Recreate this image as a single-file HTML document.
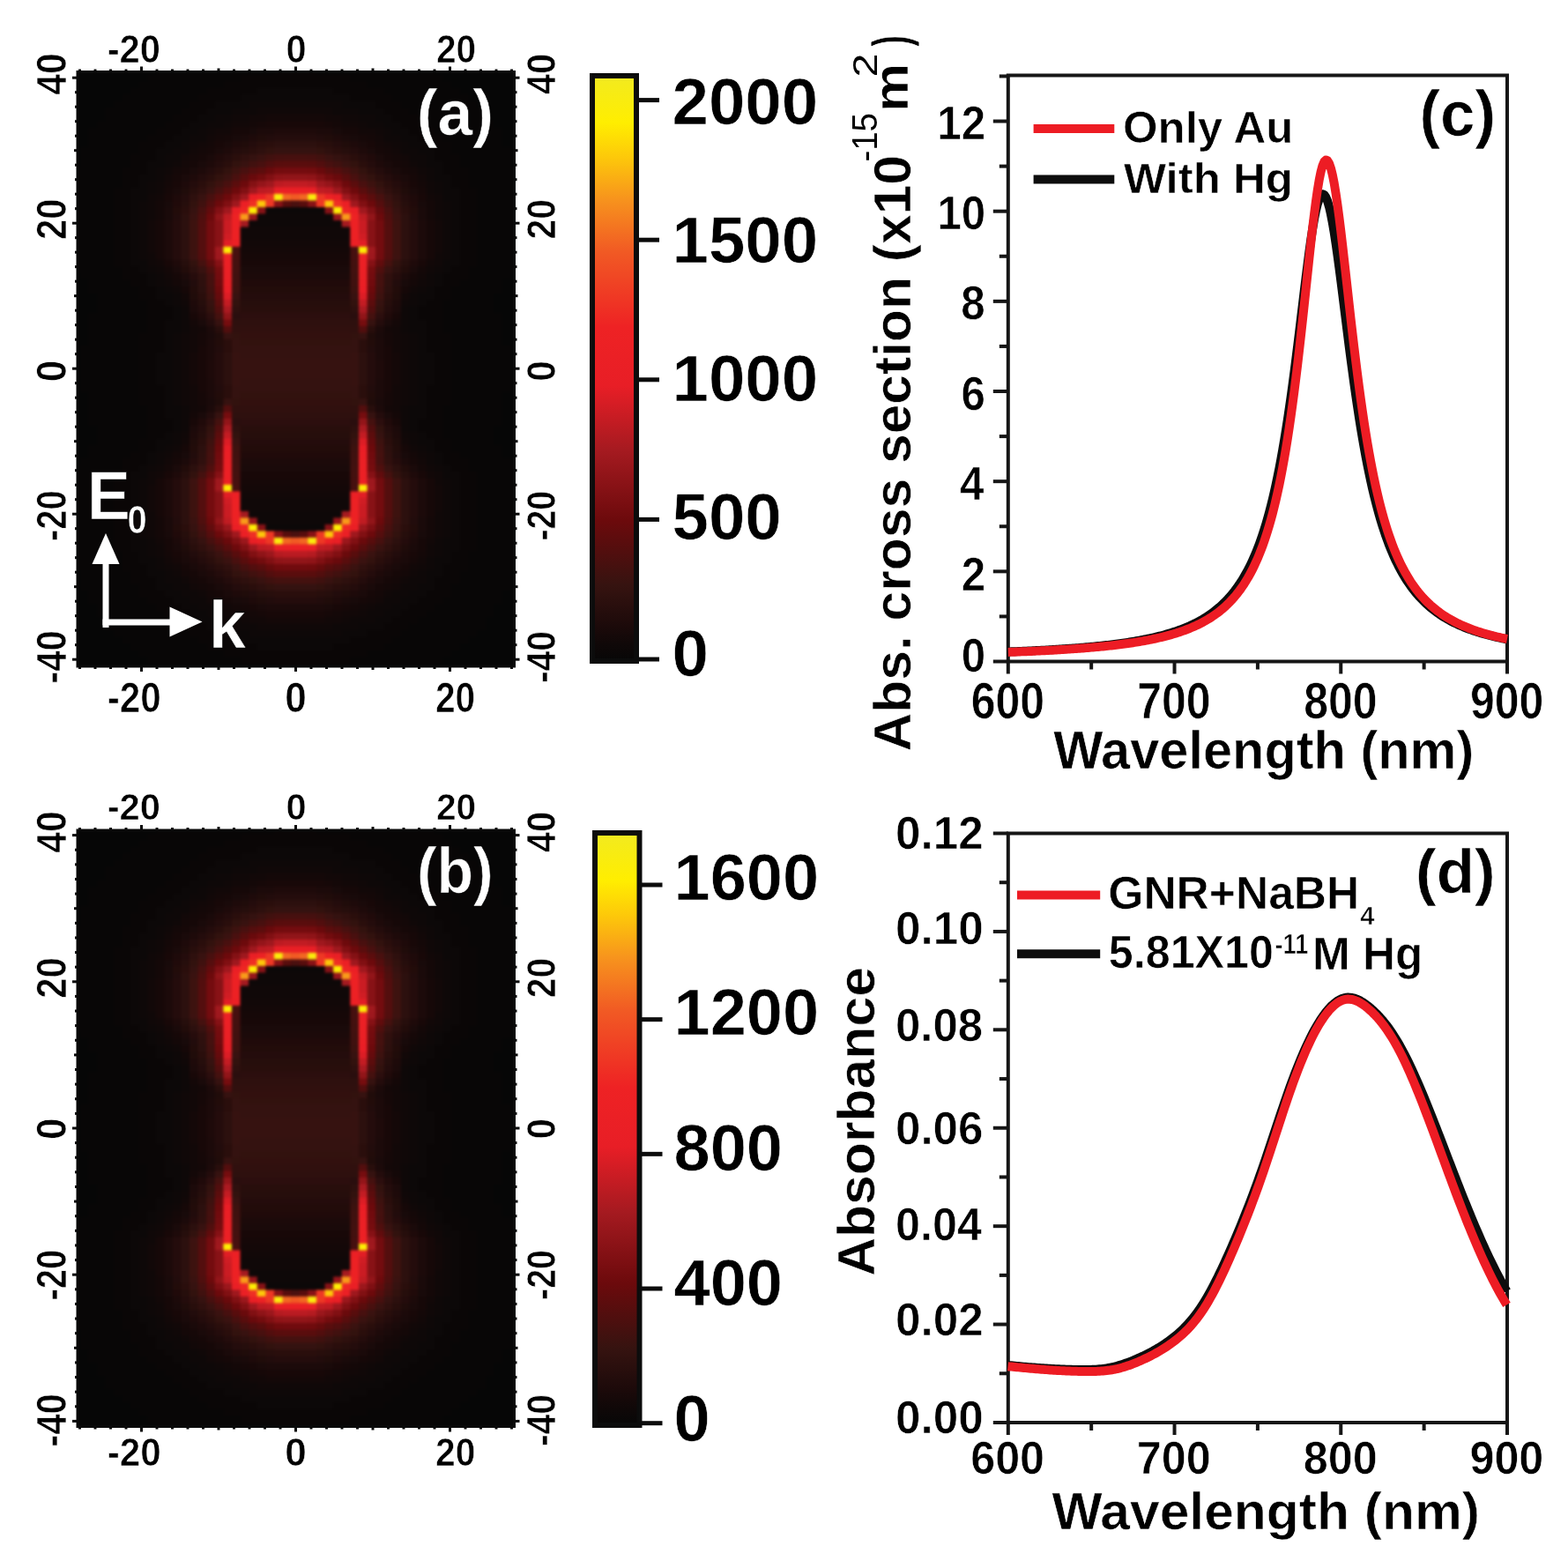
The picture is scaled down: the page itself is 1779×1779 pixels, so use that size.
<!DOCTYPE html><html><head><meta charset="utf-8"><title>Figure</title><style>html,body{margin:0;padding:0;background:#fff;width:1779px;height:1779px;overflow:hidden}svg{display:block}</style></head><body><svg width="1779" height="1779" viewBox="0 0 1779 1779" font-family="'Liberation Sans', sans-serif"><defs><filter id="hblur" x="-5%" y="-5%" width="110%" height="110%" color-interpolation-filters="sRGB"><feGaussianBlur stdDeviation="1.7"/></filter><clipPath id="clipA"><rect x="88" y="81.5" width="495.5" height="674.5"/></clipPath><clipPath id="clipB"><rect x="88" y="942" width="495.5" height="676.5"/></clipPath><linearGradient id="cb83" x1="0" y1="1" x2="0" y2="0"><stop offset="0" stop-color="#070707"/><stop offset="0.03" stop-color="#100808"/><stop offset="0.06" stop-color="#1c0a0a"/><stop offset="0.13" stop-color="#361310"/><stop offset="0.24" stop-color="#6c0a0c"/><stop offset="0.36" stop-color="#a51a20"/><stop offset="0.47" stop-color="#e81e26"/><stop offset="0.57" stop-color="#ee2224"/><stop offset="0.7" stop-color="#f15a24"/><stop offset="0.79" stop-color="#f7941d"/><stop offset="0.86" stop-color="#fdc80a"/><stop offset="0.92" stop-color="#ffee00"/><stop offset="1" stop-color="#f2ea20"/></linearGradient><linearGradient id="cb942" x1="0" y1="1" x2="0" y2="0"><stop offset="0" stop-color="#070707"/><stop offset="0.03" stop-color="#100808"/><stop offset="0.06" stop-color="#1c0a0a"/><stop offset="0.13" stop-color="#361310"/><stop offset="0.24" stop-color="#6c0a0c"/><stop offset="0.36" stop-color="#a51a20"/><stop offset="0.47" stop-color="#e81e26"/><stop offset="0.57" stop-color="#ee2224"/><stop offset="0.7" stop-color="#f15a24"/><stop offset="0.79" stop-color="#f7941d"/><stop offset="0.86" stop-color="#fdc80a"/><stop offset="0.92" stop-color="#ffee00"/><stop offset="1" stop-color="#f2ea20"/></linearGradient></defs><rect width="1779" height="1779" fill="#fff"/><g clip-path="url(#clipA)"><rect x="88" y="81.5" width="495.5" height="674.5" fill="#070707"/><g transform="translate(335.25 419)"><g filter="url(#hblur)" fill="none" stroke-width="8.10"><g transform="translate(0 -345.00)"><path d="M-264.3 0h115.8" stroke="#060606"/><path d="M-149.1 0h298.2" stroke="#080606"/><path d="M148.5 0h115.8" stroke="#060606"/></g><g transform="translate(0 -337.50)"><path d="M-264.3 0h106.2" stroke="#060606"/><path d="M-158.7 0h135.0" stroke="#080606"/><path d="M-24.3 0h48.6" stroke="#0a0606"/><path d="M23.7 0h135.0" stroke="#080606"/><path d="M158.1 0h106.2" stroke="#060606"/></g><g transform="translate(0 -330.00)"><path d="M-264.3 0h96.6" stroke="#060606"/><path d="M-168.3 0h106.2" stroke="#080606"/><path d="M-62.7 0h125.4" stroke="#0a0606"/><path d="M62.1 0h106.2" stroke="#080606"/><path d="M167.7 0h96.6" stroke="#060606"/></g><g transform="translate(0 -322.50)"><path d="M-264.3 0h87.0" stroke="#060606"/><path d="M-177.9 0h96.6" stroke="#080606"/><path d="M-81.9 0h163.8" stroke="#0a0606"/><path d="M81.3 0h96.6" stroke="#080606"/><path d="M177.3 0h87.0" stroke="#060606"/></g><g transform="translate(0 -315.00)"><path d="M-264.3 0h77.4" stroke="#060606"/><path d="M-187.5 0h87.0" stroke="#080606"/><path d="M-101.1 0h58.2" stroke="#0a0606"/><path d="M-43.5 0h87.0" stroke="#0c0808"/><path d="M42.9 0h58.2" stroke="#0a0606"/><path d="M100.5 0h87.0" stroke="#080606"/><path d="M186.9 0h77.4" stroke="#060606"/></g><g transform="translate(0 -307.50)"><path d="M-264.3 0h67.8" stroke="#060606"/><path d="M-197.1 0h87.0" stroke="#080606"/><path d="M-110.7 0h48.6" stroke="#0a0606"/><path d="M-62.7 0h125.4" stroke="#0c0808"/><path d="M62.1 0h48.6" stroke="#0a0606"/><path d="M110.1 0h87.0" stroke="#080606"/><path d="M196.5 0h67.8" stroke="#060606"/></g><g transform="translate(0 -300.00)"><path d="M-264.3 0h58.2" stroke="#060606"/><path d="M-206.7 0h87.0" stroke="#080606"/><path d="M-120.3 0h29.4" stroke="#0a0606"/><path d="M-91.5 0h39.0" stroke="#0c0808"/><path d="M-53.1 0h106.2" stroke="#0e0808"/><path d="M52.5 0h39.0" stroke="#0c0808"/><path d="M90.9 0h29.4" stroke="#0a0606"/><path d="M119.7 0h87.0" stroke="#080606"/><path d="M206.1 0h58.2" stroke="#060606"/></g><g transform="translate(0 -292.50)"><path d="M-264.3 0h48.6" stroke="#060606"/><path d="M-216.3 0h87.0" stroke="#080606"/><path d="M-129.9 0h29.4" stroke="#0a0606"/><path d="M-101.1 0h29.4" stroke="#0c0808"/><path d="M-72.3 0h29.4" stroke="#0e0808"/><path d="M-43.5 0h87.0" stroke="#100808"/><path d="M42.9 0h29.4" stroke="#0e0808"/><path d="M71.7 0h29.4" stroke="#0c0808"/><path d="M100.5 0h29.4" stroke="#0a0606"/><path d="M129.3 0h87.0" stroke="#080606"/><path d="M215.7 0h48.6" stroke="#060606"/></g><g transform="translate(0 -285.00)"><path d="M-264.3 0h48.6" stroke="#060606"/><path d="M-216.3 0h77.4" stroke="#080606"/><path d="M-139.5 0h29.4" stroke="#0a0606"/><path d="M-110.7 0h19.8" stroke="#0c0808"/><path d="M-91.5 0h19.8" stroke="#0e0808"/><path d="M-72.3 0h19.8" stroke="#100808"/><path d="M-53.1 0h19.8" stroke="#120808"/><path d="M-33.9 0h67.8" stroke="#140808"/><path d="M33.3 0h19.8" stroke="#120808"/><path d="M52.5 0h19.8" stroke="#100808"/><path d="M71.7 0h19.8" stroke="#0e0808"/><path d="M90.9 0h19.8" stroke="#0c0808"/><path d="M110.1 0h29.4" stroke="#0a0606"/><path d="M138.9 0h77.4" stroke="#080606"/><path d="M215.7 0h48.6" stroke="#060606"/></g><g transform="translate(0 -277.50)"><path d="M-264.3 0h39.0" stroke="#060606"/><path d="M-225.9 0h77.4" stroke="#080606"/><path d="M-149.1 0h29.4" stroke="#0a0606"/><path d="M-120.3 0h19.8" stroke="#0c0808"/><path d="M-101.1 0h19.8" stroke="#0e0808"/><path d="M-81.9 0h10.2" stroke="#100808"/><path d="M-72.3 0h19.8" stroke="#120808"/><path d="M-53.1 0h10.2" stroke="#140808"/><path d="M-43.5 0h10.2" stroke="#160808"/><path d="M-33.9 0h67.8" stroke="#180808"/><path d="M33.3 0h10.2" stroke="#160808"/><path d="M42.9 0h10.2" stroke="#140808"/><path d="M52.5 0h19.8" stroke="#120808"/><path d="M71.7 0h10.2" stroke="#100808"/><path d="M81.3 0h19.8" stroke="#0e0808"/><path d="M100.5 0h19.8" stroke="#0c0808"/><path d="M119.7 0h29.4" stroke="#0a0606"/><path d="M148.5 0h77.4" stroke="#080606"/><path d="M225.3 0h39.0" stroke="#060606"/></g><g transform="translate(0 -270.00)"><path d="M-264.3 0h29.4" stroke="#060606"/><path d="M-235.5 0h77.4" stroke="#080606"/><path d="M-158.7 0h29.4" stroke="#0a0606"/><path d="M-129.9 0h19.8" stroke="#0c0808"/><path d="M-110.7 0h10.2" stroke="#0e0808"/><path d="M-101.1 0h10.2" stroke="#100808"/><path d="M-91.5 0h19.8" stroke="#120808"/><path d="M-72.3 0h19.8" stroke="#160808"/><path d="M-53.1 0h10.2" stroke="#180a0a"/><path d="M-43.5 0h19.8" stroke="#1c0a0a"/><path d="M-24.3 0h48.6" stroke="#1e0a0a"/><path d="M23.7 0h19.8" stroke="#1c0a0a"/><path d="M42.9 0h10.2" stroke="#180a0a"/><path d="M52.5 0h19.8" stroke="#160808"/><path d="M71.7 0h19.8" stroke="#120808"/><path d="M90.9 0h10.2" stroke="#100808"/><path d="M100.5 0h10.2" stroke="#0e0808"/><path d="M110.1 0h19.8" stroke="#0c0808"/><path d="M129.3 0h29.4" stroke="#0a0606"/><path d="M158.1 0h77.4" stroke="#080606"/><path d="M234.9 0h29.4" stroke="#060606"/></g><g transform="translate(0 -262.50)"><path d="M-264.3 0h29.4" stroke="#060606"/><path d="M-235.5 0h67.8" stroke="#080606"/><path d="M-168.3 0h29.4" stroke="#0a0606"/><path d="M-139.5 0h19.8" stroke="#0c0808"/><path d="M-120.3 0h19.8" stroke="#0e0808"/><path d="M-101.1 0h10.2" stroke="#120808"/><path d="M-91.5 0h10.2" stroke="#140808"/><path d="M-81.9 0h10.2" stroke="#160808"/><path d="M-72.3 0h10.2" stroke="#180a0a"/><path d="M-62.7 0h10.2" stroke="#1a0a0a"/><path d="M-53.1 0h10.2" stroke="#1e0a0a"/><path d="M-43.5 0h10.2" stroke="#200c0a"/><path d="M-33.9 0h10.2" stroke="#220c0c"/><path d="M-24.3 0h48.6" stroke="#240c0c"/><path d="M23.7 0h10.2" stroke="#220c0c"/><path d="M33.3 0h10.2" stroke="#200c0a"/><path d="M42.9 0h10.2" stroke="#1e0a0a"/><path d="M52.5 0h10.2" stroke="#1a0a0a"/><path d="M62.1 0h10.2" stroke="#180a0a"/><path d="M71.7 0h10.2" stroke="#160808"/><path d="M81.3 0h10.2" stroke="#140808"/><path d="M90.9 0h10.2" stroke="#120808"/><path d="M100.5 0h19.8" stroke="#0e0808"/><path d="M119.7 0h19.8" stroke="#0c0808"/><path d="M138.9 0h29.4" stroke="#0a0606"/><path d="M167.7 0h67.8" stroke="#080606"/><path d="M234.9 0h29.4" stroke="#060606"/></g><g transform="translate(0 -255.00)"><path d="M-264.3 0h29.4" stroke="#060606"/><path d="M-235.5 0h58.2" stroke="#080606"/><path d="M-177.9 0h29.4" stroke="#0a0606"/><path d="M-149.1 0h19.8" stroke="#0c0808"/><path d="M-129.9 0h10.2" stroke="#0e0808"/><path d="M-120.3 0h10.2" stroke="#100808"/><path d="M-110.7 0h10.2" stroke="#120808"/><path d="M-101.1 0h10.2" stroke="#140808"/><path d="M-91.5 0h10.2" stroke="#180808"/><path d="M-81.9 0h10.2" stroke="#1a0a0a"/><path d="M-72.3 0h10.2" stroke="#1e0a0a"/><path d="M-62.7 0h10.2" stroke="#200c0a"/><path d="M-53.1 0h10.2" stroke="#240c0c"/><path d="M-43.5 0h10.2" stroke="#280e0c"/><path d="M-33.9 0h10.2" stroke="#2a0e0c"/><path d="M-24.3 0h48.6" stroke="#2c100e"/><path d="M23.7 0h10.2" stroke="#2a0e0c"/><path d="M33.3 0h10.2" stroke="#280e0c"/><path d="M42.9 0h10.2" stroke="#240c0c"/><path d="M52.5 0h10.2" stroke="#200c0a"/><path d="M62.1 0h10.2" stroke="#1e0a0a"/><path d="M71.7 0h10.2" stroke="#1a0a0a"/><path d="M81.3 0h10.2" stroke="#180808"/><path d="M90.9 0h10.2" stroke="#140808"/><path d="M100.5 0h10.2" stroke="#120808"/><path d="M110.1 0h10.2" stroke="#100808"/><path d="M119.7 0h10.2" stroke="#0e0808"/><path d="M129.3 0h19.8" stroke="#0c0808"/><path d="M148.5 0h29.4" stroke="#0a0606"/><path d="M177.3 0h58.2" stroke="#080606"/><path d="M234.9 0h29.4" stroke="#060606"/></g><g transform="translate(0 -247.50)"><path d="M-264.3 0h19.8" stroke="#060606"/><path d="M-245.1 0h67.8" stroke="#080606"/><path d="M-177.9 0h19.8" stroke="#0a0606"/><path d="M-158.7 0h19.8" stroke="#0c0808"/><path d="M-139.5 0h19.8" stroke="#0e0808"/><path d="M-120.3 0h10.2" stroke="#120808"/><path d="M-110.7 0h10.2" stroke="#140808"/><path d="M-101.1 0h10.2" stroke="#160808"/><path d="M-91.5 0h10.2" stroke="#1a0a0a"/><path d="M-81.9 0h10.2" stroke="#1e0a0a"/><path d="M-72.3 0h10.2" stroke="#240c0c"/><path d="M-62.7 0h10.2" stroke="#260e0c"/><path d="M-53.1 0h10.2" stroke="#2a0e0c"/><path d="M-43.5 0h10.2" stroke="#2e100e"/><path d="M-33.9 0h10.2" stroke="#32120e"/><path d="M-24.3 0h48.6" stroke="#341210"/><path d="M23.7 0h10.2" stroke="#32120e"/><path d="M33.3 0h10.2" stroke="#2e100e"/><path d="M42.9 0h10.2" stroke="#2a0e0c"/><path d="M52.5 0h10.2" stroke="#260e0c"/><path d="M62.1 0h10.2" stroke="#240c0c"/><path d="M71.7 0h10.2" stroke="#1e0a0a"/><path d="M81.3 0h10.2" stroke="#1a0a0a"/><path d="M90.9 0h10.2" stroke="#160808"/><path d="M100.5 0h10.2" stroke="#140808"/><path d="M110.1 0h10.2" stroke="#120808"/><path d="M119.7 0h19.8" stroke="#0e0808"/><path d="M138.9 0h19.8" stroke="#0c0808"/><path d="M158.1 0h19.8" stroke="#0a0606"/><path d="M177.3 0h67.8" stroke="#080606"/><path d="M244.5 0h19.8" stroke="#060606"/></g><g transform="translate(0 -240.00)"><path d="M-264.3 0h19.8" stroke="#060606"/><path d="M-245.1 0h58.2" stroke="#080606"/><path d="M-187.5 0h29.4" stroke="#0a0606"/><path d="M-158.7 0h10.2" stroke="#0c0808"/><path d="M-149.1 0h19.8" stroke="#0e0808"/><path d="M-129.9 0h10.2" stroke="#120808"/><path d="M-120.3 0h10.2" stroke="#140808"/><path d="M-110.7 0h10.2" stroke="#160808"/><path d="M-101.1 0h10.2" stroke="#1a0a0a"/><path d="M-91.5 0h10.2" stroke="#200a0a"/><path d="M-81.9 0h10.2" stroke="#240c0c"/><path d="M-72.3 0h10.2" stroke="#2a0e0c"/><path d="M-62.7 0h10.2" stroke="#30100e"/><path d="M-53.1 0h10.2" stroke="#341210"/><path d="M-43.5 0h10.2" stroke="#3a1210"/><path d="M-33.9 0h10.2" stroke="#41110f"/><path d="M-24.3 0h10.2" stroke="#46100f"/><path d="M-14.7 0h29.4" stroke="#47100f"/><path d="M14.1 0h10.2" stroke="#46100f"/><path d="M23.7 0h10.2" stroke="#41110f"/><path d="M33.3 0h10.2" stroke="#3a1210"/><path d="M42.9 0h10.2" stroke="#341210"/><path d="M52.5 0h10.2" stroke="#30100e"/><path d="M62.1 0h10.2" stroke="#2a0e0c"/><path d="M71.7 0h10.2" stroke="#240c0c"/><path d="M81.3 0h10.2" stroke="#200a0a"/><path d="M90.9 0h10.2" stroke="#1a0a0a"/><path d="M100.5 0h10.2" stroke="#160808"/><path d="M110.1 0h10.2" stroke="#140808"/><path d="M119.7 0h10.2" stroke="#120808"/><path d="M129.3 0h19.8" stroke="#0e0808"/><path d="M148.5 0h10.2" stroke="#0c0808"/><path d="M158.1 0h29.4" stroke="#0a0606"/><path d="M186.9 0h58.2" stroke="#080606"/><path d="M244.5 0h19.8" stroke="#060606"/></g><g transform="translate(0 -232.50)"><path d="M-264.3 0h19.8" stroke="#060606"/><path d="M-245.1 0h58.2" stroke="#080606"/><path d="M-187.5 0h19.8" stroke="#0a0606"/><path d="M-168.3 0h19.8" stroke="#0c0808"/><path d="M-149.1 0h10.2" stroke="#0e0808"/><path d="M-139.5 0h10.2" stroke="#100808"/><path d="M-129.9 0h10.2" stroke="#140808"/><path d="M-120.3 0h10.2" stroke="#160808"/><path d="M-110.7 0h10.2" stroke="#1a0a0a"/><path d="M-101.1 0h10.2" stroke="#1e0a0a"/><path d="M-91.5 0h10.2" stroke="#240c0c"/><path d="M-81.9 0h10.2" stroke="#2a0e0c"/><path d="M-72.3 0h10.2" stroke="#32120e"/><path d="M-62.7 0h10.2" stroke="#381210"/><path d="M-53.1 0h10.2" stroke="#41110f"/><path d="M-43.5 0h10.2" stroke="#48100f"/><path d="M-33.9 0h10.2" stroke="#520e0e"/><path d="M-24.3 0h10.2" stroke="#590d0d"/><path d="M-14.7 0h29.4" stroke="#5a0d0d"/><path d="M14.1 0h10.2" stroke="#590d0d"/><path d="M23.7 0h10.2" stroke="#520e0e"/><path d="M33.3 0h10.2" stroke="#48100f"/><path d="M42.9 0h10.2" stroke="#41110f"/><path d="M52.5 0h10.2" stroke="#381210"/><path d="M62.1 0h10.2" stroke="#32120e"/><path d="M71.7 0h10.2" stroke="#2a0e0c"/><path d="M81.3 0h10.2" stroke="#240c0c"/><path d="M90.9 0h10.2" stroke="#1e0a0a"/><path d="M100.5 0h10.2" stroke="#1a0a0a"/><path d="M110.1 0h10.2" stroke="#160808"/><path d="M119.7 0h10.2" stroke="#140808"/><path d="M129.3 0h10.2" stroke="#100808"/><path d="M138.9 0h10.2" stroke="#0e0808"/><path d="M148.5 0h19.8" stroke="#0c0808"/><path d="M167.7 0h19.8" stroke="#0a0606"/><path d="M186.9 0h58.2" stroke="#080606"/><path d="M244.5 0h19.8" stroke="#060606"/></g><g transform="translate(0 -225.00)"><path d="M-264.3 0h10.2" stroke="#060606"/><path d="M-254.7 0h58.2" stroke="#080606"/><path d="M-197.1 0h29.4" stroke="#0a0606"/><path d="M-168.3 0h10.2" stroke="#0c0808"/><path d="M-158.7 0h10.2" stroke="#0e0808"/><path d="M-149.1 0h10.2" stroke="#100808"/><path d="M-139.5 0h10.2" stroke="#140808"/><path d="M-129.9 0h10.2" stroke="#160808"/><path d="M-120.3 0h10.2" stroke="#1a0a0a"/><path d="M-110.7 0h10.2" stroke="#1e0a0a"/><path d="M-101.1 0h10.2" stroke="#240c0c"/><path d="M-91.5 0h10.2" stroke="#2a0e0c"/><path d="M-81.9 0h10.2" stroke="#32120e"/><path d="M-72.3 0h10.2" stroke="#3d120f"/><path d="M-62.7 0h10.2" stroke="#49100f"/><path d="M-53.1 0h10.2" stroke="#550e0e"/><path d="M-43.5 0h10.2" stroke="#5c0d0d"/><path d="M-33.9 0h10.2" stroke="#690a0c"/><path d="M-24.3 0h10.2" stroke="#730c0e"/><path d="M-14.7 0h29.4" stroke="#740c0f"/><path d="M14.1 0h10.2" stroke="#730c0e"/><path d="M23.7 0h10.2" stroke="#690a0c"/><path d="M33.3 0h10.2" stroke="#5c0d0d"/><path d="M42.9 0h10.2" stroke="#550e0e"/><path d="M52.5 0h10.2" stroke="#49100f"/><path d="M62.1 0h10.2" stroke="#3d120f"/><path d="M71.7 0h10.2" stroke="#32120e"/><path d="M81.3 0h10.2" stroke="#2a0e0c"/><path d="M90.9 0h10.2" stroke="#240c0c"/><path d="M100.5 0h10.2" stroke="#1e0a0a"/><path d="M110.1 0h10.2" stroke="#1a0a0a"/><path d="M119.7 0h10.2" stroke="#160808"/><path d="M129.3 0h10.2" stroke="#140808"/><path d="M138.9 0h10.2" stroke="#100808"/><path d="M148.5 0h10.2" stroke="#0e0808"/><path d="M158.1 0h10.2" stroke="#0c0808"/><path d="M167.7 0h29.4" stroke="#0a0606"/><path d="M196.5 0h58.2" stroke="#080606"/><path d="M254.1 0h10.2" stroke="#060606"/></g><g transform="translate(0 -217.50)"><path d="M-264.3 0h10.2" stroke="#060606"/><path d="M-254.7 0h58.2" stroke="#080606"/><path d="M-197.1 0h19.8" stroke="#0a0606"/><path d="M-177.9 0h19.8" stroke="#0c0808"/><path d="M-158.7 0h10.2" stroke="#0e0808"/><path d="M-149.1 0h10.2" stroke="#120808"/><path d="M-139.5 0h10.2" stroke="#160808"/><path d="M-129.9 0h10.2" stroke="#1a0a0a"/><path d="M-120.3 0h10.2" stroke="#1e0a0a"/><path d="M-110.7 0h10.2" stroke="#240c0c"/><path d="M-101.1 0h10.2" stroke="#2a0e0c"/><path d="M-91.5 0h10.2" stroke="#32120e"/><path d="M-81.9 0h10.2" stroke="#3a1210"/><path d="M-72.3 0h10.2" stroke="#49100f"/><path d="M-62.7 0h10.2" stroke="#590d0d"/><path d="M-53.1 0h10.2" stroke="#690a0c"/><path d="M-43.5 0h10.2" stroke="#730c0e"/><path d="M-33.9 0h10.2" stroke="#811013"/><path d="M-24.3 0h10.2" stroke="#8f1418"/><path d="M-14.7 0h29.4" stroke="#911519"/><path d="M14.1 0h10.2" stroke="#8f1418"/><path d="M23.7 0h10.2" stroke="#811013"/><path d="M33.3 0h10.2" stroke="#730c0e"/><path d="M42.9 0h10.2" stroke="#690a0c"/><path d="M52.5 0h10.2" stroke="#590d0d"/><path d="M62.1 0h10.2" stroke="#49100f"/><path d="M71.7 0h10.2" stroke="#3a1210"/><path d="M81.3 0h10.2" stroke="#32120e"/><path d="M90.9 0h10.2" stroke="#2a0e0c"/><path d="M100.5 0h10.2" stroke="#240c0c"/><path d="M110.1 0h10.2" stroke="#1e0a0a"/><path d="M119.7 0h10.2" stroke="#1a0a0a"/><path d="M129.3 0h10.2" stroke="#160808"/><path d="M138.9 0h10.2" stroke="#120808"/><path d="M148.5 0h10.2" stroke="#0e0808"/><path d="M158.1 0h19.8" stroke="#0c0808"/><path d="M177.3 0h19.8" stroke="#0a0606"/><path d="M196.5 0h58.2" stroke="#080606"/><path d="M254.1 0h10.2" stroke="#060606"/></g><g transform="translate(0 -210.00)"><path d="M-264.3 0h10.2" stroke="#060606"/><path d="M-254.7 0h58.2" stroke="#080606"/><path d="M-197.1 0h19.8" stroke="#0a0606"/><path d="M-177.9 0h10.2" stroke="#0c0808"/><path d="M-168.3 0h10.2" stroke="#0e0808"/><path d="M-158.7 0h10.2" stroke="#100808"/><path d="M-149.1 0h10.2" stroke="#140808"/><path d="M-139.5 0h10.2" stroke="#180808"/><path d="M-129.9 0h10.2" stroke="#1e0a0a"/><path d="M-120.3 0h10.2" stroke="#240c0c"/><path d="M-110.7 0h10.2" stroke="#2a0e0c"/><path d="M-101.1 0h10.2" stroke="#32120e"/><path d="M-91.5 0h10.2" stroke="#3d120f"/><path d="M-81.9 0h10.2" stroke="#49100f"/><path d="M-72.3 0h10.2" stroke="#5b0d0d"/><path d="M-62.7 0h10.2" stroke="#6d0a0c"/><path d="M-53.1 0h10.2" stroke="#841114"/><path d="M-43.5 0h10.2" stroke="#94151a"/><path d="M-33.9 0h10.2" stroke="#9f181e"/><path d="M-24.3 0h10.2" stroke="#bc1b22"/><path d="M-14.7 0h29.4" stroke="#c11c23"/><path d="M14.1 0h10.2" stroke="#bc1b22"/><path d="M23.7 0h10.2" stroke="#9f181e"/><path d="M33.3 0h10.2" stroke="#94151a"/><path d="M42.9 0h10.2" stroke="#841114"/><path d="M52.5 0h10.2" stroke="#6d0a0c"/><path d="M62.1 0h10.2" stroke="#5b0d0d"/><path d="M71.7 0h10.2" stroke="#49100f"/><path d="M81.3 0h10.2" stroke="#3d120f"/><path d="M90.9 0h10.2" stroke="#32120e"/><path d="M100.5 0h10.2" stroke="#2a0e0c"/><path d="M110.1 0h10.2" stroke="#240c0c"/><path d="M119.7 0h10.2" stroke="#1e0a0a"/><path d="M129.3 0h10.2" stroke="#180808"/><path d="M138.9 0h10.2" stroke="#140808"/><path d="M148.5 0h10.2" stroke="#100808"/><path d="M158.1 0h10.2" stroke="#0e0808"/><path d="M167.7 0h10.2" stroke="#0c0808"/><path d="M177.3 0h19.8" stroke="#0a0606"/><path d="M196.5 0h58.2" stroke="#080606"/><path d="M254.1 0h10.2" stroke="#060606"/></g><g transform="translate(0 -202.50)"><path d="M-264.3 0h10.2" stroke="#060606"/><path d="M-254.7 0h48.6" stroke="#080606"/><path d="M-206.7 0h19.8" stroke="#0a0606"/><path d="M-187.5 0h19.8" stroke="#0c0808"/><path d="M-168.3 0h10.2" stroke="#0e0808"/><path d="M-158.7 0h10.2" stroke="#100808"/><path d="M-149.1 0h10.2" stroke="#160808"/><path d="M-139.5 0h10.2" stroke="#1a0a0a"/><path d="M-129.9 0h10.2" stroke="#200c0a"/><path d="M-120.3 0h10.2" stroke="#280e0c"/><path d="M-110.7 0h10.2" stroke="#30100e"/><path d="M-101.1 0h10.2" stroke="#3a1210"/><path d="M-91.5 0h10.2" stroke="#49100f"/><path d="M-81.9 0h10.2" stroke="#590d0d"/><path d="M-72.3 0h10.2" stroke="#6d0a0c"/><path d="M-62.7 0h10.2" stroke="#811013"/><path d="M-53.1 0h10.2" stroke="#9f181e"/><path d="M-43.5 0h10.2" stroke="#bc1b22"/><path d="M-33.9 0h10.2" stroke="#c11c23"/><path d="M-24.3 0h10.2" stroke="#e91f26"/><path d="M-14.7 0h29.4" stroke="#ea1f25"/><path d="M14.1 0h10.2" stroke="#e91f26"/><path d="M23.7 0h10.2" stroke="#c11c23"/><path d="M33.3 0h10.2" stroke="#bc1b22"/><path d="M42.9 0h10.2" stroke="#9f181e"/><path d="M52.5 0h10.2" stroke="#811013"/><path d="M62.1 0h10.2" stroke="#6d0a0c"/><path d="M71.7 0h10.2" stroke="#590d0d"/><path d="M81.3 0h10.2" stroke="#49100f"/><path d="M90.9 0h10.2" stroke="#3a1210"/><path d="M100.5 0h10.2" stroke="#30100e"/><path d="M110.1 0h10.2" stroke="#280e0c"/><path d="M119.7 0h10.2" stroke="#200c0a"/><path d="M129.3 0h10.2" stroke="#1a0a0a"/><path d="M138.9 0h10.2" stroke="#160808"/><path d="M148.5 0h10.2" stroke="#100808"/><path d="M158.1 0h10.2" stroke="#0e0808"/><path d="M167.7 0h19.8" stroke="#0c0808"/><path d="M186.9 0h19.8" stroke="#0a0606"/><path d="M206.1 0h48.6" stroke="#080606"/><path d="M254.1 0h10.2" stroke="#060606"/></g><g transform="translate(0 -195.00)"><path d="M-264.3 0h58.2" stroke="#080606"/><path d="M-206.7 0h19.8" stroke="#0a0606"/><path d="M-187.5 0h19.8" stroke="#0c0808"/><path d="M-168.3 0h10.2" stroke="#100808"/><path d="M-158.7 0h10.2" stroke="#120808"/><path d="M-149.1 0h10.2" stroke="#180808"/><path d="M-139.5 0h10.2" stroke="#1e0a0a"/><path d="M-129.9 0h10.2" stroke="#240c0c"/><path d="M-120.3 0h10.2" stroke="#2e100e"/><path d="M-110.7 0h10.2" stroke="#381210"/><path d="M-101.1 0h10.2" stroke="#49100f"/><path d="M-91.5 0h10.2" stroke="#5b0d0d"/><path d="M-81.9 0h10.2" stroke="#6d0a0c"/><path d="M-72.3 0h10.2" stroke="#841114"/><path d="M-62.7 0h10.2" stroke="#9f181e"/><path d="M-53.1 0h10.2" stroke="#ea1f25"/><path d="M-43.5 0h10.2" stroke="#ed2224"/><path d="M-33.9 0h10.2" stroke="#ef3824"/><path d="M-24.3 0h10.2" stroke="#faec0c"/><path d="M-14.7 0h10.2" stroke="#f26722"/><path d="M-5.1 0h10.2" stroke="#f15a24"/><path d="M4.5 0h10.2" stroke="#f26722"/><path d="M14.1 0h10.2" stroke="#faec0c"/><path d="M23.7 0h10.2" stroke="#ef3824"/><path d="M33.3 0h10.2" stroke="#ed2224"/><path d="M42.9 0h10.2" stroke="#ea1f25"/><path d="M52.5 0h10.2" stroke="#9f181e"/><path d="M62.1 0h10.2" stroke="#841114"/><path d="M71.7 0h10.2" stroke="#6d0a0c"/><path d="M81.3 0h10.2" stroke="#5b0d0d"/><path d="M90.9 0h10.2" stroke="#49100f"/><path d="M100.5 0h10.2" stroke="#381210"/><path d="M110.1 0h10.2" stroke="#2e100e"/><path d="M119.7 0h10.2" stroke="#240c0c"/><path d="M129.3 0h10.2" stroke="#1e0a0a"/><path d="M138.9 0h10.2" stroke="#180808"/><path d="M148.5 0h10.2" stroke="#120808"/><path d="M158.1 0h10.2" stroke="#100808"/><path d="M167.7 0h19.8" stroke="#0c0808"/><path d="M186.9 0h19.8" stroke="#0a0606"/><path d="M206.1 0h58.2" stroke="#080606"/></g><g transform="translate(0 -187.50)"><path d="M-264.3 0h58.2" stroke="#080606"/><path d="M-206.7 0h19.8" stroke="#0a0606"/><path d="M-187.5 0h10.2" stroke="#0c0808"/><path d="M-177.9 0h10.2" stroke="#0e0808"/><path d="M-168.3 0h10.2" stroke="#100808"/><path d="M-158.7 0h10.2" stroke="#140808"/><path d="M-149.1 0h10.2" stroke="#180a0a"/><path d="M-139.5 0h10.2" stroke="#200a0a"/><path d="M-129.9 0h10.2" stroke="#260e0c"/><path d="M-120.3 0h10.2" stroke="#32120e"/><path d="M-110.7 0h10.2" stroke="#40110f"/><path d="M-101.1 0h10.2" stroke="#550e0e"/><path d="M-91.5 0h10.2" stroke="#6d0a0c"/><path d="M-81.9 0h10.2" stroke="#811013"/><path d="M-72.3 0h10.2" stroke="#9f181e"/><path d="M-62.7 0h10.2" stroke="#eb2025"/><path d="M-53.1 0h10.2" stroke="#ef2f24"/><path d="M-43.5 0h10.2" stroke="#fdc80a"/><path d="M-33.9 0h10.2" stroke="#ef3824"/><path d="M-24.3 0h10.2" stroke="#881216"/><path d="M-14.7 0h10.2" stroke="#580d0d"/><path d="M-5.1 0h10.2" stroke="#4a100f"/><path d="M4.5 0h10.2" stroke="#580d0d"/><path d="M14.1 0h10.2" stroke="#881216"/><path d="M23.7 0h10.2" stroke="#ef3824"/><path d="M33.3 0h10.2" stroke="#fdc80a"/><path d="M42.9 0h10.2" stroke="#ef2f24"/><path d="M52.5 0h10.2" stroke="#eb2025"/><path d="M62.1 0h10.2" stroke="#9f181e"/><path d="M71.7 0h10.2" stroke="#811013"/><path d="M81.3 0h10.2" stroke="#6d0a0c"/><path d="M90.9 0h10.2" stroke="#550e0e"/><path d="M100.5 0h10.2" stroke="#40110f"/><path d="M110.1 0h10.2" stroke="#32120e"/><path d="M119.7 0h10.2" stroke="#260e0c"/><path d="M129.3 0h10.2" stroke="#200a0a"/><path d="M138.9 0h10.2" stroke="#180a0a"/><path d="M148.5 0h10.2" stroke="#140808"/><path d="M158.1 0h10.2" stroke="#100808"/><path d="M167.7 0h10.2" stroke="#0e0808"/><path d="M177.3 0h10.2" stroke="#0c0808"/><path d="M186.9 0h19.8" stroke="#0a0606"/><path d="M206.1 0h58.2" stroke="#080606"/></g><g transform="translate(0 -180.00)"><path d="M-264.3 0h58.2" stroke="#080606"/><path d="M-206.7 0h19.8" stroke="#0a0606"/><path d="M-187.5 0h10.2" stroke="#0c0808"/><path d="M-177.9 0h10.2" stroke="#0e0808"/><path d="M-168.3 0h10.2" stroke="#100808"/><path d="M-158.7 0h10.2" stroke="#140808"/><path d="M-149.1 0h10.2" stroke="#1a0a0a"/><path d="M-139.5 0h10.2" stroke="#220c0a"/><path d="M-129.9 0h10.2" stroke="#2a0e0c"/><path d="M-120.3 0h10.2" stroke="#361210"/><path d="M-110.7 0h10.2" stroke="#49100f"/><path d="M-101.1 0h10.2" stroke="#630b0d"/><path d="M-91.5 0h10.2" stroke="#821014"/><path d="M-81.9 0h10.2" stroke="#9f181e"/><path d="M-72.3 0h10.2" stroke="#ea1f25"/><path d="M-62.7 0h10.2" stroke="#ee2624"/><path d="M-53.1 0h10.2" stroke="#fdee04"/><path d="M-43.5 0h10.2" stroke="#881216"/><path d="M-33.9 0h67.8" stroke="#0c0808"/><path d="M33.3 0h10.2" stroke="#881216"/><path d="M42.9 0h10.2" stroke="#fdee04"/><path d="M52.5 0h10.2" stroke="#ee2624"/><path d="M62.1 0h10.2" stroke="#ea1f25"/><path d="M71.7 0h10.2" stroke="#9f181e"/><path d="M81.3 0h10.2" stroke="#821014"/><path d="M90.9 0h10.2" stroke="#630b0d"/><path d="M100.5 0h10.2" stroke="#49100f"/><path d="M110.1 0h10.2" stroke="#361210"/><path d="M119.7 0h10.2" stroke="#2a0e0c"/><path d="M129.3 0h10.2" stroke="#220c0a"/><path d="M138.9 0h10.2" stroke="#1a0a0a"/><path d="M148.5 0h10.2" stroke="#140808"/><path d="M158.1 0h10.2" stroke="#100808"/><path d="M167.7 0h10.2" stroke="#0e0808"/><path d="M177.3 0h10.2" stroke="#0c0808"/><path d="M186.9 0h19.8" stroke="#0a0606"/><path d="M206.1 0h58.2" stroke="#080606"/></g><g transform="translate(0 -172.50)"><path d="M-264.3 0h58.2" stroke="#080606"/><path d="M-206.7 0h19.8" stroke="#0a0606"/><path d="M-187.5 0h10.2" stroke="#0c0808"/><path d="M-177.9 0h10.2" stroke="#0e0808"/><path d="M-168.3 0h10.2" stroke="#100808"/><path d="M-158.7 0h10.2" stroke="#140808"/><path d="M-149.1 0h10.2" stroke="#1a0a0a"/><path d="M-139.5 0h10.2" stroke="#220c0c"/><path d="M-129.9 0h10.2" stroke="#2c100e"/><path d="M-120.3 0h10.2" stroke="#3a1210"/><path d="M-110.7 0h10.2" stroke="#4f0f0e"/><path d="M-101.1 0h10.2" stroke="#6d0a0c"/><path d="M-91.5 0h10.2" stroke="#921519"/><path d="M-81.9 0h10.2" stroke="#c01c22"/><path d="M-72.3 0h10.2" stroke="#ed2224"/><path d="M-62.7 0h10.2" stroke="#f89b1a"/><path d="M-53.1 0h10.2" stroke="#97161b"/><path d="M-43.5 0h87.0" stroke="#0e0808"/><path d="M42.9 0h10.2" stroke="#97161b"/><path d="M52.5 0h10.2" stroke="#f89b1a"/><path d="M62.1 0h10.2" stroke="#ed2224"/><path d="M71.7 0h10.2" stroke="#c01c22"/><path d="M81.3 0h10.2" stroke="#921519"/><path d="M90.9 0h10.2" stroke="#6d0a0c"/><path d="M100.5 0h10.2" stroke="#4f0f0e"/><path d="M110.1 0h10.2" stroke="#3a1210"/><path d="M119.7 0h10.2" stroke="#2c100e"/><path d="M129.3 0h10.2" stroke="#220c0c"/><path d="M138.9 0h10.2" stroke="#1a0a0a"/><path d="M148.5 0h10.2" stroke="#140808"/><path d="M158.1 0h10.2" stroke="#100808"/><path d="M167.7 0h10.2" stroke="#0e0808"/><path d="M177.3 0h10.2" stroke="#0c0808"/><path d="M186.9 0h19.8" stroke="#0a0606"/><path d="M206.1 0h58.2" stroke="#080606"/></g><g transform="translate(0 -165.00)"><path d="M-264.3 0h58.2" stroke="#080606"/><path d="M-206.7 0h19.8" stroke="#0a0606"/><path d="M-187.5 0h10.2" stroke="#0c0808"/><path d="M-177.9 0h10.2" stroke="#0e0808"/><path d="M-168.3 0h10.2" stroke="#120808"/><path d="M-158.7 0h10.2" stroke="#160808"/><path d="M-149.1 0h10.2" stroke="#1c0a0a"/><path d="M-139.5 0h10.2" stroke="#240c0c"/><path d="M-129.9 0h10.2" stroke="#2c100e"/><path d="M-120.3 0h10.2" stroke="#3d120f"/><path d="M-110.7 0h10.2" stroke="#530e0e"/><path d="M-101.1 0h10.2" stroke="#740c0f"/><path d="M-91.5 0h10.2" stroke="#881216"/><path d="M-81.9 0h10.2" stroke="#ca1c23"/><path d="M-72.3 0h10.2" stroke="#ed2124"/><path d="M-62.7 0h10.2" stroke="#a51a20"/><path d="M-53.1 0h106.2" stroke="#0e0808"/><path d="M52.5 0h10.2" stroke="#a51a20"/><path d="M62.1 0h10.2" stroke="#ed2124"/><path d="M71.7 0h10.2" stroke="#ca1c23"/><path d="M81.3 0h10.2" stroke="#881216"/><path d="M90.9 0h10.2" stroke="#740c0f"/><path d="M100.5 0h10.2" stroke="#530e0e"/><path d="M110.1 0h10.2" stroke="#3d120f"/><path d="M119.7 0h10.2" stroke="#2c100e"/><path d="M129.3 0h10.2" stroke="#240c0c"/><path d="M138.9 0h10.2" stroke="#1c0a0a"/><path d="M148.5 0h10.2" stroke="#160808"/><path d="M158.1 0h10.2" stroke="#120808"/><path d="M167.7 0h10.2" stroke="#0e0808"/><path d="M177.3 0h10.2" stroke="#0c0808"/><path d="M186.9 0h19.8" stroke="#0a0606"/><path d="M206.1 0h58.2" stroke="#080606"/></g><g transform="translate(0 -157.50)"><path d="M-264.3 0h58.2" stroke="#080606"/><path d="M-206.7 0h19.8" stroke="#0a0606"/><path d="M-187.5 0h10.2" stroke="#0c0808"/><path d="M-177.9 0h10.2" stroke="#0e0808"/><path d="M-168.3 0h10.2" stroke="#120808"/><path d="M-158.7 0h10.2" stroke="#160808"/><path d="M-149.1 0h10.2" stroke="#1c0a0a"/><path d="M-139.5 0h10.2" stroke="#240c0c"/><path d="M-129.9 0h10.2" stroke="#2c100e"/><path d="M-120.3 0h10.2" stroke="#3d120f"/><path d="M-110.7 0h10.2" stroke="#540e0e"/><path d="M-101.1 0h10.2" stroke="#740c0f"/><path d="M-91.5 0h10.2" stroke="#881216"/><path d="M-81.9 0h10.2" stroke="#ca1c23"/><path d="M-72.3 0h10.2" stroke="#ed2124"/><path d="M-62.7 0h125.4" stroke="#100808"/><path d="M62.1 0h10.2" stroke="#ed2124"/><path d="M71.7 0h10.2" stroke="#ca1c23"/><path d="M81.3 0h10.2" stroke="#881216"/><path d="M90.9 0h10.2" stroke="#740c0f"/><path d="M100.5 0h10.2" stroke="#540e0e"/><path d="M110.1 0h10.2" stroke="#3d120f"/><path d="M119.7 0h10.2" stroke="#2c100e"/><path d="M129.3 0h10.2" stroke="#240c0c"/><path d="M138.9 0h10.2" stroke="#1c0a0a"/><path d="M148.5 0h10.2" stroke="#160808"/><path d="M158.1 0h10.2" stroke="#120808"/><path d="M167.7 0h10.2" stroke="#0e0808"/><path d="M177.3 0h10.2" stroke="#0c0808"/><path d="M186.9 0h19.8" stroke="#0a0606"/><path d="M206.1 0h58.2" stroke="#080606"/></g><g transform="translate(0 -150.00)"><path d="M-264.3 0h58.2" stroke="#080606"/><path d="M-206.7 0h19.8" stroke="#0a0606"/><path d="M-187.5 0h10.2" stroke="#0c0808"/><path d="M-177.9 0h10.2" stroke="#0e0808"/><path d="M-168.3 0h10.2" stroke="#120808"/><path d="M-158.7 0h10.2" stroke="#160808"/><path d="M-149.1 0h10.2" stroke="#1c0a0a"/><path d="M-139.5 0h10.2" stroke="#240c0c"/><path d="M-129.9 0h10.2" stroke="#2c100e"/><path d="M-120.3 0h10.2" stroke="#3d120f"/><path d="M-110.7 0h10.2" stroke="#540e0e"/><path d="M-101.1 0h10.2" stroke="#740c0f"/><path d="M-91.5 0h10.2" stroke="#881216"/><path d="M-81.9 0h10.2" stroke="#d01d24"/><path d="M-72.3 0h10.2" stroke="#ed2124"/><path d="M-62.7 0h125.4" stroke="#100808"/><path d="M62.1 0h10.2" stroke="#ed2124"/><path d="M71.7 0h10.2" stroke="#d01d24"/><path d="M81.3 0h10.2" stroke="#881216"/><path d="M90.9 0h10.2" stroke="#740c0f"/><path d="M100.5 0h10.2" stroke="#540e0e"/><path d="M110.1 0h10.2" stroke="#3d120f"/><path d="M119.7 0h10.2" stroke="#2c100e"/><path d="M129.3 0h10.2" stroke="#240c0c"/><path d="M138.9 0h10.2" stroke="#1c0a0a"/><path d="M148.5 0h10.2" stroke="#160808"/><path d="M158.1 0h10.2" stroke="#120808"/><path d="M167.7 0h10.2" stroke="#0e0808"/><path d="M177.3 0h10.2" stroke="#0c0808"/><path d="M186.9 0h19.8" stroke="#0a0606"/><path d="M206.1 0h58.2" stroke="#080606"/></g><g transform="translate(0 -142.50)"><path d="M-264.3 0h58.2" stroke="#080606"/><path d="M-206.7 0h19.8" stroke="#0a0606"/><path d="M-187.5 0h10.2" stroke="#0c0808"/><path d="M-177.9 0h10.2" stroke="#0e0808"/><path d="M-168.3 0h10.2" stroke="#120808"/><path d="M-158.7 0h10.2" stroke="#160808"/><path d="M-149.1 0h10.2" stroke="#1c0a0a"/><path d="M-139.5 0h10.2" stroke="#240c0c"/><path d="M-129.9 0h10.2" stroke="#2c100e"/><path d="M-120.3 0h10.2" stroke="#3d120f"/><path d="M-110.7 0h10.2" stroke="#540e0e"/><path d="M-101.1 0h10.2" stroke="#740c0f"/><path d="M-91.5 0h10.2" stroke="#881216"/><path d="M-81.9 0h10.2" stroke="#e21e25"/><path d="M-72.3 0h10.2" stroke="#ec2025"/><path d="M-62.7 0h125.4" stroke="#120808"/><path d="M62.1 0h10.2" stroke="#ec2025"/><path d="M71.7 0h10.2" stroke="#e21e25"/><path d="M81.3 0h10.2" stroke="#881216"/><path d="M90.9 0h10.2" stroke="#740c0f"/><path d="M100.5 0h10.2" stroke="#540e0e"/><path d="M110.1 0h10.2" stroke="#3d120f"/><path d="M119.7 0h10.2" stroke="#2c100e"/><path d="M129.3 0h10.2" stroke="#240c0c"/><path d="M138.9 0h10.2" stroke="#1c0a0a"/><path d="M148.5 0h10.2" stroke="#160808"/><path d="M158.1 0h10.2" stroke="#120808"/><path d="M167.7 0h10.2" stroke="#0e0808"/><path d="M177.3 0h10.2" stroke="#0c0808"/><path d="M186.9 0h19.8" stroke="#0a0606"/><path d="M206.1 0h58.2" stroke="#080606"/></g><g transform="translate(0 -135.00)"><path d="M-264.3 0h58.2" stroke="#080606"/><path d="M-206.7 0h19.8" stroke="#0a0606"/><path d="M-187.5 0h10.2" stroke="#0c0808"/><path d="M-177.9 0h10.2" stroke="#0e0808"/><path d="M-168.3 0h10.2" stroke="#120808"/><path d="M-158.7 0h10.2" stroke="#160808"/><path d="M-149.1 0h10.2" stroke="#1c0a0a"/><path d="M-139.5 0h10.2" stroke="#240c0c"/><path d="M-129.9 0h10.2" stroke="#2c100e"/><path d="M-120.3 0h10.2" stroke="#3d120f"/><path d="M-110.7 0h10.2" stroke="#540e0e"/><path d="M-101.1 0h10.2" stroke="#740c0f"/><path d="M-91.5 0h10.2" stroke="#a0191e"/><path d="M-81.9 0h10.2" stroke="#fdee04"/><path d="M-72.3 0h10.2" stroke="#47100f"/><path d="M-62.7 0h125.4" stroke="#140808"/><path d="M62.1 0h10.2" stroke="#47100f"/><path d="M71.7 0h10.2" stroke="#fdee04"/><path d="M81.3 0h10.2" stroke="#a0191e"/><path d="M90.9 0h10.2" stroke="#740c0f"/><path d="M100.5 0h10.2" stroke="#540e0e"/><path d="M110.1 0h10.2" stroke="#3d120f"/><path d="M119.7 0h10.2" stroke="#2c100e"/><path d="M129.3 0h10.2" stroke="#240c0c"/><path d="M138.9 0h10.2" stroke="#1c0a0a"/><path d="M148.5 0h10.2" stroke="#160808"/><path d="M158.1 0h10.2" stroke="#120808"/><path d="M167.7 0h10.2" stroke="#0e0808"/><path d="M177.3 0h10.2" stroke="#0c0808"/><path d="M186.9 0h19.8" stroke="#0a0606"/><path d="M206.1 0h58.2" stroke="#080606"/></g><g transform="translate(0 -127.50)"><path d="M-264.3 0h58.2" stroke="#080606"/><path d="M-206.7 0h19.8" stroke="#0a0606"/><path d="M-187.5 0h10.2" stroke="#0c0808"/><path d="M-177.9 0h10.2" stroke="#0e0808"/><path d="M-168.3 0h10.2" stroke="#100808"/><path d="M-158.7 0h10.2" stroke="#160808"/><path d="M-149.1 0h10.2" stroke="#1c0a0a"/><path d="M-139.5 0h10.2" stroke="#240c0c"/><path d="M-129.9 0h10.2" stroke="#2c100e"/><path d="M-120.3 0h10.2" stroke="#3d1210"/><path d="M-110.7 0h10.2" stroke="#530e0e"/><path d="M-101.1 0h10.2" stroke="#730c0f"/><path d="M-91.5 0h10.2" stroke="#9e181e"/><path d="M-81.9 0h10.2" stroke="#ec2125"/><path d="M-72.3 0h10.2" stroke="#46100f"/><path d="M-62.7 0h125.4" stroke="#160808"/><path d="M62.1 0h10.2" stroke="#46100f"/><path d="M71.7 0h10.2" stroke="#ec2125"/><path d="M81.3 0h10.2" stroke="#9e181e"/><path d="M90.9 0h10.2" stroke="#730c0f"/><path d="M100.5 0h10.2" stroke="#530e0e"/><path d="M110.1 0h10.2" stroke="#3d1210"/><path d="M119.7 0h10.2" stroke="#2c100e"/><path d="M129.3 0h10.2" stroke="#240c0c"/><path d="M138.9 0h10.2" stroke="#1c0a0a"/><path d="M148.5 0h10.2" stroke="#160808"/><path d="M158.1 0h10.2" stroke="#100808"/><path d="M167.7 0h10.2" stroke="#0e0808"/><path d="M177.3 0h10.2" stroke="#0c0808"/><path d="M186.9 0h19.8" stroke="#0a0606"/><path d="M206.1 0h58.2" stroke="#080606"/></g><g transform="translate(0 -120.00)"><path d="M-264.3 0h10.2" stroke="#060606"/><path d="M-254.7 0h48.6" stroke="#080606"/><path d="M-206.7 0h19.8" stroke="#0a0606"/><path d="M-187.5 0h19.8" stroke="#0c0808"/><path d="M-168.3 0h10.2" stroke="#100808"/><path d="M-158.7 0h10.2" stroke="#120808"/><path d="M-149.1 0h10.2" stroke="#180808"/><path d="M-139.5 0h10.2" stroke="#1e0a0a"/><path d="M-129.9 0h10.2" stroke="#260e0c"/><path d="M-120.3 0h10.2" stroke="#32120e"/><path d="M-110.7 0h10.2" stroke="#45110f"/><path d="M-101.1 0h10.2" stroke="#610c0d"/><path d="M-91.5 0h10.2" stroke="#861115"/><path d="M-81.9 0h10.2" stroke="#ec2025"/><path d="M-72.3 0h10.2" stroke="#44110f"/><path d="M-62.7 0h125.4" stroke="#180808"/><path d="M62.1 0h10.2" stroke="#44110f"/><path d="M71.7 0h10.2" stroke="#ec2025"/><path d="M81.3 0h10.2" stroke="#861115"/><path d="M90.9 0h10.2" stroke="#610c0d"/><path d="M100.5 0h10.2" stroke="#45110f"/><path d="M110.1 0h10.2" stroke="#32120e"/><path d="M119.7 0h10.2" stroke="#260e0c"/><path d="M129.3 0h10.2" stroke="#1e0a0a"/><path d="M138.9 0h10.2" stroke="#180808"/><path d="M148.5 0h10.2" stroke="#120808"/><path d="M158.1 0h10.2" stroke="#100808"/><path d="M167.7 0h19.8" stroke="#0c0808"/><path d="M186.9 0h19.8" stroke="#0a0606"/><path d="M206.1 0h48.6" stroke="#080606"/><path d="M254.1 0h10.2" stroke="#060606"/></g><g transform="translate(0 -112.50)"><path d="M-264.3 0h10.2" stroke="#060606"/><path d="M-254.7 0h58.2" stroke="#080606"/><path d="M-197.1 0h19.8" stroke="#0a0606"/><path d="M-177.9 0h10.2" stroke="#0c0808"/><path d="M-168.3 0h10.2" stroke="#0e0808"/><path d="M-158.7 0h10.2" stroke="#100808"/><path d="M-149.1 0h10.2" stroke="#140808"/><path d="M-139.5 0h10.2" stroke="#1a0a0a"/><path d="M-129.9 0h10.2" stroke="#220c0a"/><path d="M-120.3 0h10.2" stroke="#2c100e"/><path d="M-110.7 0h10.2" stroke="#381210"/><path d="M-101.1 0h10.2" stroke="#500f0e"/><path d="M-91.5 0h10.2" stroke="#760d0f"/><path d="M-81.9 0h10.2" stroke="#eb2025"/><path d="M-72.3 0h10.2" stroke="#43110f"/><path d="M-62.7 0h125.4" stroke="#1a0a0a"/><path d="M62.1 0h10.2" stroke="#43110f"/><path d="M71.7 0h10.2" stroke="#eb2025"/><path d="M81.3 0h10.2" stroke="#760d0f"/><path d="M90.9 0h10.2" stroke="#500f0e"/><path d="M100.5 0h10.2" stroke="#381210"/><path d="M110.1 0h10.2" stroke="#2c100e"/><path d="M119.7 0h10.2" stroke="#220c0a"/><path d="M129.3 0h10.2" stroke="#1a0a0a"/><path d="M138.9 0h10.2" stroke="#140808"/><path d="M148.5 0h10.2" stroke="#100808"/><path d="M158.1 0h10.2" stroke="#0e0808"/><path d="M167.7 0h10.2" stroke="#0c0808"/><path d="M177.3 0h19.8" stroke="#0a0606"/><path d="M196.5 0h58.2" stroke="#080606"/><path d="M254.1 0h10.2" stroke="#060606"/></g><g transform="translate(0 -105.00)"><path d="M-264.3 0h19.8" stroke="#060606"/><path d="M-245.1 0h48.6" stroke="#080606"/><path d="M-197.1 0h29.4" stroke="#0a0606"/><path d="M-168.3 0h10.2" stroke="#0c0808"/><path d="M-158.7 0h10.2" stroke="#0e0808"/><path d="M-149.1 0h10.2" stroke="#120808"/><path d="M-139.5 0h10.2" stroke="#160808"/><path d="M-129.9 0h10.2" stroke="#1c0a0a"/><path d="M-120.3 0h10.2" stroke="#260c0c"/><path d="M-110.7 0h10.2" stroke="#30100e"/><path d="M-101.1 0h10.2" stroke="#46100f"/><path d="M-91.5 0h10.2" stroke="#730c0f"/><path d="M-81.9 0h10.2" stroke="#ea2025"/><path d="M-72.3 0h10.2" stroke="#41110f"/><path d="M-62.7 0h125.4" stroke="#1c0a0a"/><path d="M62.1 0h10.2" stroke="#41110f"/><path d="M71.7 0h10.2" stroke="#ea2025"/><path d="M81.3 0h10.2" stroke="#730c0f"/><path d="M90.9 0h10.2" stroke="#46100f"/><path d="M100.5 0h10.2" stroke="#30100e"/><path d="M110.1 0h10.2" stroke="#260c0c"/><path d="M119.7 0h10.2" stroke="#1c0a0a"/><path d="M129.3 0h10.2" stroke="#160808"/><path d="M138.9 0h10.2" stroke="#120808"/><path d="M148.5 0h10.2" stroke="#0e0808"/><path d="M158.1 0h10.2" stroke="#0c0808"/><path d="M167.7 0h29.4" stroke="#0a0606"/><path d="M196.5 0h48.6" stroke="#080606"/><path d="M244.5 0h19.8" stroke="#060606"/></g><g transform="translate(0 -97.50)"><path d="M-264.3 0h29.4" stroke="#060606"/><path d="M-235.5 0h48.6" stroke="#080606"/><path d="M-187.5 0h19.8" stroke="#0a0606"/><path d="M-168.3 0h10.2" stroke="#0c0808"/><path d="M-158.7 0h10.2" stroke="#0e0808"/><path d="M-149.1 0h10.2" stroke="#100808"/><path d="M-139.5 0h10.2" stroke="#140808"/><path d="M-129.9 0h10.2" stroke="#180a0a"/><path d="M-120.3 0h10.2" stroke="#220c0c"/><path d="M-110.7 0h10.2" stroke="#2e100e"/><path d="M-101.1 0h10.2" stroke="#45110f"/><path d="M-91.5 0h10.2" stroke="#710b0e"/><path d="M-81.9 0h10.2" stroke="#ea1f25"/><path d="M-72.3 0h10.2" stroke="#40110f"/><path d="M-62.7 0h125.4" stroke="#200a0a"/><path d="M62.1 0h10.2" stroke="#40110f"/><path d="M71.7 0h10.2" stroke="#ea1f25"/><path d="M81.3 0h10.2" stroke="#710b0e"/><path d="M90.9 0h10.2" stroke="#45110f"/><path d="M100.5 0h10.2" stroke="#2e100e"/><path d="M110.1 0h10.2" stroke="#220c0c"/><path d="M119.7 0h10.2" stroke="#180a0a"/><path d="M129.3 0h10.2" stroke="#140808"/><path d="M138.9 0h10.2" stroke="#100808"/><path d="M148.5 0h10.2" stroke="#0e0808"/><path d="M158.1 0h10.2" stroke="#0c0808"/><path d="M167.7 0h19.8" stroke="#0a0606"/><path d="M186.9 0h48.6" stroke="#080606"/><path d="M234.9 0h29.4" stroke="#060606"/></g><g transform="translate(0 -90.00)"><path d="M-264.3 0h29.4" stroke="#060606"/><path d="M-235.5 0h58.2" stroke="#080606"/><path d="M-177.9 0h19.8" stroke="#0a0606"/><path d="M-158.7 0h10.2" stroke="#0c0808"/><path d="M-149.1 0h10.2" stroke="#0e0808"/><path d="M-139.5 0h10.2" stroke="#100808"/><path d="M-129.9 0h10.2" stroke="#160808"/><path d="M-120.3 0h10.2" stroke="#220c0a"/><path d="M-110.7 0h10.2" stroke="#2c100e"/><path d="M-101.1 0h10.2" stroke="#42110f"/><path d="M-91.5 0h10.2" stroke="#6c0a0c"/><path d="M-81.9 0h10.2" stroke="#e91e26"/><path d="M-72.3 0h10.2" stroke="#3d120f"/><path d="M-62.7 0h125.4" stroke="#220c0a"/><path d="M62.1 0h10.2" stroke="#3d120f"/><path d="M71.7 0h10.2" stroke="#e91e26"/><path d="M81.3 0h10.2" stroke="#6c0a0c"/><path d="M90.9 0h10.2" stroke="#42110f"/><path d="M100.5 0h10.2" stroke="#2c100e"/><path d="M110.1 0h10.2" stroke="#220c0a"/><path d="M119.7 0h10.2" stroke="#160808"/><path d="M129.3 0h10.2" stroke="#100808"/><path d="M138.9 0h10.2" stroke="#0e0808"/><path d="M148.5 0h10.2" stroke="#0c0808"/><path d="M158.1 0h19.8" stroke="#0a0606"/><path d="M177.3 0h58.2" stroke="#080606"/><path d="M234.9 0h29.4" stroke="#060606"/></g><g transform="translate(0 -82.50)"><path d="M-264.3 0h39.0" stroke="#060606"/><path d="M-225.9 0h48.6" stroke="#080606"/><path d="M-177.9 0h19.8" stroke="#0a0606"/><path d="M-158.7 0h19.8" stroke="#0c0808"/><path d="M-139.5 0h10.2" stroke="#0e0808"/><path d="M-129.9 0h10.2" stroke="#120808"/><path d="M-120.3 0h10.2" stroke="#200c0a"/><path d="M-110.7 0h10.2" stroke="#2a0e0c"/><path d="M-101.1 0h10.2" stroke="#3d120f"/><path d="M-91.5 0h10.2" stroke="#650b0d"/><path d="M-81.9 0h10.2" stroke="#dc1d25"/><path d="M-72.3 0h10.2" stroke="#381210"/><path d="M-62.7 0h125.4" stroke="#240c0c"/><path d="M62.1 0h10.2" stroke="#381210"/><path d="M71.7 0h10.2" stroke="#dc1d25"/><path d="M81.3 0h10.2" stroke="#650b0d"/><path d="M90.9 0h10.2" stroke="#3d120f"/><path d="M100.5 0h10.2" stroke="#2a0e0c"/><path d="M110.1 0h10.2" stroke="#200c0a"/><path d="M119.7 0h10.2" stroke="#120808"/><path d="M129.3 0h10.2" stroke="#0e0808"/><path d="M138.9 0h19.8" stroke="#0c0808"/><path d="M158.1 0h19.8" stroke="#0a0606"/><path d="M177.3 0h48.6" stroke="#080606"/><path d="M225.3 0h39.0" stroke="#060606"/></g><g transform="translate(0 -75.00)"><path d="M-264.3 0h39.0" stroke="#060606"/><path d="M-225.9 0h58.2" stroke="#080606"/><path d="M-168.3 0h19.8" stroke="#0a0606"/><path d="M-149.1 0h10.2" stroke="#0c0808"/><path d="M-139.5 0h10.2" stroke="#0e0808"/><path d="M-129.9 0h10.2" stroke="#100808"/><path d="M-120.3 0h10.2" stroke="#1e0a0a"/><path d="M-110.7 0h10.2" stroke="#260e0c"/><path d="M-101.1 0h10.2" stroke="#361210"/><path d="M-91.5 0h10.2" stroke="#5b0d0d"/><path d="M-81.9 0h10.2" stroke="#c31c23"/><path d="M-72.3 0h10.2" stroke="#32120e"/><path d="M-62.7 0h125.4" stroke="#260e0c"/><path d="M62.1 0h10.2" stroke="#32120e"/><path d="M71.7 0h10.2" stroke="#c31c23"/><path d="M81.3 0h10.2" stroke="#5b0d0d"/><path d="M90.9 0h10.2" stroke="#361210"/><path d="M100.5 0h10.2" stroke="#260e0c"/><path d="M110.1 0h10.2" stroke="#1e0a0a"/><path d="M119.7 0h10.2" stroke="#100808"/><path d="M129.3 0h10.2" stroke="#0e0808"/><path d="M138.9 0h10.2" stroke="#0c0808"/><path d="M148.5 0h19.8" stroke="#0a0606"/><path d="M167.7 0h58.2" stroke="#080606"/><path d="M225.3 0h39.0" stroke="#060606"/></g><g transform="translate(0 -67.50)"><path d="M-264.3 0h39.0" stroke="#060606"/><path d="M-225.9 0h58.2" stroke="#080606"/><path d="M-168.3 0h29.4" stroke="#0a0606"/><path d="M-139.5 0h10.2" stroke="#0c0808"/><path d="M-129.9 0h10.2" stroke="#0e0808"/><path d="M-120.3 0h10.2" stroke="#1c0a0a"/><path d="M-110.7 0h10.2" stroke="#240c0c"/><path d="M-101.1 0h10.2" stroke="#32120e"/><path d="M-91.5 0h10.2" stroke="#510e0e"/><path d="M-81.9 0h10.2" stroke="#ab1a21"/><path d="M-72.3 0h10.2" stroke="#2e100e"/><path d="M-62.7 0h125.4" stroke="#280e0c"/><path d="M62.1 0h10.2" stroke="#2e100e"/><path d="M71.7 0h10.2" stroke="#ab1a21"/><path d="M81.3 0h10.2" stroke="#510e0e"/><path d="M90.9 0h10.2" stroke="#32120e"/><path d="M100.5 0h10.2" stroke="#240c0c"/><path d="M110.1 0h10.2" stroke="#1c0a0a"/><path d="M119.7 0h10.2" stroke="#0e0808"/><path d="M129.3 0h10.2" stroke="#0c0808"/><path d="M138.9 0h29.4" stroke="#0a0606"/><path d="M167.7 0h58.2" stroke="#080606"/><path d="M225.3 0h39.0" stroke="#060606"/></g><g transform="translate(0 -60.00)"><path d="M-264.3 0h29.4" stroke="#060606"/><path d="M-235.5 0h67.8" stroke="#080606"/><path d="M-168.3 0h29.4" stroke="#0a0606"/><path d="M-139.5 0h10.2" stroke="#0c0808"/><path d="M-129.9 0h10.2" stroke="#0e0808"/><path d="M-120.3 0h10.2" stroke="#180808"/><path d="M-110.7 0h10.2" stroke="#200a0a"/><path d="M-101.1 0h10.2" stroke="#2c0e0e"/><path d="M-91.5 0h10.2" stroke="#45110f"/><path d="M-81.9 0h10.2" stroke="#921519"/><path d="M-72.3 0h10.2" stroke="#2a0e0e"/><path d="M-62.7 0h125.4" stroke="#2c0e0e"/><path d="M62.1 0h10.2" stroke="#2a0e0e"/><path d="M71.7 0h10.2" stroke="#921519"/><path d="M81.3 0h10.2" stroke="#45110f"/><path d="M90.9 0h10.2" stroke="#2c0e0e"/><path d="M100.5 0h10.2" stroke="#200a0a"/><path d="M110.1 0h10.2" stroke="#180808"/><path d="M119.7 0h10.2" stroke="#0e0808"/><path d="M129.3 0h10.2" stroke="#0c0808"/><path d="M138.9 0h29.4" stroke="#0a0606"/><path d="M167.7 0h67.8" stroke="#080606"/><path d="M234.9 0h29.4" stroke="#060606"/></g><g transform="translate(0 -52.50)"><path d="M-264.3 0h29.4" stroke="#060606"/><path d="M-235.5 0h67.8" stroke="#080606"/><path d="M-168.3 0h19.8" stroke="#0a0606"/><path d="M-149.1 0h19.8" stroke="#0c0808"/><path d="M-129.9 0h10.2" stroke="#0e0808"/><path d="M-120.3 0h10.2" stroke="#140808"/><path d="M-110.7 0h10.2" stroke="#1a0a0a"/><path d="M-101.1 0h10.2" stroke="#240c0c"/><path d="M-91.5 0h10.2" stroke="#361210"/><path d="M-81.9 0h10.2" stroke="#760d0f"/><path d="M-72.3 0h144.6" stroke="#2e100e"/><path d="M71.7 0h10.2" stroke="#760d0f"/><path d="M81.3 0h10.2" stroke="#361210"/><path d="M90.9 0h10.2" stroke="#240c0c"/><path d="M100.5 0h10.2" stroke="#1a0a0a"/><path d="M110.1 0h10.2" stroke="#140808"/><path d="M119.7 0h10.2" stroke="#0e0808"/><path d="M129.3 0h19.8" stroke="#0c0808"/><path d="M148.5 0h19.8" stroke="#0a0606"/><path d="M167.7 0h67.8" stroke="#080606"/><path d="M234.9 0h29.4" stroke="#060606"/></g><g transform="translate(0 -45.00)"><path d="M-264.3 0h29.4" stroke="#060606"/><path d="M-235.5 0h67.8" stroke="#080606"/><path d="M-168.3 0h19.8" stroke="#0a0606"/><path d="M-149.1 0h19.8" stroke="#0c0808"/><path d="M-129.9 0h10.2" stroke="#0e0808"/><path d="M-120.3 0h10.2" stroke="#120808"/><path d="M-110.7 0h10.2" stroke="#140808"/><path d="M-101.1 0h10.2" stroke="#1c0a0a"/><path d="M-91.5 0h10.2" stroke="#280e0c"/><path d="M-81.9 0h10.2" stroke="#530e0e"/><path d="M-72.3 0h144.6" stroke="#30100e"/><path d="M71.7 0h10.2" stroke="#530e0e"/><path d="M81.3 0h10.2" stroke="#280e0c"/><path d="M90.9 0h10.2" stroke="#1c0a0a"/><path d="M100.5 0h10.2" stroke="#140808"/><path d="M110.1 0h10.2" stroke="#120808"/><path d="M119.7 0h10.2" stroke="#0e0808"/><path d="M129.3 0h19.8" stroke="#0c0808"/><path d="M148.5 0h19.8" stroke="#0a0606"/><path d="M167.7 0h67.8" stroke="#080606"/><path d="M234.9 0h29.4" stroke="#060606"/></g><g transform="translate(0 -37.50)"><path d="M-264.3 0h29.4" stroke="#060606"/><path d="M-235.5 0h58.2" stroke="#080606"/><path d="M-177.9 0h29.4" stroke="#0a0606"/><path d="M-149.1 0h10.2" stroke="#0c0808"/><path d="M-139.5 0h10.2" stroke="#0e0808"/><path d="M-129.9 0h10.2" stroke="#100808"/><path d="M-120.3 0h10.2" stroke="#120808"/><path d="M-110.7 0h10.2" stroke="#160808"/><path d="M-101.1 0h10.2" stroke="#1a0a0a"/><path d="M-91.5 0h10.2" stroke="#200c0a"/><path d="M-81.9 0h10.2" stroke="#361210"/><path d="M-72.3 0h10.2" stroke="#32120e"/><path d="M-62.7 0h125.4" stroke="#32100e"/><path d="M62.1 0h10.2" stroke="#32120e"/><path d="M71.7 0h10.2" stroke="#361210"/><path d="M81.3 0h10.2" stroke="#200c0a"/><path d="M90.9 0h10.2" stroke="#1a0a0a"/><path d="M100.5 0h10.2" stroke="#160808"/><path d="M110.1 0h10.2" stroke="#120808"/><path d="M119.7 0h10.2" stroke="#100808"/><path d="M129.3 0h10.2" stroke="#0e0808"/><path d="M138.9 0h10.2" stroke="#0c0808"/><path d="M148.5 0h29.4" stroke="#0a0606"/><path d="M177.3 0h58.2" stroke="#080606"/><path d="M234.9 0h29.4" stroke="#060606"/></g><g transform="translate(0 -30.00)"><path d="M-264.3 0h29.4" stroke="#060606"/><path d="M-235.5 0h58.2" stroke="#080606"/><path d="M-177.9 0h29.4" stroke="#0a0606"/><path d="M-149.1 0h10.2" stroke="#0c0808"/><path d="M-139.5 0h10.2" stroke="#0e0808"/><path d="M-129.9 0h10.2" stroke="#100808"/><path d="M-120.3 0h10.2" stroke="#120808"/><path d="M-110.7 0h10.2" stroke="#160808"/><path d="M-101.1 0h10.2" stroke="#1c0a0a"/><path d="M-91.5 0h10.2" stroke="#220c0a"/><path d="M-81.9 0h10.2" stroke="#2a0e0c"/><path d="M-72.3 0h10.2" stroke="#341210"/><path d="M-62.7 0h125.4" stroke="#32120e"/><path d="M62.1 0h10.2" stroke="#341210"/><path d="M71.7 0h10.2" stroke="#2a0e0c"/><path d="M81.3 0h10.2" stroke="#220c0a"/><path d="M90.9 0h10.2" stroke="#1c0a0a"/><path d="M100.5 0h10.2" stroke="#160808"/><path d="M110.1 0h10.2" stroke="#120808"/><path d="M119.7 0h10.2" stroke="#100808"/><path d="M129.3 0h10.2" stroke="#0e0808"/><path d="M138.9 0h10.2" stroke="#0c0808"/><path d="M148.5 0h29.4" stroke="#0a0606"/><path d="M177.3 0h58.2" stroke="#080606"/><path d="M234.9 0h29.4" stroke="#060606"/></g><g transform="translate(0 -22.50)"><path d="M-264.3 0h19.8" stroke="#060606"/><path d="M-245.1 0h67.8" stroke="#080606"/><path d="M-177.9 0h29.4" stroke="#0a0606"/><path d="M-149.1 0h10.2" stroke="#0c0808"/><path d="M-139.5 0h10.2" stroke="#0e0808"/><path d="M-129.9 0h10.2" stroke="#100808"/><path d="M-120.3 0h10.2" stroke="#120808"/><path d="M-110.7 0h10.2" stroke="#180808"/><path d="M-101.1 0h10.2" stroke="#1c0a0a"/><path d="M-91.5 0h10.2" stroke="#220c0c"/><path d="M-81.9 0h10.2" stroke="#2a0e0c"/><path d="M-72.3 0h144.6" stroke="#341210"/><path d="M71.7 0h10.2" stroke="#2a0e0c"/><path d="M81.3 0h10.2" stroke="#220c0c"/><path d="M90.9 0h10.2" stroke="#1c0a0a"/><path d="M100.5 0h10.2" stroke="#180808"/><path d="M110.1 0h10.2" stroke="#120808"/><path d="M119.7 0h10.2" stroke="#100808"/><path d="M129.3 0h10.2" stroke="#0e0808"/><path d="M138.9 0h10.2" stroke="#0c0808"/><path d="M148.5 0h29.4" stroke="#0a0606"/><path d="M177.3 0h67.8" stroke="#080606"/><path d="M244.5 0h19.8" stroke="#060606"/></g><g transform="translate(0 -15.00)"><path d="M-264.3 0h19.8" stroke="#060606"/><path d="M-245.1 0h67.8" stroke="#080606"/><path d="M-177.9 0h19.8" stroke="#0a0606"/><path d="M-158.7 0h19.8" stroke="#0c0808"/><path d="M-139.5 0h10.2" stroke="#0e0808"/><path d="M-129.9 0h10.2" stroke="#100808"/><path d="M-120.3 0h10.2" stroke="#140808"/><path d="M-110.7 0h10.2" stroke="#180808"/><path d="M-101.1 0h10.2" stroke="#1c0a0a"/><path d="M-91.5 0h10.2" stroke="#240c0c"/><path d="M-81.9 0h10.2" stroke="#2c100e"/><path d="M-72.3 0h10.2" stroke="#361210"/><path d="M-62.7 0h125.4" stroke="#341210"/><path d="M62.1 0h10.2" stroke="#361210"/><path d="M71.7 0h10.2" stroke="#2c100e"/><path d="M81.3 0h10.2" stroke="#240c0c"/><path d="M90.9 0h10.2" stroke="#1c0a0a"/><path d="M100.5 0h10.2" stroke="#180808"/><path d="M110.1 0h10.2" stroke="#140808"/><path d="M119.7 0h10.2" stroke="#100808"/><path d="M129.3 0h10.2" stroke="#0e0808"/><path d="M138.9 0h19.8" stroke="#0c0808"/><path d="M158.1 0h19.8" stroke="#0a0606"/><path d="M177.3 0h67.8" stroke="#080606"/><path d="M244.5 0h19.8" stroke="#060606"/></g><g transform="translate(0 -7.50)"><path d="M-264.3 0h19.8" stroke="#060606"/><path d="M-245.1 0h67.8" stroke="#080606"/><path d="M-177.9 0h19.8" stroke="#0a0606"/><path d="M-158.7 0h19.8" stroke="#0c0808"/><path d="M-139.5 0h10.2" stroke="#0e0808"/><path d="M-129.9 0h10.2" stroke="#100808"/><path d="M-120.3 0h10.2" stroke="#140808"/><path d="M-110.7 0h10.2" stroke="#180808"/><path d="M-101.1 0h10.2" stroke="#1e0a0a"/><path d="M-91.5 0h10.2" stroke="#240c0c"/><path d="M-81.9 0h10.2" stroke="#2c100e"/><path d="M-72.3 0h144.6" stroke="#361210"/><path d="M71.7 0h10.2" stroke="#2c100e"/><path d="M81.3 0h10.2" stroke="#240c0c"/><path d="M90.9 0h10.2" stroke="#1e0a0a"/><path d="M100.5 0h10.2" stroke="#180808"/><path d="M110.1 0h10.2" stroke="#140808"/><path d="M119.7 0h10.2" stroke="#100808"/><path d="M129.3 0h10.2" stroke="#0e0808"/><path d="M138.9 0h19.8" stroke="#0c0808"/><path d="M158.1 0h19.8" stroke="#0a0606"/><path d="M177.3 0h67.8" stroke="#080606"/><path d="M244.5 0h19.8" stroke="#060606"/></g><g transform="translate(0 0.00)"><path d="M-264.3 0h19.8" stroke="#060606"/><path d="M-245.1 0h67.8" stroke="#080606"/><path d="M-177.9 0h19.8" stroke="#0a0606"/><path d="M-158.7 0h19.8" stroke="#0c0808"/><path d="M-139.5 0h10.2" stroke="#0e0808"/><path d="M-129.9 0h10.2" stroke="#100808"/><path d="M-120.3 0h10.2" stroke="#140808"/><path d="M-110.7 0h10.2" stroke="#180808"/><path d="M-101.1 0h10.2" stroke="#1e0a0a"/><path d="M-91.5 0h10.2" stroke="#240c0c"/><path d="M-81.9 0h10.2" stroke="#2c100e"/><path d="M-72.3 0h144.6" stroke="#361210"/><path d="M71.7 0h10.2" stroke="#2c100e"/><path d="M81.3 0h10.2" stroke="#240c0c"/><path d="M90.9 0h10.2" stroke="#1e0a0a"/><path d="M100.5 0h10.2" stroke="#180808"/><path d="M110.1 0h10.2" stroke="#140808"/><path d="M119.7 0h10.2" stroke="#100808"/><path d="M129.3 0h10.2" stroke="#0e0808"/><path d="M138.9 0h19.8" stroke="#0c0808"/><path d="M158.1 0h19.8" stroke="#0a0606"/><path d="M177.3 0h67.8" stroke="#080606"/><path d="M244.5 0h19.8" stroke="#060606"/></g><g transform="translate(0 7.50)"><path d="M-264.3 0h19.8" stroke="#060606"/><path d="M-245.1 0h67.8" stroke="#080606"/><path d="M-177.9 0h19.8" stroke="#0a0606"/><path d="M-158.7 0h19.8" stroke="#0c0808"/><path d="M-139.5 0h10.2" stroke="#0e0808"/><path d="M-129.9 0h10.2" stroke="#100808"/><path d="M-120.3 0h10.2" stroke="#140808"/><path d="M-110.7 0h10.2" stroke="#180808"/><path d="M-101.1 0h10.2" stroke="#1e0a0a"/><path d="M-91.5 0h10.2" stroke="#240c0c"/><path d="M-81.9 0h10.2" stroke="#2c100e"/><path d="M-72.3 0h144.6" stroke="#361210"/><path d="M71.7 0h10.2" stroke="#2c100e"/><path d="M81.3 0h10.2" stroke="#240c0c"/><path d="M90.9 0h10.2" stroke="#1e0a0a"/><path d="M100.5 0h10.2" stroke="#180808"/><path d="M110.1 0h10.2" stroke="#140808"/><path d="M119.7 0h10.2" stroke="#100808"/><path d="M129.3 0h10.2" stroke="#0e0808"/><path d="M138.9 0h19.8" stroke="#0c0808"/><path d="M158.1 0h19.8" stroke="#0a0606"/><path d="M177.3 0h67.8" stroke="#080606"/><path d="M244.5 0h19.8" stroke="#060606"/></g><g transform="translate(0 15.00)"><path d="M-264.3 0h19.8" stroke="#060606"/><path d="M-245.1 0h67.8" stroke="#080606"/><path d="M-177.9 0h19.8" stroke="#0a0606"/><path d="M-158.7 0h19.8" stroke="#0c0808"/><path d="M-139.5 0h10.2" stroke="#0e0808"/><path d="M-129.9 0h10.2" stroke="#100808"/><path d="M-120.3 0h10.2" stroke="#140808"/><path d="M-110.7 0h10.2" stroke="#180808"/><path d="M-101.1 0h10.2" stroke="#1c0a0a"/><path d="M-91.5 0h10.2" stroke="#240c0c"/><path d="M-81.9 0h10.2" stroke="#2c100e"/><path d="M-72.3 0h10.2" stroke="#361210"/><path d="M-62.7 0h125.4" stroke="#341210"/><path d="M62.1 0h10.2" stroke="#361210"/><path d="M71.7 0h10.2" stroke="#2c100e"/><path d="M81.3 0h10.2" stroke="#240c0c"/><path d="M90.9 0h10.2" stroke="#1c0a0a"/><path d="M100.5 0h10.2" stroke="#180808"/><path d="M110.1 0h10.2" stroke="#140808"/><path d="M119.7 0h10.2" stroke="#100808"/><path d="M129.3 0h10.2" stroke="#0e0808"/><path d="M138.9 0h19.8" stroke="#0c0808"/><path d="M158.1 0h19.8" stroke="#0a0606"/><path d="M177.3 0h67.8" stroke="#080606"/><path d="M244.5 0h19.8" stroke="#060606"/></g><g transform="translate(0 22.50)"><path d="M-264.3 0h19.8" stroke="#060606"/><path d="M-245.1 0h67.8" stroke="#080606"/><path d="M-177.9 0h29.4" stroke="#0a0606"/><path d="M-149.1 0h10.2" stroke="#0c0808"/><path d="M-139.5 0h10.2" stroke="#0e0808"/><path d="M-129.9 0h10.2" stroke="#100808"/><path d="M-120.3 0h10.2" stroke="#120808"/><path d="M-110.7 0h10.2" stroke="#180808"/><path d="M-101.1 0h10.2" stroke="#1c0a0a"/><path d="M-91.5 0h10.2" stroke="#220c0c"/><path d="M-81.9 0h10.2" stroke="#2a0e0c"/><path d="M-72.3 0h144.6" stroke="#341210"/><path d="M71.7 0h10.2" stroke="#2a0e0c"/><path d="M81.3 0h10.2" stroke="#220c0c"/><path d="M90.9 0h10.2" stroke="#1c0a0a"/><path d="M100.5 0h10.2" stroke="#180808"/><path d="M110.1 0h10.2" stroke="#120808"/><path d="M119.7 0h10.2" stroke="#100808"/><path d="M129.3 0h10.2" stroke="#0e0808"/><path d="M138.9 0h10.2" stroke="#0c0808"/><path d="M148.5 0h29.4" stroke="#0a0606"/><path d="M177.3 0h67.8" stroke="#080606"/><path d="M244.5 0h19.8" stroke="#060606"/></g><g transform="translate(0 30.00)"><path d="M-264.3 0h29.4" stroke="#060606"/><path d="M-235.5 0h58.2" stroke="#080606"/><path d="M-177.9 0h29.4" stroke="#0a0606"/><path d="M-149.1 0h10.2" stroke="#0c0808"/><path d="M-139.5 0h10.2" stroke="#0e0808"/><path d="M-129.9 0h10.2" stroke="#100808"/><path d="M-120.3 0h10.2" stroke="#120808"/><path d="M-110.7 0h10.2" stroke="#160808"/><path d="M-101.1 0h10.2" stroke="#1c0a0a"/><path d="M-91.5 0h10.2" stroke="#220c0a"/><path d="M-81.9 0h10.2" stroke="#2a0e0c"/><path d="M-72.3 0h10.2" stroke="#341210"/><path d="M-62.7 0h125.4" stroke="#32120e"/><path d="M62.1 0h10.2" stroke="#341210"/><path d="M71.7 0h10.2" stroke="#2a0e0c"/><path d="M81.3 0h10.2" stroke="#220c0a"/><path d="M90.9 0h10.2" stroke="#1c0a0a"/><path d="M100.5 0h10.2" stroke="#160808"/><path d="M110.1 0h10.2" stroke="#120808"/><path d="M119.7 0h10.2" stroke="#100808"/><path d="M129.3 0h10.2" stroke="#0e0808"/><path d="M138.9 0h10.2" stroke="#0c0808"/><path d="M148.5 0h29.4" stroke="#0a0606"/><path d="M177.3 0h58.2" stroke="#080606"/><path d="M234.9 0h29.4" stroke="#060606"/></g><g transform="translate(0 37.50)"><path d="M-264.3 0h29.4" stroke="#060606"/><path d="M-235.5 0h58.2" stroke="#080606"/><path d="M-177.9 0h29.4" stroke="#0a0606"/><path d="M-149.1 0h10.2" stroke="#0c0808"/><path d="M-139.5 0h10.2" stroke="#0e0808"/><path d="M-129.9 0h10.2" stroke="#100808"/><path d="M-120.3 0h10.2" stroke="#120808"/><path d="M-110.7 0h10.2" stroke="#160808"/><path d="M-101.1 0h10.2" stroke="#1a0a0a"/><path d="M-91.5 0h10.2" stroke="#200c0a"/><path d="M-81.9 0h10.2" stroke="#361210"/><path d="M-72.3 0h10.2" stroke="#32120e"/><path d="M-62.7 0h125.4" stroke="#32100e"/><path d="M62.1 0h10.2" stroke="#32120e"/><path d="M71.7 0h10.2" stroke="#361210"/><path d="M81.3 0h10.2" stroke="#200c0a"/><path d="M90.9 0h10.2" stroke="#1a0a0a"/><path d="M100.5 0h10.2" stroke="#160808"/><path d="M110.1 0h10.2" stroke="#120808"/><path d="M119.7 0h10.2" stroke="#100808"/><path d="M129.3 0h10.2" stroke="#0e0808"/><path d="M138.9 0h10.2" stroke="#0c0808"/><path d="M148.5 0h29.4" stroke="#0a0606"/><path d="M177.3 0h58.2" stroke="#080606"/><path d="M234.9 0h29.4" stroke="#060606"/></g><g transform="translate(0 45.00)"><path d="M-264.3 0h29.4" stroke="#060606"/><path d="M-235.5 0h67.8" stroke="#080606"/><path d="M-168.3 0h19.8" stroke="#0a0606"/><path d="M-149.1 0h19.8" stroke="#0c0808"/><path d="M-129.9 0h10.2" stroke="#0e0808"/><path d="M-120.3 0h10.2" stroke="#120808"/><path d="M-110.7 0h10.2" stroke="#140808"/><path d="M-101.1 0h10.2" stroke="#1c0a0a"/><path d="M-91.5 0h10.2" stroke="#280e0c"/><path d="M-81.9 0h10.2" stroke="#530e0e"/><path d="M-72.3 0h144.6" stroke="#30100e"/><path d="M71.7 0h10.2" stroke="#530e0e"/><path d="M81.3 0h10.2" stroke="#280e0c"/><path d="M90.9 0h10.2" stroke="#1c0a0a"/><path d="M100.5 0h10.2" stroke="#140808"/><path d="M110.1 0h10.2" stroke="#120808"/><path d="M119.7 0h10.2" stroke="#0e0808"/><path d="M129.3 0h19.8" stroke="#0c0808"/><path d="M148.5 0h19.8" stroke="#0a0606"/><path d="M167.7 0h67.8" stroke="#080606"/><path d="M234.9 0h29.4" stroke="#060606"/></g><g transform="translate(0 52.50)"><path d="M-264.3 0h29.4" stroke="#060606"/><path d="M-235.5 0h67.8" stroke="#080606"/><path d="M-168.3 0h19.8" stroke="#0a0606"/><path d="M-149.1 0h19.8" stroke="#0c0808"/><path d="M-129.9 0h10.2" stroke="#0e0808"/><path d="M-120.3 0h10.2" stroke="#140808"/><path d="M-110.7 0h10.2" stroke="#1a0a0a"/><path d="M-101.1 0h10.2" stroke="#240c0c"/><path d="M-91.5 0h10.2" stroke="#361210"/><path d="M-81.9 0h10.2" stroke="#760d0f"/><path d="M-72.3 0h144.6" stroke="#2e100e"/><path d="M71.7 0h10.2" stroke="#760d0f"/><path d="M81.3 0h10.2" stroke="#361210"/><path d="M90.9 0h10.2" stroke="#240c0c"/><path d="M100.5 0h10.2" stroke="#1a0a0a"/><path d="M110.1 0h10.2" stroke="#140808"/><path d="M119.7 0h10.2" stroke="#0e0808"/><path d="M129.3 0h19.8" stroke="#0c0808"/><path d="M148.5 0h19.8" stroke="#0a0606"/><path d="M167.7 0h67.8" stroke="#080606"/><path d="M234.9 0h29.4" stroke="#060606"/></g><g transform="translate(0 60.00)"><path d="M-264.3 0h29.4" stroke="#060606"/><path d="M-235.5 0h67.8" stroke="#080606"/><path d="M-168.3 0h29.4" stroke="#0a0606"/><path d="M-139.5 0h10.2" stroke="#0c0808"/><path d="M-129.9 0h10.2" stroke="#0e0808"/><path d="M-120.3 0h10.2" stroke="#180808"/><path d="M-110.7 0h10.2" stroke="#200a0a"/><path d="M-101.1 0h10.2" stroke="#2c0e0e"/><path d="M-91.5 0h10.2" stroke="#45110f"/><path d="M-81.9 0h10.2" stroke="#921519"/><path d="M-72.3 0h10.2" stroke="#2a0e0e"/><path d="M-62.7 0h125.4" stroke="#2c0e0e"/><path d="M62.1 0h10.2" stroke="#2a0e0e"/><path d="M71.7 0h10.2" stroke="#921519"/><path d="M81.3 0h10.2" stroke="#45110f"/><path d="M90.9 0h10.2" stroke="#2c0e0e"/><path d="M100.5 0h10.2" stroke="#200a0a"/><path d="M110.1 0h10.2" stroke="#180808"/><path d="M119.7 0h10.2" stroke="#0e0808"/><path d="M129.3 0h10.2" stroke="#0c0808"/><path d="M138.9 0h29.4" stroke="#0a0606"/><path d="M167.7 0h67.8" stroke="#080606"/><path d="M234.9 0h29.4" stroke="#060606"/></g><g transform="translate(0 67.50)"><path d="M-264.3 0h39.0" stroke="#060606"/><path d="M-225.9 0h58.2" stroke="#080606"/><path d="M-168.3 0h29.4" stroke="#0a0606"/><path d="M-139.5 0h10.2" stroke="#0c0808"/><path d="M-129.9 0h10.2" stroke="#0e0808"/><path d="M-120.3 0h10.2" stroke="#1c0a0a"/><path d="M-110.7 0h10.2" stroke="#240c0c"/><path d="M-101.1 0h10.2" stroke="#32120e"/><path d="M-91.5 0h10.2" stroke="#510e0e"/><path d="M-81.9 0h10.2" stroke="#ab1a21"/><path d="M-72.3 0h10.2" stroke="#2e100e"/><path d="M-62.7 0h125.4" stroke="#280e0c"/><path d="M62.1 0h10.2" stroke="#2e100e"/><path d="M71.7 0h10.2" stroke="#ab1a21"/><path d="M81.3 0h10.2" stroke="#510e0e"/><path d="M90.9 0h10.2" stroke="#32120e"/><path d="M100.5 0h10.2" stroke="#240c0c"/><path d="M110.1 0h10.2" stroke="#1c0a0a"/><path d="M119.7 0h10.2" stroke="#0e0808"/><path d="M129.3 0h10.2" stroke="#0c0808"/><path d="M138.9 0h29.4" stroke="#0a0606"/><path d="M167.7 0h58.2" stroke="#080606"/><path d="M225.3 0h39.0" stroke="#060606"/></g><g transform="translate(0 75.00)"><path d="M-264.3 0h39.0" stroke="#060606"/><path d="M-225.9 0h58.2" stroke="#080606"/><path d="M-168.3 0h19.8" stroke="#0a0606"/><path d="M-149.1 0h10.2" stroke="#0c0808"/><path d="M-139.5 0h10.2" stroke="#0e0808"/><path d="M-129.9 0h10.2" stroke="#100808"/><path d="M-120.3 0h10.2" stroke="#1e0a0a"/><path d="M-110.7 0h10.2" stroke="#260e0c"/><path d="M-101.1 0h10.2" stroke="#361210"/><path d="M-91.5 0h10.2" stroke="#5b0d0d"/><path d="M-81.9 0h10.2" stroke="#c31c23"/><path d="M-72.3 0h10.2" stroke="#32120e"/><path d="M-62.7 0h125.4" stroke="#260e0c"/><path d="M62.1 0h10.2" stroke="#32120e"/><path d="M71.7 0h10.2" stroke="#c31c23"/><path d="M81.3 0h10.2" stroke="#5b0d0d"/><path d="M90.9 0h10.2" stroke="#361210"/><path d="M100.5 0h10.2" stroke="#260e0c"/><path d="M110.1 0h10.2" stroke="#1e0a0a"/><path d="M119.7 0h10.2" stroke="#100808"/><path d="M129.3 0h10.2" stroke="#0e0808"/><path d="M138.9 0h10.2" stroke="#0c0808"/><path d="M148.5 0h19.8" stroke="#0a0606"/><path d="M167.7 0h58.2" stroke="#080606"/><path d="M225.3 0h39.0" stroke="#060606"/></g><g transform="translate(0 82.50)"><path d="M-264.3 0h39.0" stroke="#060606"/><path d="M-225.9 0h48.6" stroke="#080606"/><path d="M-177.9 0h19.8" stroke="#0a0606"/><path d="M-158.7 0h19.8" stroke="#0c0808"/><path d="M-139.5 0h10.2" stroke="#0e0808"/><path d="M-129.9 0h10.2" stroke="#120808"/><path d="M-120.3 0h10.2" stroke="#200c0a"/><path d="M-110.7 0h10.2" stroke="#2a0e0c"/><path d="M-101.1 0h10.2" stroke="#3d120f"/><path d="M-91.5 0h10.2" stroke="#650b0d"/><path d="M-81.9 0h10.2" stroke="#dc1d25"/><path d="M-72.3 0h10.2" stroke="#381210"/><path d="M-62.7 0h125.4" stroke="#240c0c"/><path d="M62.1 0h10.2" stroke="#381210"/><path d="M71.7 0h10.2" stroke="#dc1d25"/><path d="M81.3 0h10.2" stroke="#650b0d"/><path d="M90.9 0h10.2" stroke="#3d120f"/><path d="M100.5 0h10.2" stroke="#2a0e0c"/><path d="M110.1 0h10.2" stroke="#200c0a"/><path d="M119.7 0h10.2" stroke="#120808"/><path d="M129.3 0h10.2" stroke="#0e0808"/><path d="M138.9 0h19.8" stroke="#0c0808"/><path d="M158.1 0h19.8" stroke="#0a0606"/><path d="M177.3 0h48.6" stroke="#080606"/><path d="M225.3 0h39.0" stroke="#060606"/></g><g transform="translate(0 90.00)"><path d="M-264.3 0h29.4" stroke="#060606"/><path d="M-235.5 0h58.2" stroke="#080606"/><path d="M-177.9 0h19.8" stroke="#0a0606"/><path d="M-158.7 0h10.2" stroke="#0c0808"/><path d="M-149.1 0h10.2" stroke="#0e0808"/><path d="M-139.5 0h10.2" stroke="#100808"/><path d="M-129.9 0h10.2" stroke="#160808"/><path d="M-120.3 0h10.2" stroke="#220c0a"/><path d="M-110.7 0h10.2" stroke="#2c100e"/><path d="M-101.1 0h10.2" stroke="#42110f"/><path d="M-91.5 0h10.2" stroke="#6c0a0c"/><path d="M-81.9 0h10.2" stroke="#e91e26"/><path d="M-72.3 0h10.2" stroke="#3d120f"/><path d="M-62.7 0h125.4" stroke="#220c0a"/><path d="M62.1 0h10.2" stroke="#3d120f"/><path d="M71.7 0h10.2" stroke="#e91e26"/><path d="M81.3 0h10.2" stroke="#6c0a0c"/><path d="M90.9 0h10.2" stroke="#42110f"/><path d="M100.5 0h10.2" stroke="#2c100e"/><path d="M110.1 0h10.2" stroke="#220c0a"/><path d="M119.7 0h10.2" stroke="#160808"/><path d="M129.3 0h10.2" stroke="#100808"/><path d="M138.9 0h10.2" stroke="#0e0808"/><path d="M148.5 0h10.2" stroke="#0c0808"/><path d="M158.1 0h19.8" stroke="#0a0606"/><path d="M177.3 0h58.2" stroke="#080606"/><path d="M234.9 0h29.4" stroke="#060606"/></g><g transform="translate(0 97.50)"><path d="M-264.3 0h29.4" stroke="#060606"/><path d="M-235.5 0h48.6" stroke="#080606"/><path d="M-187.5 0h19.8" stroke="#0a0606"/><path d="M-168.3 0h10.2" stroke="#0c0808"/><path d="M-158.7 0h10.2" stroke="#0e0808"/><path d="M-149.1 0h10.2" stroke="#100808"/><path d="M-139.5 0h10.2" stroke="#140808"/><path d="M-129.9 0h10.2" stroke="#180a0a"/><path d="M-120.3 0h10.2" stroke="#220c0c"/><path d="M-110.7 0h10.2" stroke="#2e100e"/><path d="M-101.1 0h10.2" stroke="#45110f"/><path d="M-91.5 0h10.2" stroke="#710b0e"/><path d="M-81.9 0h10.2" stroke="#ea1f25"/><path d="M-72.3 0h10.2" stroke="#40110f"/><path d="M-62.7 0h125.4" stroke="#200a0a"/><path d="M62.1 0h10.2" stroke="#40110f"/><path d="M71.7 0h10.2" stroke="#ea1f25"/><path d="M81.3 0h10.2" stroke="#710b0e"/><path d="M90.9 0h10.2" stroke="#45110f"/><path d="M100.5 0h10.2" stroke="#2e100e"/><path d="M110.1 0h10.2" stroke="#220c0c"/><path d="M119.7 0h10.2" stroke="#180a0a"/><path d="M129.3 0h10.2" stroke="#140808"/><path d="M138.9 0h10.2" stroke="#100808"/><path d="M148.5 0h10.2" stroke="#0e0808"/><path d="M158.1 0h10.2" stroke="#0c0808"/><path d="M167.7 0h19.8" stroke="#0a0606"/><path d="M186.9 0h48.6" stroke="#080606"/><path d="M234.9 0h29.4" stroke="#060606"/></g><g transform="translate(0 105.00)"><path d="M-264.3 0h19.8" stroke="#060606"/><path d="M-245.1 0h48.6" stroke="#080606"/><path d="M-197.1 0h29.4" stroke="#0a0606"/><path d="M-168.3 0h10.2" stroke="#0c0808"/><path d="M-158.7 0h10.2" stroke="#0e0808"/><path d="M-149.1 0h10.2" stroke="#120808"/><path d="M-139.5 0h10.2" stroke="#160808"/><path d="M-129.9 0h10.2" stroke="#1c0a0a"/><path d="M-120.3 0h10.2" stroke="#260c0c"/><path d="M-110.7 0h10.2" stroke="#30100e"/><path d="M-101.1 0h10.2" stroke="#46100f"/><path d="M-91.5 0h10.2" stroke="#730c0f"/><path d="M-81.9 0h10.2" stroke="#ea2025"/><path d="M-72.3 0h10.2" stroke="#41110f"/><path d="M-62.7 0h125.4" stroke="#1c0a0a"/><path d="M62.1 0h10.2" stroke="#41110f"/><path d="M71.7 0h10.2" stroke="#ea2025"/><path d="M81.3 0h10.2" stroke="#730c0f"/><path d="M90.9 0h10.2" stroke="#46100f"/><path d="M100.5 0h10.2" stroke="#30100e"/><path d="M110.1 0h10.2" stroke="#260c0c"/><path d="M119.7 0h10.2" stroke="#1c0a0a"/><path d="M129.3 0h10.2" stroke="#160808"/><path d="M138.9 0h10.2" stroke="#120808"/><path d="M148.5 0h10.2" stroke="#0e0808"/><path d="M158.1 0h10.2" stroke="#0c0808"/><path d="M167.7 0h29.4" stroke="#0a0606"/><path d="M196.5 0h48.6" stroke="#080606"/><path d="M244.5 0h19.8" stroke="#060606"/></g><g transform="translate(0 112.50)"><path d="M-264.3 0h10.2" stroke="#060606"/><path d="M-254.7 0h58.2" stroke="#080606"/><path d="M-197.1 0h19.8" stroke="#0a0606"/><path d="M-177.9 0h10.2" stroke="#0c0808"/><path d="M-168.3 0h10.2" stroke="#0e0808"/><path d="M-158.7 0h10.2" stroke="#100808"/><path d="M-149.1 0h10.2" stroke="#140808"/><path d="M-139.5 0h10.2" stroke="#1a0a0a"/><path d="M-129.9 0h10.2" stroke="#220c0a"/><path d="M-120.3 0h10.2" stroke="#2c100e"/><path d="M-110.7 0h10.2" stroke="#381210"/><path d="M-101.1 0h10.2" stroke="#500f0e"/><path d="M-91.5 0h10.2" stroke="#760d0f"/><path d="M-81.9 0h10.2" stroke="#eb2025"/><path d="M-72.3 0h10.2" stroke="#43110f"/><path d="M-62.7 0h125.4" stroke="#1a0a0a"/><path d="M62.1 0h10.2" stroke="#43110f"/><path d="M71.7 0h10.2" stroke="#eb2025"/><path d="M81.3 0h10.2" stroke="#760d0f"/><path d="M90.9 0h10.2" stroke="#500f0e"/><path d="M100.5 0h10.2" stroke="#381210"/><path d="M110.1 0h10.2" stroke="#2c100e"/><path d="M119.7 0h10.2" stroke="#220c0a"/><path d="M129.3 0h10.2" stroke="#1a0a0a"/><path d="M138.9 0h10.2" stroke="#140808"/><path d="M148.5 0h10.2" stroke="#100808"/><path d="M158.1 0h10.2" stroke="#0e0808"/><path d="M167.7 0h10.2" stroke="#0c0808"/><path d="M177.3 0h19.8" stroke="#0a0606"/><path d="M196.5 0h58.2" stroke="#080606"/><path d="M254.1 0h10.2" stroke="#060606"/></g><g transform="translate(0 120.00)"><path d="M-264.3 0h10.2" stroke="#060606"/><path d="M-254.7 0h48.6" stroke="#080606"/><path d="M-206.7 0h19.8" stroke="#0a0606"/><path d="M-187.5 0h19.8" stroke="#0c0808"/><path d="M-168.3 0h10.2" stroke="#100808"/><path d="M-158.7 0h10.2" stroke="#120808"/><path d="M-149.1 0h10.2" stroke="#180808"/><path d="M-139.5 0h10.2" stroke="#1e0a0a"/><path d="M-129.9 0h10.2" stroke="#260e0c"/><path d="M-120.3 0h10.2" stroke="#32120e"/><path d="M-110.7 0h10.2" stroke="#45110f"/><path d="M-101.1 0h10.2" stroke="#610c0d"/><path d="M-91.5 0h10.2" stroke="#861115"/><path d="M-81.9 0h10.2" stroke="#ec2025"/><path d="M-72.3 0h10.2" stroke="#44110f"/><path d="M-62.7 0h125.4" stroke="#180808"/><path d="M62.1 0h10.2" stroke="#44110f"/><path d="M71.7 0h10.2" stroke="#ec2025"/><path d="M81.3 0h10.2" stroke="#861115"/><path d="M90.9 0h10.2" stroke="#610c0d"/><path d="M100.5 0h10.2" stroke="#45110f"/><path d="M110.1 0h10.2" stroke="#32120e"/><path d="M119.7 0h10.2" stroke="#260e0c"/><path d="M129.3 0h10.2" stroke="#1e0a0a"/><path d="M138.9 0h10.2" stroke="#180808"/><path d="M148.5 0h10.2" stroke="#120808"/><path d="M158.1 0h10.2" stroke="#100808"/><path d="M167.7 0h19.8" stroke="#0c0808"/><path d="M186.9 0h19.8" stroke="#0a0606"/><path d="M206.1 0h48.6" stroke="#080606"/><path d="M254.1 0h10.2" stroke="#060606"/></g><g transform="translate(0 127.50)"><path d="M-264.3 0h58.2" stroke="#080606"/><path d="M-206.7 0h19.8" stroke="#0a0606"/><path d="M-187.5 0h10.2" stroke="#0c0808"/><path d="M-177.9 0h10.2" stroke="#0e0808"/><path d="M-168.3 0h10.2" stroke="#100808"/><path d="M-158.7 0h10.2" stroke="#160808"/><path d="M-149.1 0h10.2" stroke="#1c0a0a"/><path d="M-139.5 0h10.2" stroke="#240c0c"/><path d="M-129.9 0h10.2" stroke="#2c100e"/><path d="M-120.3 0h10.2" stroke="#3d1210"/><path d="M-110.7 0h10.2" stroke="#530e0e"/><path d="M-101.1 0h10.2" stroke="#730c0f"/><path d="M-91.5 0h10.2" stroke="#9e181e"/><path d="M-81.9 0h10.2" stroke="#ec2125"/><path d="M-72.3 0h10.2" stroke="#46100f"/><path d="M-62.7 0h125.4" stroke="#160808"/><path d="M62.1 0h10.2" stroke="#46100f"/><path d="M71.7 0h10.2" stroke="#ec2125"/><path d="M81.3 0h10.2" stroke="#9e181e"/><path d="M90.9 0h10.2" stroke="#730c0f"/><path d="M100.5 0h10.2" stroke="#530e0e"/><path d="M110.1 0h10.2" stroke="#3d1210"/><path d="M119.7 0h10.2" stroke="#2c100e"/><path d="M129.3 0h10.2" stroke="#240c0c"/><path d="M138.9 0h10.2" stroke="#1c0a0a"/><path d="M148.5 0h10.2" stroke="#160808"/><path d="M158.1 0h10.2" stroke="#100808"/><path d="M167.7 0h10.2" stroke="#0e0808"/><path d="M177.3 0h10.2" stroke="#0c0808"/><path d="M186.9 0h19.8" stroke="#0a0606"/><path d="M206.1 0h58.2" stroke="#080606"/></g><g transform="translate(0 135.00)"><path d="M-264.3 0h58.2" stroke="#080606"/><path d="M-206.7 0h19.8" stroke="#0a0606"/><path d="M-187.5 0h10.2" stroke="#0c0808"/><path d="M-177.9 0h10.2" stroke="#0e0808"/><path d="M-168.3 0h10.2" stroke="#120808"/><path d="M-158.7 0h10.2" stroke="#160808"/><path d="M-149.1 0h10.2" stroke="#1c0a0a"/><path d="M-139.5 0h10.2" stroke="#240c0c"/><path d="M-129.9 0h10.2" stroke="#2c100e"/><path d="M-120.3 0h10.2" stroke="#3d120f"/><path d="M-110.7 0h10.2" stroke="#540e0e"/><path d="M-101.1 0h10.2" stroke="#740c0f"/><path d="M-91.5 0h10.2" stroke="#a0191e"/><path d="M-81.9 0h10.2" stroke="#fdee04"/><path d="M-72.3 0h10.2" stroke="#47100f"/><path d="M-62.7 0h125.4" stroke="#140808"/><path d="M62.1 0h10.2" stroke="#47100f"/><path d="M71.7 0h10.2" stroke="#fdee04"/><path d="M81.3 0h10.2" stroke="#a0191e"/><path d="M90.9 0h10.2" stroke="#740c0f"/><path d="M100.5 0h10.2" stroke="#540e0e"/><path d="M110.1 0h10.2" stroke="#3d120f"/><path d="M119.7 0h10.2" stroke="#2c100e"/><path d="M129.3 0h10.2" stroke="#240c0c"/><path d="M138.9 0h10.2" stroke="#1c0a0a"/><path d="M148.5 0h10.2" stroke="#160808"/><path d="M158.1 0h10.2" stroke="#120808"/><path d="M167.7 0h10.2" stroke="#0e0808"/><path d="M177.3 0h10.2" stroke="#0c0808"/><path d="M186.9 0h19.8" stroke="#0a0606"/><path d="M206.1 0h58.2" stroke="#080606"/></g><g transform="translate(0 142.50)"><path d="M-264.3 0h58.2" stroke="#080606"/><path d="M-206.7 0h19.8" stroke="#0a0606"/><path d="M-187.5 0h10.2" stroke="#0c0808"/><path d="M-177.9 0h10.2" stroke="#0e0808"/><path d="M-168.3 0h10.2" stroke="#120808"/><path d="M-158.7 0h10.2" stroke="#160808"/><path d="M-149.1 0h10.2" stroke="#1c0a0a"/><path d="M-139.5 0h10.2" stroke="#240c0c"/><path d="M-129.9 0h10.2" stroke="#2c100e"/><path d="M-120.3 0h10.2" stroke="#3d120f"/><path d="M-110.7 0h10.2" stroke="#540e0e"/><path d="M-101.1 0h10.2" stroke="#740c0f"/><path d="M-91.5 0h10.2" stroke="#881216"/><path d="M-81.9 0h10.2" stroke="#e21e25"/><path d="M-72.3 0h10.2" stroke="#ec2025"/><path d="M-62.7 0h125.4" stroke="#120808"/><path d="M62.1 0h10.2" stroke="#ec2025"/><path d="M71.7 0h10.2" stroke="#e21e25"/><path d="M81.3 0h10.2" stroke="#881216"/><path d="M90.9 0h10.2" stroke="#740c0f"/><path d="M100.5 0h10.2" stroke="#540e0e"/><path d="M110.1 0h10.2" stroke="#3d120f"/><path d="M119.7 0h10.2" stroke="#2c100e"/><path d="M129.3 0h10.2" stroke="#240c0c"/><path d="M138.9 0h10.2" stroke="#1c0a0a"/><path d="M148.5 0h10.2" stroke="#160808"/><path d="M158.1 0h10.2" stroke="#120808"/><path d="M167.7 0h10.2" stroke="#0e0808"/><path d="M177.3 0h10.2" stroke="#0c0808"/><path d="M186.9 0h19.8" stroke="#0a0606"/><path d="M206.1 0h58.2" stroke="#080606"/></g><g transform="translate(0 150.00)"><path d="M-264.3 0h58.2" stroke="#080606"/><path d="M-206.7 0h19.8" stroke="#0a0606"/><path d="M-187.5 0h10.2" stroke="#0c0808"/><path d="M-177.9 0h10.2" stroke="#0e0808"/><path d="M-168.3 0h10.2" stroke="#120808"/><path d="M-158.7 0h10.2" stroke="#160808"/><path d="M-149.1 0h10.2" stroke="#1c0a0a"/><path d="M-139.5 0h10.2" stroke="#240c0c"/><path d="M-129.9 0h10.2" stroke="#2c100e"/><path d="M-120.3 0h10.2" stroke="#3d120f"/><path d="M-110.7 0h10.2" stroke="#540e0e"/><path d="M-101.1 0h10.2" stroke="#740c0f"/><path d="M-91.5 0h10.2" stroke="#881216"/><path d="M-81.9 0h10.2" stroke="#d01d24"/><path d="M-72.3 0h10.2" stroke="#ed2124"/><path d="M-62.7 0h125.4" stroke="#100808"/><path d="M62.1 0h10.2" stroke="#ed2124"/><path d="M71.7 0h10.2" stroke="#d01d24"/><path d="M81.3 0h10.2" stroke="#881216"/><path d="M90.9 0h10.2" stroke="#740c0f"/><path d="M100.5 0h10.2" stroke="#540e0e"/><path d="M110.1 0h10.2" stroke="#3d120f"/><path d="M119.7 0h10.2" stroke="#2c100e"/><path d="M129.3 0h10.2" stroke="#240c0c"/><path d="M138.9 0h10.2" stroke="#1c0a0a"/><path d="M148.5 0h10.2" stroke="#160808"/><path d="M158.1 0h10.2" stroke="#120808"/><path d="M167.7 0h10.2" stroke="#0e0808"/><path d="M177.3 0h10.2" stroke="#0c0808"/><path d="M186.9 0h19.8" stroke="#0a0606"/><path d="M206.1 0h58.2" stroke="#080606"/></g><g transform="translate(0 157.50)"><path d="M-264.3 0h58.2" stroke="#080606"/><path d="M-206.7 0h19.8" stroke="#0a0606"/><path d="M-187.5 0h10.2" stroke="#0c0808"/><path d="M-177.9 0h10.2" stroke="#0e0808"/><path d="M-168.3 0h10.2" stroke="#120808"/><path d="M-158.7 0h10.2" stroke="#160808"/><path d="M-149.1 0h10.2" stroke="#1c0a0a"/><path d="M-139.5 0h10.2" stroke="#240c0c"/><path d="M-129.9 0h10.2" stroke="#2c100e"/><path d="M-120.3 0h10.2" stroke="#3d120f"/><path d="M-110.7 0h10.2" stroke="#540e0e"/><path d="M-101.1 0h10.2" stroke="#740c0f"/><path d="M-91.5 0h10.2" stroke="#881216"/><path d="M-81.9 0h10.2" stroke="#ca1c23"/><path d="M-72.3 0h10.2" stroke="#ed2124"/><path d="M-62.7 0h125.4" stroke="#100808"/><path d="M62.1 0h10.2" stroke="#ed2124"/><path d="M71.7 0h10.2" stroke="#ca1c23"/><path d="M81.3 0h10.2" stroke="#881216"/><path d="M90.9 0h10.2" stroke="#740c0f"/><path d="M100.5 0h10.2" stroke="#540e0e"/><path d="M110.1 0h10.2" stroke="#3d120f"/><path d="M119.7 0h10.2" stroke="#2c100e"/><path d="M129.3 0h10.2" stroke="#240c0c"/><path d="M138.9 0h10.2" stroke="#1c0a0a"/><path d="M148.5 0h10.2" stroke="#160808"/><path d="M158.1 0h10.2" stroke="#120808"/><path d="M167.7 0h10.2" stroke="#0e0808"/><path d="M177.3 0h10.2" stroke="#0c0808"/><path d="M186.9 0h19.8" stroke="#0a0606"/><path d="M206.1 0h58.2" stroke="#080606"/></g><g transform="translate(0 165.00)"><path d="M-264.3 0h58.2" stroke="#080606"/><path d="M-206.7 0h19.8" stroke="#0a0606"/><path d="M-187.5 0h10.2" stroke="#0c0808"/><path d="M-177.9 0h10.2" stroke="#0e0808"/><path d="M-168.3 0h10.2" stroke="#100808"/><path d="M-158.7 0h10.2" stroke="#160808"/><path d="M-149.1 0h10.2" stroke="#1c0a0a"/><path d="M-139.5 0h10.2" stroke="#240c0c"/><path d="M-129.9 0h10.2" stroke="#2c100e"/><path d="M-120.3 0h10.2" stroke="#3d120f"/><path d="M-110.7 0h10.2" stroke="#530e0e"/><path d="M-101.1 0h10.2" stroke="#730c0e"/><path d="M-91.5 0h10.2" stroke="#881216"/><path d="M-81.9 0h10.2" stroke="#ca1c23"/><path d="M-72.3 0h10.2" stroke="#ed2124"/><path d="M-62.7 0h10.2" stroke="#a51a20"/><path d="M-53.1 0h106.2" stroke="#0e0808"/><path d="M52.5 0h10.2" stroke="#a51a20"/><path d="M62.1 0h10.2" stroke="#ed2124"/><path d="M71.7 0h10.2" stroke="#ca1c23"/><path d="M81.3 0h10.2" stroke="#881216"/><path d="M90.9 0h10.2" stroke="#730c0e"/><path d="M100.5 0h10.2" stroke="#530e0e"/><path d="M110.1 0h10.2" stroke="#3d120f"/><path d="M119.7 0h10.2" stroke="#2c100e"/><path d="M129.3 0h10.2" stroke="#240c0c"/><path d="M138.9 0h10.2" stroke="#1c0a0a"/><path d="M148.5 0h10.2" stroke="#160808"/><path d="M158.1 0h10.2" stroke="#100808"/><path d="M167.7 0h10.2" stroke="#0e0808"/><path d="M177.3 0h10.2" stroke="#0c0808"/><path d="M186.9 0h19.8" stroke="#0a0606"/><path d="M206.1 0h58.2" stroke="#080606"/></g><g transform="translate(0 172.50)"><path d="M-264.3 0h58.2" stroke="#080606"/><path d="M-206.7 0h19.8" stroke="#0a0606"/><path d="M-187.5 0h10.2" stroke="#0c0808"/><path d="M-177.9 0h10.2" stroke="#0e0808"/><path d="M-168.3 0h10.2" stroke="#100808"/><path d="M-158.7 0h10.2" stroke="#140808"/><path d="M-149.1 0h10.2" stroke="#1a0a0a"/><path d="M-139.5 0h10.2" stroke="#220c0c"/><path d="M-129.9 0h10.2" stroke="#2c100e"/><path d="M-120.3 0h10.2" stroke="#3a1210"/><path d="M-110.7 0h10.2" stroke="#4f0f0e"/><path d="M-101.1 0h10.2" stroke="#6d0a0c"/><path d="M-91.5 0h10.2" stroke="#921519"/><path d="M-81.9 0h10.2" stroke="#c01c22"/><path d="M-72.3 0h10.2" stroke="#ed2224"/><path d="M-62.7 0h10.2" stroke="#f89b1a"/><path d="M-53.1 0h10.2" stroke="#97161b"/><path d="M-43.5 0h87.0" stroke="#0e0808"/><path d="M42.9 0h10.2" stroke="#97161b"/><path d="M52.5 0h10.2" stroke="#f89b1a"/><path d="M62.1 0h10.2" stroke="#ed2224"/><path d="M71.7 0h10.2" stroke="#c01c22"/><path d="M81.3 0h10.2" stroke="#921519"/><path d="M90.9 0h10.2" stroke="#6d0a0c"/><path d="M100.5 0h10.2" stroke="#4f0f0e"/><path d="M110.1 0h10.2" stroke="#3a1210"/><path d="M119.7 0h10.2" stroke="#2c100e"/><path d="M129.3 0h10.2" stroke="#220c0c"/><path d="M138.9 0h10.2" stroke="#1a0a0a"/><path d="M148.5 0h10.2" stroke="#140808"/><path d="M158.1 0h10.2" stroke="#100808"/><path d="M167.7 0h10.2" stroke="#0e0808"/><path d="M177.3 0h10.2" stroke="#0c0808"/><path d="M186.9 0h19.8" stroke="#0a0606"/><path d="M206.1 0h58.2" stroke="#080606"/></g><g transform="translate(0 180.00)"><path d="M-264.3 0h58.2" stroke="#080606"/><path d="M-206.7 0h19.8" stroke="#0a0606"/><path d="M-187.5 0h10.2" stroke="#0c0808"/><path d="M-177.9 0h10.2" stroke="#0e0808"/><path d="M-168.3 0h10.2" stroke="#100808"/><path d="M-158.7 0h10.2" stroke="#140808"/><path d="M-149.1 0h10.2" stroke="#1a0a0a"/><path d="M-139.5 0h10.2" stroke="#220c0a"/><path d="M-129.9 0h10.2" stroke="#2a0e0c"/><path d="M-120.3 0h10.2" stroke="#361210"/><path d="M-110.7 0h10.2" stroke="#48100f"/><path d="M-101.1 0h10.2" stroke="#620c0d"/><path d="M-91.5 0h10.2" stroke="#7f0f13"/><path d="M-81.9 0h10.2" stroke="#9b171c"/><path d="M-72.3 0h10.2" stroke="#ea1f25"/><path d="M-62.7 0h10.2" stroke="#ee2624"/><path d="M-53.1 0h10.2" stroke="#fdee04"/><path d="M-43.5 0h10.2" stroke="#881216"/><path d="M-33.9 0h67.8" stroke="#0c0808"/><path d="M33.3 0h10.2" stroke="#881216"/><path d="M42.9 0h10.2" stroke="#fdee04"/><path d="M52.5 0h10.2" stroke="#ee2624"/><path d="M62.1 0h10.2" stroke="#ea1f25"/><path d="M71.7 0h10.2" stroke="#9b171c"/><path d="M81.3 0h10.2" stroke="#7f0f13"/><path d="M90.9 0h10.2" stroke="#620c0d"/><path d="M100.5 0h10.2" stroke="#48100f"/><path d="M110.1 0h10.2" stroke="#361210"/><path d="M119.7 0h10.2" stroke="#2a0e0c"/><path d="M129.3 0h10.2" stroke="#220c0a"/><path d="M138.9 0h10.2" stroke="#1a0a0a"/><path d="M148.5 0h10.2" stroke="#140808"/><path d="M158.1 0h10.2" stroke="#100808"/><path d="M167.7 0h10.2" stroke="#0e0808"/><path d="M177.3 0h10.2" stroke="#0c0808"/><path d="M186.9 0h19.8" stroke="#0a0606"/><path d="M206.1 0h58.2" stroke="#080606"/></g><g transform="translate(0 187.50)"><path d="M-264.3 0h58.2" stroke="#080606"/><path d="M-206.7 0h19.8" stroke="#0a0606"/><path d="M-187.5 0h10.2" stroke="#0c0808"/><path d="M-177.9 0h10.2" stroke="#0e0808"/><path d="M-168.3 0h10.2" stroke="#100808"/><path d="M-158.7 0h10.2" stroke="#140808"/><path d="M-149.1 0h10.2" stroke="#180a0a"/><path d="M-139.5 0h10.2" stroke="#200a0a"/><path d="M-129.9 0h10.2" stroke="#260e0c"/><path d="M-120.3 0h10.2" stroke="#32120e"/><path d="M-110.7 0h10.2" stroke="#40110f"/><path d="M-101.1 0h10.2" stroke="#550e0e"/><path d="M-91.5 0h10.2" stroke="#6d0a0c"/><path d="M-81.9 0h10.2" stroke="#811013"/><path d="M-72.3 0h10.2" stroke="#9f181e"/><path d="M-62.7 0h10.2" stroke="#eb2025"/><path d="M-53.1 0h10.2" stroke="#ef2f24"/><path d="M-43.5 0h10.2" stroke="#fdc80a"/><path d="M-33.9 0h10.2" stroke="#ef3824"/><path d="M-24.3 0h10.2" stroke="#881216"/><path d="M-14.7 0h10.2" stroke="#580d0d"/><path d="M-5.1 0h10.2" stroke="#4a100f"/><path d="M4.5 0h10.2" stroke="#580d0d"/><path d="M14.1 0h10.2" stroke="#881216"/><path d="M23.7 0h10.2" stroke="#ef3824"/><path d="M33.3 0h10.2" stroke="#fdc80a"/><path d="M42.9 0h10.2" stroke="#ef2f24"/><path d="M52.5 0h10.2" stroke="#eb2025"/><path d="M62.1 0h10.2" stroke="#9f181e"/><path d="M71.7 0h10.2" stroke="#811013"/><path d="M81.3 0h10.2" stroke="#6d0a0c"/><path d="M90.9 0h10.2" stroke="#550e0e"/><path d="M100.5 0h10.2" stroke="#40110f"/><path d="M110.1 0h10.2" stroke="#32120e"/><path d="M119.7 0h10.2" stroke="#260e0c"/><path d="M129.3 0h10.2" stroke="#200a0a"/><path d="M138.9 0h10.2" stroke="#180a0a"/><path d="M148.5 0h10.2" stroke="#140808"/><path d="M158.1 0h10.2" stroke="#100808"/><path d="M167.7 0h10.2" stroke="#0e0808"/><path d="M177.3 0h10.2" stroke="#0c0808"/><path d="M186.9 0h19.8" stroke="#0a0606"/><path d="M206.1 0h58.2" stroke="#080606"/></g><g transform="translate(0 195.00)"><path d="M-264.3 0h58.2" stroke="#080606"/><path d="M-206.7 0h19.8" stroke="#0a0606"/><path d="M-187.5 0h19.8" stroke="#0c0808"/><path d="M-168.3 0h10.2" stroke="#0e0808"/><path d="M-158.7 0h10.2" stroke="#120808"/><path d="M-149.1 0h10.2" stroke="#160808"/><path d="M-139.5 0h10.2" stroke="#1c0a0a"/><path d="M-129.9 0h10.2" stroke="#240c0c"/><path d="M-120.3 0h10.2" stroke="#2c100e"/><path d="M-110.7 0h10.2" stroke="#361210"/><path d="M-101.1 0h10.2" stroke="#47100f"/><path d="M-91.5 0h10.2" stroke="#580d0d"/><path d="M-81.9 0h10.2" stroke="#6a0a0c"/><path d="M-72.3 0h10.2" stroke="#811013"/><path d="M-62.7 0h10.2" stroke="#9b171c"/><path d="M-53.1 0h10.2" stroke="#ea1f25"/><path d="M-43.5 0h10.2" stroke="#ed2224"/><path d="M-33.9 0h10.2" stroke="#ef3824"/><path d="M-24.3 0h10.2" stroke="#faec0c"/><path d="M-14.7 0h10.2" stroke="#f26722"/><path d="M-5.1 0h10.2" stroke="#f15a24"/><path d="M4.5 0h10.2" stroke="#f26722"/><path d="M14.1 0h10.2" stroke="#faec0c"/><path d="M23.7 0h10.2" stroke="#ef3824"/><path d="M33.3 0h10.2" stroke="#ed2224"/><path d="M42.9 0h10.2" stroke="#ea1f25"/><path d="M52.5 0h10.2" stroke="#9b171c"/><path d="M62.1 0h10.2" stroke="#811013"/><path d="M71.7 0h10.2" stroke="#6a0a0c"/><path d="M81.3 0h10.2" stroke="#580d0d"/><path d="M90.9 0h10.2" stroke="#47100f"/><path d="M100.5 0h10.2" stroke="#361210"/><path d="M110.1 0h10.2" stroke="#2c100e"/><path d="M119.7 0h10.2" stroke="#240c0c"/><path d="M129.3 0h10.2" stroke="#1c0a0a"/><path d="M138.9 0h10.2" stroke="#160808"/><path d="M148.5 0h10.2" stroke="#120808"/><path d="M158.1 0h10.2" stroke="#0e0808"/><path d="M167.7 0h19.8" stroke="#0c0808"/><path d="M186.9 0h19.8" stroke="#0a0606"/><path d="M206.1 0h58.2" stroke="#080606"/></g><g transform="translate(0 202.50)"><path d="M-264.3 0h10.2" stroke="#060606"/><path d="M-254.7 0h48.6" stroke="#080606"/><path d="M-206.7 0h19.8" stroke="#0a0606"/><path d="M-187.5 0h19.8" stroke="#0c0808"/><path d="M-168.3 0h10.2" stroke="#0e0808"/><path d="M-158.7 0h10.2" stroke="#100808"/><path d="M-149.1 0h10.2" stroke="#160808"/><path d="M-139.5 0h10.2" stroke="#1a0a0a"/><path d="M-129.9 0h10.2" stroke="#200c0a"/><path d="M-120.3 0h10.2" stroke="#280e0c"/><path d="M-110.7 0h10.2" stroke="#30100e"/><path d="M-101.1 0h10.2" stroke="#3a1210"/><path d="M-91.5 0h10.2" stroke="#49100f"/><path d="M-81.9 0h10.2" stroke="#590d0d"/><path d="M-72.3 0h10.2" stroke="#6d0a0c"/><path d="M-62.7 0h10.2" stroke="#811013"/><path d="M-53.1 0h10.2" stroke="#9f181e"/><path d="M-43.5 0h10.2" stroke="#bc1b22"/><path d="M-33.9 0h10.2" stroke="#c11c23"/><path d="M-24.3 0h10.2" stroke="#e91f26"/><path d="M-14.7 0h29.4" stroke="#ea1f25"/><path d="M14.1 0h10.2" stroke="#e91f26"/><path d="M23.7 0h10.2" stroke="#c11c23"/><path d="M33.3 0h10.2" stroke="#bc1b22"/><path d="M42.9 0h10.2" stroke="#9f181e"/><path d="M52.5 0h10.2" stroke="#811013"/><path d="M62.1 0h10.2" stroke="#6d0a0c"/><path d="M71.7 0h10.2" stroke="#590d0d"/><path d="M81.3 0h10.2" stroke="#49100f"/><path d="M90.9 0h10.2" stroke="#3a1210"/><path d="M100.5 0h10.2" stroke="#30100e"/><path d="M110.1 0h10.2" stroke="#280e0c"/><path d="M119.7 0h10.2" stroke="#200c0a"/><path d="M129.3 0h10.2" stroke="#1a0a0a"/><path d="M138.9 0h10.2" stroke="#160808"/><path d="M148.5 0h10.2" stroke="#100808"/><path d="M158.1 0h10.2" stroke="#0e0808"/><path d="M167.7 0h19.8" stroke="#0c0808"/><path d="M186.9 0h19.8" stroke="#0a0606"/><path d="M206.1 0h48.6" stroke="#080606"/><path d="M254.1 0h10.2" stroke="#060606"/></g><g transform="translate(0 210.00)"><path d="M-264.3 0h10.2" stroke="#060606"/><path d="M-254.7 0h58.2" stroke="#080606"/><path d="M-197.1 0h19.8" stroke="#0a0606"/><path d="M-177.9 0h10.2" stroke="#0c0808"/><path d="M-168.3 0h10.2" stroke="#0e0808"/><path d="M-158.7 0h10.2" stroke="#100808"/><path d="M-149.1 0h10.2" stroke="#140808"/><path d="M-139.5 0h10.2" stroke="#180808"/><path d="M-129.9 0h10.2" stroke="#1c0a0a"/><path d="M-120.3 0h10.2" stroke="#220c0c"/><path d="M-110.7 0h10.2" stroke="#280e0c"/><path d="M-101.1 0h10.2" stroke="#30100e"/><path d="M-91.5 0h10.2" stroke="#3a1210"/><path d="M-81.9 0h10.2" stroke="#47100f"/><path d="M-72.3 0h10.2" stroke="#580d0d"/><path d="M-62.7 0h10.2" stroke="#6a0a0c"/><path d="M-53.1 0h10.2" stroke="#811013"/><path d="M-43.5 0h10.2" stroke="#8f1418"/><path d="M-33.9 0h10.2" stroke="#9b171c"/><path d="M-24.3 0h10.2" stroke="#b51b21"/><path d="M-14.7 0h29.4" stroke="#ba1b22"/><path d="M14.1 0h10.2" stroke="#b51b21"/><path d="M23.7 0h10.2" stroke="#9b171c"/><path d="M33.3 0h10.2" stroke="#8f1418"/><path d="M42.9 0h10.2" stroke="#811013"/><path d="M52.5 0h10.2" stroke="#6a0a0c"/><path d="M62.1 0h10.2" stroke="#580d0d"/><path d="M71.7 0h10.2" stroke="#47100f"/><path d="M81.3 0h10.2" stroke="#3a1210"/><path d="M90.9 0h10.2" stroke="#30100e"/><path d="M100.5 0h10.2" stroke="#280e0c"/><path d="M110.1 0h10.2" stroke="#220c0c"/><path d="M119.7 0h10.2" stroke="#1c0a0a"/><path d="M129.3 0h10.2" stroke="#180808"/><path d="M138.9 0h10.2" stroke="#140808"/><path d="M148.5 0h10.2" stroke="#100808"/><path d="M158.1 0h10.2" stroke="#0e0808"/><path d="M167.7 0h10.2" stroke="#0c0808"/><path d="M177.3 0h19.8" stroke="#0a0606"/><path d="M196.5 0h58.2" stroke="#080606"/><path d="M254.1 0h10.2" stroke="#060606"/></g><g transform="translate(0 217.50)"><path d="M-264.3 0h10.2" stroke="#060606"/><path d="M-254.7 0h58.2" stroke="#080606"/><path d="M-197.1 0h19.8" stroke="#0a0606"/><path d="M-177.9 0h19.8" stroke="#0c0808"/><path d="M-158.7 0h10.2" stroke="#0e0808"/><path d="M-149.1 0h10.2" stroke="#120808"/><path d="M-139.5 0h10.2" stroke="#160808"/><path d="M-129.9 0h10.2" stroke="#1a0a0a"/><path d="M-120.3 0h10.2" stroke="#1e0a0a"/><path d="M-110.7 0h10.2" stroke="#240c0c"/><path d="M-101.1 0h10.2" stroke="#2a0e0c"/><path d="M-91.5 0h10.2" stroke="#32120e"/><path d="M-81.9 0h10.2" stroke="#3a1210"/><path d="M-72.3 0h10.2" stroke="#49100f"/><path d="M-62.7 0h10.2" stroke="#590d0d"/><path d="M-53.1 0h10.2" stroke="#690a0c"/><path d="M-43.5 0h10.2" stroke="#730c0e"/><path d="M-33.9 0h10.2" stroke="#811013"/><path d="M-24.3 0h10.2" stroke="#8f1418"/><path d="M-14.7 0h29.4" stroke="#911519"/><path d="M14.1 0h10.2" stroke="#8f1418"/><path d="M23.7 0h10.2" stroke="#811013"/><path d="M33.3 0h10.2" stroke="#730c0e"/><path d="M42.9 0h10.2" stroke="#690a0c"/><path d="M52.5 0h10.2" stroke="#590d0d"/><path d="M62.1 0h10.2" stroke="#49100f"/><path d="M71.7 0h10.2" stroke="#3a1210"/><path d="M81.3 0h10.2" stroke="#32120e"/><path d="M90.9 0h10.2" stroke="#2a0e0c"/><path d="M100.5 0h10.2" stroke="#240c0c"/><path d="M110.1 0h10.2" stroke="#1e0a0a"/><path d="M119.7 0h10.2" stroke="#1a0a0a"/><path d="M129.3 0h10.2" stroke="#160808"/><path d="M138.9 0h10.2" stroke="#120808"/><path d="M148.5 0h10.2" stroke="#0e0808"/><path d="M158.1 0h19.8" stroke="#0c0808"/><path d="M177.3 0h19.8" stroke="#0a0606"/><path d="M196.5 0h58.2" stroke="#080606"/><path d="M254.1 0h10.2" stroke="#060606"/></g><g transform="translate(0 225.00)"><path d="M-264.3 0h10.2" stroke="#060606"/><path d="M-254.7 0h58.2" stroke="#080606"/><path d="M-197.1 0h29.4" stroke="#0a0606"/><path d="M-168.3 0h10.2" stroke="#0c0808"/><path d="M-158.7 0h10.2" stroke="#0e0808"/><path d="M-149.1 0h10.2" stroke="#100808"/><path d="M-139.5 0h10.2" stroke="#120808"/><path d="M-129.9 0h10.2" stroke="#160808"/><path d="M-120.3 0h10.2" stroke="#1a0a0a"/><path d="M-110.7 0h10.2" stroke="#1e0a0a"/><path d="M-101.1 0h10.2" stroke="#240c0c"/><path d="M-91.5 0h10.2" stroke="#2a0e0c"/><path d="M-81.9 0h10.2" stroke="#30100e"/><path d="M-72.3 0h10.2" stroke="#3a1210"/><path d="M-62.7 0h10.2" stroke="#47100f"/><path d="M-53.1 0h10.2" stroke="#520e0e"/><path d="M-43.5 0h10.2" stroke="#590d0d"/><path d="M-33.9 0h10.2" stroke="#660b0c"/><path d="M-24.3 0h10.2" stroke="#700b0d"/><path d="M-14.7 0h29.4" stroke="#710b0e"/><path d="M14.1 0h10.2" stroke="#700b0d"/><path d="M23.7 0h10.2" stroke="#660b0c"/><path d="M33.3 0h10.2" stroke="#590d0d"/><path d="M42.9 0h10.2" stroke="#520e0e"/><path d="M52.5 0h10.2" stroke="#47100f"/><path d="M62.1 0h10.2" stroke="#3a1210"/><path d="M71.7 0h10.2" stroke="#30100e"/><path d="M81.3 0h10.2" stroke="#2a0e0c"/><path d="M90.9 0h10.2" stroke="#240c0c"/><path d="M100.5 0h10.2" stroke="#1e0a0a"/><path d="M110.1 0h10.2" stroke="#1a0a0a"/><path d="M119.7 0h10.2" stroke="#160808"/><path d="M129.3 0h10.2" stroke="#120808"/><path d="M138.9 0h10.2" stroke="#100808"/><path d="M148.5 0h10.2" stroke="#0e0808"/><path d="M158.1 0h10.2" stroke="#0c0808"/><path d="M167.7 0h29.4" stroke="#0a0606"/><path d="M196.5 0h58.2" stroke="#080606"/><path d="M254.1 0h10.2" stroke="#060606"/></g><g transform="translate(0 232.50)"><path d="M-264.3 0h19.8" stroke="#060606"/><path d="M-245.1 0h58.2" stroke="#080606"/><path d="M-187.5 0h19.8" stroke="#0a0606"/><path d="M-168.3 0h19.8" stroke="#0c0808"/><path d="M-149.1 0h10.2" stroke="#0e0808"/><path d="M-139.5 0h10.2" stroke="#100808"/><path d="M-129.9 0h10.2" stroke="#140808"/><path d="M-120.3 0h10.2" stroke="#160808"/><path d="M-110.7 0h10.2" stroke="#1a0a0a"/><path d="M-101.1 0h10.2" stroke="#1e0a0a"/><path d="M-91.5 0h10.2" stroke="#240c0c"/><path d="M-81.9 0h10.2" stroke="#2a0e0c"/><path d="M-72.3 0h10.2" stroke="#32120e"/><path d="M-62.7 0h10.2" stroke="#381210"/><path d="M-53.1 0h10.2" stroke="#41110f"/><path d="M-43.5 0h10.2" stroke="#48100f"/><path d="M-33.9 0h10.2" stroke="#520e0e"/><path d="M-24.3 0h10.2" stroke="#590d0d"/><path d="M-14.7 0h29.4" stroke="#5a0d0d"/><path d="M14.1 0h10.2" stroke="#590d0d"/><path d="M23.7 0h10.2" stroke="#520e0e"/><path d="M33.3 0h10.2" stroke="#48100f"/><path d="M42.9 0h10.2" stroke="#41110f"/><path d="M52.5 0h10.2" stroke="#381210"/><path d="M62.1 0h10.2" stroke="#32120e"/><path d="M71.7 0h10.2" stroke="#2a0e0c"/><path d="M81.3 0h10.2" stroke="#240c0c"/><path d="M90.9 0h10.2" stroke="#1e0a0a"/><path d="M100.5 0h10.2" stroke="#1a0a0a"/><path d="M110.1 0h10.2" stroke="#160808"/><path d="M119.7 0h10.2" stroke="#140808"/><path d="M129.3 0h10.2" stroke="#100808"/><path d="M138.9 0h10.2" stroke="#0e0808"/><path d="M148.5 0h19.8" stroke="#0c0808"/><path d="M167.7 0h19.8" stroke="#0a0606"/><path d="M186.9 0h58.2" stroke="#080606"/><path d="M244.5 0h19.8" stroke="#060606"/></g><g transform="translate(0 240.00)"><path d="M-264.3 0h19.8" stroke="#060606"/><path d="M-245.1 0h58.2" stroke="#080606"/><path d="M-187.5 0h29.4" stroke="#0a0606"/><path d="M-158.7 0h10.2" stroke="#0c0808"/><path d="M-149.1 0h19.8" stroke="#0e0808"/><path d="M-129.9 0h10.2" stroke="#100808"/><path d="M-120.3 0h10.2" stroke="#140808"/><path d="M-110.7 0h10.2" stroke="#160808"/><path d="M-101.1 0h10.2" stroke="#1a0a0a"/><path d="M-91.5 0h10.2" stroke="#1e0a0a"/><path d="M-81.9 0h10.2" stroke="#240c0c"/><path d="M-72.3 0h10.2" stroke="#2a0e0c"/><path d="M-62.7 0h10.2" stroke="#2e100e"/><path d="M-53.1 0h10.2" stroke="#32120e"/><path d="M-43.5 0h10.2" stroke="#381210"/><path d="M-33.9 0h10.2" stroke="#3f110f"/><path d="M-24.3 0h48.6" stroke="#44110f"/><path d="M23.7 0h10.2" stroke="#3f110f"/><path d="M33.3 0h10.2" stroke="#381210"/><path d="M42.9 0h10.2" stroke="#32120e"/><path d="M52.5 0h10.2" stroke="#2e100e"/><path d="M62.1 0h10.2" stroke="#2a0e0c"/><path d="M71.7 0h10.2" stroke="#240c0c"/><path d="M81.3 0h10.2" stroke="#1e0a0a"/><path d="M90.9 0h10.2" stroke="#1a0a0a"/><path d="M100.5 0h10.2" stroke="#160808"/><path d="M110.1 0h10.2" stroke="#140808"/><path d="M119.7 0h10.2" stroke="#100808"/><path d="M129.3 0h19.8" stroke="#0e0808"/><path d="M148.5 0h10.2" stroke="#0c0808"/><path d="M158.1 0h29.4" stroke="#0a0606"/><path d="M186.9 0h58.2" stroke="#080606"/><path d="M244.5 0h19.8" stroke="#060606"/></g><g transform="translate(0 247.50)"><path d="M-264.3 0h19.8" stroke="#060606"/><path d="M-245.1 0h67.8" stroke="#080606"/><path d="M-177.9 0h19.8" stroke="#0a0606"/><path d="M-158.7 0h19.8" stroke="#0c0808"/><path d="M-139.5 0h19.8" stroke="#0e0808"/><path d="M-120.3 0h10.2" stroke="#120808"/><path d="M-110.7 0h10.2" stroke="#140808"/><path d="M-101.1 0h10.2" stroke="#160808"/><path d="M-91.5 0h10.2" stroke="#1a0a0a"/><path d="M-81.9 0h10.2" stroke="#1e0a0a"/><path d="M-72.3 0h10.2" stroke="#240c0c"/><path d="M-62.7 0h10.2" stroke="#260e0c"/><path d="M-53.1 0h10.2" stroke="#2a0e0c"/><path d="M-43.5 0h10.2" stroke="#2e100e"/><path d="M-33.9 0h10.2" stroke="#32120e"/><path d="M-24.3 0h48.6" stroke="#341210"/><path d="M23.7 0h10.2" stroke="#32120e"/><path d="M33.3 0h10.2" stroke="#2e100e"/><path d="M42.9 0h10.2" stroke="#2a0e0c"/><path d="M52.5 0h10.2" stroke="#260e0c"/><path d="M62.1 0h10.2" stroke="#240c0c"/><path d="M71.7 0h10.2" stroke="#1e0a0a"/><path d="M81.3 0h10.2" stroke="#1a0a0a"/><path d="M90.9 0h10.2" stroke="#160808"/><path d="M100.5 0h10.2" stroke="#140808"/><path d="M110.1 0h10.2" stroke="#120808"/><path d="M119.7 0h19.8" stroke="#0e0808"/><path d="M138.9 0h19.8" stroke="#0c0808"/><path d="M158.1 0h19.8" stroke="#0a0606"/><path d="M177.3 0h67.8" stroke="#080606"/><path d="M244.5 0h19.8" stroke="#060606"/></g><g transform="translate(0 255.00)"><path d="M-264.3 0h29.4" stroke="#060606"/><path d="M-235.5 0h58.2" stroke="#080606"/><path d="M-177.9 0h29.4" stroke="#0a0606"/><path d="M-149.1 0h19.8" stroke="#0c0808"/><path d="M-129.9 0h19.8" stroke="#0e0808"/><path d="M-110.7 0h10.2" stroke="#100808"/><path d="M-101.1 0h10.2" stroke="#140808"/><path d="M-91.5 0h10.2" stroke="#160808"/><path d="M-81.9 0h10.2" stroke="#1a0a0a"/><path d="M-72.3 0h10.2" stroke="#1e0a0a"/><path d="M-62.7 0h10.2" stroke="#200c0a"/><path d="M-53.1 0h10.2" stroke="#220c0c"/><path d="M-43.5 0h10.2" stroke="#260e0c"/><path d="M-33.9 0h10.2" stroke="#280e0c"/><path d="M-24.3 0h48.6" stroke="#2a0e0c"/><path d="M23.7 0h10.2" stroke="#280e0c"/><path d="M33.3 0h10.2" stroke="#260e0c"/><path d="M42.9 0h10.2" stroke="#220c0c"/><path d="M52.5 0h10.2" stroke="#200c0a"/><path d="M62.1 0h10.2" stroke="#1e0a0a"/><path d="M71.7 0h10.2" stroke="#1a0a0a"/><path d="M81.3 0h10.2" stroke="#160808"/><path d="M90.9 0h10.2" stroke="#140808"/><path d="M100.5 0h10.2" stroke="#100808"/><path d="M110.1 0h19.8" stroke="#0e0808"/><path d="M129.3 0h19.8" stroke="#0c0808"/><path d="M148.5 0h29.4" stroke="#0a0606"/><path d="M177.3 0h58.2" stroke="#080606"/><path d="M234.9 0h29.4" stroke="#060606"/></g><g transform="translate(0 262.50)"><path d="M-264.3 0h29.4" stroke="#060606"/><path d="M-235.5 0h67.8" stroke="#080606"/><path d="M-168.3 0h29.4" stroke="#0a0606"/><path d="M-139.5 0h19.8" stroke="#0c0808"/><path d="M-120.3 0h19.8" stroke="#0e0808"/><path d="M-101.1 0h10.2" stroke="#120808"/><path d="M-91.5 0h10.2" stroke="#140808"/><path d="M-81.9 0h10.2" stroke="#160808"/><path d="M-72.3 0h10.2" stroke="#180a0a"/><path d="M-62.7 0h10.2" stroke="#1a0a0a"/><path d="M-53.1 0h10.2" stroke="#1e0a0a"/><path d="M-43.5 0h10.2" stroke="#200c0a"/><path d="M-33.9 0h10.2" stroke="#220c0c"/><path d="M-24.3 0h48.6" stroke="#240c0c"/><path d="M23.7 0h10.2" stroke="#220c0c"/><path d="M33.3 0h10.2" stroke="#200c0a"/><path d="M42.9 0h10.2" stroke="#1e0a0a"/><path d="M52.5 0h10.2" stroke="#1a0a0a"/><path d="M62.1 0h10.2" stroke="#180a0a"/><path d="M71.7 0h10.2" stroke="#160808"/><path d="M81.3 0h10.2" stroke="#140808"/><path d="M90.9 0h10.2" stroke="#120808"/><path d="M100.5 0h19.8" stroke="#0e0808"/><path d="M119.7 0h19.8" stroke="#0c0808"/><path d="M138.9 0h29.4" stroke="#0a0606"/><path d="M167.7 0h67.8" stroke="#080606"/><path d="M234.9 0h29.4" stroke="#060606"/></g><g transform="translate(0 270.00)"><path d="M-264.3 0h39.0" stroke="#060606"/><path d="M-225.9 0h67.8" stroke="#080606"/><path d="M-158.7 0h29.4" stroke="#0a0606"/><path d="M-129.9 0h19.8" stroke="#0c0808"/><path d="M-110.7 0h19.8" stroke="#0e0808"/><path d="M-91.5 0h10.2" stroke="#100808"/><path d="M-81.9 0h10.2" stroke="#120808"/><path d="M-72.3 0h10.2" stroke="#140808"/><path d="M-62.7 0h10.2" stroke="#160808"/><path d="M-53.1 0h10.2" stroke="#180808"/><path d="M-43.5 0h10.2" stroke="#1a0a0a"/><path d="M-33.9 0h67.8" stroke="#1c0a0a"/><path d="M33.3 0h10.2" stroke="#1a0a0a"/><path d="M42.9 0h10.2" stroke="#180808"/><path d="M52.5 0h10.2" stroke="#160808"/><path d="M62.1 0h10.2" stroke="#140808"/><path d="M71.7 0h10.2" stroke="#120808"/><path d="M81.3 0h10.2" stroke="#100808"/><path d="M90.9 0h19.8" stroke="#0e0808"/><path d="M110.1 0h19.8" stroke="#0c0808"/><path d="M129.3 0h29.4" stroke="#0a0606"/><path d="M158.1 0h67.8" stroke="#080606"/><path d="M225.3 0h39.0" stroke="#060606"/></g><g transform="translate(0 277.50)"><path d="M-264.3 0h39.0" stroke="#060606"/><path d="M-225.9 0h77.4" stroke="#080606"/><path d="M-149.1 0h29.4" stroke="#0a0606"/><path d="M-120.3 0h19.8" stroke="#0c0808"/><path d="M-101.1 0h19.8" stroke="#0e0808"/><path d="M-81.9 0h10.2" stroke="#100808"/><path d="M-72.3 0h19.8" stroke="#120808"/><path d="M-53.1 0h10.2" stroke="#140808"/><path d="M-43.5 0h10.2" stroke="#160808"/><path d="M-33.9 0h67.8" stroke="#180808"/><path d="M33.3 0h10.2" stroke="#160808"/><path d="M42.9 0h10.2" stroke="#140808"/><path d="M52.5 0h19.8" stroke="#120808"/><path d="M71.7 0h10.2" stroke="#100808"/><path d="M81.3 0h19.8" stroke="#0e0808"/><path d="M100.5 0h19.8" stroke="#0c0808"/><path d="M119.7 0h29.4" stroke="#0a0606"/><path d="M148.5 0h77.4" stroke="#080606"/><path d="M225.3 0h39.0" stroke="#060606"/></g><g transform="translate(0 285.00)"><path d="M-264.3 0h48.6" stroke="#060606"/><path d="M-216.3 0h77.4" stroke="#080606"/><path d="M-139.5 0h29.4" stroke="#0a0606"/><path d="M-110.7 0h19.8" stroke="#0c0808"/><path d="M-91.5 0h29.4" stroke="#0e0808"/><path d="M-62.7 0h10.2" stroke="#100808"/><path d="M-53.1 0h19.8" stroke="#120808"/><path d="M-33.9 0h67.8" stroke="#140808"/><path d="M33.3 0h19.8" stroke="#120808"/><path d="M52.5 0h10.2" stroke="#100808"/><path d="M62.1 0h29.4" stroke="#0e0808"/><path d="M90.9 0h19.8" stroke="#0c0808"/><path d="M110.1 0h29.4" stroke="#0a0606"/><path d="M138.9 0h77.4" stroke="#080606"/><path d="M215.7 0h48.6" stroke="#060606"/></g><g transform="translate(0 292.50)"><path d="M-264.3 0h48.6" stroke="#060606"/><path d="M-216.3 0h87.0" stroke="#080606"/><path d="M-129.9 0h29.4" stroke="#0a0606"/><path d="M-101.1 0h29.4" stroke="#0c0808"/><path d="M-72.3 0h29.4" stroke="#0e0808"/><path d="M-43.5 0h87.0" stroke="#100808"/><path d="M42.9 0h29.4" stroke="#0e0808"/><path d="M71.7 0h29.4" stroke="#0c0808"/><path d="M100.5 0h29.4" stroke="#0a0606"/><path d="M129.3 0h87.0" stroke="#080606"/><path d="M215.7 0h48.6" stroke="#060606"/></g><g transform="translate(0 300.00)"><path d="M-264.3 0h58.2" stroke="#060606"/><path d="M-206.7 0h87.0" stroke="#080606"/><path d="M-120.3 0h39.0" stroke="#0a0606"/><path d="M-81.9 0h29.4" stroke="#0c0808"/><path d="M-53.1 0h106.2" stroke="#0e0808"/><path d="M52.5 0h29.4" stroke="#0c0808"/><path d="M81.3 0h39.0" stroke="#0a0606"/><path d="M119.7 0h87.0" stroke="#080606"/><path d="M206.1 0h58.2" stroke="#060606"/></g><g transform="translate(0 307.50)"><path d="M-264.3 0h67.8" stroke="#060606"/><path d="M-197.1 0h87.0" stroke="#080606"/><path d="M-110.7 0h48.6" stroke="#0a0606"/><path d="M-62.7 0h125.4" stroke="#0c0808"/><path d="M62.1 0h48.6" stroke="#0a0606"/><path d="M110.1 0h87.0" stroke="#080606"/><path d="M196.5 0h67.8" stroke="#060606"/></g><g transform="translate(0 315.00)"><path d="M-264.3 0h77.4" stroke="#060606"/><path d="M-187.5 0h87.0" stroke="#080606"/><path d="M-101.1 0h58.2" stroke="#0a0606"/><path d="M-43.5 0h87.0" stroke="#0c0808"/><path d="M42.9 0h58.2" stroke="#0a0606"/><path d="M100.5 0h87.0" stroke="#080606"/><path d="M186.9 0h77.4" stroke="#060606"/></g><g transform="translate(0 322.50)"><path d="M-264.3 0h87.0" stroke="#060606"/><path d="M-177.9 0h96.6" stroke="#080606"/><path d="M-81.9 0h163.8" stroke="#0a0606"/><path d="M81.3 0h96.6" stroke="#080606"/><path d="M177.3 0h87.0" stroke="#060606"/></g><g transform="translate(0 330.00)"><path d="M-264.3 0h96.6" stroke="#060606"/><path d="M-168.3 0h106.2" stroke="#080606"/><path d="M-62.7 0h125.4" stroke="#0a0606"/><path d="M62.1 0h106.2" stroke="#080606"/><path d="M167.7 0h96.6" stroke="#060606"/></g><g transform="translate(0 337.50)"><path d="M-264.3 0h106.2" stroke="#060606"/><path d="M-158.7 0h135.0" stroke="#080606"/><path d="M-24.3 0h48.6" stroke="#0a0606"/><path d="M23.7 0h135.0" stroke="#080606"/><path d="M158.1 0h106.2" stroke="#060606"/></g><g transform="translate(0 345.00)"><path d="M-264.3 0h115.8" stroke="#060606"/><path d="M-149.1 0h298.2" stroke="#080606"/><path d="M148.5 0h115.8" stroke="#060606"/></g></g></g></g><rect x="88" y="81.5" width="495.5" height="674.5" fill="none" stroke="#0a0a0a" stroke-width="3"/><line x1="90.5" y1="78.5" x2="90.5" y2="82.5" stroke="#0a0a0a" stroke-width="3" stroke-linecap="butt"/><line x1="90.5" y1="755" x2="90.5" y2="759" stroke="#0a0a0a" stroke-width="3" stroke-linecap="butt"/><line x1="108" y1="78.5" x2="108" y2="82.5" stroke="#0a0a0a" stroke-width="3" stroke-linecap="butt"/><line x1="108" y1="755" x2="108" y2="759" stroke="#0a0a0a" stroke-width="3" stroke-linecap="butt"/><line x1="125.5" y1="78.5" x2="125.5" y2="82.5" stroke="#0a0a0a" stroke-width="3" stroke-linecap="butt"/><line x1="125.5" y1="755" x2="125.5" y2="759" stroke="#0a0a0a" stroke-width="3" stroke-linecap="butt"/><line x1="143" y1="78.5" x2="143" y2="82.5" stroke="#0a0a0a" stroke-width="3" stroke-linecap="butt"/><line x1="143" y1="755" x2="143" y2="759" stroke="#0a0a0a" stroke-width="3" stroke-linecap="butt"/><line x1="160.5" y1="75.5" x2="160.5" y2="82.5" stroke="#0a0a0a" stroke-width="3" stroke-linecap="butt"/><line x1="160.5" y1="755" x2="160.5" y2="762" stroke="#0a0a0a" stroke-width="3" stroke-linecap="butt"/><line x1="178" y1="78.5" x2="178" y2="82.5" stroke="#0a0a0a" stroke-width="3" stroke-linecap="butt"/><line x1="178" y1="755" x2="178" y2="759" stroke="#0a0a0a" stroke-width="3" stroke-linecap="butt"/><line x1="195.5" y1="78.5" x2="195.5" y2="82.5" stroke="#0a0a0a" stroke-width="3" stroke-linecap="butt"/><line x1="195.5" y1="755" x2="195.5" y2="759" stroke="#0a0a0a" stroke-width="3" stroke-linecap="butt"/><line x1="213" y1="78.5" x2="213" y2="82.5" stroke="#0a0a0a" stroke-width="3" stroke-linecap="butt"/><line x1="213" y1="755" x2="213" y2="759" stroke="#0a0a0a" stroke-width="3" stroke-linecap="butt"/><line x1="230.5" y1="78.5" x2="230.5" y2="82.5" stroke="#0a0a0a" stroke-width="3" stroke-linecap="butt"/><line x1="230.5" y1="755" x2="230.5" y2="759" stroke="#0a0a0a" stroke-width="3" stroke-linecap="butt"/><line x1="248" y1="77.5" x2="248" y2="82.5" stroke="#0a0a0a" stroke-width="3" stroke-linecap="butt"/><line x1="248" y1="755" x2="248" y2="760" stroke="#0a0a0a" stroke-width="3" stroke-linecap="butt"/><line x1="265.5" y1="78.5" x2="265.5" y2="82.5" stroke="#0a0a0a" stroke-width="3" stroke-linecap="butt"/><line x1="265.5" y1="755" x2="265.5" y2="759" stroke="#0a0a0a" stroke-width="3" stroke-linecap="butt"/><line x1="283" y1="78.5" x2="283" y2="82.5" stroke="#0a0a0a" stroke-width="3" stroke-linecap="butt"/><line x1="283" y1="755" x2="283" y2="759" stroke="#0a0a0a" stroke-width="3" stroke-linecap="butt"/><line x1="300.5" y1="78.5" x2="300.5" y2="82.5" stroke="#0a0a0a" stroke-width="3" stroke-linecap="butt"/><line x1="300.5" y1="755" x2="300.5" y2="759" stroke="#0a0a0a" stroke-width="3" stroke-linecap="butt"/><line x1="318" y1="78.5" x2="318" y2="82.5" stroke="#0a0a0a" stroke-width="3" stroke-linecap="butt"/><line x1="318" y1="755" x2="318" y2="759" stroke="#0a0a0a" stroke-width="3" stroke-linecap="butt"/><line x1="335.5" y1="75.5" x2="335.5" y2="82.5" stroke="#0a0a0a" stroke-width="3" stroke-linecap="butt"/><line x1="335.5" y1="755" x2="335.5" y2="762" stroke="#0a0a0a" stroke-width="3" stroke-linecap="butt"/><line x1="353" y1="78.5" x2="353" y2="82.5" stroke="#0a0a0a" stroke-width="3" stroke-linecap="butt"/><line x1="353" y1="755" x2="353" y2="759" stroke="#0a0a0a" stroke-width="3" stroke-linecap="butt"/><line x1="370.5" y1="78.5" x2="370.5" y2="82.5" stroke="#0a0a0a" stroke-width="3" stroke-linecap="butt"/><line x1="370.5" y1="755" x2="370.5" y2="759" stroke="#0a0a0a" stroke-width="3" stroke-linecap="butt"/><line x1="388" y1="78.5" x2="388" y2="82.5" stroke="#0a0a0a" stroke-width="3" stroke-linecap="butt"/><line x1="388" y1="755" x2="388" y2="759" stroke="#0a0a0a" stroke-width="3" stroke-linecap="butt"/><line x1="405.5" y1="78.5" x2="405.5" y2="82.5" stroke="#0a0a0a" stroke-width="3" stroke-linecap="butt"/><line x1="405.5" y1="755" x2="405.5" y2="759" stroke="#0a0a0a" stroke-width="3" stroke-linecap="butt"/><line x1="423" y1="77.5" x2="423" y2="82.5" stroke="#0a0a0a" stroke-width="3" stroke-linecap="butt"/><line x1="423" y1="755" x2="423" y2="760" stroke="#0a0a0a" stroke-width="3" stroke-linecap="butt"/><line x1="440.5" y1="78.5" x2="440.5" y2="82.5" stroke="#0a0a0a" stroke-width="3" stroke-linecap="butt"/><line x1="440.5" y1="755" x2="440.5" y2="759" stroke="#0a0a0a" stroke-width="3" stroke-linecap="butt"/><line x1="458" y1="78.5" x2="458" y2="82.5" stroke="#0a0a0a" stroke-width="3" stroke-linecap="butt"/><line x1="458" y1="755" x2="458" y2="759" stroke="#0a0a0a" stroke-width="3" stroke-linecap="butt"/><line x1="475.5" y1="78.5" x2="475.5" y2="82.5" stroke="#0a0a0a" stroke-width="3" stroke-linecap="butt"/><line x1="475.5" y1="755" x2="475.5" y2="759" stroke="#0a0a0a" stroke-width="3" stroke-linecap="butt"/><line x1="493" y1="78.5" x2="493" y2="82.5" stroke="#0a0a0a" stroke-width="3" stroke-linecap="butt"/><line x1="493" y1="755" x2="493" y2="759" stroke="#0a0a0a" stroke-width="3" stroke-linecap="butt"/><line x1="510.5" y1="75.5" x2="510.5" y2="82.5" stroke="#0a0a0a" stroke-width="3" stroke-linecap="butt"/><line x1="510.5" y1="755" x2="510.5" y2="762" stroke="#0a0a0a" stroke-width="3" stroke-linecap="butt"/><line x1="528" y1="78.5" x2="528" y2="82.5" stroke="#0a0a0a" stroke-width="3" stroke-linecap="butt"/><line x1="528" y1="755" x2="528" y2="759" stroke="#0a0a0a" stroke-width="3" stroke-linecap="butt"/><line x1="545.5" y1="78.5" x2="545.5" y2="82.5" stroke="#0a0a0a" stroke-width="3" stroke-linecap="butt"/><line x1="545.5" y1="755" x2="545.5" y2="759" stroke="#0a0a0a" stroke-width="3" stroke-linecap="butt"/><line x1="563" y1="78.5" x2="563" y2="82.5" stroke="#0a0a0a" stroke-width="3" stroke-linecap="butt"/><line x1="563" y1="755" x2="563" y2="759" stroke="#0a0a0a" stroke-width="3" stroke-linecap="butt"/><line x1="580.5" y1="78.5" x2="580.5" y2="82.5" stroke="#0a0a0a" stroke-width="3" stroke-linecap="butt"/><line x1="580.5" y1="755" x2="580.5" y2="759" stroke="#0a0a0a" stroke-width="3" stroke-linecap="butt"/><line x1="82" y1="748.2" x2="89" y2="748.2" stroke="#0a0a0a" stroke-width="3" stroke-linecap="butt"/><line x1="582.5" y1="748.2" x2="589.5" y2="748.2" stroke="#0a0a0a" stroke-width="3" stroke-linecap="butt"/><line x1="85" y1="731.7" x2="89" y2="731.7" stroke="#0a0a0a" stroke-width="3" stroke-linecap="butt"/><line x1="582.5" y1="731.7" x2="586.5" y2="731.7" stroke="#0a0a0a" stroke-width="3" stroke-linecap="butt"/><line x1="85" y1="715.2" x2="89" y2="715.2" stroke="#0a0a0a" stroke-width="3" stroke-linecap="butt"/><line x1="582.5" y1="715.2" x2="586.5" y2="715.2" stroke="#0a0a0a" stroke-width="3" stroke-linecap="butt"/><line x1="85" y1="698.7" x2="89" y2="698.7" stroke="#0a0a0a" stroke-width="3" stroke-linecap="butt"/><line x1="582.5" y1="698.7" x2="586.5" y2="698.7" stroke="#0a0a0a" stroke-width="3" stroke-linecap="butt"/><line x1="85" y1="682.2" x2="89" y2="682.2" stroke="#0a0a0a" stroke-width="3" stroke-linecap="butt"/><line x1="582.5" y1="682.2" x2="586.5" y2="682.2" stroke="#0a0a0a" stroke-width="3" stroke-linecap="butt"/><line x1="84" y1="665.7" x2="89" y2="665.7" stroke="#0a0a0a" stroke-width="3" stroke-linecap="butt"/><line x1="582.5" y1="665.7" x2="587.5" y2="665.7" stroke="#0a0a0a" stroke-width="3" stroke-linecap="butt"/><line x1="85" y1="649.2" x2="89" y2="649.2" stroke="#0a0a0a" stroke-width="3" stroke-linecap="butt"/><line x1="582.5" y1="649.2" x2="586.5" y2="649.2" stroke="#0a0a0a" stroke-width="3" stroke-linecap="butt"/><line x1="85" y1="632.7" x2="89" y2="632.7" stroke="#0a0a0a" stroke-width="3" stroke-linecap="butt"/><line x1="582.5" y1="632.7" x2="586.5" y2="632.7" stroke="#0a0a0a" stroke-width="3" stroke-linecap="butt"/><line x1="85" y1="616.2" x2="89" y2="616.2" stroke="#0a0a0a" stroke-width="3" stroke-linecap="butt"/><line x1="582.5" y1="616.2" x2="586.5" y2="616.2" stroke="#0a0a0a" stroke-width="3" stroke-linecap="butt"/><line x1="85" y1="599.7" x2="89" y2="599.7" stroke="#0a0a0a" stroke-width="3" stroke-linecap="butt"/><line x1="582.5" y1="599.7" x2="586.5" y2="599.7" stroke="#0a0a0a" stroke-width="3" stroke-linecap="butt"/><line x1="82" y1="583.2" x2="89" y2="583.2" stroke="#0a0a0a" stroke-width="3" stroke-linecap="butt"/><line x1="582.5" y1="583.2" x2="589.5" y2="583.2" stroke="#0a0a0a" stroke-width="3" stroke-linecap="butt"/><line x1="85" y1="566.7" x2="89" y2="566.7" stroke="#0a0a0a" stroke-width="3" stroke-linecap="butt"/><line x1="582.5" y1="566.7" x2="586.5" y2="566.7" stroke="#0a0a0a" stroke-width="3" stroke-linecap="butt"/><line x1="85" y1="550.2" x2="89" y2="550.2" stroke="#0a0a0a" stroke-width="3" stroke-linecap="butt"/><line x1="582.5" y1="550.2" x2="586.5" y2="550.2" stroke="#0a0a0a" stroke-width="3" stroke-linecap="butt"/><line x1="85" y1="533.7" x2="89" y2="533.7" stroke="#0a0a0a" stroke-width="3" stroke-linecap="butt"/><line x1="582.5" y1="533.7" x2="586.5" y2="533.7" stroke="#0a0a0a" stroke-width="3" stroke-linecap="butt"/><line x1="85" y1="517.2" x2="89" y2="517.2" stroke="#0a0a0a" stroke-width="3" stroke-linecap="butt"/><line x1="582.5" y1="517.2" x2="586.5" y2="517.2" stroke="#0a0a0a" stroke-width="3" stroke-linecap="butt"/><line x1="84" y1="500.7" x2="89" y2="500.7" stroke="#0a0a0a" stroke-width="3" stroke-linecap="butt"/><line x1="582.5" y1="500.7" x2="587.5" y2="500.7" stroke="#0a0a0a" stroke-width="3" stroke-linecap="butt"/><line x1="85" y1="484.2" x2="89" y2="484.2" stroke="#0a0a0a" stroke-width="3" stroke-linecap="butt"/><line x1="582.5" y1="484.2" x2="586.5" y2="484.2" stroke="#0a0a0a" stroke-width="3" stroke-linecap="butt"/><line x1="85" y1="467.7" x2="89" y2="467.7" stroke="#0a0a0a" stroke-width="3" stroke-linecap="butt"/><line x1="582.5" y1="467.7" x2="586.5" y2="467.7" stroke="#0a0a0a" stroke-width="3" stroke-linecap="butt"/><line x1="85" y1="451.2" x2="89" y2="451.2" stroke="#0a0a0a" stroke-width="3" stroke-linecap="butt"/><line x1="582.5" y1="451.2" x2="586.5" y2="451.2" stroke="#0a0a0a" stroke-width="3" stroke-linecap="butt"/><line x1="85" y1="434.7" x2="89" y2="434.7" stroke="#0a0a0a" stroke-width="3" stroke-linecap="butt"/><line x1="582.5" y1="434.7" x2="586.5" y2="434.7" stroke="#0a0a0a" stroke-width="3" stroke-linecap="butt"/><line x1="82" y1="418.2" x2="89" y2="418.2" stroke="#0a0a0a" stroke-width="3" stroke-linecap="butt"/><line x1="582.5" y1="418.2" x2="589.5" y2="418.2" stroke="#0a0a0a" stroke-width="3" stroke-linecap="butt"/><line x1="85" y1="401.7" x2="89" y2="401.7" stroke="#0a0a0a" stroke-width="3" stroke-linecap="butt"/><line x1="582.5" y1="401.7" x2="586.5" y2="401.7" stroke="#0a0a0a" stroke-width="3" stroke-linecap="butt"/><line x1="85" y1="385.2" x2="89" y2="385.2" stroke="#0a0a0a" stroke-width="3" stroke-linecap="butt"/><line x1="582.5" y1="385.2" x2="586.5" y2="385.2" stroke="#0a0a0a" stroke-width="3" stroke-linecap="butt"/><line x1="85" y1="368.7" x2="89" y2="368.7" stroke="#0a0a0a" stroke-width="3" stroke-linecap="butt"/><line x1="582.5" y1="368.7" x2="586.5" y2="368.7" stroke="#0a0a0a" stroke-width="3" stroke-linecap="butt"/><line x1="85" y1="352.2" x2="89" y2="352.2" stroke="#0a0a0a" stroke-width="3" stroke-linecap="butt"/><line x1="582.5" y1="352.2" x2="586.5" y2="352.2" stroke="#0a0a0a" stroke-width="3" stroke-linecap="butt"/><line x1="84" y1="335.7" x2="89" y2="335.7" stroke="#0a0a0a" stroke-width="3" stroke-linecap="butt"/><line x1="582.5" y1="335.7" x2="587.5" y2="335.7" stroke="#0a0a0a" stroke-width="3" stroke-linecap="butt"/><line x1="85" y1="319.2" x2="89" y2="319.2" stroke="#0a0a0a" stroke-width="3" stroke-linecap="butt"/><line x1="582.5" y1="319.2" x2="586.5" y2="319.2" stroke="#0a0a0a" stroke-width="3" stroke-linecap="butt"/><line x1="85" y1="302.7" x2="89" y2="302.7" stroke="#0a0a0a" stroke-width="3" stroke-linecap="butt"/><line x1="582.5" y1="302.7" x2="586.5" y2="302.7" stroke="#0a0a0a" stroke-width="3" stroke-linecap="butt"/><line x1="85" y1="286.2" x2="89" y2="286.2" stroke="#0a0a0a" stroke-width="3" stroke-linecap="butt"/><line x1="582.5" y1="286.2" x2="586.5" y2="286.2" stroke="#0a0a0a" stroke-width="3" stroke-linecap="butt"/><line x1="85" y1="269.7" x2="89" y2="269.7" stroke="#0a0a0a" stroke-width="3" stroke-linecap="butt"/><line x1="582.5" y1="269.7" x2="586.5" y2="269.7" stroke="#0a0a0a" stroke-width="3" stroke-linecap="butt"/><line x1="82" y1="253.2" x2="89" y2="253.2" stroke="#0a0a0a" stroke-width="3" stroke-linecap="butt"/><line x1="582.5" y1="253.2" x2="589.5" y2="253.2" stroke="#0a0a0a" stroke-width="3" stroke-linecap="butt"/><line x1="85" y1="236.7" x2="89" y2="236.7" stroke="#0a0a0a" stroke-width="3" stroke-linecap="butt"/><line x1="582.5" y1="236.7" x2="586.5" y2="236.7" stroke="#0a0a0a" stroke-width="3" stroke-linecap="butt"/><line x1="85" y1="220.2" x2="89" y2="220.2" stroke="#0a0a0a" stroke-width="3" stroke-linecap="butt"/><line x1="582.5" y1="220.2" x2="586.5" y2="220.2" stroke="#0a0a0a" stroke-width="3" stroke-linecap="butt"/><line x1="85" y1="203.7" x2="89" y2="203.7" stroke="#0a0a0a" stroke-width="3" stroke-linecap="butt"/><line x1="582.5" y1="203.7" x2="586.5" y2="203.7" stroke="#0a0a0a" stroke-width="3" stroke-linecap="butt"/><line x1="85" y1="187.2" x2="89" y2="187.2" stroke="#0a0a0a" stroke-width="3" stroke-linecap="butt"/><line x1="582.5" y1="187.2" x2="586.5" y2="187.2" stroke="#0a0a0a" stroke-width="3" stroke-linecap="butt"/><line x1="84" y1="170.7" x2="89" y2="170.7" stroke="#0a0a0a" stroke-width="3" stroke-linecap="butt"/><line x1="582.5" y1="170.7" x2="587.5" y2="170.7" stroke="#0a0a0a" stroke-width="3" stroke-linecap="butt"/><line x1="85" y1="154.2" x2="89" y2="154.2" stroke="#0a0a0a" stroke-width="3" stroke-linecap="butt"/><line x1="582.5" y1="154.2" x2="586.5" y2="154.2" stroke="#0a0a0a" stroke-width="3" stroke-linecap="butt"/><line x1="85" y1="137.7" x2="89" y2="137.7" stroke="#0a0a0a" stroke-width="3" stroke-linecap="butt"/><line x1="582.5" y1="137.7" x2="586.5" y2="137.7" stroke="#0a0a0a" stroke-width="3" stroke-linecap="butt"/><line x1="85" y1="121.2" x2="89" y2="121.2" stroke="#0a0a0a" stroke-width="3" stroke-linecap="butt"/><line x1="582.5" y1="121.2" x2="586.5" y2="121.2" stroke="#0a0a0a" stroke-width="3" stroke-linecap="butt"/><line x1="85" y1="104.7" x2="89" y2="104.7" stroke="#0a0a0a" stroke-width="3" stroke-linecap="butt"/><line x1="582.5" y1="104.7" x2="586.5" y2="104.7" stroke="#0a0a0a" stroke-width="3" stroke-linecap="butt"/><line x1="82" y1="88.2" x2="89" y2="88.2" stroke="#0a0a0a" stroke-width="3" stroke-linecap="butt"/><line x1="582.5" y1="88.2" x2="589.5" y2="88.2" stroke="#0a0a0a" stroke-width="3" stroke-linecap="butt"/><g clip-path="url(#clipB)"><rect x="88" y="942" width="495.5" height="676.5" fill="#070707"/><g transform="translate(335.25 1280)"><g filter="url(#hblur)" fill="none" stroke-width="8.10"><g transform="translate(0 -345.00)"><path d="M-264.3 0h115.8" stroke="#060606"/><path d="M-149.1 0h298.2" stroke="#080606"/><path d="M148.5 0h115.8" stroke="#060606"/></g><g transform="translate(0 -337.50)"><path d="M-264.3 0h106.2" stroke="#060606"/><path d="M-158.7 0h135.0" stroke="#080606"/><path d="M-24.3 0h48.6" stroke="#0a0606"/><path d="M23.7 0h135.0" stroke="#080606"/><path d="M158.1 0h106.2" stroke="#060606"/></g><g transform="translate(0 -330.00)"><path d="M-264.3 0h96.6" stroke="#060606"/><path d="M-168.3 0h106.2" stroke="#080606"/><path d="M-62.7 0h125.4" stroke="#0a0606"/><path d="M62.1 0h106.2" stroke="#080606"/><path d="M167.7 0h96.6" stroke="#060606"/></g><g transform="translate(0 -322.50)"><path d="M-264.3 0h87.0" stroke="#060606"/><path d="M-177.9 0h96.6" stroke="#080606"/><path d="M-81.9 0h163.8" stroke="#0a0606"/><path d="M81.3 0h96.6" stroke="#080606"/><path d="M177.3 0h87.0" stroke="#060606"/></g><g transform="translate(0 -315.00)"><path d="M-264.3 0h77.4" stroke="#060606"/><path d="M-187.5 0h87.0" stroke="#080606"/><path d="M-101.1 0h58.2" stroke="#0a0606"/><path d="M-43.5 0h87.0" stroke="#0c0808"/><path d="M42.9 0h58.2" stroke="#0a0606"/><path d="M100.5 0h87.0" stroke="#080606"/><path d="M186.9 0h77.4" stroke="#060606"/></g><g transform="translate(0 -307.50)"><path d="M-264.3 0h67.8" stroke="#060606"/><path d="M-197.1 0h87.0" stroke="#080606"/><path d="M-110.7 0h48.6" stroke="#0a0606"/><path d="M-62.7 0h125.4" stroke="#0c0808"/><path d="M62.1 0h48.6" stroke="#0a0606"/><path d="M110.1 0h87.0" stroke="#080606"/><path d="M196.5 0h67.8" stroke="#060606"/></g><g transform="translate(0 -300.00)"><path d="M-264.3 0h58.2" stroke="#060606"/><path d="M-206.7 0h87.0" stroke="#080606"/><path d="M-120.3 0h29.4" stroke="#0a0606"/><path d="M-91.5 0h39.0" stroke="#0c0808"/><path d="M-53.1 0h106.2" stroke="#0e0808"/><path d="M52.5 0h39.0" stroke="#0c0808"/><path d="M90.9 0h29.4" stroke="#0a0606"/><path d="M119.7 0h87.0" stroke="#080606"/><path d="M206.1 0h58.2" stroke="#060606"/></g><g transform="translate(0 -292.50)"><path d="M-264.3 0h48.6" stroke="#060606"/><path d="M-216.3 0h87.0" stroke="#080606"/><path d="M-129.9 0h29.4" stroke="#0a0606"/><path d="M-101.1 0h29.4" stroke="#0c0808"/><path d="M-72.3 0h29.4" stroke="#0e0808"/><path d="M-43.5 0h87.0" stroke="#100808"/><path d="M42.9 0h29.4" stroke="#0e0808"/><path d="M71.7 0h29.4" stroke="#0c0808"/><path d="M100.5 0h29.4" stroke="#0a0606"/><path d="M129.3 0h87.0" stroke="#080606"/><path d="M215.7 0h48.6" stroke="#060606"/></g><g transform="translate(0 -285.00)"><path d="M-264.3 0h48.6" stroke="#060606"/><path d="M-216.3 0h77.4" stroke="#080606"/><path d="M-139.5 0h29.4" stroke="#0a0606"/><path d="M-110.7 0h19.8" stroke="#0c0808"/><path d="M-91.5 0h19.8" stroke="#0e0808"/><path d="M-72.3 0h19.8" stroke="#100808"/><path d="M-53.1 0h19.8" stroke="#120808"/><path d="M-33.9 0h67.8" stroke="#140808"/><path d="M33.3 0h19.8" stroke="#120808"/><path d="M52.5 0h19.8" stroke="#100808"/><path d="M71.7 0h19.8" stroke="#0e0808"/><path d="M90.9 0h19.8" stroke="#0c0808"/><path d="M110.1 0h29.4" stroke="#0a0606"/><path d="M138.9 0h77.4" stroke="#080606"/><path d="M215.7 0h48.6" stroke="#060606"/></g><g transform="translate(0 -277.50)"><path d="M-264.3 0h39.0" stroke="#060606"/><path d="M-225.9 0h77.4" stroke="#080606"/><path d="M-149.1 0h29.4" stroke="#0a0606"/><path d="M-120.3 0h19.8" stroke="#0c0808"/><path d="M-101.1 0h19.8" stroke="#0e0808"/><path d="M-81.9 0h10.2" stroke="#100808"/><path d="M-72.3 0h19.8" stroke="#120808"/><path d="M-53.1 0h10.2" stroke="#140808"/><path d="M-43.5 0h10.2" stroke="#160808"/><path d="M-33.9 0h67.8" stroke="#180808"/><path d="M33.3 0h10.2" stroke="#160808"/><path d="M42.9 0h10.2" stroke="#140808"/><path d="M52.5 0h19.8" stroke="#120808"/><path d="M71.7 0h10.2" stroke="#100808"/><path d="M81.3 0h19.8" stroke="#0e0808"/><path d="M100.5 0h19.8" stroke="#0c0808"/><path d="M119.7 0h29.4" stroke="#0a0606"/><path d="M148.5 0h77.4" stroke="#080606"/><path d="M225.3 0h39.0" stroke="#060606"/></g><g transform="translate(0 -270.00)"><path d="M-264.3 0h29.4" stroke="#060606"/><path d="M-235.5 0h77.4" stroke="#080606"/><path d="M-158.7 0h29.4" stroke="#0a0606"/><path d="M-129.9 0h19.8" stroke="#0c0808"/><path d="M-110.7 0h10.2" stroke="#0e0808"/><path d="M-101.1 0h10.2" stroke="#100808"/><path d="M-91.5 0h19.8" stroke="#120808"/><path d="M-72.3 0h19.8" stroke="#160808"/><path d="M-53.1 0h10.2" stroke="#180a0a"/><path d="M-43.5 0h19.8" stroke="#1c0a0a"/><path d="M-24.3 0h48.6" stroke="#1e0a0a"/><path d="M23.7 0h19.8" stroke="#1c0a0a"/><path d="M42.9 0h10.2" stroke="#180a0a"/><path d="M52.5 0h19.8" stroke="#160808"/><path d="M71.7 0h19.8" stroke="#120808"/><path d="M90.9 0h10.2" stroke="#100808"/><path d="M100.5 0h10.2" stroke="#0e0808"/><path d="M110.1 0h19.8" stroke="#0c0808"/><path d="M129.3 0h29.4" stroke="#0a0606"/><path d="M158.1 0h77.4" stroke="#080606"/><path d="M234.9 0h29.4" stroke="#060606"/></g><g transform="translate(0 -262.50)"><path d="M-264.3 0h29.4" stroke="#060606"/><path d="M-235.5 0h67.8" stroke="#080606"/><path d="M-168.3 0h29.4" stroke="#0a0606"/><path d="M-139.5 0h19.8" stroke="#0c0808"/><path d="M-120.3 0h19.8" stroke="#0e0808"/><path d="M-101.1 0h10.2" stroke="#120808"/><path d="M-91.5 0h10.2" stroke="#140808"/><path d="M-81.9 0h10.2" stroke="#160808"/><path d="M-72.3 0h10.2" stroke="#180a0a"/><path d="M-62.7 0h10.2" stroke="#1a0a0a"/><path d="M-53.1 0h10.2" stroke="#1e0a0a"/><path d="M-43.5 0h10.2" stroke="#200c0a"/><path d="M-33.9 0h10.2" stroke="#220c0c"/><path d="M-24.3 0h48.6" stroke="#240c0c"/><path d="M23.7 0h10.2" stroke="#220c0c"/><path d="M33.3 0h10.2" stroke="#200c0a"/><path d="M42.9 0h10.2" stroke="#1e0a0a"/><path d="M52.5 0h10.2" stroke="#1a0a0a"/><path d="M62.1 0h10.2" stroke="#180a0a"/><path d="M71.7 0h10.2" stroke="#160808"/><path d="M81.3 0h10.2" stroke="#140808"/><path d="M90.9 0h10.2" stroke="#120808"/><path d="M100.5 0h19.8" stroke="#0e0808"/><path d="M119.7 0h19.8" stroke="#0c0808"/><path d="M138.9 0h29.4" stroke="#0a0606"/><path d="M167.7 0h67.8" stroke="#080606"/><path d="M234.9 0h29.4" stroke="#060606"/></g><g transform="translate(0 -255.00)"><path d="M-264.3 0h29.4" stroke="#060606"/><path d="M-235.5 0h58.2" stroke="#080606"/><path d="M-177.9 0h29.4" stroke="#0a0606"/><path d="M-149.1 0h19.8" stroke="#0c0808"/><path d="M-129.9 0h10.2" stroke="#0e0808"/><path d="M-120.3 0h10.2" stroke="#100808"/><path d="M-110.7 0h10.2" stroke="#120808"/><path d="M-101.1 0h10.2" stroke="#140808"/><path d="M-91.5 0h10.2" stroke="#180808"/><path d="M-81.9 0h10.2" stroke="#1a0a0a"/><path d="M-72.3 0h10.2" stroke="#1e0a0a"/><path d="M-62.7 0h10.2" stroke="#200c0a"/><path d="M-53.1 0h10.2" stroke="#240c0c"/><path d="M-43.5 0h10.2" stroke="#280e0c"/><path d="M-33.9 0h10.2" stroke="#2a0e0c"/><path d="M-24.3 0h48.6" stroke="#2c100e"/><path d="M23.7 0h10.2" stroke="#2a0e0c"/><path d="M33.3 0h10.2" stroke="#280e0c"/><path d="M42.9 0h10.2" stroke="#240c0c"/><path d="M52.5 0h10.2" stroke="#200c0a"/><path d="M62.1 0h10.2" stroke="#1e0a0a"/><path d="M71.7 0h10.2" stroke="#1a0a0a"/><path d="M81.3 0h10.2" stroke="#180808"/><path d="M90.9 0h10.2" stroke="#140808"/><path d="M100.5 0h10.2" stroke="#120808"/><path d="M110.1 0h10.2" stroke="#100808"/><path d="M119.7 0h10.2" stroke="#0e0808"/><path d="M129.3 0h19.8" stroke="#0c0808"/><path d="M148.5 0h29.4" stroke="#0a0606"/><path d="M177.3 0h58.2" stroke="#080606"/><path d="M234.9 0h29.4" stroke="#060606"/></g><g transform="translate(0 -247.50)"><path d="M-264.3 0h19.8" stroke="#060606"/><path d="M-245.1 0h67.8" stroke="#080606"/><path d="M-177.9 0h19.8" stroke="#0a0606"/><path d="M-158.7 0h19.8" stroke="#0c0808"/><path d="M-139.5 0h19.8" stroke="#0e0808"/><path d="M-120.3 0h10.2" stroke="#120808"/><path d="M-110.7 0h10.2" stroke="#140808"/><path d="M-101.1 0h10.2" stroke="#160808"/><path d="M-91.5 0h10.2" stroke="#1a0a0a"/><path d="M-81.9 0h10.2" stroke="#1e0a0a"/><path d="M-72.3 0h10.2" stroke="#240c0c"/><path d="M-62.7 0h10.2" stroke="#260e0c"/><path d="M-53.1 0h10.2" stroke="#2a0e0c"/><path d="M-43.5 0h10.2" stroke="#2e100e"/><path d="M-33.9 0h10.2" stroke="#32120e"/><path d="M-24.3 0h48.6" stroke="#341210"/><path d="M23.7 0h10.2" stroke="#32120e"/><path d="M33.3 0h10.2" stroke="#2e100e"/><path d="M42.9 0h10.2" stroke="#2a0e0c"/><path d="M52.5 0h10.2" stroke="#260e0c"/><path d="M62.1 0h10.2" stroke="#240c0c"/><path d="M71.7 0h10.2" stroke="#1e0a0a"/><path d="M81.3 0h10.2" stroke="#1a0a0a"/><path d="M90.9 0h10.2" stroke="#160808"/><path d="M100.5 0h10.2" stroke="#140808"/><path d="M110.1 0h10.2" stroke="#120808"/><path d="M119.7 0h19.8" stroke="#0e0808"/><path d="M138.9 0h19.8" stroke="#0c0808"/><path d="M158.1 0h19.8" stroke="#0a0606"/><path d="M177.3 0h67.8" stroke="#080606"/><path d="M244.5 0h19.8" stroke="#060606"/></g><g transform="translate(0 -240.00)"><path d="M-264.3 0h19.8" stroke="#060606"/><path d="M-245.1 0h58.2" stroke="#080606"/><path d="M-187.5 0h29.4" stroke="#0a0606"/><path d="M-158.7 0h10.2" stroke="#0c0808"/><path d="M-149.1 0h19.8" stroke="#0e0808"/><path d="M-129.9 0h10.2" stroke="#120808"/><path d="M-120.3 0h10.2" stroke="#140808"/><path d="M-110.7 0h10.2" stroke="#160808"/><path d="M-101.1 0h10.2" stroke="#1a0a0a"/><path d="M-91.5 0h10.2" stroke="#200a0a"/><path d="M-81.9 0h10.2" stroke="#240c0c"/><path d="M-72.3 0h10.2" stroke="#2a0e0c"/><path d="M-62.7 0h10.2" stroke="#30100e"/><path d="M-53.1 0h10.2" stroke="#341210"/><path d="M-43.5 0h10.2" stroke="#3a1210"/><path d="M-33.9 0h10.2" stroke="#41110f"/><path d="M-24.3 0h10.2" stroke="#46100f"/><path d="M-14.7 0h29.4" stroke="#47100f"/><path d="M14.1 0h10.2" stroke="#46100f"/><path d="M23.7 0h10.2" stroke="#41110f"/><path d="M33.3 0h10.2" stroke="#3a1210"/><path d="M42.9 0h10.2" stroke="#341210"/><path d="M52.5 0h10.2" stroke="#30100e"/><path d="M62.1 0h10.2" stroke="#2a0e0c"/><path d="M71.7 0h10.2" stroke="#240c0c"/><path d="M81.3 0h10.2" stroke="#200a0a"/><path d="M90.9 0h10.2" stroke="#1a0a0a"/><path d="M100.5 0h10.2" stroke="#160808"/><path d="M110.1 0h10.2" stroke="#140808"/><path d="M119.7 0h10.2" stroke="#120808"/><path d="M129.3 0h19.8" stroke="#0e0808"/><path d="M148.5 0h10.2" stroke="#0c0808"/><path d="M158.1 0h29.4" stroke="#0a0606"/><path d="M186.9 0h58.2" stroke="#080606"/><path d="M244.5 0h19.8" stroke="#060606"/></g><g transform="translate(0 -232.50)"><path d="M-264.3 0h19.8" stroke="#060606"/><path d="M-245.1 0h58.2" stroke="#080606"/><path d="M-187.5 0h19.8" stroke="#0a0606"/><path d="M-168.3 0h19.8" stroke="#0c0808"/><path d="M-149.1 0h10.2" stroke="#0e0808"/><path d="M-139.5 0h10.2" stroke="#100808"/><path d="M-129.9 0h10.2" stroke="#140808"/><path d="M-120.3 0h10.2" stroke="#160808"/><path d="M-110.7 0h10.2" stroke="#1a0a0a"/><path d="M-101.1 0h10.2" stroke="#1e0a0a"/><path d="M-91.5 0h10.2" stroke="#240c0c"/><path d="M-81.9 0h10.2" stroke="#2a0e0c"/><path d="M-72.3 0h10.2" stroke="#32120e"/><path d="M-62.7 0h10.2" stroke="#381210"/><path d="M-53.1 0h10.2" stroke="#41110f"/><path d="M-43.5 0h10.2" stroke="#48100f"/><path d="M-33.9 0h10.2" stroke="#520e0e"/><path d="M-24.3 0h10.2" stroke="#590d0d"/><path d="M-14.7 0h29.4" stroke="#5a0d0d"/><path d="M14.1 0h10.2" stroke="#590d0d"/><path d="M23.7 0h10.2" stroke="#520e0e"/><path d="M33.3 0h10.2" stroke="#48100f"/><path d="M42.9 0h10.2" stroke="#41110f"/><path d="M52.5 0h10.2" stroke="#381210"/><path d="M62.1 0h10.2" stroke="#32120e"/><path d="M71.7 0h10.2" stroke="#2a0e0c"/><path d="M81.3 0h10.2" stroke="#240c0c"/><path d="M90.9 0h10.2" stroke="#1e0a0a"/><path d="M100.5 0h10.2" stroke="#1a0a0a"/><path d="M110.1 0h10.2" stroke="#160808"/><path d="M119.7 0h10.2" stroke="#140808"/><path d="M129.3 0h10.2" stroke="#100808"/><path d="M138.9 0h10.2" stroke="#0e0808"/><path d="M148.5 0h19.8" stroke="#0c0808"/><path d="M167.7 0h19.8" stroke="#0a0606"/><path d="M186.9 0h58.2" stroke="#080606"/><path d="M244.5 0h19.8" stroke="#060606"/></g><g transform="translate(0 -225.00)"><path d="M-264.3 0h10.2" stroke="#060606"/><path d="M-254.7 0h58.2" stroke="#080606"/><path d="M-197.1 0h29.4" stroke="#0a0606"/><path d="M-168.3 0h10.2" stroke="#0c0808"/><path d="M-158.7 0h10.2" stroke="#0e0808"/><path d="M-149.1 0h10.2" stroke="#100808"/><path d="M-139.5 0h10.2" stroke="#140808"/><path d="M-129.9 0h10.2" stroke="#160808"/><path d="M-120.3 0h10.2" stroke="#1a0a0a"/><path d="M-110.7 0h10.2" stroke="#1e0a0a"/><path d="M-101.1 0h10.2" stroke="#240c0c"/><path d="M-91.5 0h10.2" stroke="#2a0e0c"/><path d="M-81.9 0h10.2" stroke="#32120e"/><path d="M-72.3 0h10.2" stroke="#3d120f"/><path d="M-62.7 0h10.2" stroke="#49100f"/><path d="M-53.1 0h10.2" stroke="#550e0e"/><path d="M-43.5 0h10.2" stroke="#5c0d0d"/><path d="M-33.9 0h10.2" stroke="#690a0c"/><path d="M-24.3 0h10.2" stroke="#730c0e"/><path d="M-14.7 0h29.4" stroke="#740c0f"/><path d="M14.1 0h10.2" stroke="#730c0e"/><path d="M23.7 0h10.2" stroke="#690a0c"/><path d="M33.3 0h10.2" stroke="#5c0d0d"/><path d="M42.9 0h10.2" stroke="#550e0e"/><path d="M52.5 0h10.2" stroke="#49100f"/><path d="M62.1 0h10.2" stroke="#3d120f"/><path d="M71.7 0h10.2" stroke="#32120e"/><path d="M81.3 0h10.2" stroke="#2a0e0c"/><path d="M90.9 0h10.2" stroke="#240c0c"/><path d="M100.5 0h10.2" stroke="#1e0a0a"/><path d="M110.1 0h10.2" stroke="#1a0a0a"/><path d="M119.7 0h10.2" stroke="#160808"/><path d="M129.3 0h10.2" stroke="#140808"/><path d="M138.9 0h10.2" stroke="#100808"/><path d="M148.5 0h10.2" stroke="#0e0808"/><path d="M158.1 0h10.2" stroke="#0c0808"/><path d="M167.7 0h29.4" stroke="#0a0606"/><path d="M196.5 0h58.2" stroke="#080606"/><path d="M254.1 0h10.2" stroke="#060606"/></g><g transform="translate(0 -217.50)"><path d="M-264.3 0h10.2" stroke="#060606"/><path d="M-254.7 0h58.2" stroke="#080606"/><path d="M-197.1 0h19.8" stroke="#0a0606"/><path d="M-177.9 0h19.8" stroke="#0c0808"/><path d="M-158.7 0h10.2" stroke="#0e0808"/><path d="M-149.1 0h10.2" stroke="#120808"/><path d="M-139.5 0h10.2" stroke="#160808"/><path d="M-129.9 0h10.2" stroke="#1a0a0a"/><path d="M-120.3 0h10.2" stroke="#1e0a0a"/><path d="M-110.7 0h10.2" stroke="#240c0c"/><path d="M-101.1 0h10.2" stroke="#2a0e0c"/><path d="M-91.5 0h10.2" stroke="#32120e"/><path d="M-81.9 0h10.2" stroke="#3a1210"/><path d="M-72.3 0h10.2" stroke="#49100f"/><path d="M-62.7 0h10.2" stroke="#590d0d"/><path d="M-53.1 0h10.2" stroke="#690a0c"/><path d="M-43.5 0h10.2" stroke="#730c0e"/><path d="M-33.9 0h10.2" stroke="#811013"/><path d="M-24.3 0h10.2" stroke="#8f1418"/><path d="M-14.7 0h29.4" stroke="#911519"/><path d="M14.1 0h10.2" stroke="#8f1418"/><path d="M23.7 0h10.2" stroke="#811013"/><path d="M33.3 0h10.2" stroke="#730c0e"/><path d="M42.9 0h10.2" stroke="#690a0c"/><path d="M52.5 0h10.2" stroke="#590d0d"/><path d="M62.1 0h10.2" stroke="#49100f"/><path d="M71.7 0h10.2" stroke="#3a1210"/><path d="M81.3 0h10.2" stroke="#32120e"/><path d="M90.9 0h10.2" stroke="#2a0e0c"/><path d="M100.5 0h10.2" stroke="#240c0c"/><path d="M110.1 0h10.2" stroke="#1e0a0a"/><path d="M119.7 0h10.2" stroke="#1a0a0a"/><path d="M129.3 0h10.2" stroke="#160808"/><path d="M138.9 0h10.2" stroke="#120808"/><path d="M148.5 0h10.2" stroke="#0e0808"/><path d="M158.1 0h19.8" stroke="#0c0808"/><path d="M177.3 0h19.8" stroke="#0a0606"/><path d="M196.5 0h58.2" stroke="#080606"/><path d="M254.1 0h10.2" stroke="#060606"/></g><g transform="translate(0 -210.00)"><path d="M-264.3 0h10.2" stroke="#060606"/><path d="M-254.7 0h58.2" stroke="#080606"/><path d="M-197.1 0h19.8" stroke="#0a0606"/><path d="M-177.9 0h10.2" stroke="#0c0808"/><path d="M-168.3 0h10.2" stroke="#0e0808"/><path d="M-158.7 0h10.2" stroke="#100808"/><path d="M-149.1 0h10.2" stroke="#140808"/><path d="M-139.5 0h10.2" stroke="#180808"/><path d="M-129.9 0h10.2" stroke="#1e0a0a"/><path d="M-120.3 0h10.2" stroke="#240c0c"/><path d="M-110.7 0h10.2" stroke="#2a0e0c"/><path d="M-101.1 0h10.2" stroke="#32120e"/><path d="M-91.5 0h10.2" stroke="#3d120f"/><path d="M-81.9 0h10.2" stroke="#49100f"/><path d="M-72.3 0h10.2" stroke="#5b0d0d"/><path d="M-62.7 0h10.2" stroke="#6d0a0c"/><path d="M-53.1 0h10.2" stroke="#841114"/><path d="M-43.5 0h10.2" stroke="#94151a"/><path d="M-33.9 0h10.2" stroke="#9f181e"/><path d="M-24.3 0h10.2" stroke="#bc1b22"/><path d="M-14.7 0h29.4" stroke="#c11c23"/><path d="M14.1 0h10.2" stroke="#bc1b22"/><path d="M23.7 0h10.2" stroke="#9f181e"/><path d="M33.3 0h10.2" stroke="#94151a"/><path d="M42.9 0h10.2" stroke="#841114"/><path d="M52.5 0h10.2" stroke="#6d0a0c"/><path d="M62.1 0h10.2" stroke="#5b0d0d"/><path d="M71.7 0h10.2" stroke="#49100f"/><path d="M81.3 0h10.2" stroke="#3d120f"/><path d="M90.9 0h10.2" stroke="#32120e"/><path d="M100.5 0h10.2" stroke="#2a0e0c"/><path d="M110.1 0h10.2" stroke="#240c0c"/><path d="M119.7 0h10.2" stroke="#1e0a0a"/><path d="M129.3 0h10.2" stroke="#180808"/><path d="M138.9 0h10.2" stroke="#140808"/><path d="M148.5 0h10.2" stroke="#100808"/><path d="M158.1 0h10.2" stroke="#0e0808"/><path d="M167.7 0h10.2" stroke="#0c0808"/><path d="M177.3 0h19.8" stroke="#0a0606"/><path d="M196.5 0h58.2" stroke="#080606"/><path d="M254.1 0h10.2" stroke="#060606"/></g><g transform="translate(0 -202.50)"><path d="M-264.3 0h10.2" stroke="#060606"/><path d="M-254.7 0h48.6" stroke="#080606"/><path d="M-206.7 0h19.8" stroke="#0a0606"/><path d="M-187.5 0h19.8" stroke="#0c0808"/><path d="M-168.3 0h10.2" stroke="#0e0808"/><path d="M-158.7 0h10.2" stroke="#100808"/><path d="M-149.1 0h10.2" stroke="#160808"/><path d="M-139.5 0h10.2" stroke="#1a0a0a"/><path d="M-129.9 0h10.2" stroke="#200c0a"/><path d="M-120.3 0h10.2" stroke="#280e0c"/><path d="M-110.7 0h10.2" stroke="#30100e"/><path d="M-101.1 0h10.2" stroke="#3a1210"/><path d="M-91.5 0h10.2" stroke="#49100f"/><path d="M-81.9 0h10.2" stroke="#590d0d"/><path d="M-72.3 0h10.2" stroke="#6d0a0c"/><path d="M-62.7 0h10.2" stroke="#811013"/><path d="M-53.1 0h10.2" stroke="#9f181e"/><path d="M-43.5 0h10.2" stroke="#bc1b22"/><path d="M-33.9 0h10.2" stroke="#c11c23"/><path d="M-24.3 0h10.2" stroke="#e91f26"/><path d="M-14.7 0h29.4" stroke="#ea1f25"/><path d="M14.1 0h10.2" stroke="#e91f26"/><path d="M23.7 0h10.2" stroke="#c11c23"/><path d="M33.3 0h10.2" stroke="#bc1b22"/><path d="M42.9 0h10.2" stroke="#9f181e"/><path d="M52.5 0h10.2" stroke="#811013"/><path d="M62.1 0h10.2" stroke="#6d0a0c"/><path d="M71.7 0h10.2" stroke="#590d0d"/><path d="M81.3 0h10.2" stroke="#49100f"/><path d="M90.9 0h10.2" stroke="#3a1210"/><path d="M100.5 0h10.2" stroke="#30100e"/><path d="M110.1 0h10.2" stroke="#280e0c"/><path d="M119.7 0h10.2" stroke="#200c0a"/><path d="M129.3 0h10.2" stroke="#1a0a0a"/><path d="M138.9 0h10.2" stroke="#160808"/><path d="M148.5 0h10.2" stroke="#100808"/><path d="M158.1 0h10.2" stroke="#0e0808"/><path d="M167.7 0h19.8" stroke="#0c0808"/><path d="M186.9 0h19.8" stroke="#0a0606"/><path d="M206.1 0h48.6" stroke="#080606"/><path d="M254.1 0h10.2" stroke="#060606"/></g><g transform="translate(0 -195.00)"><path d="M-264.3 0h58.2" stroke="#080606"/><path d="M-206.7 0h19.8" stroke="#0a0606"/><path d="M-187.5 0h19.8" stroke="#0c0808"/><path d="M-168.3 0h10.2" stroke="#100808"/><path d="M-158.7 0h10.2" stroke="#120808"/><path d="M-149.1 0h10.2" stroke="#180808"/><path d="M-139.5 0h10.2" stroke="#1e0a0a"/><path d="M-129.9 0h10.2" stroke="#240c0c"/><path d="M-120.3 0h10.2" stroke="#2e100e"/><path d="M-110.7 0h10.2" stroke="#381210"/><path d="M-101.1 0h10.2" stroke="#49100f"/><path d="M-91.5 0h10.2" stroke="#5b0d0d"/><path d="M-81.9 0h10.2" stroke="#6d0a0c"/><path d="M-72.3 0h10.2" stroke="#841114"/><path d="M-62.7 0h10.2" stroke="#9f181e"/><path d="M-53.1 0h10.2" stroke="#ea1f25"/><path d="M-43.5 0h10.2" stroke="#ed2224"/><path d="M-33.9 0h10.2" stroke="#ef3824"/><path d="M-24.3 0h10.2" stroke="#faec0c"/><path d="M-14.7 0h10.2" stroke="#f26722"/><path d="M-5.1 0h10.2" stroke="#f15a24"/><path d="M4.5 0h10.2" stroke="#f26722"/><path d="M14.1 0h10.2" stroke="#faec0c"/><path d="M23.7 0h10.2" stroke="#ef3824"/><path d="M33.3 0h10.2" stroke="#ed2224"/><path d="M42.9 0h10.2" stroke="#ea1f25"/><path d="M52.5 0h10.2" stroke="#9f181e"/><path d="M62.1 0h10.2" stroke="#841114"/><path d="M71.7 0h10.2" stroke="#6d0a0c"/><path d="M81.3 0h10.2" stroke="#5b0d0d"/><path d="M90.9 0h10.2" stroke="#49100f"/><path d="M100.5 0h10.2" stroke="#381210"/><path d="M110.1 0h10.2" stroke="#2e100e"/><path d="M119.7 0h10.2" stroke="#240c0c"/><path d="M129.3 0h10.2" stroke="#1e0a0a"/><path d="M138.9 0h10.2" stroke="#180808"/><path d="M148.5 0h10.2" stroke="#120808"/><path d="M158.1 0h10.2" stroke="#100808"/><path d="M167.7 0h19.8" stroke="#0c0808"/><path d="M186.9 0h19.8" stroke="#0a0606"/><path d="M206.1 0h58.2" stroke="#080606"/></g><g transform="translate(0 -187.50)"><path d="M-264.3 0h58.2" stroke="#080606"/><path d="M-206.7 0h19.8" stroke="#0a0606"/><path d="M-187.5 0h10.2" stroke="#0c0808"/><path d="M-177.9 0h10.2" stroke="#0e0808"/><path d="M-168.3 0h10.2" stroke="#100808"/><path d="M-158.7 0h10.2" stroke="#140808"/><path d="M-149.1 0h10.2" stroke="#180a0a"/><path d="M-139.5 0h10.2" stroke="#200a0a"/><path d="M-129.9 0h10.2" stroke="#260e0c"/><path d="M-120.3 0h10.2" stroke="#32120e"/><path d="M-110.7 0h10.2" stroke="#40110f"/><path d="M-101.1 0h10.2" stroke="#550e0e"/><path d="M-91.5 0h10.2" stroke="#6d0a0c"/><path d="M-81.9 0h10.2" stroke="#811013"/><path d="M-72.3 0h10.2" stroke="#9f181e"/><path d="M-62.7 0h10.2" stroke="#eb2025"/><path d="M-53.1 0h10.2" stroke="#ef2f24"/><path d="M-43.5 0h10.2" stroke="#fdc80a"/><path d="M-33.9 0h10.2" stroke="#ef3824"/><path d="M-24.3 0h10.2" stroke="#881216"/><path d="M-14.7 0h10.2" stroke="#580d0d"/><path d="M-5.1 0h10.2" stroke="#4a100f"/><path d="M4.5 0h10.2" stroke="#580d0d"/><path d="M14.1 0h10.2" stroke="#881216"/><path d="M23.7 0h10.2" stroke="#ef3824"/><path d="M33.3 0h10.2" stroke="#fdc80a"/><path d="M42.9 0h10.2" stroke="#ef2f24"/><path d="M52.5 0h10.2" stroke="#eb2025"/><path d="M62.1 0h10.2" stroke="#9f181e"/><path d="M71.7 0h10.2" stroke="#811013"/><path d="M81.3 0h10.2" stroke="#6d0a0c"/><path d="M90.9 0h10.2" stroke="#550e0e"/><path d="M100.5 0h10.2" stroke="#40110f"/><path d="M110.1 0h10.2" stroke="#32120e"/><path d="M119.7 0h10.2" stroke="#260e0c"/><path d="M129.3 0h10.2" stroke="#200a0a"/><path d="M138.9 0h10.2" stroke="#180a0a"/><path d="M148.5 0h10.2" stroke="#140808"/><path d="M158.1 0h10.2" stroke="#100808"/><path d="M167.7 0h10.2" stroke="#0e0808"/><path d="M177.3 0h10.2" stroke="#0c0808"/><path d="M186.9 0h19.8" stroke="#0a0606"/><path d="M206.1 0h58.2" stroke="#080606"/></g><g transform="translate(0 -180.00)"><path d="M-264.3 0h58.2" stroke="#080606"/><path d="M-206.7 0h19.8" stroke="#0a0606"/><path d="M-187.5 0h10.2" stroke="#0c0808"/><path d="M-177.9 0h10.2" stroke="#0e0808"/><path d="M-168.3 0h10.2" stroke="#100808"/><path d="M-158.7 0h10.2" stroke="#140808"/><path d="M-149.1 0h10.2" stroke="#1a0a0a"/><path d="M-139.5 0h10.2" stroke="#220c0a"/><path d="M-129.9 0h10.2" stroke="#2a0e0c"/><path d="M-120.3 0h10.2" stroke="#361210"/><path d="M-110.7 0h10.2" stroke="#49100f"/><path d="M-101.1 0h10.2" stroke="#630b0d"/><path d="M-91.5 0h10.2" stroke="#821014"/><path d="M-81.9 0h10.2" stroke="#9f181e"/><path d="M-72.3 0h10.2" stroke="#ea1f25"/><path d="M-62.7 0h10.2" stroke="#ee2624"/><path d="M-53.1 0h10.2" stroke="#fdee04"/><path d="M-43.5 0h10.2" stroke="#881216"/><path d="M-33.9 0h67.8" stroke="#0c0808"/><path d="M33.3 0h10.2" stroke="#881216"/><path d="M42.9 0h10.2" stroke="#fdee04"/><path d="M52.5 0h10.2" stroke="#ee2624"/><path d="M62.1 0h10.2" stroke="#ea1f25"/><path d="M71.7 0h10.2" stroke="#9f181e"/><path d="M81.3 0h10.2" stroke="#821014"/><path d="M90.9 0h10.2" stroke="#630b0d"/><path d="M100.5 0h10.2" stroke="#49100f"/><path d="M110.1 0h10.2" stroke="#361210"/><path d="M119.7 0h10.2" stroke="#2a0e0c"/><path d="M129.3 0h10.2" stroke="#220c0a"/><path d="M138.9 0h10.2" stroke="#1a0a0a"/><path d="M148.5 0h10.2" stroke="#140808"/><path d="M158.1 0h10.2" stroke="#100808"/><path d="M167.7 0h10.2" stroke="#0e0808"/><path d="M177.3 0h10.2" stroke="#0c0808"/><path d="M186.9 0h19.8" stroke="#0a0606"/><path d="M206.1 0h58.2" stroke="#080606"/></g><g transform="translate(0 -172.50)"><path d="M-264.3 0h58.2" stroke="#080606"/><path d="M-206.7 0h19.8" stroke="#0a0606"/><path d="M-187.5 0h10.2" stroke="#0c0808"/><path d="M-177.9 0h10.2" stroke="#0e0808"/><path d="M-168.3 0h10.2" stroke="#100808"/><path d="M-158.7 0h10.2" stroke="#140808"/><path d="M-149.1 0h10.2" stroke="#1a0a0a"/><path d="M-139.5 0h10.2" stroke="#220c0c"/><path d="M-129.9 0h10.2" stroke="#2c100e"/><path d="M-120.3 0h10.2" stroke="#3a1210"/><path d="M-110.7 0h10.2" stroke="#4f0f0e"/><path d="M-101.1 0h10.2" stroke="#6d0a0c"/><path d="M-91.5 0h10.2" stroke="#921519"/><path d="M-81.9 0h10.2" stroke="#c01c22"/><path d="M-72.3 0h10.2" stroke="#ed2224"/><path d="M-62.7 0h10.2" stroke="#f89b1a"/><path d="M-53.1 0h10.2" stroke="#97161b"/><path d="M-43.5 0h87.0" stroke="#0e0808"/><path d="M42.9 0h10.2" stroke="#97161b"/><path d="M52.5 0h10.2" stroke="#f89b1a"/><path d="M62.1 0h10.2" stroke="#ed2224"/><path d="M71.7 0h10.2" stroke="#c01c22"/><path d="M81.3 0h10.2" stroke="#921519"/><path d="M90.9 0h10.2" stroke="#6d0a0c"/><path d="M100.5 0h10.2" stroke="#4f0f0e"/><path d="M110.1 0h10.2" stroke="#3a1210"/><path d="M119.7 0h10.2" stroke="#2c100e"/><path d="M129.3 0h10.2" stroke="#220c0c"/><path d="M138.9 0h10.2" stroke="#1a0a0a"/><path d="M148.5 0h10.2" stroke="#140808"/><path d="M158.1 0h10.2" stroke="#100808"/><path d="M167.7 0h10.2" stroke="#0e0808"/><path d="M177.3 0h10.2" stroke="#0c0808"/><path d="M186.9 0h19.8" stroke="#0a0606"/><path d="M206.1 0h58.2" stroke="#080606"/></g><g transform="translate(0 -165.00)"><path d="M-264.3 0h58.2" stroke="#080606"/><path d="M-206.7 0h19.8" stroke="#0a0606"/><path d="M-187.5 0h10.2" stroke="#0c0808"/><path d="M-177.9 0h10.2" stroke="#0e0808"/><path d="M-168.3 0h10.2" stroke="#120808"/><path d="M-158.7 0h10.2" stroke="#160808"/><path d="M-149.1 0h10.2" stroke="#1c0a0a"/><path d="M-139.5 0h10.2" stroke="#240c0c"/><path d="M-129.9 0h10.2" stroke="#2c100e"/><path d="M-120.3 0h10.2" stroke="#3d120f"/><path d="M-110.7 0h10.2" stroke="#530e0e"/><path d="M-101.1 0h10.2" stroke="#740c0f"/><path d="M-91.5 0h10.2" stroke="#881216"/><path d="M-81.9 0h10.2" stroke="#ca1c23"/><path d="M-72.3 0h10.2" stroke="#ed2124"/><path d="M-62.7 0h10.2" stroke="#a51a20"/><path d="M-53.1 0h106.2" stroke="#0e0808"/><path d="M52.5 0h10.2" stroke="#a51a20"/><path d="M62.1 0h10.2" stroke="#ed2124"/><path d="M71.7 0h10.2" stroke="#ca1c23"/><path d="M81.3 0h10.2" stroke="#881216"/><path d="M90.9 0h10.2" stroke="#740c0f"/><path d="M100.5 0h10.2" stroke="#530e0e"/><path d="M110.1 0h10.2" stroke="#3d120f"/><path d="M119.7 0h10.2" stroke="#2c100e"/><path d="M129.3 0h10.2" stroke="#240c0c"/><path d="M138.9 0h10.2" stroke="#1c0a0a"/><path d="M148.5 0h10.2" stroke="#160808"/><path d="M158.1 0h10.2" stroke="#120808"/><path d="M167.7 0h10.2" stroke="#0e0808"/><path d="M177.3 0h10.2" stroke="#0c0808"/><path d="M186.9 0h19.8" stroke="#0a0606"/><path d="M206.1 0h58.2" stroke="#080606"/></g><g transform="translate(0 -157.50)"><path d="M-264.3 0h58.2" stroke="#080606"/><path d="M-206.7 0h19.8" stroke="#0a0606"/><path d="M-187.5 0h10.2" stroke="#0c0808"/><path d="M-177.9 0h10.2" stroke="#0e0808"/><path d="M-168.3 0h10.2" stroke="#120808"/><path d="M-158.7 0h10.2" stroke="#160808"/><path d="M-149.1 0h10.2" stroke="#1c0a0a"/><path d="M-139.5 0h10.2" stroke="#240c0c"/><path d="M-129.9 0h10.2" stroke="#2c100e"/><path d="M-120.3 0h10.2" stroke="#3d120f"/><path d="M-110.7 0h10.2" stroke="#540e0e"/><path d="M-101.1 0h10.2" stroke="#740c0f"/><path d="M-91.5 0h10.2" stroke="#881216"/><path d="M-81.9 0h10.2" stroke="#ca1c23"/><path d="M-72.3 0h10.2" stroke="#ed2124"/><path d="M-62.7 0h125.4" stroke="#100808"/><path d="M62.1 0h10.2" stroke="#ed2124"/><path d="M71.7 0h10.2" stroke="#ca1c23"/><path d="M81.3 0h10.2" stroke="#881216"/><path d="M90.9 0h10.2" stroke="#740c0f"/><path d="M100.5 0h10.2" stroke="#540e0e"/><path d="M110.1 0h10.2" stroke="#3d120f"/><path d="M119.7 0h10.2" stroke="#2c100e"/><path d="M129.3 0h10.2" stroke="#240c0c"/><path d="M138.9 0h10.2" stroke="#1c0a0a"/><path d="M148.5 0h10.2" stroke="#160808"/><path d="M158.1 0h10.2" stroke="#120808"/><path d="M167.7 0h10.2" stroke="#0e0808"/><path d="M177.3 0h10.2" stroke="#0c0808"/><path d="M186.9 0h19.8" stroke="#0a0606"/><path d="M206.1 0h58.2" stroke="#080606"/></g><g transform="translate(0 -150.00)"><path d="M-264.3 0h58.2" stroke="#080606"/><path d="M-206.7 0h19.8" stroke="#0a0606"/><path d="M-187.5 0h10.2" stroke="#0c0808"/><path d="M-177.9 0h10.2" stroke="#0e0808"/><path d="M-168.3 0h10.2" stroke="#120808"/><path d="M-158.7 0h10.2" stroke="#160808"/><path d="M-149.1 0h10.2" stroke="#1c0a0a"/><path d="M-139.5 0h10.2" stroke="#240c0c"/><path d="M-129.9 0h10.2" stroke="#2c100e"/><path d="M-120.3 0h10.2" stroke="#3d120f"/><path d="M-110.7 0h10.2" stroke="#540e0e"/><path d="M-101.1 0h10.2" stroke="#740c0f"/><path d="M-91.5 0h10.2" stroke="#881216"/><path d="M-81.9 0h10.2" stroke="#d01d24"/><path d="M-72.3 0h10.2" stroke="#ed2124"/><path d="M-62.7 0h125.4" stroke="#100808"/><path d="M62.1 0h10.2" stroke="#ed2124"/><path d="M71.7 0h10.2" stroke="#d01d24"/><path d="M81.3 0h10.2" stroke="#881216"/><path d="M90.9 0h10.2" stroke="#740c0f"/><path d="M100.5 0h10.2" stroke="#540e0e"/><path d="M110.1 0h10.2" stroke="#3d120f"/><path d="M119.7 0h10.2" stroke="#2c100e"/><path d="M129.3 0h10.2" stroke="#240c0c"/><path d="M138.9 0h10.2" stroke="#1c0a0a"/><path d="M148.5 0h10.2" stroke="#160808"/><path d="M158.1 0h10.2" stroke="#120808"/><path d="M167.7 0h10.2" stroke="#0e0808"/><path d="M177.3 0h10.2" stroke="#0c0808"/><path d="M186.9 0h19.8" stroke="#0a0606"/><path d="M206.1 0h58.2" stroke="#080606"/></g><g transform="translate(0 -142.50)"><path d="M-264.3 0h58.2" stroke="#080606"/><path d="M-206.7 0h19.8" stroke="#0a0606"/><path d="M-187.5 0h10.2" stroke="#0c0808"/><path d="M-177.9 0h10.2" stroke="#0e0808"/><path d="M-168.3 0h10.2" stroke="#120808"/><path d="M-158.7 0h10.2" stroke="#160808"/><path d="M-149.1 0h10.2" stroke="#1c0a0a"/><path d="M-139.5 0h10.2" stroke="#240c0c"/><path d="M-129.9 0h10.2" stroke="#2c100e"/><path d="M-120.3 0h10.2" stroke="#3d120f"/><path d="M-110.7 0h10.2" stroke="#540e0e"/><path d="M-101.1 0h10.2" stroke="#740c0f"/><path d="M-91.5 0h10.2" stroke="#881216"/><path d="M-81.9 0h10.2" stroke="#e21e25"/><path d="M-72.3 0h10.2" stroke="#ec2025"/><path d="M-62.7 0h125.4" stroke="#120808"/><path d="M62.1 0h10.2" stroke="#ec2025"/><path d="M71.7 0h10.2" stroke="#e21e25"/><path d="M81.3 0h10.2" stroke="#881216"/><path d="M90.9 0h10.2" stroke="#740c0f"/><path d="M100.5 0h10.2" stroke="#540e0e"/><path d="M110.1 0h10.2" stroke="#3d120f"/><path d="M119.7 0h10.2" stroke="#2c100e"/><path d="M129.3 0h10.2" stroke="#240c0c"/><path d="M138.9 0h10.2" stroke="#1c0a0a"/><path d="M148.5 0h10.2" stroke="#160808"/><path d="M158.1 0h10.2" stroke="#120808"/><path d="M167.7 0h10.2" stroke="#0e0808"/><path d="M177.3 0h10.2" stroke="#0c0808"/><path d="M186.9 0h19.8" stroke="#0a0606"/><path d="M206.1 0h58.2" stroke="#080606"/></g><g transform="translate(0 -135.00)"><path d="M-264.3 0h58.2" stroke="#080606"/><path d="M-206.7 0h19.8" stroke="#0a0606"/><path d="M-187.5 0h10.2" stroke="#0c0808"/><path d="M-177.9 0h10.2" stroke="#0e0808"/><path d="M-168.3 0h10.2" stroke="#120808"/><path d="M-158.7 0h10.2" stroke="#160808"/><path d="M-149.1 0h10.2" stroke="#1c0a0a"/><path d="M-139.5 0h10.2" stroke="#240c0c"/><path d="M-129.9 0h10.2" stroke="#2c100e"/><path d="M-120.3 0h10.2" stroke="#3d120f"/><path d="M-110.7 0h10.2" stroke="#540e0e"/><path d="M-101.1 0h10.2" stroke="#740c0f"/><path d="M-91.5 0h10.2" stroke="#a0191e"/><path d="M-81.9 0h10.2" stroke="#fdee04"/><path d="M-72.3 0h10.2" stroke="#47100f"/><path d="M-62.7 0h125.4" stroke="#140808"/><path d="M62.1 0h10.2" stroke="#47100f"/><path d="M71.7 0h10.2" stroke="#fdee04"/><path d="M81.3 0h10.2" stroke="#a0191e"/><path d="M90.9 0h10.2" stroke="#740c0f"/><path d="M100.5 0h10.2" stroke="#540e0e"/><path d="M110.1 0h10.2" stroke="#3d120f"/><path d="M119.7 0h10.2" stroke="#2c100e"/><path d="M129.3 0h10.2" stroke="#240c0c"/><path d="M138.9 0h10.2" stroke="#1c0a0a"/><path d="M148.5 0h10.2" stroke="#160808"/><path d="M158.1 0h10.2" stroke="#120808"/><path d="M167.7 0h10.2" stroke="#0e0808"/><path d="M177.3 0h10.2" stroke="#0c0808"/><path d="M186.9 0h19.8" stroke="#0a0606"/><path d="M206.1 0h58.2" stroke="#080606"/></g><g transform="translate(0 -127.50)"><path d="M-264.3 0h58.2" stroke="#080606"/><path d="M-206.7 0h19.8" stroke="#0a0606"/><path d="M-187.5 0h10.2" stroke="#0c0808"/><path d="M-177.9 0h10.2" stroke="#0e0808"/><path d="M-168.3 0h10.2" stroke="#100808"/><path d="M-158.7 0h10.2" stroke="#160808"/><path d="M-149.1 0h10.2" stroke="#1c0a0a"/><path d="M-139.5 0h10.2" stroke="#240c0c"/><path d="M-129.9 0h10.2" stroke="#2c100e"/><path d="M-120.3 0h10.2" stroke="#3d1210"/><path d="M-110.7 0h10.2" stroke="#530e0e"/><path d="M-101.1 0h10.2" stroke="#730c0f"/><path d="M-91.5 0h10.2" stroke="#9e181e"/><path d="M-81.9 0h10.2" stroke="#ec2125"/><path d="M-72.3 0h10.2" stroke="#46100f"/><path d="M-62.7 0h125.4" stroke="#160808"/><path d="M62.1 0h10.2" stroke="#46100f"/><path d="M71.7 0h10.2" stroke="#ec2125"/><path d="M81.3 0h10.2" stroke="#9e181e"/><path d="M90.9 0h10.2" stroke="#730c0f"/><path d="M100.5 0h10.2" stroke="#530e0e"/><path d="M110.1 0h10.2" stroke="#3d1210"/><path d="M119.7 0h10.2" stroke="#2c100e"/><path d="M129.3 0h10.2" stroke="#240c0c"/><path d="M138.9 0h10.2" stroke="#1c0a0a"/><path d="M148.5 0h10.2" stroke="#160808"/><path d="M158.1 0h10.2" stroke="#100808"/><path d="M167.7 0h10.2" stroke="#0e0808"/><path d="M177.3 0h10.2" stroke="#0c0808"/><path d="M186.9 0h19.8" stroke="#0a0606"/><path d="M206.1 0h58.2" stroke="#080606"/></g><g transform="translate(0 -120.00)"><path d="M-264.3 0h10.2" stroke="#060606"/><path d="M-254.7 0h48.6" stroke="#080606"/><path d="M-206.7 0h19.8" stroke="#0a0606"/><path d="M-187.5 0h19.8" stroke="#0c0808"/><path d="M-168.3 0h10.2" stroke="#100808"/><path d="M-158.7 0h10.2" stroke="#120808"/><path d="M-149.1 0h10.2" stroke="#180808"/><path d="M-139.5 0h10.2" stroke="#1e0a0a"/><path d="M-129.9 0h10.2" stroke="#260e0c"/><path d="M-120.3 0h10.2" stroke="#32120e"/><path d="M-110.7 0h10.2" stroke="#45110f"/><path d="M-101.1 0h10.2" stroke="#610c0d"/><path d="M-91.5 0h10.2" stroke="#861115"/><path d="M-81.9 0h10.2" stroke="#ec2025"/><path d="M-72.3 0h10.2" stroke="#44110f"/><path d="M-62.7 0h125.4" stroke="#180808"/><path d="M62.1 0h10.2" stroke="#44110f"/><path d="M71.7 0h10.2" stroke="#ec2025"/><path d="M81.3 0h10.2" stroke="#861115"/><path d="M90.9 0h10.2" stroke="#610c0d"/><path d="M100.5 0h10.2" stroke="#45110f"/><path d="M110.1 0h10.2" stroke="#32120e"/><path d="M119.7 0h10.2" stroke="#260e0c"/><path d="M129.3 0h10.2" stroke="#1e0a0a"/><path d="M138.9 0h10.2" stroke="#180808"/><path d="M148.5 0h10.2" stroke="#120808"/><path d="M158.1 0h10.2" stroke="#100808"/><path d="M167.7 0h19.8" stroke="#0c0808"/><path d="M186.9 0h19.8" stroke="#0a0606"/><path d="M206.1 0h48.6" stroke="#080606"/><path d="M254.1 0h10.2" stroke="#060606"/></g><g transform="translate(0 -112.50)"><path d="M-264.3 0h10.2" stroke="#060606"/><path d="M-254.7 0h58.2" stroke="#080606"/><path d="M-197.1 0h19.8" stroke="#0a0606"/><path d="M-177.9 0h10.2" stroke="#0c0808"/><path d="M-168.3 0h10.2" stroke="#0e0808"/><path d="M-158.7 0h10.2" stroke="#100808"/><path d="M-149.1 0h10.2" stroke="#140808"/><path d="M-139.5 0h10.2" stroke="#1a0a0a"/><path d="M-129.9 0h10.2" stroke="#220c0a"/><path d="M-120.3 0h10.2" stroke="#2c100e"/><path d="M-110.7 0h10.2" stroke="#381210"/><path d="M-101.1 0h10.2" stroke="#500f0e"/><path d="M-91.5 0h10.2" stroke="#760d0f"/><path d="M-81.9 0h10.2" stroke="#eb2025"/><path d="M-72.3 0h10.2" stroke="#43110f"/><path d="M-62.7 0h125.4" stroke="#1a0a0a"/><path d="M62.1 0h10.2" stroke="#43110f"/><path d="M71.7 0h10.2" stroke="#eb2025"/><path d="M81.3 0h10.2" stroke="#760d0f"/><path d="M90.9 0h10.2" stroke="#500f0e"/><path d="M100.5 0h10.2" stroke="#381210"/><path d="M110.1 0h10.2" stroke="#2c100e"/><path d="M119.7 0h10.2" stroke="#220c0a"/><path d="M129.3 0h10.2" stroke="#1a0a0a"/><path d="M138.9 0h10.2" stroke="#140808"/><path d="M148.5 0h10.2" stroke="#100808"/><path d="M158.1 0h10.2" stroke="#0e0808"/><path d="M167.7 0h10.2" stroke="#0c0808"/><path d="M177.3 0h19.8" stroke="#0a0606"/><path d="M196.5 0h58.2" stroke="#080606"/><path d="M254.1 0h10.2" stroke="#060606"/></g><g transform="translate(0 -105.00)"><path d="M-264.3 0h19.8" stroke="#060606"/><path d="M-245.1 0h48.6" stroke="#080606"/><path d="M-197.1 0h29.4" stroke="#0a0606"/><path d="M-168.3 0h10.2" stroke="#0c0808"/><path d="M-158.7 0h10.2" stroke="#0e0808"/><path d="M-149.1 0h10.2" stroke="#120808"/><path d="M-139.5 0h10.2" stroke="#160808"/><path d="M-129.9 0h10.2" stroke="#1c0a0a"/><path d="M-120.3 0h10.2" stroke="#260c0c"/><path d="M-110.7 0h10.2" stroke="#30100e"/><path d="M-101.1 0h10.2" stroke="#46100f"/><path d="M-91.5 0h10.2" stroke="#730c0f"/><path d="M-81.9 0h10.2" stroke="#ea2025"/><path d="M-72.3 0h10.2" stroke="#41110f"/><path d="M-62.7 0h125.4" stroke="#1c0a0a"/><path d="M62.1 0h10.2" stroke="#41110f"/><path d="M71.7 0h10.2" stroke="#ea2025"/><path d="M81.3 0h10.2" stroke="#730c0f"/><path d="M90.9 0h10.2" stroke="#46100f"/><path d="M100.5 0h10.2" stroke="#30100e"/><path d="M110.1 0h10.2" stroke="#260c0c"/><path d="M119.7 0h10.2" stroke="#1c0a0a"/><path d="M129.3 0h10.2" stroke="#160808"/><path d="M138.9 0h10.2" stroke="#120808"/><path d="M148.5 0h10.2" stroke="#0e0808"/><path d="M158.1 0h10.2" stroke="#0c0808"/><path d="M167.7 0h29.4" stroke="#0a0606"/><path d="M196.5 0h48.6" stroke="#080606"/><path d="M244.5 0h19.8" stroke="#060606"/></g><g transform="translate(0 -97.50)"><path d="M-264.3 0h29.4" stroke="#060606"/><path d="M-235.5 0h48.6" stroke="#080606"/><path d="M-187.5 0h19.8" stroke="#0a0606"/><path d="M-168.3 0h10.2" stroke="#0c0808"/><path d="M-158.7 0h10.2" stroke="#0e0808"/><path d="M-149.1 0h10.2" stroke="#100808"/><path d="M-139.5 0h10.2" stroke="#140808"/><path d="M-129.9 0h10.2" stroke="#180a0a"/><path d="M-120.3 0h10.2" stroke="#220c0c"/><path d="M-110.7 0h10.2" stroke="#2e100e"/><path d="M-101.1 0h10.2" stroke="#45110f"/><path d="M-91.5 0h10.2" stroke="#710b0e"/><path d="M-81.9 0h10.2" stroke="#ea1f25"/><path d="M-72.3 0h10.2" stroke="#40110f"/><path d="M-62.7 0h125.4" stroke="#200a0a"/><path d="M62.1 0h10.2" stroke="#40110f"/><path d="M71.7 0h10.2" stroke="#ea1f25"/><path d="M81.3 0h10.2" stroke="#710b0e"/><path d="M90.9 0h10.2" stroke="#45110f"/><path d="M100.5 0h10.2" stroke="#2e100e"/><path d="M110.1 0h10.2" stroke="#220c0c"/><path d="M119.7 0h10.2" stroke="#180a0a"/><path d="M129.3 0h10.2" stroke="#140808"/><path d="M138.9 0h10.2" stroke="#100808"/><path d="M148.5 0h10.2" stroke="#0e0808"/><path d="M158.1 0h10.2" stroke="#0c0808"/><path d="M167.7 0h19.8" stroke="#0a0606"/><path d="M186.9 0h48.6" stroke="#080606"/><path d="M234.9 0h29.4" stroke="#060606"/></g><g transform="translate(0 -90.00)"><path d="M-264.3 0h29.4" stroke="#060606"/><path d="M-235.5 0h58.2" stroke="#080606"/><path d="M-177.9 0h19.8" stroke="#0a0606"/><path d="M-158.7 0h10.2" stroke="#0c0808"/><path d="M-149.1 0h10.2" stroke="#0e0808"/><path d="M-139.5 0h10.2" stroke="#100808"/><path d="M-129.9 0h10.2" stroke="#160808"/><path d="M-120.3 0h10.2" stroke="#220c0a"/><path d="M-110.7 0h10.2" stroke="#2c100e"/><path d="M-101.1 0h10.2" stroke="#42110f"/><path d="M-91.5 0h10.2" stroke="#6c0a0c"/><path d="M-81.9 0h10.2" stroke="#e91e26"/><path d="M-72.3 0h10.2" stroke="#3d120f"/><path d="M-62.7 0h125.4" stroke="#220c0a"/><path d="M62.1 0h10.2" stroke="#3d120f"/><path d="M71.7 0h10.2" stroke="#e91e26"/><path d="M81.3 0h10.2" stroke="#6c0a0c"/><path d="M90.9 0h10.2" stroke="#42110f"/><path d="M100.5 0h10.2" stroke="#2c100e"/><path d="M110.1 0h10.2" stroke="#220c0a"/><path d="M119.7 0h10.2" stroke="#160808"/><path d="M129.3 0h10.2" stroke="#100808"/><path d="M138.9 0h10.2" stroke="#0e0808"/><path d="M148.5 0h10.2" stroke="#0c0808"/><path d="M158.1 0h19.8" stroke="#0a0606"/><path d="M177.3 0h58.2" stroke="#080606"/><path d="M234.9 0h29.4" stroke="#060606"/></g><g transform="translate(0 -82.50)"><path d="M-264.3 0h39.0" stroke="#060606"/><path d="M-225.9 0h48.6" stroke="#080606"/><path d="M-177.9 0h19.8" stroke="#0a0606"/><path d="M-158.7 0h19.8" stroke="#0c0808"/><path d="M-139.5 0h10.2" stroke="#0e0808"/><path d="M-129.9 0h10.2" stroke="#120808"/><path d="M-120.3 0h10.2" stroke="#200c0a"/><path d="M-110.7 0h10.2" stroke="#2a0e0c"/><path d="M-101.1 0h10.2" stroke="#3d120f"/><path d="M-91.5 0h10.2" stroke="#650b0d"/><path d="M-81.9 0h10.2" stroke="#dc1d25"/><path d="M-72.3 0h10.2" stroke="#381210"/><path d="M-62.7 0h125.4" stroke="#240c0c"/><path d="M62.1 0h10.2" stroke="#381210"/><path d="M71.7 0h10.2" stroke="#dc1d25"/><path d="M81.3 0h10.2" stroke="#650b0d"/><path d="M90.9 0h10.2" stroke="#3d120f"/><path d="M100.5 0h10.2" stroke="#2a0e0c"/><path d="M110.1 0h10.2" stroke="#200c0a"/><path d="M119.7 0h10.2" stroke="#120808"/><path d="M129.3 0h10.2" stroke="#0e0808"/><path d="M138.9 0h19.8" stroke="#0c0808"/><path d="M158.1 0h19.8" stroke="#0a0606"/><path d="M177.3 0h48.6" stroke="#080606"/><path d="M225.3 0h39.0" stroke="#060606"/></g><g transform="translate(0 -75.00)"><path d="M-264.3 0h39.0" stroke="#060606"/><path d="M-225.9 0h58.2" stroke="#080606"/><path d="M-168.3 0h19.8" stroke="#0a0606"/><path d="M-149.1 0h10.2" stroke="#0c0808"/><path d="M-139.5 0h10.2" stroke="#0e0808"/><path d="M-129.9 0h10.2" stroke="#100808"/><path d="M-120.3 0h10.2" stroke="#1e0a0a"/><path d="M-110.7 0h10.2" stroke="#260e0c"/><path d="M-101.1 0h10.2" stroke="#361210"/><path d="M-91.5 0h10.2" stroke="#5b0d0d"/><path d="M-81.9 0h10.2" stroke="#c31c23"/><path d="M-72.3 0h10.2" stroke="#32120e"/><path d="M-62.7 0h125.4" stroke="#260e0c"/><path d="M62.1 0h10.2" stroke="#32120e"/><path d="M71.7 0h10.2" stroke="#c31c23"/><path d="M81.3 0h10.2" stroke="#5b0d0d"/><path d="M90.9 0h10.2" stroke="#361210"/><path d="M100.5 0h10.2" stroke="#260e0c"/><path d="M110.1 0h10.2" stroke="#1e0a0a"/><path d="M119.7 0h10.2" stroke="#100808"/><path d="M129.3 0h10.2" stroke="#0e0808"/><path d="M138.9 0h10.2" stroke="#0c0808"/><path d="M148.5 0h19.8" stroke="#0a0606"/><path d="M167.7 0h58.2" stroke="#080606"/><path d="M225.3 0h39.0" stroke="#060606"/></g><g transform="translate(0 -67.50)"><path d="M-264.3 0h39.0" stroke="#060606"/><path d="M-225.9 0h58.2" stroke="#080606"/><path d="M-168.3 0h29.4" stroke="#0a0606"/><path d="M-139.5 0h10.2" stroke="#0c0808"/><path d="M-129.9 0h10.2" stroke="#0e0808"/><path d="M-120.3 0h10.2" stroke="#1c0a0a"/><path d="M-110.7 0h10.2" stroke="#240c0c"/><path d="M-101.1 0h10.2" stroke="#32120e"/><path d="M-91.5 0h10.2" stroke="#510e0e"/><path d="M-81.9 0h10.2" stroke="#ab1a21"/><path d="M-72.3 0h10.2" stroke="#2e100e"/><path d="M-62.7 0h125.4" stroke="#280e0c"/><path d="M62.1 0h10.2" stroke="#2e100e"/><path d="M71.7 0h10.2" stroke="#ab1a21"/><path d="M81.3 0h10.2" stroke="#510e0e"/><path d="M90.9 0h10.2" stroke="#32120e"/><path d="M100.5 0h10.2" stroke="#240c0c"/><path d="M110.1 0h10.2" stroke="#1c0a0a"/><path d="M119.7 0h10.2" stroke="#0e0808"/><path d="M129.3 0h10.2" stroke="#0c0808"/><path d="M138.9 0h29.4" stroke="#0a0606"/><path d="M167.7 0h58.2" stroke="#080606"/><path d="M225.3 0h39.0" stroke="#060606"/></g><g transform="translate(0 -60.00)"><path d="M-264.3 0h29.4" stroke="#060606"/><path d="M-235.5 0h67.8" stroke="#080606"/><path d="M-168.3 0h29.4" stroke="#0a0606"/><path d="M-139.5 0h10.2" stroke="#0c0808"/><path d="M-129.9 0h10.2" stroke="#0e0808"/><path d="M-120.3 0h10.2" stroke="#180808"/><path d="M-110.7 0h10.2" stroke="#200a0a"/><path d="M-101.1 0h10.2" stroke="#2c0e0e"/><path d="M-91.5 0h10.2" stroke="#45110f"/><path d="M-81.9 0h10.2" stroke="#921519"/><path d="M-72.3 0h10.2" stroke="#2a0e0e"/><path d="M-62.7 0h125.4" stroke="#2c0e0e"/><path d="M62.1 0h10.2" stroke="#2a0e0e"/><path d="M71.7 0h10.2" stroke="#921519"/><path d="M81.3 0h10.2" stroke="#45110f"/><path d="M90.9 0h10.2" stroke="#2c0e0e"/><path d="M100.5 0h10.2" stroke="#200a0a"/><path d="M110.1 0h10.2" stroke="#180808"/><path d="M119.7 0h10.2" stroke="#0e0808"/><path d="M129.3 0h10.2" stroke="#0c0808"/><path d="M138.9 0h29.4" stroke="#0a0606"/><path d="M167.7 0h67.8" stroke="#080606"/><path d="M234.9 0h29.4" stroke="#060606"/></g><g transform="translate(0 -52.50)"><path d="M-264.3 0h29.4" stroke="#060606"/><path d="M-235.5 0h67.8" stroke="#080606"/><path d="M-168.3 0h19.8" stroke="#0a0606"/><path d="M-149.1 0h19.8" stroke="#0c0808"/><path d="M-129.9 0h10.2" stroke="#0e0808"/><path d="M-120.3 0h10.2" stroke="#140808"/><path d="M-110.7 0h10.2" stroke="#1a0a0a"/><path d="M-101.1 0h10.2" stroke="#240c0c"/><path d="M-91.5 0h10.2" stroke="#361210"/><path d="M-81.9 0h10.2" stroke="#760d0f"/><path d="M-72.3 0h144.6" stroke="#2e100e"/><path d="M71.7 0h10.2" stroke="#760d0f"/><path d="M81.3 0h10.2" stroke="#361210"/><path d="M90.9 0h10.2" stroke="#240c0c"/><path d="M100.5 0h10.2" stroke="#1a0a0a"/><path d="M110.1 0h10.2" stroke="#140808"/><path d="M119.7 0h10.2" stroke="#0e0808"/><path d="M129.3 0h19.8" stroke="#0c0808"/><path d="M148.5 0h19.8" stroke="#0a0606"/><path d="M167.7 0h67.8" stroke="#080606"/><path d="M234.9 0h29.4" stroke="#060606"/></g><g transform="translate(0 -45.00)"><path d="M-264.3 0h29.4" stroke="#060606"/><path d="M-235.5 0h67.8" stroke="#080606"/><path d="M-168.3 0h19.8" stroke="#0a0606"/><path d="M-149.1 0h19.8" stroke="#0c0808"/><path d="M-129.9 0h10.2" stroke="#0e0808"/><path d="M-120.3 0h10.2" stroke="#120808"/><path d="M-110.7 0h10.2" stroke="#140808"/><path d="M-101.1 0h10.2" stroke="#1c0a0a"/><path d="M-91.5 0h10.2" stroke="#280e0c"/><path d="M-81.9 0h10.2" stroke="#530e0e"/><path d="M-72.3 0h144.6" stroke="#30100e"/><path d="M71.7 0h10.2" stroke="#530e0e"/><path d="M81.3 0h10.2" stroke="#280e0c"/><path d="M90.9 0h10.2" stroke="#1c0a0a"/><path d="M100.5 0h10.2" stroke="#140808"/><path d="M110.1 0h10.2" stroke="#120808"/><path d="M119.7 0h10.2" stroke="#0e0808"/><path d="M129.3 0h19.8" stroke="#0c0808"/><path d="M148.5 0h19.8" stroke="#0a0606"/><path d="M167.7 0h67.8" stroke="#080606"/><path d="M234.9 0h29.4" stroke="#060606"/></g><g transform="translate(0 -37.50)"><path d="M-264.3 0h29.4" stroke="#060606"/><path d="M-235.5 0h58.2" stroke="#080606"/><path d="M-177.9 0h29.4" stroke="#0a0606"/><path d="M-149.1 0h10.2" stroke="#0c0808"/><path d="M-139.5 0h10.2" stroke="#0e0808"/><path d="M-129.9 0h10.2" stroke="#100808"/><path d="M-120.3 0h10.2" stroke="#120808"/><path d="M-110.7 0h10.2" stroke="#160808"/><path d="M-101.1 0h10.2" stroke="#1a0a0a"/><path d="M-91.5 0h10.2" stroke="#200c0a"/><path d="M-81.9 0h10.2" stroke="#361210"/><path d="M-72.3 0h10.2" stroke="#32120e"/><path d="M-62.7 0h125.4" stroke="#32100e"/><path d="M62.1 0h10.2" stroke="#32120e"/><path d="M71.7 0h10.2" stroke="#361210"/><path d="M81.3 0h10.2" stroke="#200c0a"/><path d="M90.9 0h10.2" stroke="#1a0a0a"/><path d="M100.5 0h10.2" stroke="#160808"/><path d="M110.1 0h10.2" stroke="#120808"/><path d="M119.7 0h10.2" stroke="#100808"/><path d="M129.3 0h10.2" stroke="#0e0808"/><path d="M138.9 0h10.2" stroke="#0c0808"/><path d="M148.5 0h29.4" stroke="#0a0606"/><path d="M177.3 0h58.2" stroke="#080606"/><path d="M234.9 0h29.4" stroke="#060606"/></g><g transform="translate(0 -30.00)"><path d="M-264.3 0h29.4" stroke="#060606"/><path d="M-235.5 0h58.2" stroke="#080606"/><path d="M-177.9 0h29.4" stroke="#0a0606"/><path d="M-149.1 0h10.2" stroke="#0c0808"/><path d="M-139.5 0h10.2" stroke="#0e0808"/><path d="M-129.9 0h10.2" stroke="#100808"/><path d="M-120.3 0h10.2" stroke="#120808"/><path d="M-110.7 0h10.2" stroke="#160808"/><path d="M-101.1 0h10.2" stroke="#1c0a0a"/><path d="M-91.5 0h10.2" stroke="#220c0a"/><path d="M-81.9 0h10.2" stroke="#2a0e0c"/><path d="M-72.3 0h10.2" stroke="#341210"/><path d="M-62.7 0h125.4" stroke="#32120e"/><path d="M62.1 0h10.2" stroke="#341210"/><path d="M71.7 0h10.2" stroke="#2a0e0c"/><path d="M81.3 0h10.2" stroke="#220c0a"/><path d="M90.9 0h10.2" stroke="#1c0a0a"/><path d="M100.5 0h10.2" stroke="#160808"/><path d="M110.1 0h10.2" stroke="#120808"/><path d="M119.7 0h10.2" stroke="#100808"/><path d="M129.3 0h10.2" stroke="#0e0808"/><path d="M138.9 0h10.2" stroke="#0c0808"/><path d="M148.5 0h29.4" stroke="#0a0606"/><path d="M177.3 0h58.2" stroke="#080606"/><path d="M234.9 0h29.4" stroke="#060606"/></g><g transform="translate(0 -22.50)"><path d="M-264.3 0h19.8" stroke="#060606"/><path d="M-245.1 0h67.8" stroke="#080606"/><path d="M-177.9 0h29.4" stroke="#0a0606"/><path d="M-149.1 0h10.2" stroke="#0c0808"/><path d="M-139.5 0h10.2" stroke="#0e0808"/><path d="M-129.9 0h10.2" stroke="#100808"/><path d="M-120.3 0h10.2" stroke="#120808"/><path d="M-110.7 0h10.2" stroke="#180808"/><path d="M-101.1 0h10.2" stroke="#1c0a0a"/><path d="M-91.5 0h10.2" stroke="#220c0c"/><path d="M-81.9 0h10.2" stroke="#2a0e0c"/><path d="M-72.3 0h144.6" stroke="#341210"/><path d="M71.7 0h10.2" stroke="#2a0e0c"/><path d="M81.3 0h10.2" stroke="#220c0c"/><path d="M90.9 0h10.2" stroke="#1c0a0a"/><path d="M100.5 0h10.2" stroke="#180808"/><path d="M110.1 0h10.2" stroke="#120808"/><path d="M119.7 0h10.2" stroke="#100808"/><path d="M129.3 0h10.2" stroke="#0e0808"/><path d="M138.9 0h10.2" stroke="#0c0808"/><path d="M148.5 0h29.4" stroke="#0a0606"/><path d="M177.3 0h67.8" stroke="#080606"/><path d="M244.5 0h19.8" stroke="#060606"/></g><g transform="translate(0 -15.00)"><path d="M-264.3 0h19.8" stroke="#060606"/><path d="M-245.1 0h67.8" stroke="#080606"/><path d="M-177.9 0h19.8" stroke="#0a0606"/><path d="M-158.7 0h19.8" stroke="#0c0808"/><path d="M-139.5 0h10.2" stroke="#0e0808"/><path d="M-129.9 0h10.2" stroke="#100808"/><path d="M-120.3 0h10.2" stroke="#140808"/><path d="M-110.7 0h10.2" stroke="#180808"/><path d="M-101.1 0h10.2" stroke="#1c0a0a"/><path d="M-91.5 0h10.2" stroke="#240c0c"/><path d="M-81.9 0h10.2" stroke="#2c100e"/><path d="M-72.3 0h10.2" stroke="#361210"/><path d="M-62.7 0h125.4" stroke="#341210"/><path d="M62.1 0h10.2" stroke="#361210"/><path d="M71.7 0h10.2" stroke="#2c100e"/><path d="M81.3 0h10.2" stroke="#240c0c"/><path d="M90.9 0h10.2" stroke="#1c0a0a"/><path d="M100.5 0h10.2" stroke="#180808"/><path d="M110.1 0h10.2" stroke="#140808"/><path d="M119.7 0h10.2" stroke="#100808"/><path d="M129.3 0h10.2" stroke="#0e0808"/><path d="M138.9 0h19.8" stroke="#0c0808"/><path d="M158.1 0h19.8" stroke="#0a0606"/><path d="M177.3 0h67.8" stroke="#080606"/><path d="M244.5 0h19.8" stroke="#060606"/></g><g transform="translate(0 -7.50)"><path d="M-264.3 0h19.8" stroke="#060606"/><path d="M-245.1 0h67.8" stroke="#080606"/><path d="M-177.9 0h19.8" stroke="#0a0606"/><path d="M-158.7 0h19.8" stroke="#0c0808"/><path d="M-139.5 0h10.2" stroke="#0e0808"/><path d="M-129.9 0h10.2" stroke="#100808"/><path d="M-120.3 0h10.2" stroke="#140808"/><path d="M-110.7 0h10.2" stroke="#180808"/><path d="M-101.1 0h10.2" stroke="#1e0a0a"/><path d="M-91.5 0h10.2" stroke="#240c0c"/><path d="M-81.9 0h10.2" stroke="#2c100e"/><path d="M-72.3 0h144.6" stroke="#361210"/><path d="M71.7 0h10.2" stroke="#2c100e"/><path d="M81.3 0h10.2" stroke="#240c0c"/><path d="M90.9 0h10.2" stroke="#1e0a0a"/><path d="M100.5 0h10.2" stroke="#180808"/><path d="M110.1 0h10.2" stroke="#140808"/><path d="M119.7 0h10.2" stroke="#100808"/><path d="M129.3 0h10.2" stroke="#0e0808"/><path d="M138.9 0h19.8" stroke="#0c0808"/><path d="M158.1 0h19.8" stroke="#0a0606"/><path d="M177.3 0h67.8" stroke="#080606"/><path d="M244.5 0h19.8" stroke="#060606"/></g><g transform="translate(0 0.00)"><path d="M-264.3 0h19.8" stroke="#060606"/><path d="M-245.1 0h67.8" stroke="#080606"/><path d="M-177.9 0h19.8" stroke="#0a0606"/><path d="M-158.7 0h19.8" stroke="#0c0808"/><path d="M-139.5 0h10.2" stroke="#0e0808"/><path d="M-129.9 0h10.2" stroke="#100808"/><path d="M-120.3 0h10.2" stroke="#140808"/><path d="M-110.7 0h10.2" stroke="#180808"/><path d="M-101.1 0h10.2" stroke="#1e0a0a"/><path d="M-91.5 0h10.2" stroke="#240c0c"/><path d="M-81.9 0h10.2" stroke="#2c100e"/><path d="M-72.3 0h144.6" stroke="#361210"/><path d="M71.7 0h10.2" stroke="#2c100e"/><path d="M81.3 0h10.2" stroke="#240c0c"/><path d="M90.9 0h10.2" stroke="#1e0a0a"/><path d="M100.5 0h10.2" stroke="#180808"/><path d="M110.1 0h10.2" stroke="#140808"/><path d="M119.7 0h10.2" stroke="#100808"/><path d="M129.3 0h10.2" stroke="#0e0808"/><path d="M138.9 0h19.8" stroke="#0c0808"/><path d="M158.1 0h19.8" stroke="#0a0606"/><path d="M177.3 0h67.8" stroke="#080606"/><path d="M244.5 0h19.8" stroke="#060606"/></g><g transform="translate(0 7.50)"><path d="M-264.3 0h19.8" stroke="#060606"/><path d="M-245.1 0h67.8" stroke="#080606"/><path d="M-177.9 0h19.8" stroke="#0a0606"/><path d="M-158.7 0h19.8" stroke="#0c0808"/><path d="M-139.5 0h10.2" stroke="#0e0808"/><path d="M-129.9 0h10.2" stroke="#100808"/><path d="M-120.3 0h10.2" stroke="#140808"/><path d="M-110.7 0h10.2" stroke="#180808"/><path d="M-101.1 0h10.2" stroke="#1e0a0a"/><path d="M-91.5 0h10.2" stroke="#240c0c"/><path d="M-81.9 0h10.2" stroke="#2c100e"/><path d="M-72.3 0h144.6" stroke="#361210"/><path d="M71.7 0h10.2" stroke="#2c100e"/><path d="M81.3 0h10.2" stroke="#240c0c"/><path d="M90.9 0h10.2" stroke="#1e0a0a"/><path d="M100.5 0h10.2" stroke="#180808"/><path d="M110.1 0h10.2" stroke="#140808"/><path d="M119.7 0h10.2" stroke="#100808"/><path d="M129.3 0h10.2" stroke="#0e0808"/><path d="M138.9 0h19.8" stroke="#0c0808"/><path d="M158.1 0h19.8" stroke="#0a0606"/><path d="M177.3 0h67.8" stroke="#080606"/><path d="M244.5 0h19.8" stroke="#060606"/></g><g transform="translate(0 15.00)"><path d="M-264.3 0h19.8" stroke="#060606"/><path d="M-245.1 0h67.8" stroke="#080606"/><path d="M-177.9 0h19.8" stroke="#0a0606"/><path d="M-158.7 0h19.8" stroke="#0c0808"/><path d="M-139.5 0h10.2" stroke="#0e0808"/><path d="M-129.9 0h10.2" stroke="#100808"/><path d="M-120.3 0h10.2" stroke="#140808"/><path d="M-110.7 0h10.2" stroke="#180808"/><path d="M-101.1 0h10.2" stroke="#1c0a0a"/><path d="M-91.5 0h10.2" stroke="#240c0c"/><path d="M-81.9 0h10.2" stroke="#2c100e"/><path d="M-72.3 0h10.2" stroke="#361210"/><path d="M-62.7 0h125.4" stroke="#341210"/><path d="M62.1 0h10.2" stroke="#361210"/><path d="M71.7 0h10.2" stroke="#2c100e"/><path d="M81.3 0h10.2" stroke="#240c0c"/><path d="M90.9 0h10.2" stroke="#1c0a0a"/><path d="M100.5 0h10.2" stroke="#180808"/><path d="M110.1 0h10.2" stroke="#140808"/><path d="M119.7 0h10.2" stroke="#100808"/><path d="M129.3 0h10.2" stroke="#0e0808"/><path d="M138.9 0h19.8" stroke="#0c0808"/><path d="M158.1 0h19.8" stroke="#0a0606"/><path d="M177.3 0h67.8" stroke="#080606"/><path d="M244.5 0h19.8" stroke="#060606"/></g><g transform="translate(0 22.50)"><path d="M-264.3 0h19.8" stroke="#060606"/><path d="M-245.1 0h67.8" stroke="#080606"/><path d="M-177.9 0h29.4" stroke="#0a0606"/><path d="M-149.1 0h10.2" stroke="#0c0808"/><path d="M-139.5 0h10.2" stroke="#0e0808"/><path d="M-129.9 0h10.2" stroke="#100808"/><path d="M-120.3 0h10.2" stroke="#120808"/><path d="M-110.7 0h10.2" stroke="#180808"/><path d="M-101.1 0h10.2" stroke="#1c0a0a"/><path d="M-91.5 0h10.2" stroke="#220c0c"/><path d="M-81.9 0h10.2" stroke="#2a0e0c"/><path d="M-72.3 0h144.6" stroke="#341210"/><path d="M71.7 0h10.2" stroke="#2a0e0c"/><path d="M81.3 0h10.2" stroke="#220c0c"/><path d="M90.9 0h10.2" stroke="#1c0a0a"/><path d="M100.5 0h10.2" stroke="#180808"/><path d="M110.1 0h10.2" stroke="#120808"/><path d="M119.7 0h10.2" stroke="#100808"/><path d="M129.3 0h10.2" stroke="#0e0808"/><path d="M138.9 0h10.2" stroke="#0c0808"/><path d="M148.5 0h29.4" stroke="#0a0606"/><path d="M177.3 0h67.8" stroke="#080606"/><path d="M244.5 0h19.8" stroke="#060606"/></g><g transform="translate(0 30.00)"><path d="M-264.3 0h29.4" stroke="#060606"/><path d="M-235.5 0h58.2" stroke="#080606"/><path d="M-177.9 0h29.4" stroke="#0a0606"/><path d="M-149.1 0h10.2" stroke="#0c0808"/><path d="M-139.5 0h10.2" stroke="#0e0808"/><path d="M-129.9 0h10.2" stroke="#100808"/><path d="M-120.3 0h10.2" stroke="#120808"/><path d="M-110.7 0h10.2" stroke="#160808"/><path d="M-101.1 0h10.2" stroke="#1c0a0a"/><path d="M-91.5 0h10.2" stroke="#220c0a"/><path d="M-81.9 0h10.2" stroke="#2a0e0c"/><path d="M-72.3 0h10.2" stroke="#341210"/><path d="M-62.7 0h125.4" stroke="#32120e"/><path d="M62.1 0h10.2" stroke="#341210"/><path d="M71.7 0h10.2" stroke="#2a0e0c"/><path d="M81.3 0h10.2" stroke="#220c0a"/><path d="M90.9 0h10.2" stroke="#1c0a0a"/><path d="M100.5 0h10.2" stroke="#160808"/><path d="M110.1 0h10.2" stroke="#120808"/><path d="M119.7 0h10.2" stroke="#100808"/><path d="M129.3 0h10.2" stroke="#0e0808"/><path d="M138.9 0h10.2" stroke="#0c0808"/><path d="M148.5 0h29.4" stroke="#0a0606"/><path d="M177.3 0h58.2" stroke="#080606"/><path d="M234.9 0h29.4" stroke="#060606"/></g><g transform="translate(0 37.50)"><path d="M-264.3 0h29.4" stroke="#060606"/><path d="M-235.5 0h58.2" stroke="#080606"/><path d="M-177.9 0h29.4" stroke="#0a0606"/><path d="M-149.1 0h10.2" stroke="#0c0808"/><path d="M-139.5 0h10.2" stroke="#0e0808"/><path d="M-129.9 0h10.2" stroke="#100808"/><path d="M-120.3 0h10.2" stroke="#120808"/><path d="M-110.7 0h10.2" stroke="#160808"/><path d="M-101.1 0h10.2" stroke="#1a0a0a"/><path d="M-91.5 0h10.2" stroke="#200c0a"/><path d="M-81.9 0h10.2" stroke="#361210"/><path d="M-72.3 0h10.2" stroke="#32120e"/><path d="M-62.7 0h125.4" stroke="#32100e"/><path d="M62.1 0h10.2" stroke="#32120e"/><path d="M71.7 0h10.2" stroke="#361210"/><path d="M81.3 0h10.2" stroke="#200c0a"/><path d="M90.9 0h10.2" stroke="#1a0a0a"/><path d="M100.5 0h10.2" stroke="#160808"/><path d="M110.1 0h10.2" stroke="#120808"/><path d="M119.7 0h10.2" stroke="#100808"/><path d="M129.3 0h10.2" stroke="#0e0808"/><path d="M138.9 0h10.2" stroke="#0c0808"/><path d="M148.5 0h29.4" stroke="#0a0606"/><path d="M177.3 0h58.2" stroke="#080606"/><path d="M234.9 0h29.4" stroke="#060606"/></g><g transform="translate(0 45.00)"><path d="M-264.3 0h29.4" stroke="#060606"/><path d="M-235.5 0h67.8" stroke="#080606"/><path d="M-168.3 0h19.8" stroke="#0a0606"/><path d="M-149.1 0h19.8" stroke="#0c0808"/><path d="M-129.9 0h10.2" stroke="#0e0808"/><path d="M-120.3 0h10.2" stroke="#120808"/><path d="M-110.7 0h10.2" stroke="#140808"/><path d="M-101.1 0h10.2" stroke="#1c0a0a"/><path d="M-91.5 0h10.2" stroke="#280e0c"/><path d="M-81.9 0h10.2" stroke="#530e0e"/><path d="M-72.3 0h144.6" stroke="#30100e"/><path d="M71.7 0h10.2" stroke="#530e0e"/><path d="M81.3 0h10.2" stroke="#280e0c"/><path d="M90.9 0h10.2" stroke="#1c0a0a"/><path d="M100.5 0h10.2" stroke="#140808"/><path d="M110.1 0h10.2" stroke="#120808"/><path d="M119.7 0h10.2" stroke="#0e0808"/><path d="M129.3 0h19.8" stroke="#0c0808"/><path d="M148.5 0h19.8" stroke="#0a0606"/><path d="M167.7 0h67.8" stroke="#080606"/><path d="M234.9 0h29.4" stroke="#060606"/></g><g transform="translate(0 52.50)"><path d="M-264.3 0h29.4" stroke="#060606"/><path d="M-235.5 0h67.8" stroke="#080606"/><path d="M-168.3 0h19.8" stroke="#0a0606"/><path d="M-149.1 0h19.8" stroke="#0c0808"/><path d="M-129.9 0h10.2" stroke="#0e0808"/><path d="M-120.3 0h10.2" stroke="#140808"/><path d="M-110.7 0h10.2" stroke="#1a0a0a"/><path d="M-101.1 0h10.2" stroke="#240c0c"/><path d="M-91.5 0h10.2" stroke="#361210"/><path d="M-81.9 0h10.2" stroke="#760d0f"/><path d="M-72.3 0h144.6" stroke="#2e100e"/><path d="M71.7 0h10.2" stroke="#760d0f"/><path d="M81.3 0h10.2" stroke="#361210"/><path d="M90.9 0h10.2" stroke="#240c0c"/><path d="M100.5 0h10.2" stroke="#1a0a0a"/><path d="M110.1 0h10.2" stroke="#140808"/><path d="M119.7 0h10.2" stroke="#0e0808"/><path d="M129.3 0h19.8" stroke="#0c0808"/><path d="M148.5 0h19.8" stroke="#0a0606"/><path d="M167.7 0h67.8" stroke="#080606"/><path d="M234.9 0h29.4" stroke="#060606"/></g><g transform="translate(0 60.00)"><path d="M-264.3 0h29.4" stroke="#060606"/><path d="M-235.5 0h67.8" stroke="#080606"/><path d="M-168.3 0h29.4" stroke="#0a0606"/><path d="M-139.5 0h10.2" stroke="#0c0808"/><path d="M-129.9 0h10.2" stroke="#0e0808"/><path d="M-120.3 0h10.2" stroke="#180808"/><path d="M-110.7 0h10.2" stroke="#200a0a"/><path d="M-101.1 0h10.2" stroke="#2c0e0e"/><path d="M-91.5 0h10.2" stroke="#45110f"/><path d="M-81.9 0h10.2" stroke="#921519"/><path d="M-72.3 0h10.2" stroke="#2a0e0e"/><path d="M-62.7 0h125.4" stroke="#2c0e0e"/><path d="M62.1 0h10.2" stroke="#2a0e0e"/><path d="M71.7 0h10.2" stroke="#921519"/><path d="M81.3 0h10.2" stroke="#45110f"/><path d="M90.9 0h10.2" stroke="#2c0e0e"/><path d="M100.5 0h10.2" stroke="#200a0a"/><path d="M110.1 0h10.2" stroke="#180808"/><path d="M119.7 0h10.2" stroke="#0e0808"/><path d="M129.3 0h10.2" stroke="#0c0808"/><path d="M138.9 0h29.4" stroke="#0a0606"/><path d="M167.7 0h67.8" stroke="#080606"/><path d="M234.9 0h29.4" stroke="#060606"/></g><g transform="translate(0 67.50)"><path d="M-264.3 0h39.0" stroke="#060606"/><path d="M-225.9 0h58.2" stroke="#080606"/><path d="M-168.3 0h29.4" stroke="#0a0606"/><path d="M-139.5 0h10.2" stroke="#0c0808"/><path d="M-129.9 0h10.2" stroke="#0e0808"/><path d="M-120.3 0h10.2" stroke="#1c0a0a"/><path d="M-110.7 0h10.2" stroke="#240c0c"/><path d="M-101.1 0h10.2" stroke="#32120e"/><path d="M-91.5 0h10.2" stroke="#510e0e"/><path d="M-81.9 0h10.2" stroke="#ab1a21"/><path d="M-72.3 0h10.2" stroke="#2e100e"/><path d="M-62.7 0h125.4" stroke="#280e0c"/><path d="M62.1 0h10.2" stroke="#2e100e"/><path d="M71.7 0h10.2" stroke="#ab1a21"/><path d="M81.3 0h10.2" stroke="#510e0e"/><path d="M90.9 0h10.2" stroke="#32120e"/><path d="M100.5 0h10.2" stroke="#240c0c"/><path d="M110.1 0h10.2" stroke="#1c0a0a"/><path d="M119.7 0h10.2" stroke="#0e0808"/><path d="M129.3 0h10.2" stroke="#0c0808"/><path d="M138.9 0h29.4" stroke="#0a0606"/><path d="M167.7 0h58.2" stroke="#080606"/><path d="M225.3 0h39.0" stroke="#060606"/></g><g transform="translate(0 75.00)"><path d="M-264.3 0h39.0" stroke="#060606"/><path d="M-225.9 0h58.2" stroke="#080606"/><path d="M-168.3 0h19.8" stroke="#0a0606"/><path d="M-149.1 0h10.2" stroke="#0c0808"/><path d="M-139.5 0h10.2" stroke="#0e0808"/><path d="M-129.9 0h10.2" stroke="#100808"/><path d="M-120.3 0h10.2" stroke="#1e0a0a"/><path d="M-110.7 0h10.2" stroke="#260e0c"/><path d="M-101.1 0h10.2" stroke="#361210"/><path d="M-91.5 0h10.2" stroke="#5b0d0d"/><path d="M-81.9 0h10.2" stroke="#c31c23"/><path d="M-72.3 0h10.2" stroke="#32120e"/><path d="M-62.7 0h125.4" stroke="#260e0c"/><path d="M62.1 0h10.2" stroke="#32120e"/><path d="M71.7 0h10.2" stroke="#c31c23"/><path d="M81.3 0h10.2" stroke="#5b0d0d"/><path d="M90.9 0h10.2" stroke="#361210"/><path d="M100.5 0h10.2" stroke="#260e0c"/><path d="M110.1 0h10.2" stroke="#1e0a0a"/><path d="M119.7 0h10.2" stroke="#100808"/><path d="M129.3 0h10.2" stroke="#0e0808"/><path d="M138.9 0h10.2" stroke="#0c0808"/><path d="M148.5 0h19.8" stroke="#0a0606"/><path d="M167.7 0h58.2" stroke="#080606"/><path d="M225.3 0h39.0" stroke="#060606"/></g><g transform="translate(0 82.50)"><path d="M-264.3 0h39.0" stroke="#060606"/><path d="M-225.9 0h48.6" stroke="#080606"/><path d="M-177.9 0h19.8" stroke="#0a0606"/><path d="M-158.7 0h19.8" stroke="#0c0808"/><path d="M-139.5 0h10.2" stroke="#0e0808"/><path d="M-129.9 0h10.2" stroke="#120808"/><path d="M-120.3 0h10.2" stroke="#200c0a"/><path d="M-110.7 0h10.2" stroke="#2a0e0c"/><path d="M-101.1 0h10.2" stroke="#3d120f"/><path d="M-91.5 0h10.2" stroke="#650b0d"/><path d="M-81.9 0h10.2" stroke="#dc1d25"/><path d="M-72.3 0h10.2" stroke="#381210"/><path d="M-62.7 0h125.4" stroke="#240c0c"/><path d="M62.1 0h10.2" stroke="#381210"/><path d="M71.7 0h10.2" stroke="#dc1d25"/><path d="M81.3 0h10.2" stroke="#650b0d"/><path d="M90.9 0h10.2" stroke="#3d120f"/><path d="M100.5 0h10.2" stroke="#2a0e0c"/><path d="M110.1 0h10.2" stroke="#200c0a"/><path d="M119.7 0h10.2" stroke="#120808"/><path d="M129.3 0h10.2" stroke="#0e0808"/><path d="M138.9 0h19.8" stroke="#0c0808"/><path d="M158.1 0h19.8" stroke="#0a0606"/><path d="M177.3 0h48.6" stroke="#080606"/><path d="M225.3 0h39.0" stroke="#060606"/></g><g transform="translate(0 90.00)"><path d="M-264.3 0h29.4" stroke="#060606"/><path d="M-235.5 0h58.2" stroke="#080606"/><path d="M-177.9 0h19.8" stroke="#0a0606"/><path d="M-158.7 0h10.2" stroke="#0c0808"/><path d="M-149.1 0h10.2" stroke="#0e0808"/><path d="M-139.5 0h10.2" stroke="#100808"/><path d="M-129.9 0h10.2" stroke="#160808"/><path d="M-120.3 0h10.2" stroke="#220c0a"/><path d="M-110.7 0h10.2" stroke="#2c100e"/><path d="M-101.1 0h10.2" stroke="#42110f"/><path d="M-91.5 0h10.2" stroke="#6c0a0c"/><path d="M-81.9 0h10.2" stroke="#e91e26"/><path d="M-72.3 0h10.2" stroke="#3d120f"/><path d="M-62.7 0h125.4" stroke="#220c0a"/><path d="M62.1 0h10.2" stroke="#3d120f"/><path d="M71.7 0h10.2" stroke="#e91e26"/><path d="M81.3 0h10.2" stroke="#6c0a0c"/><path d="M90.9 0h10.2" stroke="#42110f"/><path d="M100.5 0h10.2" stroke="#2c100e"/><path d="M110.1 0h10.2" stroke="#220c0a"/><path d="M119.7 0h10.2" stroke="#160808"/><path d="M129.3 0h10.2" stroke="#100808"/><path d="M138.9 0h10.2" stroke="#0e0808"/><path d="M148.5 0h10.2" stroke="#0c0808"/><path d="M158.1 0h19.8" stroke="#0a0606"/><path d="M177.3 0h58.2" stroke="#080606"/><path d="M234.9 0h29.4" stroke="#060606"/></g><g transform="translate(0 97.50)"><path d="M-264.3 0h29.4" stroke="#060606"/><path d="M-235.5 0h48.6" stroke="#080606"/><path d="M-187.5 0h19.8" stroke="#0a0606"/><path d="M-168.3 0h10.2" stroke="#0c0808"/><path d="M-158.7 0h10.2" stroke="#0e0808"/><path d="M-149.1 0h10.2" stroke="#100808"/><path d="M-139.5 0h10.2" stroke="#140808"/><path d="M-129.9 0h10.2" stroke="#180a0a"/><path d="M-120.3 0h10.2" stroke="#220c0c"/><path d="M-110.7 0h10.2" stroke="#2e100e"/><path d="M-101.1 0h10.2" stroke="#45110f"/><path d="M-91.5 0h10.2" stroke="#710b0e"/><path d="M-81.9 0h10.2" stroke="#ea1f25"/><path d="M-72.3 0h10.2" stroke="#40110f"/><path d="M-62.7 0h125.4" stroke="#200a0a"/><path d="M62.1 0h10.2" stroke="#40110f"/><path d="M71.7 0h10.2" stroke="#ea1f25"/><path d="M81.3 0h10.2" stroke="#710b0e"/><path d="M90.9 0h10.2" stroke="#45110f"/><path d="M100.5 0h10.2" stroke="#2e100e"/><path d="M110.1 0h10.2" stroke="#220c0c"/><path d="M119.7 0h10.2" stroke="#180a0a"/><path d="M129.3 0h10.2" stroke="#140808"/><path d="M138.9 0h10.2" stroke="#100808"/><path d="M148.5 0h10.2" stroke="#0e0808"/><path d="M158.1 0h10.2" stroke="#0c0808"/><path d="M167.7 0h19.8" stroke="#0a0606"/><path d="M186.9 0h48.6" stroke="#080606"/><path d="M234.9 0h29.4" stroke="#060606"/></g><g transform="translate(0 105.00)"><path d="M-264.3 0h19.8" stroke="#060606"/><path d="M-245.1 0h48.6" stroke="#080606"/><path d="M-197.1 0h29.4" stroke="#0a0606"/><path d="M-168.3 0h10.2" stroke="#0c0808"/><path d="M-158.7 0h10.2" stroke="#0e0808"/><path d="M-149.1 0h10.2" stroke="#120808"/><path d="M-139.5 0h10.2" stroke="#160808"/><path d="M-129.9 0h10.2" stroke="#1c0a0a"/><path d="M-120.3 0h10.2" stroke="#260c0c"/><path d="M-110.7 0h10.2" stroke="#30100e"/><path d="M-101.1 0h10.2" stroke="#46100f"/><path d="M-91.5 0h10.2" stroke="#730c0f"/><path d="M-81.9 0h10.2" stroke="#ea2025"/><path d="M-72.3 0h10.2" stroke="#41110f"/><path d="M-62.7 0h125.4" stroke="#1c0a0a"/><path d="M62.1 0h10.2" stroke="#41110f"/><path d="M71.7 0h10.2" stroke="#ea2025"/><path d="M81.3 0h10.2" stroke="#730c0f"/><path d="M90.9 0h10.2" stroke="#46100f"/><path d="M100.5 0h10.2" stroke="#30100e"/><path d="M110.1 0h10.2" stroke="#260c0c"/><path d="M119.7 0h10.2" stroke="#1c0a0a"/><path d="M129.3 0h10.2" stroke="#160808"/><path d="M138.9 0h10.2" stroke="#120808"/><path d="M148.5 0h10.2" stroke="#0e0808"/><path d="M158.1 0h10.2" stroke="#0c0808"/><path d="M167.7 0h29.4" stroke="#0a0606"/><path d="M196.5 0h48.6" stroke="#080606"/><path d="M244.5 0h19.8" stroke="#060606"/></g><g transform="translate(0 112.50)"><path d="M-264.3 0h10.2" stroke="#060606"/><path d="M-254.7 0h58.2" stroke="#080606"/><path d="M-197.1 0h19.8" stroke="#0a0606"/><path d="M-177.9 0h10.2" stroke="#0c0808"/><path d="M-168.3 0h10.2" stroke="#0e0808"/><path d="M-158.7 0h10.2" stroke="#100808"/><path d="M-149.1 0h10.2" stroke="#140808"/><path d="M-139.5 0h10.2" stroke="#1a0a0a"/><path d="M-129.9 0h10.2" stroke="#220c0a"/><path d="M-120.3 0h10.2" stroke="#2c100e"/><path d="M-110.7 0h10.2" stroke="#381210"/><path d="M-101.1 0h10.2" stroke="#500f0e"/><path d="M-91.5 0h10.2" stroke="#760d0f"/><path d="M-81.9 0h10.2" stroke="#eb2025"/><path d="M-72.3 0h10.2" stroke="#43110f"/><path d="M-62.7 0h125.4" stroke="#1a0a0a"/><path d="M62.1 0h10.2" stroke="#43110f"/><path d="M71.7 0h10.2" stroke="#eb2025"/><path d="M81.3 0h10.2" stroke="#760d0f"/><path d="M90.9 0h10.2" stroke="#500f0e"/><path d="M100.5 0h10.2" stroke="#381210"/><path d="M110.1 0h10.2" stroke="#2c100e"/><path d="M119.7 0h10.2" stroke="#220c0a"/><path d="M129.3 0h10.2" stroke="#1a0a0a"/><path d="M138.9 0h10.2" stroke="#140808"/><path d="M148.5 0h10.2" stroke="#100808"/><path d="M158.1 0h10.2" stroke="#0e0808"/><path d="M167.7 0h10.2" stroke="#0c0808"/><path d="M177.3 0h19.8" stroke="#0a0606"/><path d="M196.5 0h58.2" stroke="#080606"/><path d="M254.1 0h10.2" stroke="#060606"/></g><g transform="translate(0 120.00)"><path d="M-264.3 0h10.2" stroke="#060606"/><path d="M-254.7 0h48.6" stroke="#080606"/><path d="M-206.7 0h19.8" stroke="#0a0606"/><path d="M-187.5 0h19.8" stroke="#0c0808"/><path d="M-168.3 0h10.2" stroke="#100808"/><path d="M-158.7 0h10.2" stroke="#120808"/><path d="M-149.1 0h10.2" stroke="#180808"/><path d="M-139.5 0h10.2" stroke="#1e0a0a"/><path d="M-129.9 0h10.2" stroke="#260e0c"/><path d="M-120.3 0h10.2" stroke="#32120e"/><path d="M-110.7 0h10.2" stroke="#45110f"/><path d="M-101.1 0h10.2" stroke="#610c0d"/><path d="M-91.5 0h10.2" stroke="#861115"/><path d="M-81.9 0h10.2" stroke="#ec2025"/><path d="M-72.3 0h10.2" stroke="#44110f"/><path d="M-62.7 0h125.4" stroke="#180808"/><path d="M62.1 0h10.2" stroke="#44110f"/><path d="M71.7 0h10.2" stroke="#ec2025"/><path d="M81.3 0h10.2" stroke="#861115"/><path d="M90.9 0h10.2" stroke="#610c0d"/><path d="M100.5 0h10.2" stroke="#45110f"/><path d="M110.1 0h10.2" stroke="#32120e"/><path d="M119.7 0h10.2" stroke="#260e0c"/><path d="M129.3 0h10.2" stroke="#1e0a0a"/><path d="M138.9 0h10.2" stroke="#180808"/><path d="M148.5 0h10.2" stroke="#120808"/><path d="M158.1 0h10.2" stroke="#100808"/><path d="M167.7 0h19.8" stroke="#0c0808"/><path d="M186.9 0h19.8" stroke="#0a0606"/><path d="M206.1 0h48.6" stroke="#080606"/><path d="M254.1 0h10.2" stroke="#060606"/></g><g transform="translate(0 127.50)"><path d="M-264.3 0h58.2" stroke="#080606"/><path d="M-206.7 0h19.8" stroke="#0a0606"/><path d="M-187.5 0h10.2" stroke="#0c0808"/><path d="M-177.9 0h10.2" stroke="#0e0808"/><path d="M-168.3 0h10.2" stroke="#100808"/><path d="M-158.7 0h10.2" stroke="#160808"/><path d="M-149.1 0h10.2" stroke="#1c0a0a"/><path d="M-139.5 0h10.2" stroke="#240c0c"/><path d="M-129.9 0h10.2" stroke="#2c100e"/><path d="M-120.3 0h10.2" stroke="#3d1210"/><path d="M-110.7 0h10.2" stroke="#530e0e"/><path d="M-101.1 0h10.2" stroke="#730c0f"/><path d="M-91.5 0h10.2" stroke="#9e181e"/><path d="M-81.9 0h10.2" stroke="#ec2125"/><path d="M-72.3 0h10.2" stroke="#46100f"/><path d="M-62.7 0h125.4" stroke="#160808"/><path d="M62.1 0h10.2" stroke="#46100f"/><path d="M71.7 0h10.2" stroke="#ec2125"/><path d="M81.3 0h10.2" stroke="#9e181e"/><path d="M90.9 0h10.2" stroke="#730c0f"/><path d="M100.5 0h10.2" stroke="#530e0e"/><path d="M110.1 0h10.2" stroke="#3d1210"/><path d="M119.7 0h10.2" stroke="#2c100e"/><path d="M129.3 0h10.2" stroke="#240c0c"/><path d="M138.9 0h10.2" stroke="#1c0a0a"/><path d="M148.5 0h10.2" stroke="#160808"/><path d="M158.1 0h10.2" stroke="#100808"/><path d="M167.7 0h10.2" stroke="#0e0808"/><path d="M177.3 0h10.2" stroke="#0c0808"/><path d="M186.9 0h19.8" stroke="#0a0606"/><path d="M206.1 0h58.2" stroke="#080606"/></g><g transform="translate(0 135.00)"><path d="M-264.3 0h58.2" stroke="#080606"/><path d="M-206.7 0h19.8" stroke="#0a0606"/><path d="M-187.5 0h10.2" stroke="#0c0808"/><path d="M-177.9 0h10.2" stroke="#0e0808"/><path d="M-168.3 0h10.2" stroke="#120808"/><path d="M-158.7 0h10.2" stroke="#160808"/><path d="M-149.1 0h10.2" stroke="#1c0a0a"/><path d="M-139.5 0h10.2" stroke="#240c0c"/><path d="M-129.9 0h10.2" stroke="#2c100e"/><path d="M-120.3 0h10.2" stroke="#3d120f"/><path d="M-110.7 0h10.2" stroke="#540e0e"/><path d="M-101.1 0h10.2" stroke="#740c0f"/><path d="M-91.5 0h10.2" stroke="#a0191e"/><path d="M-81.9 0h10.2" stroke="#fdee04"/><path d="M-72.3 0h10.2" stroke="#47100f"/><path d="M-62.7 0h125.4" stroke="#140808"/><path d="M62.1 0h10.2" stroke="#47100f"/><path d="M71.7 0h10.2" stroke="#fdee04"/><path d="M81.3 0h10.2" stroke="#a0191e"/><path d="M90.9 0h10.2" stroke="#740c0f"/><path d="M100.5 0h10.2" stroke="#540e0e"/><path d="M110.1 0h10.2" stroke="#3d120f"/><path d="M119.7 0h10.2" stroke="#2c100e"/><path d="M129.3 0h10.2" stroke="#240c0c"/><path d="M138.9 0h10.2" stroke="#1c0a0a"/><path d="M148.5 0h10.2" stroke="#160808"/><path d="M158.1 0h10.2" stroke="#120808"/><path d="M167.7 0h10.2" stroke="#0e0808"/><path d="M177.3 0h10.2" stroke="#0c0808"/><path d="M186.9 0h19.8" stroke="#0a0606"/><path d="M206.1 0h58.2" stroke="#080606"/></g><g transform="translate(0 142.50)"><path d="M-264.3 0h58.2" stroke="#080606"/><path d="M-206.7 0h19.8" stroke="#0a0606"/><path d="M-187.5 0h10.2" stroke="#0c0808"/><path d="M-177.9 0h10.2" stroke="#0e0808"/><path d="M-168.3 0h10.2" stroke="#120808"/><path d="M-158.7 0h10.2" stroke="#160808"/><path d="M-149.1 0h10.2" stroke="#1c0a0a"/><path d="M-139.5 0h10.2" stroke="#240c0c"/><path d="M-129.9 0h10.2" stroke="#2c100e"/><path d="M-120.3 0h10.2" stroke="#3d120f"/><path d="M-110.7 0h10.2" stroke="#540e0e"/><path d="M-101.1 0h10.2" stroke="#740c0f"/><path d="M-91.5 0h10.2" stroke="#881216"/><path d="M-81.9 0h10.2" stroke="#e21e25"/><path d="M-72.3 0h10.2" stroke="#ec2025"/><path d="M-62.7 0h125.4" stroke="#120808"/><path d="M62.1 0h10.2" stroke="#ec2025"/><path d="M71.7 0h10.2" stroke="#e21e25"/><path d="M81.3 0h10.2" stroke="#881216"/><path d="M90.9 0h10.2" stroke="#740c0f"/><path d="M100.5 0h10.2" stroke="#540e0e"/><path d="M110.1 0h10.2" stroke="#3d120f"/><path d="M119.7 0h10.2" stroke="#2c100e"/><path d="M129.3 0h10.2" stroke="#240c0c"/><path d="M138.9 0h10.2" stroke="#1c0a0a"/><path d="M148.5 0h10.2" stroke="#160808"/><path d="M158.1 0h10.2" stroke="#120808"/><path d="M167.7 0h10.2" stroke="#0e0808"/><path d="M177.3 0h10.2" stroke="#0c0808"/><path d="M186.9 0h19.8" stroke="#0a0606"/><path d="M206.1 0h58.2" stroke="#080606"/></g><g transform="translate(0 150.00)"><path d="M-264.3 0h58.2" stroke="#080606"/><path d="M-206.7 0h19.8" stroke="#0a0606"/><path d="M-187.5 0h10.2" stroke="#0c0808"/><path d="M-177.9 0h10.2" stroke="#0e0808"/><path d="M-168.3 0h10.2" stroke="#120808"/><path d="M-158.7 0h10.2" stroke="#160808"/><path d="M-149.1 0h10.2" stroke="#1c0a0a"/><path d="M-139.5 0h10.2" stroke="#240c0c"/><path d="M-129.9 0h10.2" stroke="#2c100e"/><path d="M-120.3 0h10.2" stroke="#3d120f"/><path d="M-110.7 0h10.2" stroke="#540e0e"/><path d="M-101.1 0h10.2" stroke="#740c0f"/><path d="M-91.5 0h10.2" stroke="#881216"/><path d="M-81.9 0h10.2" stroke="#d01d24"/><path d="M-72.3 0h10.2" stroke="#ed2124"/><path d="M-62.7 0h125.4" stroke="#100808"/><path d="M62.1 0h10.2" stroke="#ed2124"/><path d="M71.7 0h10.2" stroke="#d01d24"/><path d="M81.3 0h10.2" stroke="#881216"/><path d="M90.9 0h10.2" stroke="#740c0f"/><path d="M100.5 0h10.2" stroke="#540e0e"/><path d="M110.1 0h10.2" stroke="#3d120f"/><path d="M119.7 0h10.2" stroke="#2c100e"/><path d="M129.3 0h10.2" stroke="#240c0c"/><path d="M138.9 0h10.2" stroke="#1c0a0a"/><path d="M148.5 0h10.2" stroke="#160808"/><path d="M158.1 0h10.2" stroke="#120808"/><path d="M167.7 0h10.2" stroke="#0e0808"/><path d="M177.3 0h10.2" stroke="#0c0808"/><path d="M186.9 0h19.8" stroke="#0a0606"/><path d="M206.1 0h58.2" stroke="#080606"/></g><g transform="translate(0 157.50)"><path d="M-264.3 0h58.2" stroke="#080606"/><path d="M-206.7 0h19.8" stroke="#0a0606"/><path d="M-187.5 0h10.2" stroke="#0c0808"/><path d="M-177.9 0h10.2" stroke="#0e0808"/><path d="M-168.3 0h10.2" stroke="#120808"/><path d="M-158.7 0h10.2" stroke="#160808"/><path d="M-149.1 0h10.2" stroke="#1c0a0a"/><path d="M-139.5 0h10.2" stroke="#240c0c"/><path d="M-129.9 0h10.2" stroke="#2c100e"/><path d="M-120.3 0h10.2" stroke="#3d120f"/><path d="M-110.7 0h10.2" stroke="#540e0e"/><path d="M-101.1 0h10.2" stroke="#740c0f"/><path d="M-91.5 0h10.2" stroke="#881216"/><path d="M-81.9 0h10.2" stroke="#ca1c23"/><path d="M-72.3 0h10.2" stroke="#ed2124"/><path d="M-62.7 0h125.4" stroke="#100808"/><path d="M62.1 0h10.2" stroke="#ed2124"/><path d="M71.7 0h10.2" stroke="#ca1c23"/><path d="M81.3 0h10.2" stroke="#881216"/><path d="M90.9 0h10.2" stroke="#740c0f"/><path d="M100.5 0h10.2" stroke="#540e0e"/><path d="M110.1 0h10.2" stroke="#3d120f"/><path d="M119.7 0h10.2" stroke="#2c100e"/><path d="M129.3 0h10.2" stroke="#240c0c"/><path d="M138.9 0h10.2" stroke="#1c0a0a"/><path d="M148.5 0h10.2" stroke="#160808"/><path d="M158.1 0h10.2" stroke="#120808"/><path d="M167.7 0h10.2" stroke="#0e0808"/><path d="M177.3 0h10.2" stroke="#0c0808"/><path d="M186.9 0h19.8" stroke="#0a0606"/><path d="M206.1 0h58.2" stroke="#080606"/></g><g transform="translate(0 165.00)"><path d="M-264.3 0h58.2" stroke="#080606"/><path d="M-206.7 0h19.8" stroke="#0a0606"/><path d="M-187.5 0h10.2" stroke="#0c0808"/><path d="M-177.9 0h10.2" stroke="#0e0808"/><path d="M-168.3 0h10.2" stroke="#100808"/><path d="M-158.7 0h10.2" stroke="#160808"/><path d="M-149.1 0h10.2" stroke="#1c0a0a"/><path d="M-139.5 0h10.2" stroke="#240c0c"/><path d="M-129.9 0h10.2" stroke="#2c100e"/><path d="M-120.3 0h10.2" stroke="#3d120f"/><path d="M-110.7 0h10.2" stroke="#530e0e"/><path d="M-101.1 0h10.2" stroke="#730c0e"/><path d="M-91.5 0h10.2" stroke="#881216"/><path d="M-81.9 0h10.2" stroke="#ca1c23"/><path d="M-72.3 0h10.2" stroke="#ed2124"/><path d="M-62.7 0h10.2" stroke="#a51a20"/><path d="M-53.1 0h106.2" stroke="#0e0808"/><path d="M52.5 0h10.2" stroke="#a51a20"/><path d="M62.1 0h10.2" stroke="#ed2124"/><path d="M71.7 0h10.2" stroke="#ca1c23"/><path d="M81.3 0h10.2" stroke="#881216"/><path d="M90.9 0h10.2" stroke="#730c0e"/><path d="M100.5 0h10.2" stroke="#530e0e"/><path d="M110.1 0h10.2" stroke="#3d120f"/><path d="M119.7 0h10.2" stroke="#2c100e"/><path d="M129.3 0h10.2" stroke="#240c0c"/><path d="M138.9 0h10.2" stroke="#1c0a0a"/><path d="M148.5 0h10.2" stroke="#160808"/><path d="M158.1 0h10.2" stroke="#100808"/><path d="M167.7 0h10.2" stroke="#0e0808"/><path d="M177.3 0h10.2" stroke="#0c0808"/><path d="M186.9 0h19.8" stroke="#0a0606"/><path d="M206.1 0h58.2" stroke="#080606"/></g><g transform="translate(0 172.50)"><path d="M-264.3 0h58.2" stroke="#080606"/><path d="M-206.7 0h19.8" stroke="#0a0606"/><path d="M-187.5 0h10.2" stroke="#0c0808"/><path d="M-177.9 0h10.2" stroke="#0e0808"/><path d="M-168.3 0h10.2" stroke="#100808"/><path d="M-158.7 0h10.2" stroke="#140808"/><path d="M-149.1 0h10.2" stroke="#1a0a0a"/><path d="M-139.5 0h10.2" stroke="#220c0c"/><path d="M-129.9 0h10.2" stroke="#2c100e"/><path d="M-120.3 0h10.2" stroke="#3a1210"/><path d="M-110.7 0h10.2" stroke="#4f0f0e"/><path d="M-101.1 0h10.2" stroke="#6d0a0c"/><path d="M-91.5 0h10.2" stroke="#921519"/><path d="M-81.9 0h10.2" stroke="#c01c22"/><path d="M-72.3 0h10.2" stroke="#ed2224"/><path d="M-62.7 0h10.2" stroke="#f89b1a"/><path d="M-53.1 0h10.2" stroke="#97161b"/><path d="M-43.5 0h87.0" stroke="#0e0808"/><path d="M42.9 0h10.2" stroke="#97161b"/><path d="M52.5 0h10.2" stroke="#f89b1a"/><path d="M62.1 0h10.2" stroke="#ed2224"/><path d="M71.7 0h10.2" stroke="#c01c22"/><path d="M81.3 0h10.2" stroke="#921519"/><path d="M90.9 0h10.2" stroke="#6d0a0c"/><path d="M100.5 0h10.2" stroke="#4f0f0e"/><path d="M110.1 0h10.2" stroke="#3a1210"/><path d="M119.7 0h10.2" stroke="#2c100e"/><path d="M129.3 0h10.2" stroke="#220c0c"/><path d="M138.9 0h10.2" stroke="#1a0a0a"/><path d="M148.5 0h10.2" stroke="#140808"/><path d="M158.1 0h10.2" stroke="#100808"/><path d="M167.7 0h10.2" stroke="#0e0808"/><path d="M177.3 0h10.2" stroke="#0c0808"/><path d="M186.9 0h19.8" stroke="#0a0606"/><path d="M206.1 0h58.2" stroke="#080606"/></g><g transform="translate(0 180.00)"><path d="M-264.3 0h58.2" stroke="#080606"/><path d="M-206.7 0h19.8" stroke="#0a0606"/><path d="M-187.5 0h10.2" stroke="#0c0808"/><path d="M-177.9 0h10.2" stroke="#0e0808"/><path d="M-168.3 0h10.2" stroke="#100808"/><path d="M-158.7 0h10.2" stroke="#140808"/><path d="M-149.1 0h10.2" stroke="#1a0a0a"/><path d="M-139.5 0h10.2" stroke="#220c0a"/><path d="M-129.9 0h10.2" stroke="#2a0e0c"/><path d="M-120.3 0h10.2" stroke="#361210"/><path d="M-110.7 0h10.2" stroke="#48100f"/><path d="M-101.1 0h10.2" stroke="#620c0d"/><path d="M-91.5 0h10.2" stroke="#7f0f13"/><path d="M-81.9 0h10.2" stroke="#9b171c"/><path d="M-72.3 0h10.2" stroke="#ea1f25"/><path d="M-62.7 0h10.2" stroke="#ee2624"/><path d="M-53.1 0h10.2" stroke="#fdee04"/><path d="M-43.5 0h10.2" stroke="#881216"/><path d="M-33.9 0h67.8" stroke="#0c0808"/><path d="M33.3 0h10.2" stroke="#881216"/><path d="M42.9 0h10.2" stroke="#fdee04"/><path d="M52.5 0h10.2" stroke="#ee2624"/><path d="M62.1 0h10.2" stroke="#ea1f25"/><path d="M71.7 0h10.2" stroke="#9b171c"/><path d="M81.3 0h10.2" stroke="#7f0f13"/><path d="M90.9 0h10.2" stroke="#620c0d"/><path d="M100.5 0h10.2" stroke="#48100f"/><path d="M110.1 0h10.2" stroke="#361210"/><path d="M119.7 0h10.2" stroke="#2a0e0c"/><path d="M129.3 0h10.2" stroke="#220c0a"/><path d="M138.9 0h10.2" stroke="#1a0a0a"/><path d="M148.5 0h10.2" stroke="#140808"/><path d="M158.1 0h10.2" stroke="#100808"/><path d="M167.7 0h10.2" stroke="#0e0808"/><path d="M177.3 0h10.2" stroke="#0c0808"/><path d="M186.9 0h19.8" stroke="#0a0606"/><path d="M206.1 0h58.2" stroke="#080606"/></g><g transform="translate(0 187.50)"><path d="M-264.3 0h58.2" stroke="#080606"/><path d="M-206.7 0h19.8" stroke="#0a0606"/><path d="M-187.5 0h10.2" stroke="#0c0808"/><path d="M-177.9 0h10.2" stroke="#0e0808"/><path d="M-168.3 0h10.2" stroke="#100808"/><path d="M-158.7 0h10.2" stroke="#140808"/><path d="M-149.1 0h10.2" stroke="#180a0a"/><path d="M-139.5 0h10.2" stroke="#200a0a"/><path d="M-129.9 0h10.2" stroke="#260e0c"/><path d="M-120.3 0h10.2" stroke="#32120e"/><path d="M-110.7 0h10.2" stroke="#40110f"/><path d="M-101.1 0h10.2" stroke="#550e0e"/><path d="M-91.5 0h10.2" stroke="#6d0a0c"/><path d="M-81.9 0h10.2" stroke="#811013"/><path d="M-72.3 0h10.2" stroke="#9f181e"/><path d="M-62.7 0h10.2" stroke="#eb2025"/><path d="M-53.1 0h10.2" stroke="#ef2f24"/><path d="M-43.5 0h10.2" stroke="#fdc80a"/><path d="M-33.9 0h10.2" stroke="#ef3824"/><path d="M-24.3 0h10.2" stroke="#881216"/><path d="M-14.7 0h10.2" stroke="#580d0d"/><path d="M-5.1 0h10.2" stroke="#4a100f"/><path d="M4.5 0h10.2" stroke="#580d0d"/><path d="M14.1 0h10.2" stroke="#881216"/><path d="M23.7 0h10.2" stroke="#ef3824"/><path d="M33.3 0h10.2" stroke="#fdc80a"/><path d="M42.9 0h10.2" stroke="#ef2f24"/><path d="M52.5 0h10.2" stroke="#eb2025"/><path d="M62.1 0h10.2" stroke="#9f181e"/><path d="M71.7 0h10.2" stroke="#811013"/><path d="M81.3 0h10.2" stroke="#6d0a0c"/><path d="M90.9 0h10.2" stroke="#550e0e"/><path d="M100.5 0h10.2" stroke="#40110f"/><path d="M110.1 0h10.2" stroke="#32120e"/><path d="M119.7 0h10.2" stroke="#260e0c"/><path d="M129.3 0h10.2" stroke="#200a0a"/><path d="M138.9 0h10.2" stroke="#180a0a"/><path d="M148.5 0h10.2" stroke="#140808"/><path d="M158.1 0h10.2" stroke="#100808"/><path d="M167.7 0h10.2" stroke="#0e0808"/><path d="M177.3 0h10.2" stroke="#0c0808"/><path d="M186.9 0h19.8" stroke="#0a0606"/><path d="M206.1 0h58.2" stroke="#080606"/></g><g transform="translate(0 195.00)"><path d="M-264.3 0h58.2" stroke="#080606"/><path d="M-206.7 0h19.8" stroke="#0a0606"/><path d="M-187.5 0h19.8" stroke="#0c0808"/><path d="M-168.3 0h10.2" stroke="#0e0808"/><path d="M-158.7 0h10.2" stroke="#120808"/><path d="M-149.1 0h10.2" stroke="#160808"/><path d="M-139.5 0h10.2" stroke="#1c0a0a"/><path d="M-129.9 0h10.2" stroke="#240c0c"/><path d="M-120.3 0h10.2" stroke="#2c100e"/><path d="M-110.7 0h10.2" stroke="#361210"/><path d="M-101.1 0h10.2" stroke="#47100f"/><path d="M-91.5 0h10.2" stroke="#580d0d"/><path d="M-81.9 0h10.2" stroke="#6a0a0c"/><path d="M-72.3 0h10.2" stroke="#811013"/><path d="M-62.7 0h10.2" stroke="#9b171c"/><path d="M-53.1 0h10.2" stroke="#ea1f25"/><path d="M-43.5 0h10.2" stroke="#ed2224"/><path d="M-33.9 0h10.2" stroke="#ef3824"/><path d="M-24.3 0h10.2" stroke="#faec0c"/><path d="M-14.7 0h10.2" stroke="#f26722"/><path d="M-5.1 0h10.2" stroke="#f15a24"/><path d="M4.5 0h10.2" stroke="#f26722"/><path d="M14.1 0h10.2" stroke="#faec0c"/><path d="M23.7 0h10.2" stroke="#ef3824"/><path d="M33.3 0h10.2" stroke="#ed2224"/><path d="M42.9 0h10.2" stroke="#ea1f25"/><path d="M52.5 0h10.2" stroke="#9b171c"/><path d="M62.1 0h10.2" stroke="#811013"/><path d="M71.7 0h10.2" stroke="#6a0a0c"/><path d="M81.3 0h10.2" stroke="#580d0d"/><path d="M90.9 0h10.2" stroke="#47100f"/><path d="M100.5 0h10.2" stroke="#361210"/><path d="M110.1 0h10.2" stroke="#2c100e"/><path d="M119.7 0h10.2" stroke="#240c0c"/><path d="M129.3 0h10.2" stroke="#1c0a0a"/><path d="M138.9 0h10.2" stroke="#160808"/><path d="M148.5 0h10.2" stroke="#120808"/><path d="M158.1 0h10.2" stroke="#0e0808"/><path d="M167.7 0h19.8" stroke="#0c0808"/><path d="M186.9 0h19.8" stroke="#0a0606"/><path d="M206.1 0h58.2" stroke="#080606"/></g><g transform="translate(0 202.50)"><path d="M-264.3 0h10.2" stroke="#060606"/><path d="M-254.7 0h48.6" stroke="#080606"/><path d="M-206.7 0h19.8" stroke="#0a0606"/><path d="M-187.5 0h19.8" stroke="#0c0808"/><path d="M-168.3 0h10.2" stroke="#0e0808"/><path d="M-158.7 0h10.2" stroke="#100808"/><path d="M-149.1 0h10.2" stroke="#160808"/><path d="M-139.5 0h10.2" stroke="#1a0a0a"/><path d="M-129.9 0h10.2" stroke="#200c0a"/><path d="M-120.3 0h10.2" stroke="#280e0c"/><path d="M-110.7 0h10.2" stroke="#30100e"/><path d="M-101.1 0h10.2" stroke="#3a1210"/><path d="M-91.5 0h10.2" stroke="#49100f"/><path d="M-81.9 0h10.2" stroke="#590d0d"/><path d="M-72.3 0h10.2" stroke="#6d0a0c"/><path d="M-62.7 0h10.2" stroke="#811013"/><path d="M-53.1 0h10.2" stroke="#9f181e"/><path d="M-43.5 0h10.2" stroke="#bc1b22"/><path d="M-33.9 0h10.2" stroke="#c11c23"/><path d="M-24.3 0h10.2" stroke="#e91f26"/><path d="M-14.7 0h29.4" stroke="#ea1f25"/><path d="M14.1 0h10.2" stroke="#e91f26"/><path d="M23.7 0h10.2" stroke="#c11c23"/><path d="M33.3 0h10.2" stroke="#bc1b22"/><path d="M42.9 0h10.2" stroke="#9f181e"/><path d="M52.5 0h10.2" stroke="#811013"/><path d="M62.1 0h10.2" stroke="#6d0a0c"/><path d="M71.7 0h10.2" stroke="#590d0d"/><path d="M81.3 0h10.2" stroke="#49100f"/><path d="M90.9 0h10.2" stroke="#3a1210"/><path d="M100.5 0h10.2" stroke="#30100e"/><path d="M110.1 0h10.2" stroke="#280e0c"/><path d="M119.7 0h10.2" stroke="#200c0a"/><path d="M129.3 0h10.2" stroke="#1a0a0a"/><path d="M138.9 0h10.2" stroke="#160808"/><path d="M148.5 0h10.2" stroke="#100808"/><path d="M158.1 0h10.2" stroke="#0e0808"/><path d="M167.7 0h19.8" stroke="#0c0808"/><path d="M186.9 0h19.8" stroke="#0a0606"/><path d="M206.1 0h48.6" stroke="#080606"/><path d="M254.1 0h10.2" stroke="#060606"/></g><g transform="translate(0 210.00)"><path d="M-264.3 0h10.2" stroke="#060606"/><path d="M-254.7 0h58.2" stroke="#080606"/><path d="M-197.1 0h19.8" stroke="#0a0606"/><path d="M-177.9 0h10.2" stroke="#0c0808"/><path d="M-168.3 0h10.2" stroke="#0e0808"/><path d="M-158.7 0h10.2" stroke="#100808"/><path d="M-149.1 0h10.2" stroke="#140808"/><path d="M-139.5 0h10.2" stroke="#180808"/><path d="M-129.9 0h10.2" stroke="#1c0a0a"/><path d="M-120.3 0h10.2" stroke="#220c0c"/><path d="M-110.7 0h10.2" stroke="#280e0c"/><path d="M-101.1 0h10.2" stroke="#30100e"/><path d="M-91.5 0h10.2" stroke="#3a1210"/><path d="M-81.9 0h10.2" stroke="#47100f"/><path d="M-72.3 0h10.2" stroke="#580d0d"/><path d="M-62.7 0h10.2" stroke="#6a0a0c"/><path d="M-53.1 0h10.2" stroke="#811013"/><path d="M-43.5 0h10.2" stroke="#8f1418"/><path d="M-33.9 0h10.2" stroke="#9b171c"/><path d="M-24.3 0h10.2" stroke="#b51b21"/><path d="M-14.7 0h29.4" stroke="#ba1b22"/><path d="M14.1 0h10.2" stroke="#b51b21"/><path d="M23.7 0h10.2" stroke="#9b171c"/><path d="M33.3 0h10.2" stroke="#8f1418"/><path d="M42.9 0h10.2" stroke="#811013"/><path d="M52.5 0h10.2" stroke="#6a0a0c"/><path d="M62.1 0h10.2" stroke="#580d0d"/><path d="M71.7 0h10.2" stroke="#47100f"/><path d="M81.3 0h10.2" stroke="#3a1210"/><path d="M90.9 0h10.2" stroke="#30100e"/><path d="M100.5 0h10.2" stroke="#280e0c"/><path d="M110.1 0h10.2" stroke="#220c0c"/><path d="M119.7 0h10.2" stroke="#1c0a0a"/><path d="M129.3 0h10.2" stroke="#180808"/><path d="M138.9 0h10.2" stroke="#140808"/><path d="M148.5 0h10.2" stroke="#100808"/><path d="M158.1 0h10.2" stroke="#0e0808"/><path d="M167.7 0h10.2" stroke="#0c0808"/><path d="M177.3 0h19.8" stroke="#0a0606"/><path d="M196.5 0h58.2" stroke="#080606"/><path d="M254.1 0h10.2" stroke="#060606"/></g><g transform="translate(0 217.50)"><path d="M-264.3 0h10.2" stroke="#060606"/><path d="M-254.7 0h58.2" stroke="#080606"/><path d="M-197.1 0h19.8" stroke="#0a0606"/><path d="M-177.9 0h19.8" stroke="#0c0808"/><path d="M-158.7 0h10.2" stroke="#0e0808"/><path d="M-149.1 0h10.2" stroke="#120808"/><path d="M-139.5 0h10.2" stroke="#160808"/><path d="M-129.9 0h10.2" stroke="#1a0a0a"/><path d="M-120.3 0h10.2" stroke="#1e0a0a"/><path d="M-110.7 0h10.2" stroke="#240c0c"/><path d="M-101.1 0h10.2" stroke="#2a0e0c"/><path d="M-91.5 0h10.2" stroke="#32120e"/><path d="M-81.9 0h10.2" stroke="#3a1210"/><path d="M-72.3 0h10.2" stroke="#49100f"/><path d="M-62.7 0h10.2" stroke="#590d0d"/><path d="M-53.1 0h10.2" stroke="#690a0c"/><path d="M-43.5 0h10.2" stroke="#730c0e"/><path d="M-33.9 0h10.2" stroke="#811013"/><path d="M-24.3 0h10.2" stroke="#8f1418"/><path d="M-14.7 0h29.4" stroke="#911519"/><path d="M14.1 0h10.2" stroke="#8f1418"/><path d="M23.7 0h10.2" stroke="#811013"/><path d="M33.3 0h10.2" stroke="#730c0e"/><path d="M42.9 0h10.2" stroke="#690a0c"/><path d="M52.5 0h10.2" stroke="#590d0d"/><path d="M62.1 0h10.2" stroke="#49100f"/><path d="M71.7 0h10.2" stroke="#3a1210"/><path d="M81.3 0h10.2" stroke="#32120e"/><path d="M90.9 0h10.2" stroke="#2a0e0c"/><path d="M100.5 0h10.2" stroke="#240c0c"/><path d="M110.1 0h10.2" stroke="#1e0a0a"/><path d="M119.7 0h10.2" stroke="#1a0a0a"/><path d="M129.3 0h10.2" stroke="#160808"/><path d="M138.9 0h10.2" stroke="#120808"/><path d="M148.5 0h10.2" stroke="#0e0808"/><path d="M158.1 0h19.8" stroke="#0c0808"/><path d="M177.3 0h19.8" stroke="#0a0606"/><path d="M196.5 0h58.2" stroke="#080606"/><path d="M254.1 0h10.2" stroke="#060606"/></g><g transform="translate(0 225.00)"><path d="M-264.3 0h10.2" stroke="#060606"/><path d="M-254.7 0h58.2" stroke="#080606"/><path d="M-197.1 0h29.4" stroke="#0a0606"/><path d="M-168.3 0h10.2" stroke="#0c0808"/><path d="M-158.7 0h10.2" stroke="#0e0808"/><path d="M-149.1 0h10.2" stroke="#100808"/><path d="M-139.5 0h10.2" stroke="#120808"/><path d="M-129.9 0h10.2" stroke="#160808"/><path d="M-120.3 0h10.2" stroke="#1a0a0a"/><path d="M-110.7 0h10.2" stroke="#1e0a0a"/><path d="M-101.1 0h10.2" stroke="#240c0c"/><path d="M-91.5 0h10.2" stroke="#2a0e0c"/><path d="M-81.9 0h10.2" stroke="#30100e"/><path d="M-72.3 0h10.2" stroke="#3a1210"/><path d="M-62.7 0h10.2" stroke="#47100f"/><path d="M-53.1 0h10.2" stroke="#520e0e"/><path d="M-43.5 0h10.2" stroke="#590d0d"/><path d="M-33.9 0h10.2" stroke="#660b0c"/><path d="M-24.3 0h10.2" stroke="#700b0d"/><path d="M-14.7 0h29.4" stroke="#710b0e"/><path d="M14.1 0h10.2" stroke="#700b0d"/><path d="M23.7 0h10.2" stroke="#660b0c"/><path d="M33.3 0h10.2" stroke="#590d0d"/><path d="M42.9 0h10.2" stroke="#520e0e"/><path d="M52.5 0h10.2" stroke="#47100f"/><path d="M62.1 0h10.2" stroke="#3a1210"/><path d="M71.7 0h10.2" stroke="#30100e"/><path d="M81.3 0h10.2" stroke="#2a0e0c"/><path d="M90.9 0h10.2" stroke="#240c0c"/><path d="M100.5 0h10.2" stroke="#1e0a0a"/><path d="M110.1 0h10.2" stroke="#1a0a0a"/><path d="M119.7 0h10.2" stroke="#160808"/><path d="M129.3 0h10.2" stroke="#120808"/><path d="M138.9 0h10.2" stroke="#100808"/><path d="M148.5 0h10.2" stroke="#0e0808"/><path d="M158.1 0h10.2" stroke="#0c0808"/><path d="M167.7 0h29.4" stroke="#0a0606"/><path d="M196.5 0h58.2" stroke="#080606"/><path d="M254.1 0h10.2" stroke="#060606"/></g><g transform="translate(0 232.50)"><path d="M-264.3 0h19.8" stroke="#060606"/><path d="M-245.1 0h58.2" stroke="#080606"/><path d="M-187.5 0h19.8" stroke="#0a0606"/><path d="M-168.3 0h19.8" stroke="#0c0808"/><path d="M-149.1 0h10.2" stroke="#0e0808"/><path d="M-139.5 0h10.2" stroke="#100808"/><path d="M-129.9 0h10.2" stroke="#140808"/><path d="M-120.3 0h10.2" stroke="#160808"/><path d="M-110.7 0h10.2" stroke="#1a0a0a"/><path d="M-101.1 0h10.2" stroke="#1e0a0a"/><path d="M-91.5 0h10.2" stroke="#240c0c"/><path d="M-81.9 0h10.2" stroke="#2a0e0c"/><path d="M-72.3 0h10.2" stroke="#32120e"/><path d="M-62.7 0h10.2" stroke="#381210"/><path d="M-53.1 0h10.2" stroke="#41110f"/><path d="M-43.5 0h10.2" stroke="#48100f"/><path d="M-33.9 0h10.2" stroke="#520e0e"/><path d="M-24.3 0h10.2" stroke="#590d0d"/><path d="M-14.7 0h29.4" stroke="#5a0d0d"/><path d="M14.1 0h10.2" stroke="#590d0d"/><path d="M23.7 0h10.2" stroke="#520e0e"/><path d="M33.3 0h10.2" stroke="#48100f"/><path d="M42.9 0h10.2" stroke="#41110f"/><path d="M52.5 0h10.2" stroke="#381210"/><path d="M62.1 0h10.2" stroke="#32120e"/><path d="M71.7 0h10.2" stroke="#2a0e0c"/><path d="M81.3 0h10.2" stroke="#240c0c"/><path d="M90.9 0h10.2" stroke="#1e0a0a"/><path d="M100.5 0h10.2" stroke="#1a0a0a"/><path d="M110.1 0h10.2" stroke="#160808"/><path d="M119.7 0h10.2" stroke="#140808"/><path d="M129.3 0h10.2" stroke="#100808"/><path d="M138.9 0h10.2" stroke="#0e0808"/><path d="M148.5 0h19.8" stroke="#0c0808"/><path d="M167.7 0h19.8" stroke="#0a0606"/><path d="M186.9 0h58.2" stroke="#080606"/><path d="M244.5 0h19.8" stroke="#060606"/></g><g transform="translate(0 240.00)"><path d="M-264.3 0h19.8" stroke="#060606"/><path d="M-245.1 0h58.2" stroke="#080606"/><path d="M-187.5 0h29.4" stroke="#0a0606"/><path d="M-158.7 0h10.2" stroke="#0c0808"/><path d="M-149.1 0h19.8" stroke="#0e0808"/><path d="M-129.9 0h10.2" stroke="#100808"/><path d="M-120.3 0h10.2" stroke="#140808"/><path d="M-110.7 0h10.2" stroke="#160808"/><path d="M-101.1 0h10.2" stroke="#1a0a0a"/><path d="M-91.5 0h10.2" stroke="#1e0a0a"/><path d="M-81.9 0h10.2" stroke="#240c0c"/><path d="M-72.3 0h10.2" stroke="#2a0e0c"/><path d="M-62.7 0h10.2" stroke="#2e100e"/><path d="M-53.1 0h10.2" stroke="#32120e"/><path d="M-43.5 0h10.2" stroke="#381210"/><path d="M-33.9 0h10.2" stroke="#3f110f"/><path d="M-24.3 0h48.6" stroke="#44110f"/><path d="M23.7 0h10.2" stroke="#3f110f"/><path d="M33.3 0h10.2" stroke="#381210"/><path d="M42.9 0h10.2" stroke="#32120e"/><path d="M52.5 0h10.2" stroke="#2e100e"/><path d="M62.1 0h10.2" stroke="#2a0e0c"/><path d="M71.7 0h10.2" stroke="#240c0c"/><path d="M81.3 0h10.2" stroke="#1e0a0a"/><path d="M90.9 0h10.2" stroke="#1a0a0a"/><path d="M100.5 0h10.2" stroke="#160808"/><path d="M110.1 0h10.2" stroke="#140808"/><path d="M119.7 0h10.2" stroke="#100808"/><path d="M129.3 0h19.8" stroke="#0e0808"/><path d="M148.5 0h10.2" stroke="#0c0808"/><path d="M158.1 0h29.4" stroke="#0a0606"/><path d="M186.9 0h58.2" stroke="#080606"/><path d="M244.5 0h19.8" stroke="#060606"/></g><g transform="translate(0 247.50)"><path d="M-264.3 0h19.8" stroke="#060606"/><path d="M-245.1 0h67.8" stroke="#080606"/><path d="M-177.9 0h19.8" stroke="#0a0606"/><path d="M-158.7 0h19.8" stroke="#0c0808"/><path d="M-139.5 0h19.8" stroke="#0e0808"/><path d="M-120.3 0h10.2" stroke="#120808"/><path d="M-110.7 0h10.2" stroke="#140808"/><path d="M-101.1 0h10.2" stroke="#160808"/><path d="M-91.5 0h10.2" stroke="#1a0a0a"/><path d="M-81.9 0h10.2" stroke="#1e0a0a"/><path d="M-72.3 0h10.2" stroke="#240c0c"/><path d="M-62.7 0h10.2" stroke="#260e0c"/><path d="M-53.1 0h10.2" stroke="#2a0e0c"/><path d="M-43.5 0h10.2" stroke="#2e100e"/><path d="M-33.9 0h10.2" stroke="#32120e"/><path d="M-24.3 0h48.6" stroke="#341210"/><path d="M23.7 0h10.2" stroke="#32120e"/><path d="M33.3 0h10.2" stroke="#2e100e"/><path d="M42.9 0h10.2" stroke="#2a0e0c"/><path d="M52.5 0h10.2" stroke="#260e0c"/><path d="M62.1 0h10.2" stroke="#240c0c"/><path d="M71.7 0h10.2" stroke="#1e0a0a"/><path d="M81.3 0h10.2" stroke="#1a0a0a"/><path d="M90.9 0h10.2" stroke="#160808"/><path d="M100.5 0h10.2" stroke="#140808"/><path d="M110.1 0h10.2" stroke="#120808"/><path d="M119.7 0h19.8" stroke="#0e0808"/><path d="M138.9 0h19.8" stroke="#0c0808"/><path d="M158.1 0h19.8" stroke="#0a0606"/><path d="M177.3 0h67.8" stroke="#080606"/><path d="M244.5 0h19.8" stroke="#060606"/></g><g transform="translate(0 255.00)"><path d="M-264.3 0h29.4" stroke="#060606"/><path d="M-235.5 0h58.2" stroke="#080606"/><path d="M-177.9 0h29.4" stroke="#0a0606"/><path d="M-149.1 0h19.8" stroke="#0c0808"/><path d="M-129.9 0h19.8" stroke="#0e0808"/><path d="M-110.7 0h10.2" stroke="#100808"/><path d="M-101.1 0h10.2" stroke="#140808"/><path d="M-91.5 0h10.2" stroke="#160808"/><path d="M-81.9 0h10.2" stroke="#1a0a0a"/><path d="M-72.3 0h10.2" stroke="#1e0a0a"/><path d="M-62.7 0h10.2" stroke="#200c0a"/><path d="M-53.1 0h10.2" stroke="#220c0c"/><path d="M-43.5 0h10.2" stroke="#260e0c"/><path d="M-33.9 0h10.2" stroke="#280e0c"/><path d="M-24.3 0h48.6" stroke="#2a0e0c"/><path d="M23.7 0h10.2" stroke="#280e0c"/><path d="M33.3 0h10.2" stroke="#260e0c"/><path d="M42.9 0h10.2" stroke="#220c0c"/><path d="M52.5 0h10.2" stroke="#200c0a"/><path d="M62.1 0h10.2" stroke="#1e0a0a"/><path d="M71.7 0h10.2" stroke="#1a0a0a"/><path d="M81.3 0h10.2" stroke="#160808"/><path d="M90.9 0h10.2" stroke="#140808"/><path d="M100.5 0h10.2" stroke="#100808"/><path d="M110.1 0h19.8" stroke="#0e0808"/><path d="M129.3 0h19.8" stroke="#0c0808"/><path d="M148.5 0h29.4" stroke="#0a0606"/><path d="M177.3 0h58.2" stroke="#080606"/><path d="M234.9 0h29.4" stroke="#060606"/></g><g transform="translate(0 262.50)"><path d="M-264.3 0h29.4" stroke="#060606"/><path d="M-235.5 0h67.8" stroke="#080606"/><path d="M-168.3 0h29.4" stroke="#0a0606"/><path d="M-139.5 0h19.8" stroke="#0c0808"/><path d="M-120.3 0h19.8" stroke="#0e0808"/><path d="M-101.1 0h10.2" stroke="#120808"/><path d="M-91.5 0h10.2" stroke="#140808"/><path d="M-81.9 0h10.2" stroke="#160808"/><path d="M-72.3 0h10.2" stroke="#180a0a"/><path d="M-62.7 0h10.2" stroke="#1a0a0a"/><path d="M-53.1 0h10.2" stroke="#1e0a0a"/><path d="M-43.5 0h10.2" stroke="#200c0a"/><path d="M-33.9 0h10.2" stroke="#220c0c"/><path d="M-24.3 0h48.6" stroke="#240c0c"/><path d="M23.7 0h10.2" stroke="#220c0c"/><path d="M33.3 0h10.2" stroke="#200c0a"/><path d="M42.9 0h10.2" stroke="#1e0a0a"/><path d="M52.5 0h10.2" stroke="#1a0a0a"/><path d="M62.1 0h10.2" stroke="#180a0a"/><path d="M71.7 0h10.2" stroke="#160808"/><path d="M81.3 0h10.2" stroke="#140808"/><path d="M90.9 0h10.2" stroke="#120808"/><path d="M100.5 0h19.8" stroke="#0e0808"/><path d="M119.7 0h19.8" stroke="#0c0808"/><path d="M138.9 0h29.4" stroke="#0a0606"/><path d="M167.7 0h67.8" stroke="#080606"/><path d="M234.9 0h29.4" stroke="#060606"/></g><g transform="translate(0 270.00)"><path d="M-264.3 0h39.0" stroke="#060606"/><path d="M-225.9 0h67.8" stroke="#080606"/><path d="M-158.7 0h29.4" stroke="#0a0606"/><path d="M-129.9 0h19.8" stroke="#0c0808"/><path d="M-110.7 0h19.8" stroke="#0e0808"/><path d="M-91.5 0h10.2" stroke="#100808"/><path d="M-81.9 0h10.2" stroke="#120808"/><path d="M-72.3 0h10.2" stroke="#140808"/><path d="M-62.7 0h10.2" stroke="#160808"/><path d="M-53.1 0h10.2" stroke="#180808"/><path d="M-43.5 0h10.2" stroke="#1a0a0a"/><path d="M-33.9 0h67.8" stroke="#1c0a0a"/><path d="M33.3 0h10.2" stroke="#1a0a0a"/><path d="M42.9 0h10.2" stroke="#180808"/><path d="M52.5 0h10.2" stroke="#160808"/><path d="M62.1 0h10.2" stroke="#140808"/><path d="M71.7 0h10.2" stroke="#120808"/><path d="M81.3 0h10.2" stroke="#100808"/><path d="M90.9 0h19.8" stroke="#0e0808"/><path d="M110.1 0h19.8" stroke="#0c0808"/><path d="M129.3 0h29.4" stroke="#0a0606"/><path d="M158.1 0h67.8" stroke="#080606"/><path d="M225.3 0h39.0" stroke="#060606"/></g><g transform="translate(0 277.50)"><path d="M-264.3 0h39.0" stroke="#060606"/><path d="M-225.9 0h77.4" stroke="#080606"/><path d="M-149.1 0h29.4" stroke="#0a0606"/><path d="M-120.3 0h19.8" stroke="#0c0808"/><path d="M-101.1 0h19.8" stroke="#0e0808"/><path d="M-81.9 0h10.2" stroke="#100808"/><path d="M-72.3 0h19.8" stroke="#120808"/><path d="M-53.1 0h10.2" stroke="#140808"/><path d="M-43.5 0h10.2" stroke="#160808"/><path d="M-33.9 0h67.8" stroke="#180808"/><path d="M33.3 0h10.2" stroke="#160808"/><path d="M42.9 0h10.2" stroke="#140808"/><path d="M52.5 0h19.8" stroke="#120808"/><path d="M71.7 0h10.2" stroke="#100808"/><path d="M81.3 0h19.8" stroke="#0e0808"/><path d="M100.5 0h19.8" stroke="#0c0808"/><path d="M119.7 0h29.4" stroke="#0a0606"/><path d="M148.5 0h77.4" stroke="#080606"/><path d="M225.3 0h39.0" stroke="#060606"/></g><g transform="translate(0 285.00)"><path d="M-264.3 0h48.6" stroke="#060606"/><path d="M-216.3 0h77.4" stroke="#080606"/><path d="M-139.5 0h29.4" stroke="#0a0606"/><path d="M-110.7 0h19.8" stroke="#0c0808"/><path d="M-91.5 0h29.4" stroke="#0e0808"/><path d="M-62.7 0h10.2" stroke="#100808"/><path d="M-53.1 0h19.8" stroke="#120808"/><path d="M-33.9 0h67.8" stroke="#140808"/><path d="M33.3 0h19.8" stroke="#120808"/><path d="M52.5 0h10.2" stroke="#100808"/><path d="M62.1 0h29.4" stroke="#0e0808"/><path d="M90.9 0h19.8" stroke="#0c0808"/><path d="M110.1 0h29.4" stroke="#0a0606"/><path d="M138.9 0h77.4" stroke="#080606"/><path d="M215.7 0h48.6" stroke="#060606"/></g><g transform="translate(0 292.50)"><path d="M-264.3 0h48.6" stroke="#060606"/><path d="M-216.3 0h87.0" stroke="#080606"/><path d="M-129.9 0h29.4" stroke="#0a0606"/><path d="M-101.1 0h29.4" stroke="#0c0808"/><path d="M-72.3 0h29.4" stroke="#0e0808"/><path d="M-43.5 0h87.0" stroke="#100808"/><path d="M42.9 0h29.4" stroke="#0e0808"/><path d="M71.7 0h29.4" stroke="#0c0808"/><path d="M100.5 0h29.4" stroke="#0a0606"/><path d="M129.3 0h87.0" stroke="#080606"/><path d="M215.7 0h48.6" stroke="#060606"/></g><g transform="translate(0 300.00)"><path d="M-264.3 0h58.2" stroke="#060606"/><path d="M-206.7 0h87.0" stroke="#080606"/><path d="M-120.3 0h39.0" stroke="#0a0606"/><path d="M-81.9 0h29.4" stroke="#0c0808"/><path d="M-53.1 0h106.2" stroke="#0e0808"/><path d="M52.5 0h29.4" stroke="#0c0808"/><path d="M81.3 0h39.0" stroke="#0a0606"/><path d="M119.7 0h87.0" stroke="#080606"/><path d="M206.1 0h58.2" stroke="#060606"/></g><g transform="translate(0 307.50)"><path d="M-264.3 0h67.8" stroke="#060606"/><path d="M-197.1 0h87.0" stroke="#080606"/><path d="M-110.7 0h48.6" stroke="#0a0606"/><path d="M-62.7 0h125.4" stroke="#0c0808"/><path d="M62.1 0h48.6" stroke="#0a0606"/><path d="M110.1 0h87.0" stroke="#080606"/><path d="M196.5 0h67.8" stroke="#060606"/></g><g transform="translate(0 315.00)"><path d="M-264.3 0h77.4" stroke="#060606"/><path d="M-187.5 0h87.0" stroke="#080606"/><path d="M-101.1 0h58.2" stroke="#0a0606"/><path d="M-43.5 0h87.0" stroke="#0c0808"/><path d="M42.9 0h58.2" stroke="#0a0606"/><path d="M100.5 0h87.0" stroke="#080606"/><path d="M186.9 0h77.4" stroke="#060606"/></g><g transform="translate(0 322.50)"><path d="M-264.3 0h87.0" stroke="#060606"/><path d="M-177.9 0h96.6" stroke="#080606"/><path d="M-81.9 0h163.8" stroke="#0a0606"/><path d="M81.3 0h96.6" stroke="#080606"/><path d="M177.3 0h87.0" stroke="#060606"/></g><g transform="translate(0 330.00)"><path d="M-264.3 0h96.6" stroke="#060606"/><path d="M-168.3 0h106.2" stroke="#080606"/><path d="M-62.7 0h125.4" stroke="#0a0606"/><path d="M62.1 0h106.2" stroke="#080606"/><path d="M167.7 0h96.6" stroke="#060606"/></g><g transform="translate(0 337.50)"><path d="M-264.3 0h106.2" stroke="#060606"/><path d="M-158.7 0h135.0" stroke="#080606"/><path d="M-24.3 0h48.6" stroke="#0a0606"/><path d="M23.7 0h135.0" stroke="#080606"/><path d="M158.1 0h106.2" stroke="#060606"/></g><g transform="translate(0 345.00)"><path d="M-264.3 0h115.8" stroke="#060606"/><path d="M-149.1 0h298.2" stroke="#080606"/><path d="M148.5 0h115.8" stroke="#060606"/></g></g></g></g><rect x="88" y="942" width="495.5" height="676.5" fill="none" stroke="#0a0a0a" stroke-width="3"/><line x1="90.5" y1="939" x2="90.5" y2="943" stroke="#0a0a0a" stroke-width="3" stroke-linecap="butt"/><line x1="90.5" y1="1617.5" x2="90.5" y2="1621.5" stroke="#0a0a0a" stroke-width="3" stroke-linecap="butt"/><line x1="108" y1="939" x2="108" y2="943" stroke="#0a0a0a" stroke-width="3" stroke-linecap="butt"/><line x1="108" y1="1617.5" x2="108" y2="1621.5" stroke="#0a0a0a" stroke-width="3" stroke-linecap="butt"/><line x1="125.5" y1="939" x2="125.5" y2="943" stroke="#0a0a0a" stroke-width="3" stroke-linecap="butt"/><line x1="125.5" y1="1617.5" x2="125.5" y2="1621.5" stroke="#0a0a0a" stroke-width="3" stroke-linecap="butt"/><line x1="143" y1="939" x2="143" y2="943" stroke="#0a0a0a" stroke-width="3" stroke-linecap="butt"/><line x1="143" y1="1617.5" x2="143" y2="1621.5" stroke="#0a0a0a" stroke-width="3" stroke-linecap="butt"/><line x1="160.5" y1="936" x2="160.5" y2="943" stroke="#0a0a0a" stroke-width="3" stroke-linecap="butt"/><line x1="160.5" y1="1617.5" x2="160.5" y2="1624.5" stroke="#0a0a0a" stroke-width="3" stroke-linecap="butt"/><line x1="178" y1="939" x2="178" y2="943" stroke="#0a0a0a" stroke-width="3" stroke-linecap="butt"/><line x1="178" y1="1617.5" x2="178" y2="1621.5" stroke="#0a0a0a" stroke-width="3" stroke-linecap="butt"/><line x1="195.5" y1="939" x2="195.5" y2="943" stroke="#0a0a0a" stroke-width="3" stroke-linecap="butt"/><line x1="195.5" y1="1617.5" x2="195.5" y2="1621.5" stroke="#0a0a0a" stroke-width="3" stroke-linecap="butt"/><line x1="213" y1="939" x2="213" y2="943" stroke="#0a0a0a" stroke-width="3" stroke-linecap="butt"/><line x1="213" y1="1617.5" x2="213" y2="1621.5" stroke="#0a0a0a" stroke-width="3" stroke-linecap="butt"/><line x1="230.5" y1="939" x2="230.5" y2="943" stroke="#0a0a0a" stroke-width="3" stroke-linecap="butt"/><line x1="230.5" y1="1617.5" x2="230.5" y2="1621.5" stroke="#0a0a0a" stroke-width="3" stroke-linecap="butt"/><line x1="248" y1="938" x2="248" y2="943" stroke="#0a0a0a" stroke-width="3" stroke-linecap="butt"/><line x1="248" y1="1617.5" x2="248" y2="1622.5" stroke="#0a0a0a" stroke-width="3" stroke-linecap="butt"/><line x1="265.5" y1="939" x2="265.5" y2="943" stroke="#0a0a0a" stroke-width="3" stroke-linecap="butt"/><line x1="265.5" y1="1617.5" x2="265.5" y2="1621.5" stroke="#0a0a0a" stroke-width="3" stroke-linecap="butt"/><line x1="283" y1="939" x2="283" y2="943" stroke="#0a0a0a" stroke-width="3" stroke-linecap="butt"/><line x1="283" y1="1617.5" x2="283" y2="1621.5" stroke="#0a0a0a" stroke-width="3" stroke-linecap="butt"/><line x1="300.5" y1="939" x2="300.5" y2="943" stroke="#0a0a0a" stroke-width="3" stroke-linecap="butt"/><line x1="300.5" y1="1617.5" x2="300.5" y2="1621.5" stroke="#0a0a0a" stroke-width="3" stroke-linecap="butt"/><line x1="318" y1="939" x2="318" y2="943" stroke="#0a0a0a" stroke-width="3" stroke-linecap="butt"/><line x1="318" y1="1617.5" x2="318" y2="1621.5" stroke="#0a0a0a" stroke-width="3" stroke-linecap="butt"/><line x1="335.5" y1="936" x2="335.5" y2="943" stroke="#0a0a0a" stroke-width="3" stroke-linecap="butt"/><line x1="335.5" y1="1617.5" x2="335.5" y2="1624.5" stroke="#0a0a0a" stroke-width="3" stroke-linecap="butt"/><line x1="353" y1="939" x2="353" y2="943" stroke="#0a0a0a" stroke-width="3" stroke-linecap="butt"/><line x1="353" y1="1617.5" x2="353" y2="1621.5" stroke="#0a0a0a" stroke-width="3" stroke-linecap="butt"/><line x1="370.5" y1="939" x2="370.5" y2="943" stroke="#0a0a0a" stroke-width="3" stroke-linecap="butt"/><line x1="370.5" y1="1617.5" x2="370.5" y2="1621.5" stroke="#0a0a0a" stroke-width="3" stroke-linecap="butt"/><line x1="388" y1="939" x2="388" y2="943" stroke="#0a0a0a" stroke-width="3" stroke-linecap="butt"/><line x1="388" y1="1617.5" x2="388" y2="1621.5" stroke="#0a0a0a" stroke-width="3" stroke-linecap="butt"/><line x1="405.5" y1="939" x2="405.5" y2="943" stroke="#0a0a0a" stroke-width="3" stroke-linecap="butt"/><line x1="405.5" y1="1617.5" x2="405.5" y2="1621.5" stroke="#0a0a0a" stroke-width="3" stroke-linecap="butt"/><line x1="423" y1="938" x2="423" y2="943" stroke="#0a0a0a" stroke-width="3" stroke-linecap="butt"/><line x1="423" y1="1617.5" x2="423" y2="1622.5" stroke="#0a0a0a" stroke-width="3" stroke-linecap="butt"/><line x1="440.5" y1="939" x2="440.5" y2="943" stroke="#0a0a0a" stroke-width="3" stroke-linecap="butt"/><line x1="440.5" y1="1617.5" x2="440.5" y2="1621.5" stroke="#0a0a0a" stroke-width="3" stroke-linecap="butt"/><line x1="458" y1="939" x2="458" y2="943" stroke="#0a0a0a" stroke-width="3" stroke-linecap="butt"/><line x1="458" y1="1617.5" x2="458" y2="1621.5" stroke="#0a0a0a" stroke-width="3" stroke-linecap="butt"/><line x1="475.5" y1="939" x2="475.5" y2="943" stroke="#0a0a0a" stroke-width="3" stroke-linecap="butt"/><line x1="475.5" y1="1617.5" x2="475.5" y2="1621.5" stroke="#0a0a0a" stroke-width="3" stroke-linecap="butt"/><line x1="493" y1="939" x2="493" y2="943" stroke="#0a0a0a" stroke-width="3" stroke-linecap="butt"/><line x1="493" y1="1617.5" x2="493" y2="1621.5" stroke="#0a0a0a" stroke-width="3" stroke-linecap="butt"/><line x1="510.5" y1="936" x2="510.5" y2="943" stroke="#0a0a0a" stroke-width="3" stroke-linecap="butt"/><line x1="510.5" y1="1617.5" x2="510.5" y2="1624.5" stroke="#0a0a0a" stroke-width="3" stroke-linecap="butt"/><line x1="528" y1="939" x2="528" y2="943" stroke="#0a0a0a" stroke-width="3" stroke-linecap="butt"/><line x1="528" y1="1617.5" x2="528" y2="1621.5" stroke="#0a0a0a" stroke-width="3" stroke-linecap="butt"/><line x1="545.5" y1="939" x2="545.5" y2="943" stroke="#0a0a0a" stroke-width="3" stroke-linecap="butt"/><line x1="545.5" y1="1617.5" x2="545.5" y2="1621.5" stroke="#0a0a0a" stroke-width="3" stroke-linecap="butt"/><line x1="563" y1="939" x2="563" y2="943" stroke="#0a0a0a" stroke-width="3" stroke-linecap="butt"/><line x1="563" y1="1617.5" x2="563" y2="1621.5" stroke="#0a0a0a" stroke-width="3" stroke-linecap="butt"/><line x1="580.5" y1="939" x2="580.5" y2="943" stroke="#0a0a0a" stroke-width="3" stroke-linecap="butt"/><line x1="580.5" y1="1617.5" x2="580.5" y2="1621.5" stroke="#0a0a0a" stroke-width="3" stroke-linecap="butt"/><line x1="82" y1="1612.4" x2="89" y2="1612.4" stroke="#0a0a0a" stroke-width="3" stroke-linecap="butt"/><line x1="582.5" y1="1612.4" x2="589.5" y2="1612.4" stroke="#0a0a0a" stroke-width="3" stroke-linecap="butt"/><line x1="85" y1="1595.78" x2="89" y2="1595.78" stroke="#0a0a0a" stroke-width="3" stroke-linecap="butt"/><line x1="582.5" y1="1595.78" x2="586.5" y2="1595.78" stroke="#0a0a0a" stroke-width="3" stroke-linecap="butt"/><line x1="85" y1="1579.16" x2="89" y2="1579.16" stroke="#0a0a0a" stroke-width="3" stroke-linecap="butt"/><line x1="582.5" y1="1579.16" x2="586.5" y2="1579.16" stroke="#0a0a0a" stroke-width="3" stroke-linecap="butt"/><line x1="85" y1="1562.54" x2="89" y2="1562.54" stroke="#0a0a0a" stroke-width="3" stroke-linecap="butt"/><line x1="582.5" y1="1562.54" x2="586.5" y2="1562.54" stroke="#0a0a0a" stroke-width="3" stroke-linecap="butt"/><line x1="85" y1="1545.92" x2="89" y2="1545.92" stroke="#0a0a0a" stroke-width="3" stroke-linecap="butt"/><line x1="582.5" y1="1545.92" x2="586.5" y2="1545.92" stroke="#0a0a0a" stroke-width="3" stroke-linecap="butt"/><line x1="84" y1="1529.3" x2="89" y2="1529.3" stroke="#0a0a0a" stroke-width="3" stroke-linecap="butt"/><line x1="582.5" y1="1529.3" x2="587.5" y2="1529.3" stroke="#0a0a0a" stroke-width="3" stroke-linecap="butt"/><line x1="85" y1="1512.68" x2="89" y2="1512.68" stroke="#0a0a0a" stroke-width="3" stroke-linecap="butt"/><line x1="582.5" y1="1512.68" x2="586.5" y2="1512.68" stroke="#0a0a0a" stroke-width="3" stroke-linecap="butt"/><line x1="85" y1="1496.06" x2="89" y2="1496.06" stroke="#0a0a0a" stroke-width="3" stroke-linecap="butt"/><line x1="582.5" y1="1496.06" x2="586.5" y2="1496.06" stroke="#0a0a0a" stroke-width="3" stroke-linecap="butt"/><line x1="85" y1="1479.44" x2="89" y2="1479.44" stroke="#0a0a0a" stroke-width="3" stroke-linecap="butt"/><line x1="582.5" y1="1479.44" x2="586.5" y2="1479.44" stroke="#0a0a0a" stroke-width="3" stroke-linecap="butt"/><line x1="85" y1="1462.82" x2="89" y2="1462.82" stroke="#0a0a0a" stroke-width="3" stroke-linecap="butt"/><line x1="582.5" y1="1462.82" x2="586.5" y2="1462.82" stroke="#0a0a0a" stroke-width="3" stroke-linecap="butt"/><line x1="82" y1="1446.2" x2="89" y2="1446.2" stroke="#0a0a0a" stroke-width="3" stroke-linecap="butt"/><line x1="582.5" y1="1446.2" x2="589.5" y2="1446.2" stroke="#0a0a0a" stroke-width="3" stroke-linecap="butt"/><line x1="85" y1="1429.58" x2="89" y2="1429.58" stroke="#0a0a0a" stroke-width="3" stroke-linecap="butt"/><line x1="582.5" y1="1429.58" x2="586.5" y2="1429.58" stroke="#0a0a0a" stroke-width="3" stroke-linecap="butt"/><line x1="85" y1="1412.96" x2="89" y2="1412.96" stroke="#0a0a0a" stroke-width="3" stroke-linecap="butt"/><line x1="582.5" y1="1412.96" x2="586.5" y2="1412.96" stroke="#0a0a0a" stroke-width="3" stroke-linecap="butt"/><line x1="85" y1="1396.34" x2="89" y2="1396.34" stroke="#0a0a0a" stroke-width="3" stroke-linecap="butt"/><line x1="582.5" y1="1396.34" x2="586.5" y2="1396.34" stroke="#0a0a0a" stroke-width="3" stroke-linecap="butt"/><line x1="85" y1="1379.72" x2="89" y2="1379.72" stroke="#0a0a0a" stroke-width="3" stroke-linecap="butt"/><line x1="582.5" y1="1379.72" x2="586.5" y2="1379.72" stroke="#0a0a0a" stroke-width="3" stroke-linecap="butt"/><line x1="84" y1="1363.1" x2="89" y2="1363.1" stroke="#0a0a0a" stroke-width="3" stroke-linecap="butt"/><line x1="582.5" y1="1363.1" x2="587.5" y2="1363.1" stroke="#0a0a0a" stroke-width="3" stroke-linecap="butt"/><line x1="85" y1="1346.48" x2="89" y2="1346.48" stroke="#0a0a0a" stroke-width="3" stroke-linecap="butt"/><line x1="582.5" y1="1346.48" x2="586.5" y2="1346.48" stroke="#0a0a0a" stroke-width="3" stroke-linecap="butt"/><line x1="85" y1="1329.86" x2="89" y2="1329.86" stroke="#0a0a0a" stroke-width="3" stroke-linecap="butt"/><line x1="582.5" y1="1329.86" x2="586.5" y2="1329.86" stroke="#0a0a0a" stroke-width="3" stroke-linecap="butt"/><line x1="85" y1="1313.24" x2="89" y2="1313.24" stroke="#0a0a0a" stroke-width="3" stroke-linecap="butt"/><line x1="582.5" y1="1313.24" x2="586.5" y2="1313.24" stroke="#0a0a0a" stroke-width="3" stroke-linecap="butt"/><line x1="85" y1="1296.62" x2="89" y2="1296.62" stroke="#0a0a0a" stroke-width="3" stroke-linecap="butt"/><line x1="582.5" y1="1296.62" x2="586.5" y2="1296.62" stroke="#0a0a0a" stroke-width="3" stroke-linecap="butt"/><line x1="82" y1="1280" x2="89" y2="1280" stroke="#0a0a0a" stroke-width="3" stroke-linecap="butt"/><line x1="582.5" y1="1280" x2="589.5" y2="1280" stroke="#0a0a0a" stroke-width="3" stroke-linecap="butt"/><line x1="85" y1="1263.38" x2="89" y2="1263.38" stroke="#0a0a0a" stroke-width="3" stroke-linecap="butt"/><line x1="582.5" y1="1263.38" x2="586.5" y2="1263.38" stroke="#0a0a0a" stroke-width="3" stroke-linecap="butt"/><line x1="85" y1="1246.76" x2="89" y2="1246.76" stroke="#0a0a0a" stroke-width="3" stroke-linecap="butt"/><line x1="582.5" y1="1246.76" x2="586.5" y2="1246.76" stroke="#0a0a0a" stroke-width="3" stroke-linecap="butt"/><line x1="85" y1="1230.14" x2="89" y2="1230.14" stroke="#0a0a0a" stroke-width="3" stroke-linecap="butt"/><line x1="582.5" y1="1230.14" x2="586.5" y2="1230.14" stroke="#0a0a0a" stroke-width="3" stroke-linecap="butt"/><line x1="85" y1="1213.52" x2="89" y2="1213.52" stroke="#0a0a0a" stroke-width="3" stroke-linecap="butt"/><line x1="582.5" y1="1213.52" x2="586.5" y2="1213.52" stroke="#0a0a0a" stroke-width="3" stroke-linecap="butt"/><line x1="84" y1="1196.9" x2="89" y2="1196.9" stroke="#0a0a0a" stroke-width="3" stroke-linecap="butt"/><line x1="582.5" y1="1196.9" x2="587.5" y2="1196.9" stroke="#0a0a0a" stroke-width="3" stroke-linecap="butt"/><line x1="85" y1="1180.28" x2="89" y2="1180.28" stroke="#0a0a0a" stroke-width="3" stroke-linecap="butt"/><line x1="582.5" y1="1180.28" x2="586.5" y2="1180.28" stroke="#0a0a0a" stroke-width="3" stroke-linecap="butt"/><line x1="85" y1="1163.66" x2="89" y2="1163.66" stroke="#0a0a0a" stroke-width="3" stroke-linecap="butt"/><line x1="582.5" y1="1163.66" x2="586.5" y2="1163.66" stroke="#0a0a0a" stroke-width="3" stroke-linecap="butt"/><line x1="85" y1="1147.04" x2="89" y2="1147.04" stroke="#0a0a0a" stroke-width="3" stroke-linecap="butt"/><line x1="582.5" y1="1147.04" x2="586.5" y2="1147.04" stroke="#0a0a0a" stroke-width="3" stroke-linecap="butt"/><line x1="85" y1="1130.42" x2="89" y2="1130.42" stroke="#0a0a0a" stroke-width="3" stroke-linecap="butt"/><line x1="582.5" y1="1130.42" x2="586.5" y2="1130.42" stroke="#0a0a0a" stroke-width="3" stroke-linecap="butt"/><line x1="82" y1="1113.8" x2="89" y2="1113.8" stroke="#0a0a0a" stroke-width="3" stroke-linecap="butt"/><line x1="582.5" y1="1113.8" x2="589.5" y2="1113.8" stroke="#0a0a0a" stroke-width="3" stroke-linecap="butt"/><line x1="85" y1="1097.18" x2="89" y2="1097.18" stroke="#0a0a0a" stroke-width="3" stroke-linecap="butt"/><line x1="582.5" y1="1097.18" x2="586.5" y2="1097.18" stroke="#0a0a0a" stroke-width="3" stroke-linecap="butt"/><line x1="85" y1="1080.56" x2="89" y2="1080.56" stroke="#0a0a0a" stroke-width="3" stroke-linecap="butt"/><line x1="582.5" y1="1080.56" x2="586.5" y2="1080.56" stroke="#0a0a0a" stroke-width="3" stroke-linecap="butt"/><line x1="85" y1="1063.94" x2="89" y2="1063.94" stroke="#0a0a0a" stroke-width="3" stroke-linecap="butt"/><line x1="582.5" y1="1063.94" x2="586.5" y2="1063.94" stroke="#0a0a0a" stroke-width="3" stroke-linecap="butt"/><line x1="85" y1="1047.32" x2="89" y2="1047.32" stroke="#0a0a0a" stroke-width="3" stroke-linecap="butt"/><line x1="582.5" y1="1047.32" x2="586.5" y2="1047.32" stroke="#0a0a0a" stroke-width="3" stroke-linecap="butt"/><line x1="84" y1="1030.7" x2="89" y2="1030.7" stroke="#0a0a0a" stroke-width="3" stroke-linecap="butt"/><line x1="582.5" y1="1030.7" x2="587.5" y2="1030.7" stroke="#0a0a0a" stroke-width="3" stroke-linecap="butt"/><line x1="85" y1="1014.08" x2="89" y2="1014.08" stroke="#0a0a0a" stroke-width="3" stroke-linecap="butt"/><line x1="582.5" y1="1014.08" x2="586.5" y2="1014.08" stroke="#0a0a0a" stroke-width="3" stroke-linecap="butt"/><line x1="85" y1="997.46" x2="89" y2="997.46" stroke="#0a0a0a" stroke-width="3" stroke-linecap="butt"/><line x1="582.5" y1="997.46" x2="586.5" y2="997.46" stroke="#0a0a0a" stroke-width="3" stroke-linecap="butt"/><line x1="85" y1="980.84" x2="89" y2="980.84" stroke="#0a0a0a" stroke-width="3" stroke-linecap="butt"/><line x1="582.5" y1="980.84" x2="586.5" y2="980.84" stroke="#0a0a0a" stroke-width="3" stroke-linecap="butt"/><line x1="85" y1="964.22" x2="89" y2="964.22" stroke="#0a0a0a" stroke-width="3" stroke-linecap="butt"/><line x1="582.5" y1="964.22" x2="586.5" y2="964.22" stroke="#0a0a0a" stroke-width="3" stroke-linecap="butt"/><line x1="82" y1="947.6" x2="89" y2="947.6" stroke="#0a0a0a" stroke-width="3" stroke-linecap="butt"/><line x1="582.5" y1="947.6" x2="589.5" y2="947.6" stroke="#0a0a0a" stroke-width="3" stroke-linecap="butt"/><text transform="translate(121.67 71.07) scale(0.954 1)" font-size="43.78" font-weight="bold" fill="#000" stroke="#fff" stroke-width="0.63">-20</text><text transform="translate(324.55 71.07) scale(0.951 1)" font-size="43.78" font-weight="bold" fill="#000" stroke="#fff" stroke-width="0.63">0</text><text transform="translate(494.89 71.07) scale(0.928 1)" font-size="43.78" font-weight="bold" fill="#000" stroke="#fff" stroke-width="0.65">20</text><text transform="translate(121.65 808.02) scale(0.867 1)" font-size="48.73" font-weight="bold" fill="#000" stroke="#fff" stroke-width="0.69">-20</text><text transform="translate(323.25 808.02) scale(0.906 1)" font-size="48.73" font-weight="bold" fill="#000" stroke="#fff" stroke-width="0.66">0</text><text transform="translate(493.99 808.02) scale(0.835 1)" font-size="48.73" font-weight="bold" fill="#000" stroke="#fff" stroke-width="0.72">20</text><text transform="translate(75.12 107.64) rotate(-90) scale(0.874 1)" font-size="48.73" font-weight="bold" fill="#000" stroke="#fff" stroke-width="0.69">40</text><text transform="translate(630.36 107.13) rotate(-90) scale(0.916 1)" font-size="45.48" font-weight="bold" fill="#000" stroke="#fff" stroke-width="0.66">40</text><text transform="translate(75.12 272.05) rotate(-90) scale(0.859 1)" font-size="48.73" font-weight="bold" fill="#000" stroke="#fff" stroke-width="0.7">20</text><text transform="translate(630.36 271.52) rotate(-90) scale(0.899 1)" font-size="45.48" font-weight="bold" fill="#000" stroke="#fff" stroke-width="0.67">20</text><text transform="translate(75.12 433.3) rotate(-90) scale(0.910 1)" font-size="48.73" font-weight="bold" fill="#000" stroke="#fff" stroke-width="0.66">0</text><text transform="translate(630.36 432.72) rotate(-90) scale(0.929 1)" font-size="45.48" font-weight="bold" fill="#000" stroke="#fff" stroke-width="0.65">0</text><text transform="translate(75.12 614.01) rotate(-90) scale(0.819 1)" font-size="48.73" font-weight="bold" fill="#000" stroke="#fff" stroke-width="0.73">-20</text><text transform="translate(630.36 613.48) rotate(-90) scale(0.862 1)" font-size="45.48" font-weight="bold" fill="#000" stroke="#fff" stroke-width="0.7">-20</text><text transform="translate(75.12 775.63) rotate(-90) scale(0.857 1)" font-size="48.73" font-weight="bold" fill="#000" stroke="#fff" stroke-width="0.7">-40</text><text transform="translate(630.36 775.1) rotate(-90) scale(0.902 1)" font-size="45.48" font-weight="bold" fill="#000" stroke="#fff" stroke-width="0.67">-40</text><text transform="translate(121.67 930.38) scale(0.969 1)" font-size="43.08" font-weight="bold" fill="#000" stroke="#fff" stroke-width="0.62">-20</text><text transform="translate(324.55 930.38) scale(0.966 1)" font-size="43.08" font-weight="bold" fill="#000" stroke="#fff" stroke-width="0.62">0</text><text transform="translate(494.89 930.38) scale(0.943 1)" font-size="43.08" font-weight="bold" fill="#000" stroke="#fff" stroke-width="0.64">20</text><text transform="translate(121.65 1662.97) scale(0.968 1)" font-size="43.64" font-weight="bold" fill="#000" stroke="#fff" stroke-width="0.62">-20</text><text transform="translate(323.25 1662.97) scale(1.012 1)" font-size="43.64" font-weight="bold" fill="#000" stroke="#fff" stroke-width="0.59">0</text><text transform="translate(493.99 1662.97) scale(0.933 1)" font-size="43.64" font-weight="bold" fill="#000" stroke="#fff" stroke-width="0.64">20</text><text transform="translate(75.12 967.74) rotate(-90) scale(0.874 1)" font-size="48.73" font-weight="bold" fill="#000" stroke="#fff" stroke-width="0.69">40</text><text transform="translate(630.36 967.23) rotate(-90) scale(0.916 1)" font-size="45.48" font-weight="bold" fill="#000" stroke="#fff" stroke-width="0.66">40</text><text transform="translate(75.12 1132.75) rotate(-90) scale(0.859 1)" font-size="48.73" font-weight="bold" fill="#000" stroke="#fff" stroke-width="0.7">20</text><text transform="translate(630.36 1132.22) rotate(-90) scale(0.899 1)" font-size="45.48" font-weight="bold" fill="#000" stroke="#fff" stroke-width="0.67">20</text><text transform="translate(75.12 1293.1) rotate(-90) scale(0.910 1)" font-size="48.73" font-weight="bold" fill="#000" stroke="#fff" stroke-width="0.66">0</text><text transform="translate(630.36 1292.52) rotate(-90) scale(0.929 1)" font-size="45.48" font-weight="bold" fill="#000" stroke="#fff" stroke-width="0.65">0</text><text transform="translate(75.12 1475.41) rotate(-90) scale(0.819 1)" font-size="48.73" font-weight="bold" fill="#000" stroke="#fff" stroke-width="0.73">-20</text><text transform="translate(630.36 1474.88) rotate(-90) scale(0.862 1)" font-size="45.48" font-weight="bold" fill="#000" stroke="#fff" stroke-width="0.7">-20</text><text transform="translate(75.12 1641.63) rotate(-90) scale(0.857 1)" font-size="48.73" font-weight="bold" fill="#000" stroke="#fff" stroke-width="0.7">-40</text><text transform="translate(630.36 1641.1) rotate(-90) scale(0.902 1)" font-size="45.48" font-weight="bold" fill="#000" stroke="#fff" stroke-width="0.67">-40</text><text transform="translate(472.75 152.77)" font-size="71.45" font-weight="bold" fill="#fff" stroke="#080808" stroke-width="0.6">(a)</text><text transform="translate(472.91 1012.77) scale(0.952 1)" font-size="71.45" font-weight="bold" fill="#fff" stroke="#080808" stroke-width="0.63">(b)</text><text transform="translate(99.11 589) scale(0.942 1)" font-size="77.62" font-weight="bold" fill="#fff" stroke="#080808" stroke-width="0.64">E</text><text transform="translate(144.42 604.87) scale(0.915 1)" font-size="43.64" font-weight="bold" fill="#fff" stroke="#080808" stroke-width="0.66">0</text><text transform="translate(236.7 735.4) scale(1.011 1)" font-size="75.07" font-weight="bold" fill="#fff" stroke="#080808" stroke-width="0.59">k</text><path d="M120 712 L120 632" stroke="#fff" stroke-width="7" fill="none"/><path d="M120 605 L135.5 640 L104.5 640 Z" fill="#fff"/><path d="M116.5 706 L196 706" stroke="#fff" stroke-width="7" fill="none"/><path d="M229.5 705.5 L192.5 688.5 L192.5 722.5 Z" fill="#fff"/><rect x="672" y="86" width="50" height="664" fill="url(#cb83)" stroke="#0c0c0c" stroke-width="6"/><line x1="724" y1="748" x2="748" y2="748" stroke="#0c0c0c" stroke-width="5" stroke-linecap="butt"/><line x1="724" y1="589.4" x2="748" y2="589.4" stroke="#0c0c0c" stroke-width="5" stroke-linecap="butt"/><line x1="724" y1="430.8" x2="748" y2="430.8" stroke="#0c0c0c" stroke-width="5" stroke-linecap="butt"/><line x1="724" y1="272.2" x2="748" y2="272.2" stroke="#0c0c0c" stroke-width="5" stroke-linecap="butt"/><line x1="724" y1="113.6" x2="748" y2="113.6" stroke="#0c0c0c" stroke-width="5" stroke-linecap="butt"/><text x="762.5" y="767.35" font-size="74.5" font-weight="bold" stroke="#fff" stroke-width="0.6">0</text><text x="762.5" y="611.65" font-size="74.5" font-weight="bold" stroke="#fff" stroke-width="0.6">500</text><text x="762.5" y="455.15" font-size="74.5" font-weight="bold" stroke="#fff" stroke-width="0.6">1000</text><text x="762.5" y="298.15" font-size="74.5" font-weight="bold" stroke="#fff" stroke-width="0.6">1500</text><text x="762.5" y="141.3" font-size="74.5" font-weight="bold" stroke="#fff" stroke-width="0.6">2000</text><rect x="675" y="945" width="50.5" height="672" fill="url(#cb942)" stroke="#0c0c0c" stroke-width="6"/><line x1="727.5" y1="1614.7" x2="751.5" y2="1614.7" stroke="#0c0c0c" stroke-width="5" stroke-linecap="butt"/><line x1="727.5" y1="1462.02" x2="751.5" y2="1462.02" stroke="#0c0c0c" stroke-width="5" stroke-linecap="butt"/><line x1="727.5" y1="1309.34" x2="751.5" y2="1309.34" stroke="#0c0c0c" stroke-width="5" stroke-linecap="butt"/><line x1="727.5" y1="1156.66" x2="751.5" y2="1156.66" stroke="#0c0c0c" stroke-width="5" stroke-linecap="butt"/><line x1="727.5" y1="1003.98" x2="751.5" y2="1003.98" stroke="#0c0c0c" stroke-width="5" stroke-linecap="butt"/><text x="764.5" y="1634.77" font-size="74" font-weight="bold" stroke="#fff" stroke-width="0.6">0</text><text x="764.5" y="1481.47" font-size="74" font-weight="bold" stroke="#fff" stroke-width="0.6">400</text><text x="764.5" y="1328.17" font-size="74" font-weight="bold" stroke="#fff" stroke-width="0.6">800</text><text x="764.5" y="1174.17" font-size="74" font-weight="bold" stroke="#fff" stroke-width="0.6">1200</text><text x="764.5" y="1021.37" font-size="74" font-weight="bold" stroke="#fff" stroke-width="0.6">1600</text><rect x="1143.8" y="85.5" width="566.2" height="665" fill="none" stroke="#161616" stroke-width="4"/><line x1="1143.8" y1="750.5" x2="1143.8" y2="764.5" stroke="#161616" stroke-width="4" stroke-linecap="butt"/><line x1="1238.17" y1="750.5" x2="1238.17" y2="759.5" stroke="#161616" stroke-width="4" stroke-linecap="butt"/><line x1="1332.53" y1="750.5" x2="1332.53" y2="764.5" stroke="#161616" stroke-width="4" stroke-linecap="butt"/><line x1="1426.9" y1="750.5" x2="1426.9" y2="759.5" stroke="#161616" stroke-width="4" stroke-linecap="butt"/><line x1="1521.27" y1="750.5" x2="1521.27" y2="764.5" stroke="#161616" stroke-width="4" stroke-linecap="butt"/><line x1="1615.63" y1="750.5" x2="1615.63" y2="759.5" stroke="#161616" stroke-width="4" stroke-linecap="butt"/><line x1="1710" y1="750.5" x2="1710" y2="764.5" stroke="#161616" stroke-width="4" stroke-linecap="butt"/><line x1="1126.8" y1="750.5" x2="1143.8" y2="750.5" stroke="#161616" stroke-width="4" stroke-linecap="butt"/><line x1="1126.8" y1="648.34" x2="1143.8" y2="648.34" stroke="#161616" stroke-width="4" stroke-linecap="butt"/><line x1="1126.8" y1="546.18" x2="1143.8" y2="546.18" stroke="#161616" stroke-width="4" stroke-linecap="butt"/><line x1="1126.8" y1="444.02" x2="1143.8" y2="444.02" stroke="#161616" stroke-width="4" stroke-linecap="butt"/><line x1="1126.8" y1="341.86" x2="1143.8" y2="341.86" stroke="#161616" stroke-width="4" stroke-linecap="butt"/><line x1="1126.8" y1="239.7" x2="1143.8" y2="239.7" stroke="#161616" stroke-width="4" stroke-linecap="butt"/><line x1="1126.8" y1="137.54" x2="1143.8" y2="137.54" stroke="#161616" stroke-width="4" stroke-linecap="butt"/><line x1="1133.8" y1="699.42" x2="1143.8" y2="699.42" stroke="#161616" stroke-width="4" stroke-linecap="butt"/><line x1="1133.8" y1="597.26" x2="1143.8" y2="597.26" stroke="#161616" stroke-width="4" stroke-linecap="butt"/><line x1="1133.8" y1="495.1" x2="1143.8" y2="495.1" stroke="#161616" stroke-width="4" stroke-linecap="butt"/><line x1="1133.8" y1="392.94" x2="1143.8" y2="392.94" stroke="#161616" stroke-width="4" stroke-linecap="butt"/><line x1="1133.8" y1="290.78" x2="1143.8" y2="290.78" stroke="#161616" stroke-width="4" stroke-linecap="butt"/><line x1="1133.8" y1="188.62" x2="1143.8" y2="188.62" stroke="#161616" stroke-width="4" stroke-linecap="butt"/><line x1="1133.8" y1="86.46" x2="1143.8" y2="86.46" stroke="#161616" stroke-width="4" stroke-linecap="butt"/><path d="M1143.8 739.52 L1145.69 739.45 L1147.57 739.37 L1149.46 739.3 L1151.35 739.22 L1153.24 739.15 L1155.12 739.07 L1157.01 738.99 L1158.9 738.91 L1160.79 738.82 L1162.67 738.74 L1164.56 738.66 L1166.45 738.57 L1168.34 738.48 L1170.22 738.39 L1172.11 738.3 L1174 738.21 L1175.88 738.11 L1177.77 738.02 L1179.66 737.92 L1181.55 737.82 L1183.43 737.72 L1185.32 737.62 L1187.21 737.51 L1189.1 737.41 L1190.98 737.3 L1192.87 737.19 L1194.76 737.08 L1196.65 736.96 L1198.53 736.85 L1200.42 736.73 L1202.31 736.61 L1204.19 736.49 L1206.08 736.36 L1207.97 736.23 L1209.86 736.1 L1211.74 735.97 L1213.63 735.84 L1215.52 735.7 L1217.41 735.56 L1219.29 735.42 L1221.18 735.27 L1223.07 735.12 L1224.96 734.97 L1226.84 734.82 L1228.73 734.66 L1230.62 734.5 L1232.5 734.33 L1234.39 734.16 L1236.28 733.99 L1238.17 733.82 L1240.05 733.64 L1241.94 733.46 L1243.83 733.27 L1245.72 733.08 L1247.6 732.89 L1249.49 732.69 L1251.38 732.49 L1253.27 732.28 L1255.15 732.07 L1257.04 731.85 L1258.93 731.63 L1260.81 731.4 L1262.7 731.17 L1264.59 730.93 L1266.48 730.69 L1268.36 730.44 L1270.25 730.19 L1272.14 729.93 L1274.03 729.66 L1275.91 729.39 L1277.8 729.11 L1279.69 728.82 L1281.58 728.53 L1283.46 728.22 L1285.35 727.92 L1287.24 727.6 L1289.12 727.27 L1291.01 726.94 L1292.9 726.6 L1294.79 726.25 L1296.67 725.89 L1298.56 725.52 L1300.45 725.14 L1302.34 724.75 L1304.22 724.35 L1306.11 723.94 L1308 723.52 L1309.89 723.08 L1311.77 722.64 L1313.66 722.18 L1315.55 721.7 L1317.43 721.22 L1319.32 720.72 L1321.21 720.2 L1323.1 719.67 L1324.98 719.12 L1326.87 718.56 L1328.76 717.98 L1330.65 717.38 L1332.53 716.76 L1334.42 716.12 L1336.31 715.47 L1338.2 714.79 L1340.08 714.09 L1341.97 713.36 L1343.86 712.61 L1345.74 711.84 L1347.63 711.04 L1349.52 710.21 L1351.41 709.36 L1353.29 708.47 L1355.18 707.56 L1357.07 706.61 L1358.96 705.63 L1360.84 704.61 L1362.73 703.55 L1364.62 702.46 L1366.51 701.32 L1368.39 700.14 L1370.28 698.91 L1372.17 697.64 L1374.05 696.32 L1375.94 694.94 L1377.83 693.51 L1379.72 692.02 L1381.6 690.47 L1383.49 688.86 L1385.38 687.17 L1387.27 685.42 L1389.15 683.59 L1391.04 681.68 L1392.93 679.69 L1394.82 677.6 L1396.7 675.43 L1398.59 673.15 L1400.48 670.77 L1402.36 668.28 L1404.25 665.67 L1406.14 662.94 L1408.03 660.07 L1409.91 657.07 L1411.8 653.91 L1413.69 650.6 L1415.58 647.13 L1417.46 643.47 L1419.35 639.63 L1421.24 635.59 L1423.13 631.33 L1425.01 626.85 L1426.9 622.13 L1428.79 617.16 L1430.67 611.92 L1432.56 606.39 L1434.45 600.56 L1436.34 594.41 L1438.22 587.91 L1440.11 581.06 L1442 573.82 L1443.89 566.18 L1445.77 558.12 L1447.66 549.61 L1449.55 540.64 L1451.44 531.18 L1453.32 521.21 L1455.21 510.73 L1457.1 499.7 L1458.98 488.13 L1460.87 476.01 L1462.76 463.34 L1464.65 450.12 L1466.53 436.38 L1468.42 422.15 L1470.31 407.47 L1472.2 392.4 L1474.08 377.02 L1475.97 361.44 L1477.86 345.77 L1479.75 330.16 L1481.63 314.78 L1483.52 299.83 L1485.41 285.5 L1487.29 272.04 L1489.18 259.66 L1491.07 248.61 L1492.96 239.12 L1494.84 231.39 L1496.73 225.59 L1498.62 221.88 L1500.51 220.33 L1502.39 220.95 L1504.28 223.61 L1506.17 228.24 L1508.06 234.76 L1509.94 243 L1511.83 252.8 L1513.72 263.97 L1515.6 276.29 L1517.49 289.56 L1519.38 303.56 L1521.27 318.1 L1523.15 332.99 L1525.04 348.07 L1526.93 363.18 L1528.82 378.2 L1530.7 393.02 L1532.59 407.54 L1534.48 421.71 L1536.37 435.46 L1538.25 448.76 L1540.14 461.57 L1542.03 473.87 L1543.91 485.67 L1545.8 496.95 L1547.69 507.72 L1549.58 517.99 L1551.46 527.76 L1553.35 537.06 L1555.24 545.9 L1557.13 554.3 L1559.01 562.28 L1560.9 569.85 L1562.79 577.04 L1564.68 583.87 L1566.56 590.34 L1568.45 596.49 L1570.34 602.33 L1572.22 607.87 L1574.11 613.13 L1576 618.13 L1577.89 622.89 L1579.77 627.4 L1581.66 631.7 L1583.55 635.79 L1585.44 639.68 L1587.32 643.39 L1589.21 646.92 L1591.1 650.29 L1592.99 653.5 L1594.87 656.56 L1596.76 659.49 L1598.65 662.28 L1600.53 664.95 L1602.42 667.5 L1604.31 669.94 L1606.2 672.27 L1608.08 674.5 L1609.97 676.64 L1611.86 678.69 L1613.75 680.66 L1615.63 682.54 L1617.52 684.35 L1619.41 686.09 L1621.3 687.76 L1623.18 689.36 L1625.07 690.9 L1626.96 692.38 L1628.84 693.8 L1630.73 695.17 L1632.62 696.49 L1634.51 697.76 L1636.39 698.99 L1638.28 700.17 L1640.17 701.3 L1642.06 702.4 L1643.94 703.46 L1645.83 704.48 L1647.72 705.47 L1649.61 706.43 L1651.49 707.35 L1653.38 708.24 L1655.27 709.1 L1657.15 709.94 L1659.04 710.74 L1660.93 711.52 L1662.82 712.28 L1664.7 713.01 L1666.59 713.72 L1668.48 714.41 L1670.37 715.07 L1672.25 715.72 L1674.14 716.35 L1676.03 716.96 L1677.92 717.55 L1679.8 718.12 L1681.69 718.68 L1683.58 719.22 L1685.46 719.74 L1687.35 720.25 L1689.24 720.75 L1691.13 721.23 L1693.01 721.7 L1694.9 722.16 L1696.79 722.6 L1698.68 723.03 L1700.56 723.45 L1702.45 723.86 L1704.34 724.26 L1706.23 724.65 L1708.11 725.03 L1710 725.4" fill="none" stroke="#0d0d0d" stroke-width="10" stroke-linejoin="round" stroke-linecap="butt"/><path d="M1143.8 739.93 L1145.69 739.86 L1147.57 739.79 L1149.46 739.73 L1151.35 739.65 L1153.24 739.58 L1155.12 739.51 L1157.01 739.44 L1158.9 739.36 L1160.79 739.28 L1162.67 739.21 L1164.56 739.13 L1166.45 739.05 L1168.34 738.96 L1170.22 738.88 L1172.11 738.8 L1174 738.71 L1175.88 738.62 L1177.77 738.53 L1179.66 738.44 L1181.55 738.35 L1183.43 738.26 L1185.32 738.16 L1187.21 738.06 L1189.1 737.97 L1190.98 737.87 L1192.87 737.76 L1194.76 737.66 L1196.65 737.55 L1198.53 737.45 L1200.42 737.34 L1202.31 737.22 L1204.19 737.11 L1206.08 736.99 L1207.97 736.88 L1209.86 736.76 L1211.74 736.63 L1213.63 736.51 L1215.52 736.38 L1217.41 736.25 L1219.29 736.12 L1221.18 735.98 L1223.07 735.85 L1224.96 735.7 L1226.84 735.56 L1228.73 735.42 L1230.62 735.27 L1232.5 735.11 L1234.39 734.96 L1236.28 734.8 L1238.17 734.64 L1240.05 734.47 L1241.94 734.31 L1243.83 734.13 L1245.72 733.96 L1247.6 733.78 L1249.49 733.6 L1251.38 733.41 L1253.27 733.22 L1255.15 733.02 L1257.04 732.82 L1258.93 732.62 L1260.81 732.41 L1262.7 732.19 L1264.59 731.98 L1266.48 731.75 L1268.36 731.52 L1270.25 731.29 L1272.14 731.05 L1274.03 730.8 L1275.91 730.55 L1277.8 730.29 L1279.69 730.03 L1281.58 729.76 L1283.46 729.48 L1285.35 729.2 L1287.24 728.91 L1289.12 728.61 L1291.01 728.3 L1292.9 727.99 L1294.79 727.67 L1296.67 727.34 L1298.56 727 L1300.45 726.65 L1302.34 726.29 L1304.22 725.93 L1306.11 725.55 L1308 725.16 L1309.89 724.77 L1311.77 724.36 L1313.66 723.94 L1315.55 723.5 L1317.43 723.06 L1319.32 722.6 L1321.21 722.13 L1323.1 721.64 L1324.98 721.14 L1326.87 720.63 L1328.76 720.1 L1330.65 719.55 L1332.53 718.99 L1334.42 718.41 L1336.31 717.81 L1338.2 717.19 L1340.08 716.55 L1341.97 715.89 L1343.86 715.21 L1345.74 714.51 L1347.63 713.78 L1349.52 713.03 L1351.41 712.25 L1353.29 711.45 L1355.18 710.62 L1357.07 709.75 L1358.96 708.86 L1360.84 707.94 L1362.73 706.98 L1364.62 705.99 L1366.51 704.95 L1368.39 703.89 L1370.28 702.78 L1372.17 701.62 L1374.05 700.42 L1375.94 699.18 L1377.83 697.89 L1379.72 696.54 L1381.6 695.14 L1383.49 693.68 L1385.38 692.16 L1387.27 690.57 L1389.15 688.92 L1391.04 687.2 L1392.93 685.4 L1394.82 683.52 L1396.7 681.55 L1398.59 679.5 L1400.48 677.35 L1402.36 675.1 L1404.25 672.75 L1406.14 670.29 L1408.03 667.7 L1409.91 664.99 L1411.8 662.15 L1413.69 659.16 L1415.58 656.02 L1417.46 652.72 L1419.35 649.25 L1421.24 645.6 L1423.13 641.75 L1425.01 637.7 L1426.9 633.42 L1428.79 628.92 L1430.67 624.16 L1432.56 619.14 L1434.45 613.83 L1436.34 608.22 L1438.22 602.29 L1440.11 596.01 L1442 589.37 L1443.89 582.34 L1445.77 574.9 L1447.66 567.02 L1449.55 558.68 L1451.44 549.84 L1453.32 540.49 L1455.21 530.59 L1457.1 520.12 L1458.98 509.05 L1460.87 497.36 L1462.76 485.03 L1464.65 472.05 L1466.53 458.4 L1468.42 444.09 L1470.31 429.13 L1472.2 413.53 L1474.08 397.35 L1475.97 380.62 L1477.86 363.44 L1479.75 345.91 L1481.63 328.17 L1483.52 310.36 L1485.41 292.7 L1487.29 275.41 L1489.18 258.74 L1491.07 242.97 L1492.96 228.39 L1494.84 215.31 L1496.73 204.02 L1498.62 194.78 L1500.51 187.84 L1502.39 183.38 L1504.28 181.52 L1506.17 182.24 L1508.06 185.36 L1509.94 190.81 L1511.83 198.43 L1513.72 208.05 L1515.6 219.46 L1517.49 232.41 L1519.38 246.64 L1521.27 261.89 L1523.15 277.91 L1525.04 294.46 L1526.93 311.32 L1528.82 328.3 L1530.7 345.23 L1532.59 361.96 L1534.48 378.39 L1536.37 394.41 L1538.25 409.96 L1540.14 424.97 L1542.03 439.42 L1543.91 453.29 L1545.8 466.54 L1547.69 479.2 L1549.58 491.25 L1551.46 502.72 L1553.35 513.61 L1555.24 523.95 L1557.13 533.75 L1559.01 543.03 L1560.9 551.83 L1562.79 560.16 L1564.68 568.05 L1566.56 575.52 L1568.45 582.6 L1570.34 589.3 L1572.22 595.64 L1574.11 601.65 L1576 607.35 L1577.89 612.75 L1579.77 617.88 L1581.66 622.74 L1583.55 627.35 L1585.44 631.73 L1587.32 635.9 L1589.21 639.86 L1591.1 643.62 L1592.99 647.2 L1594.87 650.61 L1596.76 653.86 L1598.65 656.96 L1600.53 659.91 L1602.42 662.73 L1604.31 665.42 L1606.2 667.99 L1608.08 670.45 L1609.97 672.79 L1611.86 675.04 L1613.75 677.19 L1615.63 679.24 L1617.52 681.21 L1619.41 683.1 L1621.3 684.91 L1623.18 686.65 L1625.07 688.32 L1626.96 689.92 L1628.84 691.46 L1630.73 692.94 L1632.62 694.36 L1634.51 695.73 L1636.39 697.04 L1638.28 698.31 L1640.17 699.53 L1642.06 700.7 L1643.94 701.84 L1645.83 702.93 L1647.72 703.98 L1649.61 705 L1651.49 705.98 L1653.38 706.93 L1655.27 707.85 L1657.15 708.73 L1659.04 709.59 L1660.93 710.42 L1662.82 711.22 L1664.7 711.99 L1666.59 712.74 L1668.48 713.47 L1670.37 714.17 L1672.25 714.85 L1674.14 715.52 L1676.03 716.16 L1677.92 716.78 L1679.8 717.38 L1681.69 717.96 L1683.58 718.53 L1685.46 719.08 L1687.35 719.62 L1689.24 720.14 L1691.13 720.64 L1693.01 721.13 L1694.9 721.61 L1696.79 722.08 L1698.68 722.53 L1700.56 722.97 L1702.45 723.39 L1704.34 723.81 L1706.23 724.21 L1708.11 724.61 L1710 724.99" fill="none" stroke="#ed1c24" stroke-width="10" stroke-linejoin="round" stroke-linecap="butt"/><text transform="translate(1063.35 158.25) scale(0.930 1)" font-size="53" font-weight="bold" stroke="#fff" stroke-width="0.6">12</text><text transform="translate(1063.4 259.74) scale(0.930 1)" font-size="53" font-weight="bold" stroke="#fff" stroke-width="0.6">10</text><text transform="translate(1090.3 362.14) scale(0.930 1)" font-size="53" font-weight="bold" stroke="#fff" stroke-width="0.6">8</text><text transform="translate(1090.57 464.74) scale(0.930 1)" font-size="53" font-weight="bold" stroke="#fff" stroke-width="0.6">6</text><text transform="translate(1089.05 567.23) scale(0.930 1)" font-size="53" font-weight="bold" stroke="#fff" stroke-width="0.6">4</text><text transform="translate(1090.76 669.8) scale(0.930 1)" font-size="53" font-weight="bold" stroke="#fff" stroke-width="0.6">2</text><text transform="translate(1090.81 762.24) scale(0.930 1)" font-size="53" font-weight="bold" stroke="#fff" stroke-width="0.6">0</text><text transform="translate(1101.67 815.05) scale(0.883 1)" font-size="56.64" font-weight="bold" fill="#000" stroke="#fff" stroke-width="0.68">600</text><text transform="translate(1290.24 815.05) scale(0.883 1)" font-size="56.64" font-weight="bold" fill="#000" stroke="#fff" stroke-width="0.68">700</text><text transform="translate(1479.26 815.05) scale(0.883 1)" font-size="56.64" font-weight="bold" fill="#000" stroke="#fff" stroke-width="0.68">800</text><text transform="translate(1667.92 815.05) scale(0.883 1)" font-size="56.64" font-weight="bold" fill="#000" stroke="#fff" stroke-width="0.68">900</text><line x1="1172.6" y1="146" x2="1264.3" y2="146" stroke="#ed1c24" stroke-width="10" stroke-linecap="butt"/><line x1="1172.6" y1="203.5" x2="1264.3" y2="203.5" stroke="#0d0d0d" stroke-width="10" stroke-linecap="butt"/><text transform="translate(1273.91 161.6) scale(1.017 1)" font-size="50.1" font-weight="bold" fill="#000" stroke="#fff" stroke-width="0.59">Only Au</text><text transform="translate(1274.95 219.16) scale(1.044 1)" font-size="48.8" font-weight="bold" fill="#000" stroke="#fff" stroke-width="0.57">With Hg</text><text transform="translate(1610.47 154.2) scale(0.993 1)" font-size="71.34" font-weight="bold" fill="#000" stroke="#fff" stroke-width="0.6">(c)</text><text transform="translate(1195.14 871.63) scale(0.973 1)" font-size="61.18" font-weight="bold" fill="#000" stroke="#fff" stroke-width="0.62">Wavelength (nm)</text><text transform="translate(1032.95 852.41) rotate(-90) scale(1.018 1)" font-size="59.5" font-weight="bold" fill="#000" stroke="#fff" stroke-width="0.59">Abs. cross section (x10</text><text transform="translate(995.01 183.61) rotate(-90) scale(0.966 1)" font-size="39.84" font-weight="normal" fill="#000">-15</text><text transform="translate(1030 127) rotate(-90) scale(1.134 1)" font-size="54.77" font-weight="bold" fill="#000" stroke="#fff" stroke-width="0.53">m</text><text transform="translate(995.4 87.43) rotate(-90) scale(1.249 1)" font-size="38.67" font-weight="normal" fill="#000">2</text><text transform="translate(1031.15 52.94) rotate(-90) scale(0.655 1)" font-size="59.5" font-weight="bold" fill="#000" stroke="#fff" stroke-width="0.92">)</text><rect x="1143.8" y="945.5" width="566.2" height="668.5" fill="none" stroke="#161616" stroke-width="4"/><line x1="1143.8" y1="1614" x2="1143.8" y2="1628" stroke="#161616" stroke-width="4" stroke-linecap="butt"/><line x1="1238.17" y1="1614" x2="1238.17" y2="1623" stroke="#161616" stroke-width="4" stroke-linecap="butt"/><line x1="1332.53" y1="1614" x2="1332.53" y2="1628" stroke="#161616" stroke-width="4" stroke-linecap="butt"/><line x1="1426.9" y1="1614" x2="1426.9" y2="1623" stroke="#161616" stroke-width="4" stroke-linecap="butt"/><line x1="1521.27" y1="1614" x2="1521.27" y2="1628" stroke="#161616" stroke-width="4" stroke-linecap="butt"/><line x1="1615.63" y1="1614" x2="1615.63" y2="1623" stroke="#161616" stroke-width="4" stroke-linecap="butt"/><line x1="1710" y1="1614" x2="1710" y2="1628" stroke="#161616" stroke-width="4" stroke-linecap="butt"/><line x1="1126.8" y1="1614" x2="1143.8" y2="1614" stroke="#161616" stroke-width="4" stroke-linecap="butt"/><line x1="1126.8" y1="1502.58" x2="1143.8" y2="1502.58" stroke="#161616" stroke-width="4" stroke-linecap="butt"/><line x1="1126.8" y1="1391.17" x2="1143.8" y2="1391.17" stroke="#161616" stroke-width="4" stroke-linecap="butt"/><line x1="1126.8" y1="1279.75" x2="1143.8" y2="1279.75" stroke="#161616" stroke-width="4" stroke-linecap="butt"/><line x1="1126.8" y1="1168.33" x2="1143.8" y2="1168.33" stroke="#161616" stroke-width="4" stroke-linecap="butt"/><line x1="1126.8" y1="1056.92" x2="1143.8" y2="1056.92" stroke="#161616" stroke-width="4" stroke-linecap="butt"/><line x1="1126.8" y1="945.5" x2="1143.8" y2="945.5" stroke="#161616" stroke-width="4" stroke-linecap="butt"/><line x1="1133.8" y1="1558.29" x2="1143.8" y2="1558.29" stroke="#161616" stroke-width="4" stroke-linecap="butt"/><line x1="1133.8" y1="1446.88" x2="1143.8" y2="1446.88" stroke="#161616" stroke-width="4" stroke-linecap="butt"/><line x1="1133.8" y1="1335.46" x2="1143.8" y2="1335.46" stroke="#161616" stroke-width="4" stroke-linecap="butt"/><line x1="1133.8" y1="1224.04" x2="1143.8" y2="1224.04" stroke="#161616" stroke-width="4" stroke-linecap="butt"/><line x1="1133.8" y1="1112.62" x2="1143.8" y2="1112.62" stroke="#161616" stroke-width="4" stroke-linecap="butt"/><line x1="1133.8" y1="1001.21" x2="1143.8" y2="1001.21" stroke="#161616" stroke-width="4" stroke-linecap="butt"/><path d="M1143.5 1548.95 L1145.5 1549.14 L1147.5 1549.33 L1149.5 1549.52 L1151.5 1549.71 L1153.5 1549.89 L1155.5 1550.07 L1157.5 1550.25 L1159.5 1550.43 L1161.5 1550.61 L1163.5 1550.78 L1165.5 1550.95 L1167.5 1551.11 L1169.5 1551.27 L1171.5 1551.43 L1173.5 1551.59 L1175.5 1551.74 L1177.5 1551.89 L1179.5 1552.03 L1181.5 1552.17 L1183.5 1552.31 L1185.5 1552.44 L1187.5 1552.57 L1189.5 1552.69 L1191.5 1552.81 L1193.5 1552.93 L1195.5 1553.04 L1197.5 1553.14 L1199.5 1553.24 L1201.5 1553.33 L1203.5 1553.42 L1205.5 1553.51 L1207.5 1553.58 L1209.5 1553.65 L1211.5 1553.72 L1213.5 1553.78 L1215.5 1553.83 L1217.5 1553.88 L1219.5 1553.92 L1221.5 1553.95 L1223.5 1553.98 L1225.5 1554 L1227.5 1554.02 L1229.5 1554.02 L1231.5 1554.01 L1233.5 1553.99 L1235.5 1553.96 L1237.5 1553.9 L1239.5 1553.83 L1241.5 1553.74 L1243.5 1553.62 L1245.5 1553.48 L1247.5 1553.31 L1249.5 1553.12 L1251.5 1552.89 L1253.5 1552.63 L1255.5 1552.33 L1257.5 1552 L1259.5 1551.63 L1261.5 1551.22 L1263.5 1550.76 L1265.5 1550.27 L1267.5 1549.74 L1269.5 1549.18 L1271.5 1548.58 L1273.5 1547.95 L1275.5 1547.28 L1277.5 1546.59 L1279.5 1545.86 L1281.5 1545.1 L1283.5 1544.32 L1285.5 1543.51 L1287.5 1542.68 L1289.5 1541.82 L1291.5 1540.94 L1293.5 1540.03 L1295.5 1539.11 L1297.5 1538.17 L1299.5 1537.2 L1301.5 1536.21 L1303.5 1535.19 L1305.5 1534.15 L1307.5 1533.07 L1309.5 1531.97 L1311.5 1530.83 L1313.5 1529.65 L1315.5 1528.45 L1317.5 1527.2 L1319.5 1525.91 L1321.5 1524.58 L1323.5 1523.21 L1325.5 1521.8 L1327.5 1520.34 L1329.5 1518.83 L1331.5 1517.27 L1333.5 1515.66 L1335.5 1513.98 L1337.5 1512.24 L1339.5 1510.43 L1341.5 1508.54 L1343.5 1506.58 L1345.5 1504.53 L1347.5 1502.39 L1349.5 1500.16 L1351.5 1497.83 L1353.5 1495.4 L1355.5 1492.86 L1357.5 1490.2 L1359.5 1487.43 L1361.5 1484.54 L1363.5 1481.52 L1365.5 1478.38 L1367.5 1475.1 L1369.5 1471.72 L1371.5 1468.21 L1373.5 1464.6 L1375.5 1460.88 L1377.5 1457.06 L1379.5 1453.14 L1381.5 1449.14 L1383.5 1445.05 L1385.5 1440.88 L1387.5 1436.63 L1389.5 1432.3 L1391.5 1427.92 L1393.5 1423.47 L1395.5 1418.96 L1397.5 1414.39 L1399.5 1409.78 L1401.5 1405.12 L1403.5 1400.4 L1405.5 1395.63 L1407.5 1390.8 L1409.5 1385.91 L1411.5 1380.96 L1413.5 1375.95 L1415.5 1370.87 L1417.5 1365.72 L1419.5 1360.5 L1421.5 1355.21 L1423.5 1349.85 L1425.5 1344.41 L1427.5 1338.89 L1429.5 1333.3 L1431.5 1327.61 L1433.5 1321.85 L1435.5 1316.02 L1437.5 1310.12 L1439.5 1304.17 L1441.5 1298.19 L1443.5 1292.18 L1445.5 1286.16 L1447.5 1280.13 L1449.5 1274.12 L1451.5 1268.12 L1453.5 1262.17 L1455.5 1256.25 L1457.5 1250.4 L1459.5 1244.61 L1461.5 1238.91 L1463.5 1233.3 L1465.5 1227.79 L1467.5 1222.4 L1469.5 1217.14 L1471.5 1212 L1473.5 1206.99 L1475.5 1202.11 L1477.5 1197.36 L1479.5 1192.76 L1481.5 1188.3 L1483.5 1183.98 L1485.5 1179.81 L1487.5 1175.79 L1489.5 1171.92 L1491.5 1168.21 L1493.5 1164.66 L1495.5 1161.27 L1497.5 1158.05 L1499.5 1155 L1501.5 1152.13 L1503.5 1149.42 L1505.5 1146.9 L1507.5 1144.56 L1509.5 1142.4 L1511.5 1140.43 L1513.5 1138.65 L1515.5 1137.06 L1517.5 1135.67 L1519.5 1134.48 L1521.5 1133.49 L1523.5 1132.7 L1525.5 1132.12 L1527.5 1131.76 L1529.5 1131.61 L1531.5 1131.65 L1533.5 1131.89 L1535.5 1132.3 L1537.5 1132.88 L1539.5 1133.63 L1541.5 1134.52 L1543.5 1135.55 L1545.5 1136.71 L1547.5 1137.99 L1549.5 1139.39 L1551.5 1140.89 L1553.5 1142.48 L1555.5 1144.16 L1557.5 1145.92 L1559.5 1147.79 L1561.5 1149.74 L1563.5 1151.8 L1565.5 1153.96 L1567.5 1156.22 L1569.5 1158.58 L1571.5 1161.06 L1573.5 1163.64 L1575.5 1166.34 L1577.5 1169.15 L1579.5 1172.08 L1581.5 1175.13 L1583.5 1178.31 L1585.5 1181.61 L1587.5 1185.04 L1589.5 1188.6 L1591.5 1192.28 L1593.5 1196.09 L1595.5 1200.01 L1597.5 1204.05 L1599.5 1208.19 L1601.5 1212.43 L1603.5 1216.77 L1605.5 1221.2 L1607.5 1225.72 L1609.5 1230.32 L1611.5 1234.99 L1613.5 1239.73 L1615.5 1244.54 L1617.5 1249.41 L1619.5 1254.33 L1621.5 1259.3 L1623.5 1264.32 L1625.5 1269.38 L1627.5 1274.47 L1629.5 1279.59 L1631.5 1284.74 L1633.5 1289.91 L1635.5 1295.09 L1637.5 1300.29 L1639.5 1305.5 L1641.5 1310.71 L1643.5 1315.92 L1645.5 1321.13 L1647.5 1326.32 L1649.5 1331.5 L1651.5 1336.66 L1653.5 1341.8 L1655.5 1346.91 L1657.5 1351.99 L1659.5 1357.03 L1661.5 1362.03 L1663.5 1366.99 L1665.5 1371.9 L1667.5 1376.77 L1669.5 1381.59 L1671.5 1386.36 L1673.5 1391.08 L1675.5 1395.75 L1677.5 1400.36 L1679.5 1404.91 L1681.5 1409.41 L1683.5 1413.84 L1685.5 1418.21 L1687.5 1422.52 L1689.5 1426.76 L1691.5 1430.93 L1693.5 1435.03 L1695.5 1439.06 L1697.5 1443.01 L1699.5 1446.89 L1701.5 1450.69 L1703.5 1454.41 L1705.5 1458.05 L1707.5 1461.6 L1709.5 1465.07" fill="none" stroke="#0d0d0d" stroke-width="10" stroke-linejoin="round" stroke-linecap="butt"/><path d="M1143.5 1550.2 L1145.5 1550.4 L1147.5 1550.6 L1149.5 1550.8 L1151.5 1551 L1153.5 1551.19 L1155.5 1551.39 L1157.5 1551.58 L1159.5 1551.77 L1161.5 1551.95 L1163.5 1552.14 L1165.5 1552.32 L1167.5 1552.5 L1169.5 1552.68 L1171.5 1552.85 L1173.5 1553.02 L1175.5 1553.19 L1177.5 1553.35 L1179.5 1553.51 L1181.5 1553.67 L1183.5 1553.82 L1185.5 1553.97 L1187.5 1554.12 L1189.5 1554.26 L1191.5 1554.4 L1193.5 1554.53 L1195.5 1554.66 L1197.5 1554.78 L1199.5 1554.9 L1201.5 1555.01 L1203.5 1555.12 L1205.5 1555.22 L1207.5 1555.32 L1209.5 1555.41 L1211.5 1555.49 L1213.5 1555.57 L1215.5 1555.65 L1217.5 1555.71 L1219.5 1555.77 L1221.5 1555.83 L1223.5 1555.88 L1225.5 1555.92 L1227.5 1555.95 L1229.5 1555.98 L1231.5 1556 L1233.5 1556.02 L1235.5 1556.02 L1237.5 1556.01 L1239.5 1555.99 L1241.5 1555.95 L1243.5 1555.89 L1245.5 1555.82 L1247.5 1555.72 L1249.5 1555.59 L1251.5 1555.44 L1253.5 1555.27 L1255.5 1555.06 L1257.5 1554.81 L1259.5 1554.54 L1261.5 1554.22 L1263.5 1553.87 L1265.5 1553.48 L1267.5 1553.04 L1269.5 1552.56 L1271.5 1552.05 L1273.5 1551.49 L1275.5 1550.9 L1277.5 1550.27 L1279.5 1549.61 L1281.5 1548.91 L1283.5 1548.19 L1285.5 1547.43 L1287.5 1546.64 L1289.5 1545.83 L1291.5 1544.98 L1293.5 1544.12 L1295.5 1543.23 L1297.5 1542.31 L1299.5 1541.38 L1301.5 1540.42 L1303.5 1539.44 L1305.5 1538.43 L1307.5 1537.4 L1309.5 1536.34 L1311.5 1535.25 L1313.5 1534.13 L1315.5 1532.97 L1317.5 1531.78 L1319.5 1530.55 L1321.5 1529.28 L1323.5 1527.97 L1325.5 1526.62 L1327.5 1525.22 L1329.5 1523.78 L1331.5 1522.29 L1333.5 1520.75 L1335.5 1519.15 L1337.5 1517.5 L1339.5 1515.78 L1341.5 1514 L1343.5 1512.14 L1345.5 1510.21 L1347.5 1508.19 L1349.5 1506.08 L1351.5 1503.88 L1353.5 1501.58 L1355.5 1499.17 L1357.5 1496.66 L1359.5 1494.03 L1361.5 1491.29 L1363.5 1488.42 L1365.5 1485.42 L1367.5 1482.29 L1369.5 1479.03 L1371.5 1475.64 L1373.5 1472.13 L1375.5 1468.51 L1377.5 1464.77 L1379.5 1460.92 L1381.5 1456.98 L1383.5 1452.93 L1385.5 1448.8 L1387.5 1444.57 L1389.5 1440.27 L1391.5 1435.89 L1393.5 1431.44 L1395.5 1426.92 L1397.5 1422.34 L1399.5 1417.7 L1401.5 1413.01 L1403.5 1408.27 L1405.5 1403.47 L1407.5 1398.61 L1409.5 1393.7 L1411.5 1388.72 L1413.5 1383.68 L1415.5 1378.58 L1417.5 1373.41 L1419.5 1368.16 L1421.5 1362.84 L1423.5 1357.45 L1425.5 1351.99 L1427.5 1346.44 L1429.5 1340.81 L1431.5 1335.1 L1433.5 1329.3 L1435.5 1323.42 L1437.5 1317.46 L1439.5 1311.44 L1441.5 1305.37 L1443.5 1299.26 L1445.5 1293.13 L1447.5 1286.98 L1449.5 1280.84 L1451.5 1274.71 L1453.5 1268.6 L1455.5 1262.53 L1457.5 1256.52 L1459.5 1250.57 L1461.5 1244.69 L1463.5 1238.9 L1465.5 1233.22 L1467.5 1227.65 L1469.5 1222.2 L1471.5 1216.89 L1473.5 1211.7 L1475.5 1206.65 L1477.5 1201.74 L1479.5 1196.98 L1481.5 1192.35 L1483.5 1187.88 L1485.5 1183.56 L1487.5 1179.4 L1489.5 1175.39 L1491.5 1171.55 L1493.5 1167.87 L1495.5 1164.36 L1497.5 1161.02 L1499.5 1157.86 L1501.5 1154.87 L1503.5 1152.07 L1505.5 1149.45 L1507.5 1147.02 L1509.5 1144.78 L1511.5 1142.74 L1513.5 1140.89 L1515.5 1139.25 L1517.5 1137.8 L1519.5 1136.57 L1521.5 1135.54 L1523.5 1134.73 L1525.5 1134.14 L1527.5 1133.76 L1529.5 1133.6 L1531.5 1133.67 L1533.5 1133.93 L1535.5 1134.39 L1537.5 1135.03 L1539.5 1135.84 L1541.5 1136.82 L1543.5 1137.94 L1545.5 1139.2 L1547.5 1140.59 L1549.5 1142.1 L1551.5 1143.72 L1553.5 1145.43 L1555.5 1147.24 L1557.5 1149.15 L1559.5 1151.16 L1561.5 1153.28 L1563.5 1155.51 L1565.5 1157.86 L1567.5 1160.31 L1569.5 1162.89 L1571.5 1165.58 L1573.5 1168.4 L1575.5 1171.35 L1577.5 1174.42 L1579.5 1177.63 L1581.5 1180.97 L1583.5 1184.45 L1585.5 1188.07 L1587.5 1191.83 L1589.5 1195.73 L1591.5 1199.76 L1593.5 1203.91 L1595.5 1208.18 L1597.5 1212.57 L1599.5 1217.06 L1601.5 1221.66 L1603.5 1226.35 L1605.5 1231.13 L1607.5 1236 L1609.5 1240.94 L1611.5 1245.95 L1613.5 1251.03 L1615.5 1256.18 L1617.5 1261.37 L1619.5 1266.62 L1621.5 1271.9 L1623.5 1277.23 L1625.5 1282.59 L1627.5 1287.97 L1629.5 1293.38 L1631.5 1298.8 L1633.5 1304.24 L1635.5 1309.68 L1637.5 1315.13 L1639.5 1320.57 L1641.5 1326 L1643.5 1331.42 L1645.5 1336.83 L1647.5 1342.2 L1649.5 1347.55 L1651.5 1352.87 L1653.5 1358.14 L1655.5 1363.37 L1657.5 1368.56 L1659.5 1373.7 L1661.5 1378.79 L1663.5 1383.82 L1665.5 1388.81 L1667.5 1393.73 L1669.5 1398.6 L1671.5 1403.41 L1673.5 1408.15 L1675.5 1412.83 L1677.5 1417.44 L1679.5 1421.98 L1681.5 1426.45 L1683.5 1430.85 L1685.5 1435.17 L1687.5 1439.41 L1689.5 1443.57 L1691.5 1447.65 L1693.5 1451.65 L1695.5 1455.56 L1697.5 1459.38 L1699.5 1463.11 L1701.5 1466.74 L1703.5 1470.28 L1705.5 1473.72 L1707.5 1477.07 L1709.5 1480.31" fill="none" stroke="#ed1c24" stroke-width="10" stroke-linejoin="round" stroke-linecap="butt"/><text transform="translate(1015.97 962.5) scale(0.991 1)" font-size="51.69" font-weight="bold" fill="#000" stroke="#fff" stroke-width="0.61">0.12</text><text transform="translate(1015.97 1071.3) scale(0.991 1)" font-size="51.69" font-weight="bold" fill="#000" stroke="#fff" stroke-width="0.61">0.10</text><text transform="translate(1015.98 1180.9) scale(0.986 1)" font-size="51.69" font-weight="bold" fill="#000" stroke="#fff" stroke-width="0.61">0.08</text><text transform="translate(1015.98 1297.8) scale(0.989 1)" font-size="51.69" font-weight="bold" fill="#000" stroke="#fff" stroke-width="0.61">0.06</text><text transform="translate(1016.01 1406.8) scale(0.973 1)" font-size="51.69" font-weight="bold" fill="#000" stroke="#fff" stroke-width="0.62">0.04</text><text transform="translate(1015.97 1514.7) scale(0.991 1)" font-size="51.69" font-weight="bold" fill="#000" stroke="#fff" stroke-width="0.61">0.02</text><text transform="translate(1015.97 1625.8) scale(0.991 1)" font-size="51.69" font-weight="bold" fill="#000" stroke="#fff" stroke-width="0.61">0.00</text><text transform="translate(1101.16 1672.29) scale(0.955 1)" font-size="52.68" font-weight="bold" fill="#000" stroke="#fff" stroke-width="0.63">600</text><text transform="translate(1289.73 1672.29) scale(0.955 1)" font-size="52.68" font-weight="bold" fill="#000" stroke="#fff" stroke-width="0.63">700</text><text transform="translate(1478.75 1672.29) scale(0.955 1)" font-size="52.68" font-weight="bold" fill="#000" stroke="#fff" stroke-width="0.63">800</text><text transform="translate(1667.41 1672.29) scale(0.955 1)" font-size="52.68" font-weight="bold" fill="#000" stroke="#fff" stroke-width="0.63">900</text><line x1="1154" y1="1015.6" x2="1248.2" y2="1015.6" stroke="#ed1c24" stroke-width="10" stroke-linecap="butt"/><line x1="1154" y1="1082.3" x2="1248.2" y2="1082.3" stroke="#0d0d0d" stroke-width="10" stroke-linecap="butt"/><text transform="translate(1257.28 1031.3) scale(1.006 1)" font-size="51.27" font-weight="bold" fill="#000" stroke="#fff" stroke-width="0.6">GNR+NaBH</text><text transform="translate(1543.26 1048.6) scale(0.969 1)" font-size="30.23" font-weight="bold" fill="#000" stroke="#fff" stroke-width="0.62">4</text><text transform="translate(1257.85 1098) scale(0.985 1)" font-size="51" font-weight="bold" fill="#000" stroke="#fff" stroke-width="0.61">5.81X10</text><text transform="translate(1446.43 1081.7) scale(0.883 1)" font-size="30.96" font-weight="bold" fill="#000" stroke="#fff" stroke-width="0.68">-11</text><text transform="translate(1489.07 1099.69) scale(1.006 1)" font-size="51" font-weight="bold" fill="#000" stroke="#fff" stroke-width="0.6">M Hg</text><text transform="translate(1606.07 1012.71)" font-size="70.81" font-weight="bold" fill="#000" stroke="#fff" stroke-width="0.6">(d)</text><text transform="translate(1193.44 1735.42) scale(1.020 1)" font-size="59.37" font-weight="bold" fill="#000" stroke="#fff" stroke-width="0.59">Wavelength (nm)</text><text transform="translate(992.22 1447.81) rotate(-90) scale(1.018 1)" font-size="59.64" font-weight="bold" fill="#000" stroke="#fff" stroke-width="0.59">Absorbance</text></svg></body></html>
